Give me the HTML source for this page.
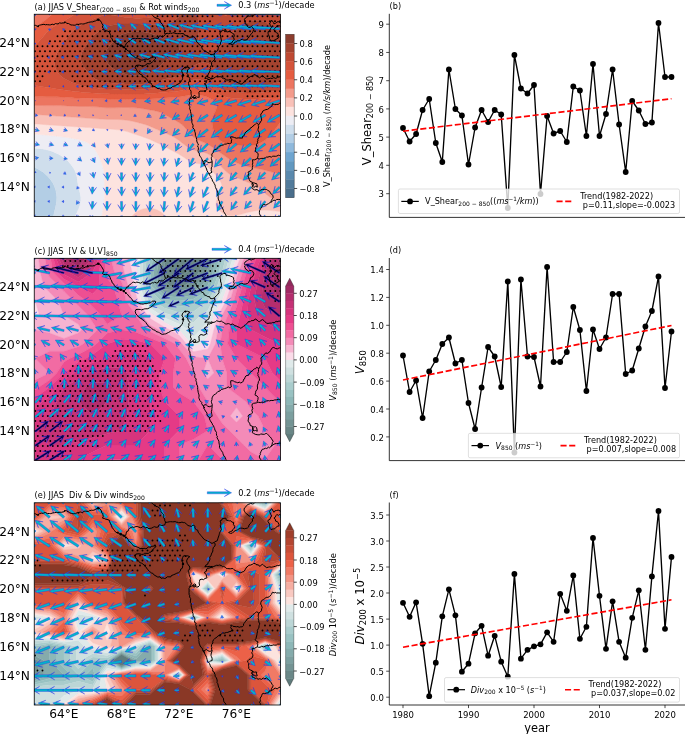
<!DOCTYPE html>
<html><head><meta charset="utf-8"><title>Figure</title>
<style>html,body{margin:0;padding:0;background:#fff}svg{display:block}</style></head>
<body>
<svg width="685" height="734" viewBox="0 0 685 734" font-family="'DejaVu Sans','Liberation Sans',sans-serif" fill="#000">
<rect width="685" height="734" fill="#fff"/>
<defs><clipPath id="clipa"><rect x="34.25" y="14.25" width="246.25" height="202.2"/></clipPath><clipPath id="clipc"><rect x="34.25" y="258.3" width="246.25" height="202.2"/></clipPath><clipPath id="clipe"><rect x="34.25" y="502.8" width="246.25" height="202.2"/></clipPath></defs>
<g clip-path="url(#clipa)">
<path d="M28.1 206.8L29.7 204.5L30.3 200.9L28.1 197.3L28.1 197.3L28.0 197.3L24.8 200.9L25.6 204.5Z" fill="#8fb9dc" stroke="#8fb9dc" stroke-width="0.4" fill-rule="evenodd"/>
<path d="M24.5 229.7L28.1 229.7L31.7 229.7L35.2 229.7L38.8 229.7L42.4 229.7L46.0 229.7L49.6 229.7L53.2 229.7L53.7 229.7L53.2 227.2L53.0 226.1L52.9 222.5L53.1 218.9L53.2 218.3L53.7 215.3L54.4 211.7L55.3 208.1L56.1 204.5L56.6 200.9L56.8 197.3L56.4 193.7L55.7 190.1L54.5 186.5L53.2 183.7L52.8 182.9L50.3 179.3L49.6 178.4L47.1 175.7L46.0 174.7L43.0 172.1L42.4 171.7L38.8 169.4L37.0 168.5L35.2 167.7L31.7 166.7L28.1 166.3L24.5 166.6L20.9 167.7L20.9 168.5L20.9 172.1L20.9 175.7L20.9 179.3L20.9 182.9L20.9 186.5L20.9 190.1L20.9 193.7L20.9 197.3L20.9 200.9L20.9 204.5L20.9 208.1L20.9 211.7L20.9 215.3L20.9 218.9L20.9 222.5L20.9 226.1L20.9 229.7ZM25.6 204.5L24.8 200.9L28.0 197.3L28.1 197.3L28.1 197.3L30.3 200.9L29.7 204.5L28.1 206.8Z" fill="#b3cee5" stroke="#b3cee5" stroke-width="0.4" fill-rule="evenodd"/>
<path d="M53.2 227.2L53.7 229.7L56.8 229.7L60.4 229.7L64.0 229.7L67.6 229.7L71.2 229.7L74.8 229.7L75.7 229.7L74.8 227.8L74.0 226.1L73.7 222.5L74.3 218.9L74.8 217.7L75.7 215.3L77.4 211.7L78.4 209.4L79.0 208.1L80.2 204.5L80.8 200.9L80.8 197.3L80.2 193.7L79.3 190.1L78.4 186.5L78.4 186.5L77.8 182.9L77.3 179.3L76.7 175.7L75.6 172.1L74.8 170.4L73.8 168.5L71.3 164.9L71.2 164.7L68.1 161.3L67.6 160.8L64.0 157.7L64.0 157.7L60.4 155.3L58.3 154.1L56.8 153.4L53.2 151.8L49.6 150.5L49.5 150.5L46.0 149.6L42.4 149.0L38.8 148.5L35.2 148.2L31.7 148.0L28.1 147.9L24.5 148.0L20.9 148.2L20.9 150.5L20.9 154.1L20.9 157.7L20.9 161.3L20.9 164.9L20.9 167.7L24.5 166.6L28.1 166.3L31.7 166.7L35.2 167.7L37.0 168.5L38.8 169.4L42.4 171.7L43.0 172.1L46.0 174.7L47.1 175.7L49.6 178.4L50.3 179.3L52.8 182.9L53.2 183.7L54.5 186.5L55.7 190.1L56.4 193.7L56.8 197.3L56.6 200.9L56.1 204.5L55.3 208.1L54.4 211.7L53.7 215.3L53.2 218.3L53.1 218.9L52.9 222.5L53.0 226.1Z" fill="#cfdeec" stroke="#cfdeec" stroke-width="0.4" fill-rule="evenodd"/>
<path d="M74.8 227.8L75.7 229.7L78.4 229.7L82.0 229.7L85.6 229.7L89.2 229.7L92.8 229.7L96.3 229.7L99.9 229.7L102.1 229.7L101.6 226.1L101.5 222.5L101.6 218.9L102.1 215.3L102.6 211.7L103.2 208.1L103.5 206.1L103.8 204.5L104.3 200.9L104.6 197.3L104.6 193.7L104.6 190.1L104.5 186.5L104.5 182.9L104.4 179.3L104.3 175.7L104.0 172.1L103.5 169.8L103.3 168.5L102.3 164.9L101.0 161.3L99.9 158.8L99.5 157.7L97.7 154.1L96.3 151.8L95.5 150.5L92.8 146.9L92.7 146.9L89.2 143.8L88.4 143.3L85.6 141.8L82.0 140.4L79.8 139.7L78.4 139.3L74.8 138.7L71.2 138.1L67.6 137.6L64.0 137.1L60.4 136.6L56.8 136.2L56.2 136.1L53.2 135.7L49.6 135.4L46.0 135.1L42.4 134.8L38.8 134.5L35.2 134.3L31.7 134.2L28.1 134.2L24.5 134.2L20.9 134.3L20.9 136.1L20.9 139.7L20.9 143.3L20.9 146.9L20.9 148.2L24.5 148.0L28.1 147.9L31.7 148.0L35.2 148.2L38.8 148.5L42.4 149.0L46.0 149.6L49.5 150.5L49.6 150.5L53.2 151.8L56.8 153.4L58.3 154.1L60.4 155.3L64.0 157.7L64.0 157.7L67.6 160.8L68.1 161.3L71.2 164.7L71.3 164.9L73.8 168.5L74.8 170.4L75.6 172.1L76.7 175.7L77.3 179.3L77.8 182.9L78.4 186.5L78.4 186.5L79.3 190.1L80.2 193.7L80.8 197.3L80.8 200.9L80.2 204.5L79.0 208.1L78.4 209.4L77.4 211.7L75.7 215.3L74.8 217.7L74.3 218.9L73.7 222.5L74.0 226.1Z" fill="#ededf4" stroke="#ededf4" stroke-width="0.4" fill-rule="evenodd"/>
<path d="M103.5 229.7L107.1 229.7L110.7 229.7L114.3 229.7L117.9 229.7L121.5 229.7L125.1 229.7L128.7 229.7L132.3 229.7L132.8 229.7L132.3 229.0L130.3 226.1L129.8 222.5L130.7 218.9L132.3 216.1L132.8 215.3L135.9 212.4L137.0 211.7L139.5 210.3L143.1 209.0L146.7 208.3L150.2 208.2L153.8 208.8L157.4 210.1L160.4 211.7L161.0 212.1L164.6 215.3L164.6 215.3L166.8 218.9L167.7 222.5L167.2 226.1L164.6 229.7L168.2 229.7L171.8 229.7L175.4 229.7L179.0 229.7L182.6 229.7L186.2 229.7L189.8 229.7L193.4 229.7L197.0 229.7L200.6 229.7L204.2 229.7L207.8 229.7L211.3 229.7L214.9 229.7L218.5 229.7L222.1 229.7L225.7 229.7L228.4 229.7L229.3 229.5L232.9 229.3L236.5 229.7L236.5 229.7L240.1 229.7L243.7 229.7L247.3 229.7L250.9 229.7L254.5 229.7L258.1 229.7L261.7 229.7L265.2 229.7L268.8 229.7L272.4 229.7L276.0 229.7L279.6 229.7L283.2 229.7L286.8 229.7L290.4 229.7L294.0 229.7L294.0 226.1L294.0 222.5L294.0 218.9L294.0 215.3L294.0 211.7L294.0 211.4L291.2 211.7L290.4 211.8L286.8 211.8L283.2 211.7L283.2 211.7L279.6 211.4L276.0 211.0L272.4 210.6L268.8 210.3L265.2 210.1L261.7 210.2L258.1 210.4L254.5 211.0L250.9 211.7L250.9 211.7L247.3 212.6L243.7 213.6L240.1 214.6L236.5 215.3L236.5 215.3L232.9 215.7L229.3 215.5L228.4 215.3L225.7 214.6L222.1 212.7L220.8 211.7L218.5 209.5L217.3 208.1L215.9 204.5L216.4 200.9L218.2 197.3L218.5 196.8L220.3 193.7L221.7 190.1L222.1 186.5L222.1 186.5L222.1 186.5L221.2 182.9L219.2 179.3L218.5 178.4L216.4 175.7L214.9 174.0L213.1 172.1L211.3 170.1L209.5 168.5L207.8 166.7L204.5 164.9L204.2 164.7L200.6 163.9L197.0 163.5L193.4 162.8L190.3 161.3L189.8 161.1L186.2 158.9L184.6 157.7L182.6 156.5L179.0 154.2L178.9 154.1L175.4 152.3L172.0 150.5L171.8 150.4L168.2 148.6L165.1 146.9L164.6 146.6L161.0 144.8L158.2 143.3L157.4 142.9L153.8 141.3L150.4 139.7L150.2 139.6L146.7 138.3L143.1 136.9L140.7 136.1L139.5 135.7L135.9 134.5L132.3 133.3L130.0 132.5L128.7 132.1L125.1 131.1L121.5 130.3L117.9 129.8L114.3 129.4L110.7 129.1L107.1 128.9L107.1 128.9L103.5 128.7L99.9 128.4L96.3 128.1L92.8 127.9L89.2 127.6L85.6 127.4L82.0 127.1L78.4 126.9L74.8 126.7L71.2 126.4L67.6 126.2L64.0 125.9L60.4 125.7L56.8 125.4L54.3 125.3L53.2 125.2L49.6 124.9L46.0 124.7L42.4 124.4L38.8 124.1L35.2 123.9L31.7 123.7L28.1 123.7L24.5 123.7L20.9 123.9L20.9 125.3L20.9 128.9L20.9 132.5L20.9 134.3L24.5 134.2L28.1 134.2L31.7 134.2L35.2 134.3L38.8 134.5L42.4 134.8L46.0 135.1L49.6 135.4L53.2 135.7L56.2 136.1L56.8 136.2L60.4 136.6L64.0 137.1L67.6 137.6L71.2 138.1L74.8 138.7L78.4 139.3L79.8 139.7L82.0 140.4L85.6 141.8L88.4 143.3L89.2 143.8L92.7 146.9L92.8 146.9L95.5 150.5L96.3 151.8L97.7 154.1L99.5 157.7L99.9 158.8L101.0 161.3L102.3 164.9L103.3 168.5L103.5 169.8L104.0 172.1L104.3 175.7L104.4 179.3L104.5 182.9L104.5 186.5L104.6 190.1L104.6 193.7L104.6 197.3L104.3 200.9L103.8 204.5L103.5 206.1L103.2 208.1L102.6 211.7L102.1 215.3L101.6 218.9L101.5 222.5L101.6 226.1L102.1 229.7Z" fill="#fde3df" stroke="#fde3df" stroke-width="0.4" fill-rule="evenodd"/>
<path d="M132.3 229.0L132.8 229.7L135.9 229.7L139.5 229.7L143.1 229.7L146.7 229.7L150.2 229.7L153.8 229.7L157.4 229.7L161.0 229.7L164.6 229.7L164.6 229.7L167.2 226.1L167.7 222.5L166.8 218.9L164.6 215.3L164.6 215.3L161.0 212.1L160.4 211.7L157.4 210.1L153.8 208.8L150.2 208.2L146.7 208.3L143.1 209.0L139.5 210.3L137.0 211.7L135.9 212.4L132.8 215.3L132.3 216.1L130.7 218.9L129.8 222.5L130.3 226.1ZM229.3 229.7L232.9 229.7L236.5 229.7L236.5 229.7L236.5 229.7L232.9 229.3L229.3 229.5L228.4 229.7ZM229.3 215.5L232.9 215.7L236.5 215.3L236.5 215.3L240.1 214.6L243.7 213.6L247.3 212.6L250.9 211.7L250.9 211.7L254.5 211.0L258.1 210.4L261.7 210.2L265.2 210.1L268.8 210.3L272.4 210.6L276.0 211.0L279.6 211.4L283.2 211.7L283.2 211.7L286.8 211.8L290.4 211.8L291.2 211.7L294.0 211.4L294.0 208.1L294.0 204.5L294.0 200.9L290.4 201.5L286.8 201.6L283.2 201.4L279.6 200.9L279.6 200.9L276.0 199.6L272.4 198.2L270.0 197.3L268.8 196.3L265.5 193.7L265.2 193.3L262.7 190.1L261.7 189.4L258.1 186.7L257.8 186.5L254.5 185.2L250.9 183.5L249.8 182.9L247.3 182.0L243.7 180.6L240.7 179.3L240.1 179.1L236.5 177.7L232.9 176.0L232.4 175.7L229.3 173.9L226.9 172.1L225.7 171.1L223.1 168.5L222.1 167.5L219.9 164.9L218.5 163.3L216.9 161.3L214.9 159.1L213.5 157.7L211.3 155.9L208.4 154.1L207.8 153.7L204.2 152.4L200.6 151.6L197.0 150.9L195.6 150.5L193.4 149.8L189.8 148.2L187.6 146.9L186.2 146.0L182.6 143.3L182.5 143.3L179.0 140.4L177.9 139.7L175.4 137.9L172.1 136.1L171.8 135.9L168.2 134.3L164.6 132.8L163.8 132.5L161.0 131.3L157.4 129.6L155.9 128.9L153.8 127.9L150.2 126.4L147.3 125.3L146.7 125.0L143.1 123.9L139.5 122.9L135.9 122.0L134.5 121.7L132.3 121.2L128.7 120.5L125.1 120.0L121.5 119.7L117.9 119.5L114.3 119.5L110.7 119.4L107.1 119.4L103.5 119.2L99.9 119.0L96.3 118.8L92.8 118.5L89.2 118.3L86.2 118.1L85.6 118.0L82.0 117.8L78.4 117.5L74.8 117.2L71.2 117.0L67.6 116.7L64.0 116.5L60.4 116.2L56.8 116.0L53.2 115.7L49.6 115.4L46.0 115.2L42.4 114.9L38.8 114.7L35.2 114.5L35.2 114.5L31.7 114.3L28.1 114.3L24.5 114.3L20.9 114.5L20.9 114.5L20.9 118.1L20.9 121.7L20.9 123.9L24.5 123.7L28.1 123.7L31.7 123.7L35.2 123.9L38.8 124.1L42.4 124.4L46.0 124.7L49.6 124.9L53.2 125.2L54.3 125.3L56.8 125.4L60.4 125.7L64.0 125.9L67.6 126.2L71.2 126.4L74.8 126.7L78.4 126.9L82.0 127.1L85.6 127.4L89.2 127.6L92.8 127.9L96.3 128.1L99.9 128.4L103.5 128.7L107.1 128.9L107.1 128.9L110.7 129.1L114.3 129.4L117.9 129.8L121.5 130.3L125.1 131.1L128.7 132.1L130.0 132.5L132.3 133.3L135.9 134.5L139.5 135.7L140.7 136.1L143.1 136.9L146.7 138.3L150.2 139.6L150.4 139.7L153.8 141.3L157.4 142.9L158.2 143.3L161.0 144.8L164.6 146.6L165.1 146.9L168.2 148.6L171.8 150.4L172.0 150.5L175.4 152.3L178.9 154.1L179.0 154.2L182.6 156.5L184.6 157.7L186.2 158.9L189.8 161.1L190.3 161.3L193.4 162.8L197.0 163.5L200.6 163.9L204.2 164.7L204.5 164.9L207.8 166.7L209.5 168.5L211.3 170.1L213.1 172.1L214.9 174.0L216.4 175.7L218.5 178.4L219.2 179.3L221.2 182.9L222.1 186.5L222.1 186.5L222.1 186.5L221.7 190.1L220.3 193.7L218.5 196.8L218.2 197.3L216.4 200.9L215.9 204.5L217.3 208.1L218.5 209.5L220.8 211.7L222.1 212.7L225.7 214.6L228.4 215.3Z" fill="#f9c1b8" stroke="#f9c1b8" stroke-width="0.4" fill-rule="evenodd"/>
<path d="M279.6 200.9L283.2 201.4L286.8 201.6L290.4 201.5L294.0 200.9L294.0 200.9L294.0 197.3L294.0 193.7L294.0 190.1L294.0 186.5L294.0 182.9L294.0 179.3L294.0 175.7L294.0 173.8L290.4 174.4L286.8 174.5L283.2 174.3L279.6 173.8L276.0 173.1L272.4 172.2L271.9 172.1L268.8 171.2L265.2 170.2L261.7 169.4L258.1 168.7L257.1 168.5L254.5 168.0L250.9 167.2L247.3 166.5L243.7 165.5L241.6 164.9L240.1 164.3L236.5 162.8L233.4 161.3L232.9 161.0L229.3 158.9L227.4 157.7L225.7 156.6L222.1 154.1L222.1 154.1L218.5 151.4L217.3 150.5L214.9 148.8L212.0 146.9L211.3 146.4L207.8 144.3L205.3 143.3L204.2 142.6L200.6 141.1L197.3 139.7L197.0 139.5L193.4 137.1L192.2 136.1L189.8 133.6L188.8 132.5L186.2 129.1L186.0 128.9L182.8 125.3L182.6 125.1L179.0 122.4L177.6 121.7L175.4 120.4L171.8 118.6L170.6 118.1L168.2 116.5L164.6 114.5L164.6 114.5L161.0 112.6L157.4 111.4L155.2 110.9L153.8 110.6L150.2 110.0L146.7 109.4L143.1 108.8L139.5 108.2L135.9 107.8L132.3 107.6L128.7 107.5L125.1 107.5L121.5 107.5L117.9 107.6L114.3 107.7L110.7 107.8L107.1 107.7L103.5 107.5L101.8 107.3L99.9 107.1L96.3 106.8L92.8 106.6L89.2 106.5L85.6 106.5L82.0 106.5L78.4 106.5L74.8 106.3L71.2 106.1L67.6 105.9L64.0 105.7L60.4 105.6L56.8 105.6L53.2 105.6L49.6 105.6L46.0 105.6L42.4 105.5L38.8 105.5L35.2 105.4L31.7 105.4L28.1 105.4L24.5 105.4L20.9 105.4L20.9 107.3L20.9 110.9L20.9 114.5L24.5 114.3L28.1 114.3L31.7 114.3L35.2 114.5L35.2 114.5L38.8 114.7L42.4 114.9L46.0 115.2L49.6 115.4L53.2 115.7L56.8 116.0L60.4 116.2L64.0 116.5L67.6 116.7L71.2 117.0L74.8 117.2L78.4 117.5L82.0 117.8L85.6 118.0L86.2 118.1L89.2 118.3L92.8 118.5L96.3 118.8L99.9 119.0L103.5 119.2L107.1 119.4L110.7 119.4L114.3 119.5L117.9 119.5L121.5 119.7L125.1 120.0L128.7 120.5L132.3 121.2L134.5 121.7L135.9 122.0L139.5 122.9L143.1 123.9L146.7 125.0L147.3 125.3L150.2 126.4L153.8 127.9L155.9 128.9L157.4 129.6L161.0 131.3L163.8 132.5L164.6 132.8L168.2 134.3L171.8 135.9L172.1 136.1L175.4 137.9L177.9 139.7L179.0 140.4L182.5 143.3L182.6 143.3L186.2 146.0L187.6 146.9L189.8 148.2L193.4 149.8L195.6 150.5L197.0 150.9L200.6 151.6L204.2 152.4L207.8 153.7L208.4 154.1L211.3 155.9L213.5 157.7L214.9 159.1L216.9 161.3L218.5 163.3L219.9 164.9L222.1 167.5L223.1 168.5L225.7 171.1L226.9 172.1L229.3 173.9L232.4 175.7L232.9 176.0L236.5 177.7L240.1 179.1L240.7 179.3L243.7 180.6L247.3 182.0L249.8 182.9L250.9 183.5L254.5 185.2L257.8 186.5L258.1 186.7L261.7 189.4L262.7 190.1L265.2 193.3L265.5 193.7L268.8 196.3L270.0 197.3L272.4 198.2L276.0 199.6L279.6 200.9ZM24.5 18.2L28.1 18.6L31.7 17.9L33.1 17.3L35.2 16.1L38.5 13.7L38.8 13.3L41.3 10.1L42.4 6.7L42.5 6.5L42.4 6.1L41.8 2.9L38.8 -0.4L38.5 -0.7L35.2 -0.7L31.7 -0.7L28.1 -0.7L24.5 -0.7L20.9 -0.7L20.9 2.9L20.9 6.5L20.9 10.1L20.9 13.7L20.9 16.1L22.7 17.3Z" fill="#f39b8b" stroke="#f39b8b" stroke-width="0.4" fill-rule="evenodd"/>
<path d="M272.4 172.2L276.0 173.1L279.6 173.8L283.2 174.3L286.8 174.5L290.4 174.4L294.0 173.8L294.0 172.1L294.0 168.5L294.0 164.9L294.0 161.3L294.0 157.7L294.0 154.1L294.0 150.5L294.0 146.9L294.0 143.3L294.0 139.7L294.0 136.1L294.0 132.5L294.0 128.9L294.0 125.3L294.0 122.9L293.0 121.7L290.4 118.1L290.4 118.1L286.8 117.0L284.5 118.1L283.2 118.7L280.7 121.7L279.6 122.9L278.2 125.3L276.0 128.1L275.5 128.9L272.7 132.5L272.4 132.7L269.5 136.1L268.8 136.7L265.6 139.7L265.2 139.9L261.7 142.3L259.7 143.3L258.1 144.0L254.5 145.2L250.9 145.8L247.3 145.9L243.7 145.7L240.1 145.4L236.5 145.1L232.9 144.8L229.3 144.3L225.7 143.4L225.4 143.3L222.1 141.7L219.4 139.7L218.5 138.8L216.3 136.1L214.9 133.5L214.4 132.5L213.2 128.9L212.5 125.3L212.1 121.7L212.5 118.1L213.6 114.5L214.9 112.0L215.5 110.9L216.9 107.3L216.4 103.7L214.9 102.1L213.1 100.1L211.3 99.1L207.8 97.3L205.8 96.5L204.2 96.0L200.6 95.2L197.0 94.7L193.4 94.7L189.8 95.0L186.2 95.7L182.6 96.3L181.5 96.5L179.0 96.9L175.4 97.4L171.8 97.6L168.2 97.8L164.6 98.0L161.0 98.3L157.4 98.5L153.8 98.7L150.2 98.9L146.7 99.0L143.1 99.0L139.5 99.0L135.9 99.0L132.3 99.0L128.7 99.0L125.1 99.0L121.5 99.0L117.9 99.0L114.3 99.0L110.7 99.0L107.1 99.0L103.5 98.8L99.9 98.6L96.3 98.4L92.8 98.3L89.2 98.2L85.6 98.2L82.0 98.2L78.4 98.1L74.8 97.9L71.2 97.6L67.6 97.3L64.0 97.1L60.4 96.9L56.8 96.8L53.2 96.7L49.6 96.7L46.0 96.7L42.4 96.6L38.8 96.6L35.2 96.5L32.1 96.5L31.7 96.5L28.1 96.5L24.5 96.5L23.5 96.5L20.9 96.5L20.9 100.1L20.9 103.7L20.9 105.4L24.5 105.4L28.1 105.4L31.7 105.4L35.2 105.4L38.8 105.5L42.4 105.5L46.0 105.6L49.6 105.6L53.2 105.6L56.8 105.6L60.4 105.6L64.0 105.7L67.6 105.9L71.2 106.1L74.8 106.3L78.4 106.5L82.0 106.5L85.6 106.5L89.2 106.5L92.8 106.6L96.3 106.8L99.9 107.1L101.8 107.3L103.5 107.5L107.1 107.7L110.7 107.8L114.3 107.7L117.9 107.6L121.5 107.5L125.1 107.5L128.7 107.5L132.3 107.6L135.9 107.8L139.5 108.2L143.1 108.8L146.7 109.4L150.2 110.0L153.8 110.6L155.2 110.9L157.4 111.4L161.0 112.6L164.6 114.5L164.6 114.5L168.2 116.5L170.6 118.1L171.8 118.6L175.4 120.4L177.6 121.7L179.0 122.4L182.6 125.1L182.8 125.3L186.0 128.9L186.2 129.1L188.8 132.5L189.8 133.6L192.2 136.1L193.4 137.1L197.0 139.5L197.3 139.7L200.6 141.1L204.2 142.6L205.3 143.3L207.8 144.3L211.3 146.4L212.0 146.9L214.9 148.8L217.3 150.5L218.5 151.4L222.1 154.1L222.1 154.1L225.7 156.6L227.4 157.7L229.3 158.9L232.9 161.0L233.4 161.3L236.5 162.8L240.1 164.3L241.6 164.9L243.7 165.5L247.3 166.5L250.9 167.2L254.5 168.0L257.1 168.5L258.1 168.7L261.7 169.4L265.2 170.2L268.8 171.2L271.9 172.1ZM24.5 28.7L28.1 29.2L31.7 28.4L32.4 28.1L35.2 27.0L38.8 24.8L39.3 24.5L42.4 22.3L44.3 20.9L46.0 19.5L48.8 17.3L49.6 16.5L53.0 13.7L53.2 13.4L56.5 10.1L56.8 9.4L58.3 6.5L57.2 2.9L56.8 2.6L53.2 -0.5L53.0 -0.7L49.6 -0.7L46.0 -0.7L42.4 -0.7L38.8 -0.7L38.5 -0.7L38.8 -0.4L41.8 2.9L42.4 6.1L42.5 6.5L42.4 6.7L41.3 10.1L38.8 13.3L38.5 13.7L35.2 16.1L33.1 17.3L31.7 17.9L28.1 18.6L24.5 18.2L22.7 17.3L20.9 16.1L20.9 17.3L20.9 20.9L20.9 24.5L20.9 27.0L23.3 28.1Z" fill="#ec7560" stroke="#ec7560" stroke-width="0.4" fill-rule="evenodd"/>
<path d="M225.7 143.4L229.3 144.3L232.9 144.8L236.5 145.1L240.1 145.4L243.7 145.7L247.3 145.9L250.9 145.8L254.5 145.2L258.1 144.0L259.7 143.3L261.7 142.3L265.2 139.9L265.6 139.7L268.8 136.7L269.5 136.1L272.4 132.7L272.7 132.5L275.5 128.9L276.0 128.1L278.2 125.3L279.6 122.9L280.7 121.7L283.2 118.7L284.5 118.1L286.8 117.0L290.4 118.1L290.4 118.1L293.0 121.7L294.0 122.9L294.0 121.7L294.0 118.1L294.0 114.5L294.0 110.9L294.0 107.3L294.0 103.7L294.0 100.1L294.0 97.7L290.4 97.6L286.8 97.6L283.2 97.6L279.6 97.7L276.0 97.9L272.4 98.1L268.8 98.3L265.2 98.6L261.7 98.8L258.1 99.1L254.5 99.3L250.9 99.3L247.3 99.3L243.7 99.1L240.1 98.8L236.5 98.5L232.9 98.2L229.3 97.7L225.7 96.9L224.5 96.5L222.1 95.9L218.5 94.6L214.9 93.2L214.2 92.9L211.3 91.8L207.8 90.4L204.2 89.3L204.1 89.3L200.6 88.3L197.0 87.7L193.4 87.7L189.8 88.3L186.2 89.3L186.1 89.3L182.6 90.2L179.0 90.9L175.4 91.4L171.8 91.8L168.2 92.0L164.6 92.2L161.0 92.6L157.9 92.9L157.4 92.9L153.8 93.3L150.2 93.6L146.7 93.8L143.1 93.9L139.5 94.0L135.9 94.0L132.3 94.0L128.7 94.0L125.1 93.9L121.5 93.9L117.9 93.9L114.3 93.9L110.7 93.9L107.1 93.8L103.5 93.7L99.9 93.4L96.3 93.2L92.8 92.9L91.6 92.9L89.2 92.7L85.6 92.5L82.0 92.2L78.4 91.8L74.8 91.4L71.2 90.9L67.6 90.4L64.0 89.9L60.4 89.4L59.4 89.3L56.8 88.9L53.2 88.3L49.6 87.8L46.0 87.2L42.4 86.7L38.8 86.1L35.2 85.7L35.2 85.7L31.7 85.2L28.1 85.0L24.5 85.2L20.9 85.7L20.9 85.7L20.9 89.3L20.9 92.9L20.9 96.5L20.9 96.5L23.5 96.5L24.5 96.5L28.1 96.5L31.7 96.5L32.1 96.5L35.2 96.5L38.8 96.6L42.4 96.6L46.0 96.7L49.6 96.7L53.2 96.7L56.8 96.8L60.4 96.9L64.0 97.1L67.6 97.3L71.2 97.6L74.8 97.9L78.4 98.1L82.0 98.2L85.6 98.2L89.2 98.2L92.8 98.3L96.3 98.4L99.9 98.6L103.5 98.8L107.1 99.0L110.7 99.0L114.3 99.0L117.9 99.0L121.5 99.0L125.1 99.0L128.7 99.0L132.3 99.0L135.9 99.0L139.5 99.0L143.1 99.0L146.7 99.0L150.2 98.9L153.8 98.7L157.4 98.5L161.0 98.3L164.6 98.0L168.2 97.8L171.8 97.6L175.4 97.4L179.0 96.9L181.5 96.5L182.6 96.3L186.2 95.7L189.8 95.0L193.4 94.7L197.0 94.7L200.6 95.2L204.2 96.0L205.8 96.5L207.8 97.3L211.3 99.1L213.1 100.1L214.9 102.1L216.4 103.7L216.9 107.3L215.5 110.9L214.9 112.0L213.6 114.5L212.5 118.1L212.1 121.7L212.5 125.3L213.2 128.9L214.4 132.5L214.9 133.5L216.3 136.1L218.5 138.8L219.4 139.7L222.1 141.7L225.4 143.3ZM24.5 48.4L28.1 49.1L31.7 48.0L34.2 46.1L35.2 45.3L38.0 42.5L38.8 41.6L41.1 38.9L42.4 37.4L44.2 35.3L46.0 33.3L47.5 31.7L49.6 29.8L51.7 28.1L53.2 27.0L56.8 24.8L57.3 24.5L60.4 22.8L64.0 20.9L64.0 20.9L67.6 18.8L70.2 17.3L71.2 16.6L74.8 14.3L75.9 13.7L78.4 11.6L80.3 10.1L82.0 7.2L82.4 6.5L82.0 5.3L81.1 2.9L78.4 1.0L75.9 -0.7L74.8 -0.7L71.2 -0.7L67.6 -0.7L64.0 -0.7L60.4 -0.7L56.8 -0.7L53.2 -0.7L53.0 -0.7L53.2 -0.5L56.8 2.6L57.2 2.9L58.3 6.5L56.8 9.4L56.5 10.1L53.2 13.4L53.0 13.7L49.6 16.5L48.8 17.3L46.0 19.5L44.3 20.9L42.4 22.3L39.3 24.5L38.8 24.8L35.2 27.0L32.4 28.1L31.7 28.4L28.1 29.2L24.5 28.7L23.3 28.1L20.9 27.0L20.9 28.1L20.9 31.7L20.9 35.3L20.9 38.9L20.9 42.5L20.9 45.3L21.8 46.1ZM132.3 10.6L135.9 11.0L139.5 10.9L143.1 10.5L144.9 10.1L146.7 9.1L149.9 6.5L147.3 2.9L146.7 2.7L143.1 2.0L139.5 1.6L135.9 1.6L132.3 1.9L128.7 2.5L127.1 2.9L125.1 5.2L124.2 6.5L125.1 7.2L128.7 9.6L129.6 10.1Z" fill="#e55c40" stroke="#e55c40" stroke-width="0.4" fill-rule="evenodd"/>
<path d="M225.7 96.9L229.3 97.7L232.9 98.2L236.5 98.5L240.1 98.8L243.7 99.1L247.3 99.3L250.9 99.3L254.5 99.3L258.1 99.1L261.7 98.8L265.2 98.6L268.8 98.3L272.4 98.1L276.0 97.9L279.6 97.7L283.2 97.6L286.8 97.6L290.4 97.6L294.0 97.7L294.0 96.5L294.0 92.9L294.0 90.9L290.4 90.7L286.8 90.6L283.2 90.7L279.6 90.9L276.0 91.1L272.4 91.4L268.8 91.8L265.2 92.1L261.7 92.4L258.1 92.7L254.6 92.9L254.5 92.9L250.9 93.0L247.3 92.9L247.2 92.9L243.7 92.7L240.1 92.4L236.5 92.0L232.9 91.6L229.3 91.1L225.7 90.3L222.1 89.4L221.9 89.3L218.5 88.0L214.9 86.5L213.0 85.7L211.3 84.7L207.8 82.9L205.9 82.1L204.2 81.1L200.6 79.8L197.0 79.4L193.4 79.7L189.8 80.8L186.8 82.1L186.2 82.3L182.6 83.7L179.0 84.9L175.7 85.7L175.4 85.7L171.8 86.2L168.2 86.5L164.6 86.8L161.0 87.3L157.4 87.8L153.8 88.3L150.2 88.8L146.7 89.1L144.9 89.3L143.1 89.4L139.5 89.5L135.9 89.6L132.3 89.6L128.7 89.5L125.1 89.4L121.5 89.3L119.9 89.3L117.9 89.2L114.3 89.2L110.7 89.1L107.1 89.0L103.5 88.8L99.9 88.4L96.3 88.0L92.8 87.5L89.2 87.0L85.6 86.4L82.0 85.7L81.8 85.7L78.4 84.6L74.8 83.5L71.2 82.2L70.8 82.1L67.6 80.3L64.1 78.5L64.0 78.4L60.4 75.4L59.8 74.9L56.9 71.3L56.8 71.0L55.2 67.7L54.5 64.1L54.6 60.5L55.4 56.9L56.8 53.4L56.9 53.3L58.9 49.7L60.4 47.5L61.4 46.1L64.0 42.5L64.0 42.5L66.3 38.9L67.6 37.1L68.8 35.3L71.2 32.4L71.8 31.7L74.8 29.0L75.9 28.1L78.4 26.5L82.0 24.5L82.0 24.5L85.6 22.8L89.2 21.2L89.9 20.9L92.8 19.6L96.3 18.1L98.4 17.3L99.9 16.6L103.5 15.5L107.1 15.0L110.7 15.1L114.3 15.6L117.9 16.3L121.5 16.8L124.5 17.3L125.1 17.4L128.7 17.7L132.3 18.0L135.9 18.2L139.5 18.2L143.1 18.1L146.7 17.9L150.3 17.5L152.3 17.3L153.8 17.0L157.4 16.2L161.0 14.7L162.7 13.7L164.6 11.7L165.8 10.1L166.8 6.5L166.2 2.9L164.6 1.0L162.7 -0.7L161.0 -0.7L157.4 -0.7L153.8 -0.7L150.2 -0.7L146.7 -0.7L143.1 -0.7L139.5 -0.7L135.9 -0.7L132.3 -0.7L128.7 -0.7L125.1 -0.7L121.5 -0.7L117.9 -0.7L114.3 -0.7L110.7 -0.7L107.1 -0.7L103.5 -0.7L99.9 -0.7L96.3 -0.7L92.8 -0.7L89.2 -0.7L85.6 -0.7L82.0 -0.7L78.4 -0.7L75.9 -0.7L78.4 1.0L81.1 2.9L82.0 5.3L82.4 6.5L82.0 7.2L80.3 10.1L78.4 11.6L75.9 13.7L74.8 14.3L71.2 16.6L70.2 17.3L67.6 18.8L64.0 20.9L64.0 20.9L60.4 22.8L57.3 24.5L56.8 24.8L53.2 27.0L51.7 28.1L49.6 29.8L47.5 31.7L46.0 33.3L44.2 35.3L42.4 37.4L41.1 38.9L38.8 41.6L38.0 42.5L35.2 45.3L34.2 46.1L31.7 48.0L28.1 49.1L24.5 48.4L21.8 46.1L20.9 45.3L20.9 46.1L20.9 49.7L20.9 53.3L20.9 56.9L20.9 60.5L20.9 64.1L20.9 67.7L20.9 71.3L20.9 74.9L20.9 78.5L20.9 82.1L20.9 85.7L20.9 85.7L20.9 85.7L24.5 85.2L28.1 85.0L31.7 85.2L35.2 85.7L35.2 85.7L38.8 86.1L42.4 86.7L46.0 87.2L49.6 87.8L53.2 88.3L56.8 88.9L59.4 89.3L60.4 89.4L64.0 89.9L67.6 90.4L71.2 90.9L74.8 91.4L78.4 91.8L82.0 92.2L85.6 92.5L89.2 92.7L91.6 92.9L92.8 92.9L96.3 93.2L99.9 93.4L103.5 93.7L107.1 93.8L110.7 93.9L114.3 93.9L117.9 93.9L121.5 93.9L125.1 93.9L128.7 94.0L132.3 94.0L135.9 94.0L139.5 94.0L143.1 93.9L146.7 93.8L150.2 93.6L153.8 93.3L157.4 92.9L157.9 92.9L161.0 92.6L164.6 92.2L168.2 92.0L171.8 91.8L175.4 91.4L179.0 90.9L182.6 90.2L186.1 89.3L186.2 89.3L189.8 88.3L193.4 87.7L197.0 87.7L200.6 88.3L204.1 89.3L204.2 89.3L207.8 90.4L211.3 91.8L214.2 92.9L214.9 93.2L218.5 94.6L222.1 95.9L224.5 96.5ZM129.6 10.1L128.7 9.6L125.1 7.2L124.2 6.5L125.1 5.2L127.1 2.9L128.7 2.5L132.3 1.9L135.9 1.6L139.5 1.6L143.1 2.0L146.7 2.7L147.3 2.9L149.9 6.5L146.7 9.1L144.9 10.1L143.1 10.5L139.5 10.9L135.9 11.0L132.3 10.6ZM222.1 13.7L225.7 15.7L229.3 14.1L229.8 13.7L232.9 10.6L233.3 10.1L234.6 6.5L233.7 2.9L232.9 2.0L229.8 -0.7L229.3 -0.7L225.7 -0.7L222.1 -0.7L222.1 -0.7L221.7 2.9L221.5 6.5L221.6 10.1L222.1 13.7Z" fill="#d4533a" stroke="#d4533a" stroke-width="0.4" fill-rule="evenodd"/>
<path d="M247.3 92.9L250.9 93.0L254.5 92.9L254.6 92.9L258.1 92.7L261.7 92.4L265.2 92.1L268.8 91.8L272.4 91.4L276.0 91.1L279.6 90.9L283.2 90.7L286.8 90.6L290.4 90.7L294.0 90.9L294.0 89.3L294.0 85.7L294.0 82.2L293.5 82.1L290.4 81.0L286.8 80.7L283.2 81.2L280.2 82.1L279.6 82.2L276.0 83.0L272.4 83.9L268.8 84.8L265.3 85.7L265.2 85.7L261.7 86.2L258.1 86.6L254.5 86.9L250.9 87.0L247.3 86.9L243.7 86.6L240.1 86.2L236.5 85.7L236.5 85.7L232.9 84.7L229.3 83.5L225.9 82.1L225.7 81.9L222.1 79.0L221.5 78.5L219.0 74.9L218.5 73.9L217.0 71.3L214.9 68.3L214.3 67.7L211.3 65.1L209.1 64.1L207.8 63.3L204.2 62.5L200.6 62.9L197.4 64.1L197.0 64.2L193.4 66.0L191.1 67.7L189.8 68.5L186.2 71.1L186.0 71.3L182.6 73.6L180.5 74.9L179.0 75.6L175.4 77.0L171.8 77.9L169.1 78.5L168.2 78.6L164.6 79.3L161.0 80.2L157.4 81.3L154.9 82.1L153.8 82.3L150.2 83.0L146.7 83.6L143.1 84.0L139.5 84.3L135.9 84.4L132.3 84.3L128.7 84.1L125.1 83.9L121.5 83.6L117.9 83.4L114.3 83.2L110.7 82.9L107.1 82.5L104.0 82.1L103.5 82.0L99.9 80.8L96.3 79.4L94.3 78.5L92.8 77.3L89.9 74.9L89.2 74.0L87.0 71.3L85.6 69.4L84.4 67.7L82.2 64.1L82.0 63.4L81.0 60.5L80.7 56.9L81.6 53.3L82.0 52.4L83.2 49.7L85.4 46.1L85.6 45.9L87.9 42.5L89.2 40.8L90.7 38.9L92.8 36.6L94.0 35.3L96.3 33.3L98.3 31.7L99.9 30.6L103.5 28.5L104.2 28.1L107.1 26.8L110.7 25.6L114.3 24.7L116.0 24.5L117.9 24.2L121.5 24.0L125.1 23.9L128.7 23.9L132.3 24.0L135.9 24.1L139.5 24.1L143.1 24.2L146.7 24.2L150.2 24.3L153.0 24.5L153.8 24.5L157.4 24.8L161.0 24.9L164.6 24.6L165.2 24.5L168.2 23.7L171.8 22.1L173.9 20.9L175.4 19.7L178.4 17.3L179.0 16.6L182.6 14.0L183.5 13.7L186.2 12.5L189.8 12.5L193.4 13.7L193.4 13.7L197.0 16.3L197.5 17.3L198.5 20.9L198.9 24.5L199.0 28.1L198.9 31.7L198.7 35.3L198.6 38.9L199.0 42.5L200.3 46.1L200.6 46.6L203.6 49.7L204.2 50.2L207.8 51.4L211.3 51.1L214.9 49.9L215.3 49.7L218.5 48.0L220.8 46.1L222.1 45.0L224.6 42.5L225.7 41.3L227.9 38.9L229.3 37.3L231.2 35.3L232.9 33.5L234.8 31.7L236.5 30.1L239.0 28.1L240.1 27.2L243.7 24.8L244.2 24.5L247.3 22.7L250.9 21.1L252.0 20.9L254.5 20.3L258.1 20.3L261.1 20.9L261.7 21.0L265.2 22.3L268.8 24.2L269.3 24.5L272.4 26.6L274.5 28.1L276.0 29.3L279.3 31.7L279.6 31.9L283.2 34.0L286.8 34.8L290.4 34.3L294.0 31.9L294.0 31.7L294.0 28.1L294.0 24.5L294.0 20.9L294.0 17.3L294.0 13.7L294.0 10.1L294.0 6.5L294.0 2.9L294.0 -0.7L290.4 -0.7L286.8 -0.7L283.2 -0.7L279.6 -0.7L276.0 -0.7L272.4 -0.7L268.8 -0.7L265.2 -0.7L261.7 -0.7L258.1 -0.7L254.5 -0.7L250.9 -0.7L247.3 -0.7L243.7 -0.7L240.1 -0.7L236.5 -0.7L232.9 -0.7L229.8 -0.7L232.9 2.0L233.7 2.9L234.6 6.5L233.3 10.1L232.9 10.6L229.8 13.7L229.3 14.1L225.7 15.7L222.1 13.7L222.1 13.7L221.6 10.1L221.5 6.5L221.7 2.9L222.1 -0.7L218.5 -0.7L214.9 -0.7L211.3 -0.7L207.8 -0.7L204.2 -0.7L200.6 -0.7L197.0 -0.7L193.4 -0.7L193.4 -0.7L189.8 0.2L186.2 0.3L183.5 -0.7L182.6 -0.7L179.0 -0.7L175.4 -0.7L171.8 -0.7L168.2 -0.7L164.6 -0.7L162.7 -0.7L164.6 1.0L166.2 2.9L166.8 6.5L165.8 10.1L164.6 11.7L162.7 13.7L161.0 14.7L157.4 16.2L153.8 17.0L152.3 17.3L150.2 17.5L146.7 17.9L143.1 18.1L139.5 18.2L135.9 18.2L132.3 18.0L128.7 17.7L125.1 17.4L124.5 17.3L121.5 16.8L117.9 16.3L114.3 15.6L110.7 15.1L107.1 15.0L103.5 15.5L99.9 16.6L98.4 17.3L96.3 18.1L92.8 19.6L89.9 20.9L89.2 21.2L85.6 22.8L82.0 24.5L82.0 24.5L78.4 26.5L75.9 28.1L74.8 29.0L71.8 31.7L71.2 32.4L68.8 35.3L67.6 37.1L66.3 38.9L64.0 42.5L64.0 42.5L61.4 46.1L60.4 47.5L58.9 49.7L56.9 53.3L56.8 53.4L55.4 56.9L54.6 60.5L54.5 64.1L55.2 67.7L56.8 71.0L56.9 71.3L59.8 74.9L60.4 75.4L64.0 78.4L64.1 78.5L67.6 80.3L70.8 82.1L71.2 82.2L74.8 83.5L78.4 84.6L81.8 85.7L82.0 85.7L85.6 86.4L89.2 87.0L92.8 87.5L96.3 88.0L99.9 88.4L103.5 88.8L107.1 89.0L110.7 89.1L114.3 89.2L117.9 89.2L119.9 89.3L121.5 89.3L125.1 89.4L128.7 89.5L132.3 89.6L135.9 89.6L139.5 89.5L143.1 89.4L144.9 89.3L146.7 89.1L150.2 88.8L153.8 88.3L157.4 87.8L161.0 87.3L164.6 86.8L168.2 86.5L171.8 86.2L175.4 85.7L175.7 85.7L179.0 84.9L182.6 83.7L186.2 82.3L186.8 82.1L189.8 80.8L193.4 79.7L197.0 79.4L200.6 79.8L204.2 81.1L205.9 82.1L207.8 82.9L211.3 84.7L213.0 85.7L214.9 86.5L218.5 88.0L221.9 89.3L222.1 89.4L225.7 90.3L229.3 91.1L232.9 91.6L236.5 92.0L240.1 92.4L243.7 92.7L247.2 92.9Z" fill="#bf4a33" stroke="#bf4a33" stroke-width="0.4" fill-rule="evenodd"/>
<path d="M236.5 85.7L240.1 86.2L243.7 86.6L247.3 86.9L250.9 87.0L254.5 86.9L258.1 86.6L261.7 86.2L265.2 85.7L265.3 85.7L268.8 84.8L272.4 83.9L276.0 83.0L279.6 82.2L280.2 82.1L283.2 81.2L286.8 80.7L290.4 81.0L293.5 82.1L294.0 82.2L294.0 82.1L294.0 78.5L294.0 74.9L294.0 71.3L294.0 67.7L294.0 64.1L294.0 60.5L294.0 56.9L294.0 53.3L294.0 49.7L294.0 46.1L294.0 42.5L294.0 38.9L294.0 35.3L294.0 31.9L290.4 34.3L286.8 34.8L283.2 34.0L279.6 31.9L279.3 31.7L276.0 29.3L274.5 28.1L272.4 26.6L269.3 24.5L268.8 24.2L265.2 22.3L261.7 21.0L261.1 20.9L258.1 20.3L254.5 20.3L252.0 20.9L250.9 21.1L247.3 22.7L244.2 24.5L243.7 24.8L240.1 27.2L239.0 28.1L236.5 30.1L234.8 31.7L232.9 33.5L231.2 35.3L229.3 37.3L227.9 38.9L225.7 41.3L224.6 42.5L222.1 45.0L220.8 46.1L218.5 48.0L215.3 49.7L214.9 49.9L211.3 51.1L207.8 51.4L204.2 50.2L203.6 49.7L200.6 46.6L200.3 46.1L199.0 42.5L198.6 38.9L198.7 35.3L198.9 31.7L199.0 28.1L198.9 24.5L198.5 20.9L197.5 17.3L197.0 16.3L193.4 13.7L193.4 13.7L189.8 12.5L186.2 12.5L183.5 13.7L182.6 14.0L179.0 16.6L178.4 17.3L175.4 19.7L173.9 20.9L171.8 22.1L168.2 23.7L165.2 24.5L164.6 24.6L161.0 24.9L157.4 24.8L153.8 24.5L153.0 24.5L150.2 24.3L146.7 24.2L143.1 24.2L139.5 24.1L135.9 24.1L132.3 24.0L128.7 23.9L125.1 23.9L121.5 24.0L117.9 24.2L116.0 24.5L114.3 24.7L110.7 25.6L107.1 26.8L104.2 28.1L103.5 28.5L99.9 30.6L98.3 31.7L96.3 33.3L94.0 35.3L92.8 36.6L90.7 38.9L89.2 40.8L87.9 42.5L85.6 45.9L85.4 46.1L83.2 49.7L82.0 52.4L81.6 53.3L80.7 56.9L81.0 60.5L82.0 63.4L82.2 64.1L84.4 67.7L85.6 69.4L87.0 71.3L89.2 74.0L89.9 74.9L92.8 77.3L94.3 78.5L96.3 79.4L99.9 80.8L103.5 82.0L104.0 82.1L107.1 82.5L110.7 82.9L114.3 83.2L117.9 83.4L121.5 83.6L125.1 83.9L128.7 84.1L132.3 84.3L135.9 84.4L139.5 84.3L143.1 84.0L146.7 83.6L150.2 83.0L153.8 82.3L154.9 82.1L157.4 81.3L161.0 80.2L164.6 79.3L168.2 78.6L169.1 78.5L171.8 77.9L175.4 77.0L179.0 75.6L180.5 74.9L182.6 73.6L186.0 71.3L186.2 71.1L189.8 68.5L191.1 67.7L193.4 66.0L197.0 64.2L197.4 64.1L200.6 62.9L204.2 62.5L207.8 63.3L209.1 64.1L211.3 65.1L214.3 67.7L214.9 68.3L217.0 71.3L218.5 73.9L219.0 74.9L221.5 78.5L222.1 79.0L225.7 81.9L225.9 82.1L229.3 83.5L232.9 84.7L236.5 85.7ZM128.0 74.9L125.1 74.1L121.5 73.0L117.9 71.5L117.4 71.3L114.3 69.5L111.8 67.7L110.7 66.7L108.2 64.1L107.1 62.6L105.8 60.5L104.7 56.9L105.0 53.3L106.6 49.7L107.1 48.9L109.2 46.1L110.7 44.3L112.4 42.5L114.3 40.5L116.0 38.9L117.9 37.2L120.5 35.3L121.5 34.8L125.1 33.4L128.7 32.5L132.3 31.9L135.9 31.7L139.5 31.7L143.1 31.9L146.7 32.4L150.2 33.2L153.8 34.4L156.0 35.3L157.4 36.1L161.0 38.0L163.5 38.9L164.6 39.5L168.2 40.3L171.8 40.2L175.4 40.5L179.0 42.5L179.0 42.5L179.9 46.1L179.6 49.7L179.0 51.5L177.9 53.3L175.4 55.6L172.8 56.9L171.8 57.3L168.2 58.7L165.8 60.5L164.6 61.2L161.8 64.1L161.0 64.7L158.0 67.7L157.4 68.1L153.8 70.8L153.2 71.3L150.2 72.8L146.7 74.3L144.6 74.9L143.1 75.2L139.5 75.6L135.9 75.8L132.3 75.5L128.7 75.0ZM186.2 0.3L189.8 0.2L193.4 -0.7L189.8 -0.7L186.2 -0.7L183.5 -0.7Z" fill="#a4432f" stroke="#a4432f" stroke-width="0.4" fill-rule="evenodd"/>
<path d="M128.7 75.0L132.3 75.5L135.9 75.8L139.5 75.6L143.1 75.2L144.6 74.9L146.7 74.3L150.2 72.8L153.2 71.3L153.8 70.8L157.4 68.1L158.0 67.7L161.0 64.7L161.8 64.1L164.6 61.2L165.8 60.5L168.2 58.7L171.8 57.3L172.8 56.9L175.4 55.6L177.9 53.3L179.0 51.5L179.6 49.7L179.9 46.1L179.0 42.5L179.0 42.5L175.4 40.5L171.8 40.2L168.2 40.3L164.6 39.5L163.5 38.9L161.0 38.0L157.4 36.1L156.0 35.3L153.8 34.4L150.2 33.2L146.7 32.4L143.1 31.9L139.5 31.7L135.9 31.7L132.3 31.9L128.7 32.5L125.1 33.4L121.5 34.8L120.5 35.3L117.9 37.2L116.0 38.9L114.3 40.5L112.4 42.5L110.7 44.3L109.2 46.1L107.1 48.9L106.6 49.7L105.0 53.3L104.7 56.9L105.8 60.5L107.1 62.6L108.2 64.1L110.7 66.7L111.8 67.7L114.3 69.5L117.4 71.3L117.9 71.5L121.5 73.0L125.1 74.1L128.0 74.9Z" fill="#8c3d2e" stroke="#8c3d2e" stroke-width="0.4" fill-rule="evenodd"/>
</g>
<g clip-path="url(#clipc)">
<path d="M179.0 276.4L187.6 272.1L179.0 263.5L174.7 272.1Z" fill="#5f7b7b" stroke="#5f7b7b" stroke-width="0.4" fill-rule="evenodd"/>
<path d="M179.0 287.5L183.3 286.5L193.4 279.8L199.1 272.1L204.9 257.7L204.9 243.3L193.4 243.3L179.0 243.3L167.5 243.3L167.5 257.7L164.6 263.5L163.6 272.1L164.6 280.8L170.4 286.5ZM174.7 272.1L179.0 263.5L187.6 272.1L179.0 276.4Z" fill="#6a8787" stroke="#6a8787" stroke-width="0.4" fill-rule="evenodd"/>
<path d="M164.6 289.2L179.0 290.9L193.4 287.7L195.1 286.5L206.3 272.1L207.8 269.2L210.1 257.7L210.1 243.3L207.8 243.3L204.9 243.3L204.9 257.7L199.1 272.1L193.4 279.8L183.3 286.5L179.0 287.5L170.4 286.5L164.6 280.8L163.6 272.1L164.6 263.5L167.5 257.7L167.5 243.3L164.6 243.3L162.2 243.3L162.2 257.7L160.3 272.1L162.0 286.5Z" fill="#739393" stroke="#739393" stroke-width="0.4" fill-rule="evenodd"/>
<path d="M164.6 292.6L179.0 294.2L193.4 291.5L200.9 286.5L207.8 277.9L210.1 272.1L213.1 257.7L213.1 243.3L210.1 243.3L210.1 257.7L207.8 269.2L206.3 272.1L195.1 286.5L193.4 287.7L179.0 290.9L164.6 289.2L162.0 286.5L160.3 272.1L162.2 257.7L162.2 243.3L159.2 243.3L159.2 257.7L156.9 272.1L158.6 286.5Z" fill="#7c9f9f" stroke="#7c9f9f" stroke-width="0.4" fill-rule="evenodd"/>
<path d="M164.6 295.9L179.0 297.6L193.4 295.2L206.6 286.5L207.8 285.1L213.1 272.1L216.1 257.7L216.1 243.3L213.1 243.3L213.1 257.7L210.1 272.1L207.8 277.9L200.9 286.5L193.4 291.5L179.0 294.2L164.6 292.6L158.6 286.5L156.9 272.1L159.2 257.7L159.2 243.3L156.2 243.3L156.2 257.7L153.6 272.1L155.3 286.5Z" fill="#85abab" stroke="#85abab" stroke-width="0.4" fill-rule="evenodd"/>
<path d="M179.0 300.9L179.0 300.9L193.4 299.0L207.8 290.6L210.4 286.5L216.1 272.1L219.1 257.7L219.1 243.3L216.1 243.3L216.1 257.7L213.1 272.1L207.8 285.1L206.6 286.5L193.4 295.2L179.0 297.6L164.6 295.9L155.3 286.5L153.6 272.1L156.2 257.7L156.2 243.3L153.2 243.3L153.2 257.7L150.2 272.1L150.2 272.1L150.2 272.1L151.9 286.5L164.6 299.2L179.0 300.9Z" fill="#8db7b7" stroke="#8db7b7" stroke-width="0.4" fill-rule="evenodd"/>
<path d="M164.6 303.3L179.0 306.7L193.4 304.5L198.2 300.9L207.8 295.8L213.8 286.5L219.1 272.1L222.1 257.7L222.1 257.7L222.1 243.3L222.1 243.3L219.1 243.3L219.1 257.7L216.1 272.1L210.4 286.5L207.8 290.6L193.4 299.0L179.0 300.9L179.0 300.9L179.0 300.9L164.6 299.2L151.9 286.5L150.2 272.1L150.2 272.1L150.2 272.1L153.2 257.7L153.2 243.3L150.2 243.3L150.2 243.3L150.2 257.7L147.6 272.1L148.8 286.5L150.2 290.1L161.0 300.9Z" fill="#99c2c2" stroke="#99c2c2" stroke-width="0.4" fill-rule="evenodd"/>
<path d="M164.6 308.1L179.0 312.4L193.4 311.7L207.8 300.9L207.8 300.9L217.1 286.5L222.1 272.1L222.1 272.1L225.7 257.7L225.7 243.3L222.1 243.3L222.1 257.7L222.1 257.7L219.1 272.1L213.8 286.5L207.8 295.8L198.2 300.9L193.4 304.5L179.0 306.7L164.6 303.3L161.0 300.9L150.2 290.1L148.8 286.5L147.6 272.1L150.2 257.7L150.2 243.3L146.7 243.3L146.7 257.7L145.0 272.1L145.9 286.5L150.2 297.3L153.8 300.9Z" fill="#a9cccc" stroke="#a9cccc" stroke-width="0.4" fill-rule="evenodd"/>
<path d="M179.0 318.2L193.4 322.5L200.6 315.3L207.8 310.5L212.5 300.9L220.5 286.5L222.1 281.7L225.3 272.1L229.3 257.7L229.3 243.3L225.7 243.3L225.7 257.7L222.1 272.1L222.1 272.1L217.1 286.5L207.8 300.9L207.8 300.9L193.4 311.7L179.0 312.4L164.6 308.1L153.8 300.9L150.2 297.3L145.9 286.5L145.0 272.1L146.7 257.7L146.7 243.3L143.1 243.3L143.1 257.7L142.4 272.1L143.1 286.5L148.5 300.9L150.2 303.3L164.6 312.9L171.8 315.3Z" fill="#bcd6d6" stroke="#bcd6d6" stroke-width="0.4" fill-rule="evenodd"/>
<path d="M193.4 336.9L200.6 329.7L207.8 322.5L209.8 315.3L217.3 300.9L222.1 291.3L223.8 286.5L228.5 272.1L232.9 257.7L232.9 243.3L229.3 243.3L229.3 257.7L225.3 272.1L222.1 281.7L220.5 286.5L212.5 300.9L207.8 310.5L200.6 315.3L193.4 322.5L179.0 318.2L171.8 315.3L164.6 312.9L150.2 303.3L148.5 300.9L143.1 286.5L142.4 272.1L143.1 257.7L143.1 243.3L139.5 243.3L139.5 257.7L139.8 272.1L140.2 286.5L144.9 300.9L150.2 308.1L161.0 315.3L164.6 317.7L179.0 324.0L188.6 329.7Z" fill="#cfe0e0" stroke="#cfe0e0" stroke-width="0.4" fill-rule="evenodd"/>
<path d="M193.4 346.7L200.6 344.1L207.8 336.9L209.8 329.7L213.9 315.3L222.1 300.9L222.1 300.9L227.3 286.5L231.7 272.1L236.5 257.7L236.5 257.7L236.5 243.3L236.5 243.3L232.9 243.3L232.9 257.7L228.5 272.1L223.8 286.5L222.1 291.3L217.3 300.9L209.8 315.3L207.8 322.5L200.6 329.7L193.4 336.9L188.6 329.7L179.0 324.0L164.6 317.7L161.0 315.3L150.2 308.1L144.9 300.9L140.2 286.5L139.8 272.1L139.5 257.7L139.5 243.3L135.9 243.3L135.9 243.3L135.9 257.7L135.9 257.7L137.2 272.1L137.3 286.5L141.3 300.9L150.2 312.9L153.8 315.3L164.6 322.5L179.0 329.7L179.0 329.7L191.1 344.1Z" fill="#e0eaea" stroke="#e0eaea" stroke-width="0.4" fill-rule="evenodd"/>
<path d="M193.4 351.7L207.8 348.9L210.3 344.1L213.9 329.7L218.0 315.3L222.1 308.1L226.0 300.9L230.8 286.5L234.9 272.1L236.5 267.3L240.4 257.7L240.4 243.3L236.5 243.3L236.5 257.7L236.5 257.7L231.7 272.1L227.3 286.5L222.1 300.9L222.1 300.9L213.9 315.3L209.8 329.7L207.8 336.9L200.6 344.1L193.4 346.7L191.1 344.1L179.0 329.7L179.0 329.7L164.6 322.5L153.8 315.3L150.2 312.9L141.3 300.9L137.3 286.5L137.2 272.1L135.9 257.7L135.9 257.7L135.9 243.3L128.7 243.3L128.7 257.7L132.0 272.1L133.3 286.5L135.9 293.7L137.7 300.9L147.4 315.3L150.2 318.6L164.6 327.3L169.4 329.7L179.0 335.1L186.6 344.1ZM35.2 317.7L39.4 315.3L35.2 300.9L35.2 300.9L20.9 300.9L20.9 300.9L20.9 315.3L20.9 317.7Z" fill="#fbdce9" stroke="#fbdce9" stroke-width="0.4" fill-rule="evenodd"/>
<path d="M236.5 422.3L242.7 416.1L236.5 407.5L230.3 416.1ZM207.8 379.1L213.9 372.9L207.8 358.5L215.4 344.1L218.0 329.7L222.1 315.3L222.1 315.3L230.0 300.9L234.2 286.5L236.5 278.3L238.6 272.1L244.3 257.7L244.3 243.3L240.4 243.3L240.4 257.7L236.5 267.3L234.9 272.1L230.8 286.5L226.0 300.9L222.1 308.1L218.0 315.3L213.9 329.7L210.3 344.1L207.8 348.9L193.4 351.7L186.6 344.1L179.0 335.1L169.4 329.7L164.6 327.3L150.2 318.6L147.4 315.3L137.7 300.9L135.9 293.7L133.3 286.5L132.0 272.1L128.7 257.7L128.7 243.3L121.5 243.3L121.5 243.3L121.5 257.7L121.5 257.7L124.1 272.1L128.3 286.5L132.6 300.9L135.9 305.7L141.6 315.3L150.2 325.3L158.5 329.7L164.6 332.6L179.0 340.5L182.0 344.1L193.4 356.8L207.8 358.5L203.0 372.9ZM35.2 329.7L49.6 333.0L64.0 338.4L78.4 333.0L81.7 329.7L78.4 324.3L64.0 315.3L64.0 315.3L58.2 300.9L49.6 292.3L43.9 286.5L40.2 272.1L38.6 257.7L38.6 243.3L35.2 243.3L20.9 243.3L20.9 257.7L20.9 272.1L20.9 286.5L20.9 300.9L35.2 300.9L35.2 300.9L39.4 315.3L35.2 317.7L20.9 317.7L20.9 329.7L20.9 329.7Z" fill="#f7b4d1" stroke="#f7b4d1" stroke-width="0.4" fill-rule="evenodd"/>
<path d="M265.2 473.7L265.2 473.7L265.2 459.3L274.8 444.9L265.2 430.5L265.2 430.5L258.1 416.1L250.9 408.9L246.1 401.7L236.5 394.5L226.9 387.3L226.9 372.9L222.1 358.5L222.1 358.5L220.4 344.1L222.1 329.7L222.1 329.7L227.9 315.3L233.9 300.9L236.5 291.3L237.9 286.5L242.7 272.1L248.3 257.7L248.3 243.3L244.3 243.3L244.3 257.7L238.6 272.1L236.5 278.3L234.2 286.5L230.0 300.9L222.1 315.3L222.1 315.3L218.0 329.7L215.4 344.1L207.8 358.5L213.9 372.9L207.8 379.1L203.0 372.9L207.8 358.5L193.4 356.8L182.0 344.1L179.0 340.5L164.6 332.6L158.5 329.7L150.2 325.3L141.6 315.3L135.9 305.7L132.6 300.9L128.3 286.5L124.1 272.1L121.5 257.7L121.5 257.7L121.5 243.3L110.7 243.3L110.7 257.7L114.3 272.1L121.5 281.7L123.2 286.5L125.9 300.9L135.9 315.3L135.9 315.3L145.5 329.7L150.2 331.8L164.6 338.4L175.4 344.1L179.0 348.9L186.2 358.5L193.4 372.9L193.4 372.9L198.8 387.3L207.8 401.7L207.8 401.7L217.3 416.1L222.1 423.3L229.3 430.5L236.5 437.7L243.7 444.9L250.9 452.1L265.2 459.3L265.2 473.7ZM230.3 416.1L236.5 407.5L242.7 416.1L236.5 422.3ZM35.2 380.1L49.6 372.9L49.6 372.9L49.6 372.9L35.2 358.5L49.6 351.3L64.0 351.3L78.4 346.7L83.2 344.1L92.8 334.5L97.5 329.7L92.8 322.5L88.0 315.3L78.4 305.7L73.6 300.9L64.0 291.3L59.2 286.5L49.6 276.9L47.3 272.1L45.2 257.7L45.2 243.3L38.6 243.3L38.6 257.7L40.2 272.1L43.9 286.5L49.6 292.3L58.2 300.9L64.0 315.3L64.0 315.3L78.4 324.3L81.7 329.7L78.4 333.0L64.0 338.4L49.6 333.0L35.2 329.7L20.9 329.7L20.9 344.1L20.9 358.5L20.9 372.9L20.9 380.1Z" fill="#f48bb8" stroke="#f48bb8" stroke-width="0.4" fill-rule="evenodd"/>
<path d="M179.0 473.7L193.4 473.7L199.1 473.7L199.1 459.3L207.8 444.9L222.1 459.3L222.1 473.7L222.1 473.7L236.5 473.7L250.9 473.7L265.2 473.7L265.2 459.3L250.9 452.1L243.7 444.9L236.5 437.7L229.3 430.5L222.1 423.3L217.3 416.1L207.8 401.7L207.8 401.7L198.8 387.3L193.4 372.9L193.4 372.9L186.2 358.5L179.0 348.9L175.4 344.1L164.6 338.4L150.2 331.8L145.5 329.7L135.9 315.3L135.9 315.3L125.9 300.9L123.2 286.5L121.5 281.7L114.3 272.1L110.7 257.7L110.7 243.3L107.1 243.3L105.1 243.3L105.1 257.7L105.1 272.1L107.1 277.9L113.3 286.5L117.9 300.9L121.5 315.3L107.1 324.0L101.0 315.3L92.8 307.1L86.6 300.9L78.4 295.2L69.8 286.5L64.0 283.5L52.7 272.1L50.5 257.7L50.5 243.3L49.6 243.3L45.2 243.3L45.2 257.7L47.3 272.1L49.6 276.9L59.2 286.5L64.0 291.3L73.6 300.9L78.4 305.7L88.0 315.3L92.8 322.5L97.5 329.7L92.8 334.5L83.2 344.1L78.4 346.7L64.0 351.3L49.6 351.3L35.2 358.5L49.6 372.9L49.6 372.9L49.6 372.9L35.2 380.1L20.9 380.1L20.9 387.3L20.9 389.9L35.2 389.9L38.8 387.3L49.6 380.1L56.8 372.9L64.0 362.1L69.8 358.5L78.4 354.6L92.8 346.7L96.3 344.1L107.1 333.3L121.5 329.7L135.9 332.3L150.2 338.0L164.6 344.1L164.6 344.1L175.4 358.5L173.2 372.9L173.2 387.3L179.0 393.1L193.4 401.7L193.4 401.7L204.2 416.1L207.8 430.5L193.4 439.2L179.0 444.9L179.0 444.9L179.0 459.3L179.0 473.7ZM279.6 473.7L294.0 473.7L294.0 459.3L294.0 444.9L294.0 430.5L294.0 416.1L294.0 401.7L294.0 401.7L279.6 401.7L265.2 387.3L265.2 387.3L250.9 372.9L250.9 372.9L236.5 358.5L236.5 358.5L227.9 344.1L229.3 329.7L233.6 315.3L236.5 306.7L238.2 300.9L242.2 286.5L246.8 272.1L250.9 261.3L252.3 257.7L252.3 243.3L250.9 243.3L248.3 243.3L248.3 257.7L242.7 272.1L237.9 286.5L236.5 291.3L233.9 300.9L227.9 315.3L222.1 329.7L222.1 329.7L220.4 344.1L222.1 358.5L222.1 358.5L226.9 372.9L226.9 387.3L236.5 394.5L246.1 401.7L250.9 408.9L258.1 416.1L265.2 430.5L265.2 430.5L274.8 444.9L265.2 459.3L265.2 473.7Z" fill="#f26ba3" stroke="#f26ba3" stroke-width="0.4" fill-rule="evenodd"/>
<path d="M107.1 473.7L121.5 473.7L121.5 473.7L121.5 459.3L121.5 459.3L107.1 459.3L107.1 459.3L107.1 473.7ZM164.6 473.7L179.0 473.7L179.0 459.3L179.0 444.9L179.0 444.9L193.4 439.2L207.8 430.5L204.2 416.1L193.4 401.7L193.4 401.7L179.0 393.1L173.2 387.3L173.2 372.9L175.4 358.5L164.6 344.1L164.6 344.1L150.2 338.0L135.9 332.3L121.5 329.7L107.1 333.3L96.3 344.1L92.8 346.7L78.4 354.6L69.8 358.5L64.0 362.1L56.8 372.9L49.6 380.1L38.8 387.3L35.2 389.9L20.9 389.9L20.9 397.8L35.2 397.8L49.6 387.3L49.6 387.3L64.0 372.9L64.0 372.9L78.4 362.1L85.6 358.5L92.8 354.6L107.1 344.1L107.1 344.1L121.5 339.3L135.9 340.2L150.2 344.1L150.2 344.1L164.6 358.5L159.8 372.9L159.8 387.3L164.6 401.7L164.6 401.7L179.0 416.1L179.0 430.5L164.6 444.9L164.6 444.9L164.6 459.3L164.6 473.7ZM207.8 473.7L222.1 473.7L222.1 459.3L207.8 444.9L199.1 459.3L199.1 473.7ZM279.6 401.7L294.0 401.7L294.0 387.3L294.0 380.1L279.6 380.1L272.4 372.9L265.2 358.5L265.2 358.5L250.9 351.3L236.5 344.1L236.5 329.7L240.1 315.3L243.3 300.9L246.6 286.5L250.9 272.1L250.9 272.1L256.6 257.7L256.6 243.3L252.3 243.3L252.3 257.7L250.9 261.3L246.8 272.1L242.2 286.5L238.2 300.9L236.5 306.7L233.6 315.3L229.3 329.7L227.9 344.1L236.5 358.5L236.5 358.5L250.9 372.9L250.9 372.9L265.2 387.3L265.2 387.3ZM107.1 324.0L121.5 315.3L117.9 300.9L113.3 286.5L107.1 277.9L105.1 272.1L105.1 257.7L105.1 243.3L102.0 243.3L102.0 257.7L98.9 272.1L99.9 286.5L92.8 293.7L78.4 286.5L78.4 286.5L64.0 278.9L57.2 272.1L53.1 257.7L53.1 243.3L50.5 243.3L50.5 257.7L52.7 272.1L64.0 283.5L69.8 286.5L78.4 295.2L86.6 300.9L92.8 307.1L101.0 315.3Z" fill="#ee4f92" stroke="#ee4f92" stroke-width="0.4" fill-rule="evenodd"/>
<path d="M78.4 473.7L92.8 473.7L107.1 473.7L107.1 459.3L107.1 459.3L121.5 459.3L121.5 459.3L121.5 473.7L135.9 473.7L150.2 473.7L164.6 473.7L164.6 459.3L164.6 444.9L164.6 444.9L179.0 430.5L179.0 416.1L164.6 401.7L164.6 401.7L159.8 387.3L159.8 372.9L164.6 358.5L150.2 344.1L150.2 344.1L135.9 340.2L121.5 339.3L107.1 344.1L107.1 344.1L92.8 354.6L85.6 358.5L78.4 362.1L64.0 372.9L64.0 372.9L49.6 387.3L49.6 387.3L35.2 397.8L20.9 397.8L20.9 401.7L20.9 408.9L35.2 408.9L42.4 401.7L49.6 396.9L56.8 387.3L64.0 380.1L73.6 372.9L78.4 369.3L92.8 362.5L107.1 358.5L107.1 358.5L121.5 351.3L135.9 351.3L150.2 358.5L150.2 372.9L150.2 387.3L150.2 401.7L150.2 416.1L150.2 430.5L135.9 444.9L121.5 444.9L107.1 444.9L107.1 444.9L92.8 452.1L78.4 459.3L78.4 459.3L78.4 473.7ZM279.6 380.1L294.0 380.1L294.0 372.9L294.0 358.5L294.0 344.1L294.0 344.1L279.6 344.1L265.2 336.9L250.9 329.7L250.9 329.7L247.3 315.3L248.3 300.9L250.9 286.5L250.9 286.5L255.7 272.1L260.9 257.7L260.9 243.3L256.6 243.3L256.6 257.7L250.9 272.1L250.9 272.1L246.6 286.5L243.3 300.9L240.1 315.3L236.5 329.7L236.5 344.1L250.9 351.3L265.2 358.5L265.2 358.5L272.4 372.9ZM92.8 293.7L99.9 286.5L98.9 272.1L102.0 257.7L102.0 243.3L98.9 243.3L98.9 257.7L92.8 272.1L92.8 272.1L78.4 282.0L64.0 274.4L61.7 272.1L55.7 257.7L55.7 243.3L53.1 243.3L53.1 257.7L57.2 272.1L64.0 278.9L78.4 286.5L78.4 286.5Z" fill="#e53a86" stroke="#e53a86" stroke-width="0.4" fill-rule="evenodd"/>
<path d="M35.2 473.7L49.6 473.7L64.0 473.7L78.4 473.7L78.4 459.3L78.4 459.3L92.8 452.1L107.1 444.9L107.1 444.9L121.5 444.9L135.9 444.9L150.2 430.5L150.2 416.1L150.2 401.7L150.2 387.3L150.2 372.9L150.2 358.5L135.9 351.3L121.5 351.3L107.1 358.5L107.1 358.5L92.8 362.5L78.4 369.3L73.6 372.9L64.0 380.1L56.8 387.3L49.6 396.9L42.4 401.7L35.2 408.9L20.9 408.9L20.9 416.1L20.9 430.5L20.9 444.9L20.9 459.3L20.9 473.7ZM35.2 430.5L49.6 416.1L49.6 416.1L56.8 401.7L64.0 387.3L64.0 387.3L78.4 378.9L87.4 372.9L92.8 370.5L107.1 368.1L121.5 367.5L126.9 372.9L128.7 387.3L128.7 401.7L126.9 416.1L121.5 430.5L121.5 430.5L107.1 433.8L92.8 437.7L78.4 441.7L64.0 444.9L49.6 444.9ZM265.2 336.9L279.6 344.1L294.0 344.1L294.0 329.7L294.0 329.7L279.6 329.7L265.2 322.5L258.1 315.3L254.5 300.9L256.6 286.5L260.5 272.1L265.2 257.7L265.2 257.7L265.2 243.3L265.2 243.3L260.9 243.3L260.9 257.7L255.7 272.1L250.9 286.5L250.9 286.5L248.3 300.9L247.3 315.3L250.9 329.7L250.9 329.7ZM64.0 274.4L78.4 282.0L92.8 272.1L92.8 272.1L98.9 257.7L98.9 243.3L95.8 243.3L95.8 257.7L92.8 264.9L86.2 272.1L78.4 277.5L68.2 272.1L64.0 269.5L58.3 257.7L58.3 243.3L55.7 243.3L55.7 257.7L61.7 272.1Z" fill="#d6347d" stroke="#d6347d" stroke-width="0.4" fill-rule="evenodd"/>
<path d="M49.6 444.9L64.0 444.9L78.4 441.7L92.8 437.7L107.1 433.8L121.5 430.5L121.5 430.5L126.9 416.1L128.7 401.7L128.7 387.3L126.9 372.9L121.5 367.5L107.1 368.1L92.8 370.5L87.4 372.9L78.4 378.9L64.0 387.3L64.0 387.3L56.8 401.7L49.6 416.1L49.6 416.1L35.2 430.5ZM78.4 401.7L85.6 387.3L92.8 383.0L107.1 381.9L112.5 387.3L107.1 401.7L107.1 401.7L92.8 416.1ZM265.2 322.5L279.6 329.7L294.0 329.7L294.0 315.3L294.0 315.3L279.6 315.3L265.2 308.1L261.7 300.9L262.4 286.5L265.2 272.1L265.2 272.1L272.4 257.7L272.4 243.3L265.2 243.3L265.2 257.7L265.2 257.7L260.5 272.1L256.6 286.5L254.5 300.9L258.1 315.3ZM78.4 277.5L86.2 272.1L92.8 264.9L95.8 257.7L95.8 243.3L92.8 243.3L92.8 243.3L92.8 257.7L79.7 272.1L78.4 273.0L76.7 272.1L64.0 264.1L60.9 257.7L60.9 243.3L58.3 243.3L58.3 257.7L64.0 269.5L68.2 272.1Z" fill="#c53175" stroke="#c53175" stroke-width="0.4" fill-rule="evenodd"/>
<path d="M92.8 416.1L107.1 401.7L107.1 401.7L112.5 387.3L107.1 381.9L92.8 383.0L85.6 387.3L78.4 401.7ZM265.2 308.1L279.6 315.3L294.0 315.3L294.0 300.9L294.0 300.9L279.6 300.9L272.4 286.5L274.8 272.1L279.6 257.7L294.0 257.7L294.0 257.7L294.0 243.3L279.6 243.3L272.4 243.3L272.4 257.7L265.2 272.1L265.2 272.1L262.4 286.5L261.7 300.9ZM78.4 273.0L79.7 272.1L92.8 257.7L92.8 243.3L86.2 243.3L86.2 257.7L78.4 266.4L64.0 258.8L63.5 257.7L63.5 243.3L60.9 243.3L60.9 257.7L64.0 264.1L76.7 272.1Z" fill="#b42d6d" stroke="#b42d6d" stroke-width="0.4" fill-rule="evenodd"/>
<path d="M279.6 300.9L294.0 300.9L294.0 286.5L294.0 272.1L294.0 257.7L279.6 257.7L274.8 272.1L272.4 286.5ZM64.0 258.8L78.4 266.4L86.2 257.7L86.2 243.3L79.7 243.3L79.7 257.7L78.4 259.2L75.5 257.7L75.5 243.3L64.0 243.3L63.5 243.3L63.5 257.7Z" fill="#a12a65" stroke="#a12a65" stroke-width="0.4" fill-rule="evenodd"/>
<path d="M78.4 259.2L79.7 257.7L79.7 243.3L78.4 243.3L75.5 243.3L75.5 257.7Z" fill="#8f2a5b" stroke="#8f2a5b" stroke-width="0.4" fill-rule="evenodd"/>
</g>
<g clip-path="url(#clipe)">
<path d="M121.5 665.8L132.1 660.6L121.5 654.6L112.7 660.6Z" fill="#5f7b7b" stroke="#5f7b7b" stroke-width="0.4" fill-rule="evenodd"/>
<path d="M121.5 666.3L133.2 660.6L121.5 654.0L111.8 660.6ZM112.7 660.6L121.5 654.6L132.1 660.6L121.5 665.8Z" fill="#6a8787" stroke="#6a8787" stroke-width="0.4" fill-rule="evenodd"/>
<path d="M35.2 676.1L38.1 675.0L38.1 660.6L35.2 659.0L20.9 659.0L20.9 660.6L20.9 675.0L20.9 676.1ZM121.5 666.9L134.3 660.6L121.5 653.4L110.8 660.6ZM111.8 660.6L121.5 654.0L133.2 660.6L121.5 666.3Z" fill="#739393" stroke="#739393" stroke-width="0.4" fill-rule="evenodd"/>
<path d="M35.2 678.2L43.9 675.0L43.9 660.6L35.2 655.8L20.9 655.8L20.9 659.0L35.2 659.0L38.1 660.6L38.1 675.0L35.2 676.1L20.9 676.1L20.9 678.2ZM121.5 667.4L135.4 660.6L121.5 652.7L109.9 660.6ZM110.8 660.6L121.5 653.4L134.3 660.6L121.5 666.9Z" fill="#7c9f9f" stroke="#7c9f9f" stroke-width="0.4" fill-rule="evenodd"/>
<path d="M35.2 680.3L49.6 675.0L64.0 675.0L64.0 675.0L64.0 675.0L49.6 660.6L49.6 646.2L49.6 646.2L49.6 646.2L35.2 652.6L20.9 652.6L20.9 655.8L35.2 655.8L43.9 660.6L43.9 675.0L35.2 678.2L20.9 678.2L20.9 680.3ZM92.8 675.0L92.8 675.0L92.8 675.0L92.8 675.0ZM179.0 675.3L179.4 675.0L179.0 674.6L178.2 675.0ZM121.5 668.0L135.9 661.3L150.2 661.3L151.1 660.6L151.1 646.2L150.2 645.6L148.6 646.2L135.9 658.9L121.5 652.1L109.0 660.6ZM109.9 660.6L121.5 652.7L135.4 660.6L121.5 667.4ZM222.1 660.9L222.9 660.6L222.1 660.0L220.4 660.6ZM265.2 646.9L266.0 646.2L265.2 645.9L264.5 646.2ZM193.4 617.7L194.2 617.4L193.4 617.1L192.5 617.4ZM207.8 589.2L208.3 588.6L207.8 587.9L207.1 588.6ZM279.6 575.9L294.0 575.9L294.0 574.2L294.0 573.7L279.6 573.7L278.9 574.2ZM250.9 546.3L251.5 545.4L250.9 545.1L250.1 545.4ZM265.2 502.9L265.9 502.2L265.9 487.8L265.2 487.8L263.6 487.8L263.6 502.2Z" fill="#85abab" stroke="#85abab" stroke-width="0.4" fill-rule="evenodd"/>
<path d="M35.2 682.4L49.6 678.4L64.0 678.4L71.2 675.0L64.0 667.8L56.8 660.6L56.8 646.2L49.6 644.8L42.4 646.2L35.2 649.4L20.9 649.4L20.9 652.6L35.2 652.6L49.6 646.2L49.6 646.2L49.6 646.2L49.6 660.6L64.0 675.0L64.0 675.0L64.0 675.0L49.6 675.0L35.2 680.3L20.9 680.3L20.9 682.4ZM92.8 678.4L94.6 675.0L92.8 667.8L85.6 675.0ZM92.8 675.0L92.8 675.0L92.8 675.0L92.8 675.0ZM179.0 675.9L180.0 675.0L179.0 674.0L176.9 675.0ZM178.2 675.0L179.0 674.6L179.4 675.0L179.0 675.3ZM121.5 668.5L135.9 662.3L150.2 662.3L152.6 660.6L152.6 646.2L150.2 644.5L145.7 646.2L135.9 656.1L121.5 651.5L108.1 660.6ZM109.0 660.6L121.5 652.1L135.9 658.9L148.6 646.2L150.2 645.6L151.1 646.2L151.1 660.6L150.2 661.3L135.9 661.3L121.5 668.0ZM222.1 661.5L224.3 660.6L222.1 658.9L217.6 660.6ZM220.4 660.6L222.1 660.0L222.9 660.6L222.1 660.9ZM265.2 647.9L267.4 646.2L265.2 645.4L263.1 646.2ZM264.5 646.2L265.2 645.9L266.0 646.2L265.2 646.9ZM193.4 618.3L195.5 617.4L193.4 616.6L191.1 617.4ZM192.5 617.4L193.4 617.1L194.2 617.4L193.4 617.7ZM207.8 590.1L209.3 588.6L207.8 586.8L205.9 588.6ZM207.1 588.6L207.8 587.9L208.3 588.6L207.8 589.2ZM279.6 578.7L294.0 578.7L294.0 575.9L279.6 575.9L278.9 574.2L279.6 573.7L294.0 573.7L294.0 572.7L279.6 572.7L277.8 574.2ZM250.9 547.8L252.6 545.4L250.9 544.6L248.7 545.4ZM250.1 545.4L250.9 545.1L251.5 545.4L250.9 546.3ZM265.2 503.9L266.9 502.2L266.9 487.8L265.9 487.8L265.9 502.2L265.2 502.9L263.6 502.2L263.6 487.8L260.7 487.8L260.7 502.2Z" fill="#8db7b7" stroke="#8db7b7" stroke-width="0.4" fill-rule="evenodd"/>
<path d="M35.2 684.6L49.6 681.7L64.0 681.7L78.4 675.0L92.8 681.7L96.5 675.0L107.1 660.6L121.5 669.0L135.9 663.4L150.2 663.4L154.0 660.6L154.0 646.2L150.2 643.5L142.9 646.2L135.9 653.3L121.5 650.8L107.1 660.6L92.8 660.6L92.8 660.6L78.4 675.0L64.0 660.6L64.0 646.2L64.0 646.2L49.6 643.4L35.2 646.2L20.9 646.2L20.9 646.2L20.9 649.4L35.2 649.4L42.4 646.2L49.6 644.8L56.8 646.2L56.8 660.6L64.0 667.8L71.2 675.0L64.0 678.4L49.6 678.4L35.2 682.4L20.9 682.4L20.9 684.6ZM85.6 675.0L92.8 667.8L94.6 675.0L92.8 678.4ZM108.1 660.6L121.5 651.5L135.9 656.1L145.7 646.2L150.2 644.5L152.6 646.2L152.6 660.6L150.2 662.3L135.9 662.3L121.5 668.5ZM179.0 676.4L180.7 675.0L179.0 673.4L175.5 675.0ZM176.9 675.0L179.0 674.0L180.0 675.0L179.0 675.9ZM222.1 662.0L225.6 660.6L222.1 657.9L214.8 660.6ZM217.6 660.6L222.1 658.9L224.3 660.6L222.1 661.5ZM265.2 649.0L268.7 646.2L265.2 644.9L261.8 646.2ZM263.1 646.2L265.2 645.4L267.4 646.2L265.2 647.9ZM193.4 618.8L196.8 617.4L193.4 616.1L189.6 617.4ZM191.1 617.4L193.4 616.6L195.5 617.4L193.4 618.3ZM207.8 591.1L210.2 588.6L207.8 585.7L204.8 588.6ZM205.9 588.6L207.8 586.8L209.3 588.6L207.8 590.1ZM279.6 581.6L294.0 581.6L294.0 578.7L279.6 578.7L277.8 574.2L279.6 572.7L294.0 572.7L294.0 571.7L279.6 571.7L276.7 574.2ZM250.9 549.2L253.6 545.4L250.9 544.1L247.4 545.4ZM248.7 545.4L250.9 544.6L252.6 545.4L250.9 547.8ZM265.2 505.0L268.0 502.2L268.0 487.8L266.9 487.8L266.9 502.2L265.2 503.9L260.7 502.2L260.7 487.8L257.9 487.8L257.9 502.2Z" fill="#99c2c2" stroke="#99c2c2" stroke-width="0.4" fill-rule="evenodd"/>
<path d="M35.2 686.7L49.6 685.1L64.0 685.1L78.4 681.3L92.8 685.1L98.4 675.0L107.1 663.2L121.5 669.6L135.9 664.4L150.2 664.4L155.5 660.6L155.5 646.2L150.2 642.4L140.1 646.2L135.9 650.5L121.5 650.2L107.1 658.1L92.8 657.0L86.5 660.6L78.4 668.8L70.2 660.6L70.2 646.2L64.0 644.9L49.6 642.0L35.2 643.7L20.9 643.7L20.9 646.2L35.2 646.2L49.6 643.4L64.0 646.2L64.0 646.2L64.0 660.6L78.4 675.0L92.8 660.6L92.8 660.6L107.1 660.6L121.5 650.8L135.9 653.3L142.9 646.2L150.2 643.5L154.0 646.2L154.0 660.6L150.2 663.4L135.9 663.4L121.5 669.0L107.1 660.6L96.5 675.0L92.8 681.7L78.4 675.0L64.0 681.7L49.6 681.7L35.2 684.6L20.9 684.6L20.9 686.7ZM179.0 676.9L181.3 675.0L179.0 672.7L174.2 675.0ZM175.5 675.0L179.0 673.4L180.7 675.0L179.0 676.4ZM222.1 662.5L226.9 660.6L222.1 656.8L212.0 660.6ZM214.8 660.6L222.1 657.9L225.6 660.6L222.1 662.0ZM265.2 650.0L270.0 646.2L265.2 644.3L260.5 646.2ZM261.8 646.2L265.2 644.9L268.7 646.2L265.2 649.0ZM193.4 619.3L198.2 617.4L193.4 615.5L188.1 617.4ZM189.6 617.4L193.4 616.1L196.8 617.4L193.4 618.8ZM207.8 592.1L211.2 588.6L207.8 584.5L203.6 588.6ZM204.8 588.6L207.8 585.7L210.2 588.6L207.8 591.1ZM279.6 584.4L294.0 584.4L294.0 581.6L279.6 581.6L276.7 574.2L279.6 571.7L294.0 571.7L294.0 570.8L279.6 570.8L275.5 574.2ZM250.9 550.7L254.7 545.4L250.9 543.5L246.1 545.4ZM247.4 545.4L250.9 544.1L253.6 545.4L250.9 549.2ZM121.5 516.6L121.5 516.6L121.5 516.6L121.5 516.6ZM265.2 506.0L269.1 502.2L269.1 487.8L268.0 487.8L268.0 502.2L265.2 505.0L257.9 502.2L257.9 487.8L255.1 487.8L255.1 502.2Z" fill="#a9cccc" stroke="#a9cccc" stroke-width="0.4" fill-rule="evenodd"/>
<path d="M35.2 688.8L49.6 688.4L64.0 688.4L78.4 687.5L92.8 688.4L100.3 675.0L107.1 665.8L121.5 670.1L135.9 665.5L150.2 665.5L156.9 660.6L156.9 646.2L150.2 641.4L137.3 646.2L135.9 647.6L121.5 649.6L107.1 655.5L92.8 653.4L80.2 660.6L78.4 662.5L76.5 660.6L76.5 646.2L64.0 643.6L49.6 640.6L35.2 641.1L20.9 641.1L20.9 643.7L35.2 643.7L49.6 642.0L64.0 644.9L70.2 646.2L70.2 660.6L78.4 668.8L86.5 660.6L92.8 657.0L107.1 658.1L121.5 650.2L135.9 650.5L140.1 646.2L150.2 642.4L155.5 646.2L155.5 660.6L150.2 664.4L135.9 664.4L121.5 669.6L107.1 663.2L98.4 675.0L92.8 685.1L78.4 681.3L64.0 685.1L49.6 685.1L35.2 686.7L20.9 686.7L20.9 688.8ZM179.0 677.4L181.9 675.0L179.0 672.1L172.9 675.0ZM174.2 675.0L179.0 672.7L181.3 675.0L179.0 676.9ZM222.1 663.0L228.2 660.6L222.1 655.8L209.2 660.6ZM212.0 660.6L222.1 656.8L226.9 660.6L222.1 662.5ZM265.2 651.1L271.4 646.2L265.2 643.8L259.1 646.2ZM260.5 646.2L265.2 644.3L270.0 646.2L265.2 650.0ZM193.4 619.8L199.5 617.4L193.4 615.0L186.7 617.4ZM188.1 617.4L193.4 615.5L198.2 617.4L193.4 619.3ZM207.8 593.0L212.1 588.6L207.8 583.4L202.5 588.6ZM203.6 588.6L207.8 584.5L211.2 588.6L207.8 592.1ZM279.6 587.2L294.0 587.2L294.0 584.4L279.6 584.4L275.5 574.2L279.6 570.8L294.0 570.8L294.0 569.8L279.6 569.8L274.4 574.2ZM250.9 552.1L255.7 545.4L250.9 543.0L244.8 545.4ZM246.1 545.4L250.9 543.5L254.7 545.4L250.9 550.7ZM121.5 518.1L122.9 516.6L121.5 515.0L120.0 516.6ZM121.5 516.6L121.5 516.6L121.5 516.6L121.5 516.6ZM265.2 507.1L270.1 502.2L270.1 487.8L269.1 487.8L269.1 502.2L265.2 506.0L255.1 502.2L255.1 487.8L252.3 487.8L252.3 502.2Z" fill="#bcd6d6" stroke="#bcd6d6" stroke-width="0.4" fill-rule="evenodd"/>
<path d="M35.2 718.2L49.6 718.2L55.5 718.2L55.5 703.8L64.0 695.4L78.4 691.1L92.8 690.6L98.7 689.4L102.2 675.0L107.1 668.3L121.5 670.7L135.9 666.6L150.2 666.6L158.4 660.6L158.4 646.2L150.2 640.3L135.9 645.4L134.4 646.2L121.5 648.9L107.1 652.9L92.8 649.8L84.3 646.2L78.4 640.3L64.0 642.3L49.6 639.2L35.2 638.5L20.9 638.5L20.9 641.1L35.2 641.1L49.6 640.6L64.0 643.6L76.5 646.2L76.5 660.6L78.4 662.5L80.2 660.6L92.8 653.4L107.1 655.5L121.5 649.6L135.9 647.6L137.3 646.2L150.2 641.4L156.9 646.2L156.9 660.6L150.2 665.5L135.9 665.5L121.5 670.1L107.1 665.8L100.3 675.0L92.8 688.4L78.4 687.5L64.0 688.4L49.6 688.4L35.3 688.8L20.9 688.8L20.9 689.4L20.9 703.8L20.9 718.2ZM279.6 718.2L294.0 718.2L294.0 703.8L294.0 702.6L279.6 702.6L278.8 703.8L278.8 718.2ZM179.0 677.9L182.6 675.0L179.0 671.5L171.5 675.0ZM172.9 675.0L179.0 672.1L181.9 675.0L179.0 677.4ZM207.8 661.5L222.1 663.5L229.6 660.6L222.1 654.7L207.8 659.8L207.4 660.6ZM209.2 660.6L222.1 655.8L228.2 660.6L222.1 663.0ZM279.6 661.9L294.0 661.9L294.0 660.6L294.0 659.4L279.6 659.4L278.8 660.6ZM265.2 652.2L272.7 646.2L265.2 643.3L257.8 646.2ZM259.1 646.2L265.2 643.8L271.4 646.2L265.2 651.1ZM35.2 620.5L41.2 617.4L35.2 616.3L20.9 616.3L20.9 617.4L20.9 620.5ZM78.4 623.4L92.8 619.1L95.8 617.4L92.8 616.3L78.4 614.4L76.7 617.4ZM193.4 620.3L200.8 617.4L193.4 614.5L185.2 617.4ZM186.7 617.4L193.4 615.0L199.5 617.4L193.4 619.8ZM222.1 617.7L223.4 617.4L222.1 616.5L220.9 617.4ZM279.6 604.3L294.0 604.3L294.0 603.0L294.0 588.6L294.0 587.2L279.6 587.2L274.4 574.2L279.6 569.8L294.0 569.8L294.0 568.9L279.6 568.9L273.2 574.2L278.7 588.6L278.7 603.0ZM207.8 594.0L213.1 588.6L207.8 582.2L201.4 588.6ZM202.5 588.6L207.8 583.4L212.1 588.6L207.8 593.0ZM236.5 589.3L237.2 588.6L236.5 587.7L235.8 588.6ZM193.4 575.2L194.3 574.2L193.4 573.9L193.1 574.2ZM222.1 574.9L223.1 574.2L222.1 573.9L221.2 574.2ZM250.9 553.6L256.8 545.4L250.9 542.5L243.4 545.4ZM244.8 545.4L250.9 543.0L255.7 545.4L250.9 552.1ZM121.5 519.5L124.4 516.6L121.5 513.4L118.5 516.6ZM120.0 516.6L121.5 515.0L122.9 516.6L121.5 518.1ZM250.9 502.6L265.2 508.2L271.2 502.2L271.2 487.8L270.1 487.8L270.1 502.2L265.2 507.1L252.3 502.2L252.3 487.8L250.9 487.8L249.6 487.8L249.6 502.2Z" fill="#cfe0e0" stroke="#cfe0e0" stroke-width="0.4" fill-rule="evenodd"/>
<path d="M64.0 718.2L64.0 718.2L64.0 703.8L78.4 693.6L92.8 692.2L107.1 689.4L107.1 689.4L107.1 689.4L104.1 675.0L107.1 670.9L121.5 671.2L135.9 667.6L150.2 667.6L159.8 660.6L159.8 646.2L150.2 639.2L135.9 643.7L131.4 646.2L121.5 648.3L107.1 650.3L92.8 646.2L92.8 646.2L78.4 631.8L92.8 621.6L100.2 617.4L92.8 614.6L78.4 610.0L74.2 617.4L78.4 631.8L64.0 641.0L49.6 637.8L35.2 635.9L20.9 635.9L20.9 638.5L35.2 638.5L49.6 639.2L64.0 642.3L78.4 640.3L84.3 646.2L92.8 649.8L107.1 652.9L121.5 648.9L134.4 646.2L135.9 645.4L150.2 640.3L158.4 646.2L158.4 660.6L150.2 666.6L135.9 666.6L121.5 670.7L107.1 668.3L102.2 675.0L98.7 689.4L92.8 690.6L78.4 691.1L64.0 695.4L55.5 703.8L55.5 718.2ZM76.7 617.4L78.4 614.4L92.8 616.3L95.8 617.4L92.8 619.1L78.4 623.4ZM278.8 703.8L279.6 702.6L294.0 702.6L294.0 700.0L279.6 700.0L277.1 703.8L277.1 718.2L278.8 718.2ZM179.0 678.5L183.2 675.0L179.0 670.8L170.2 675.0ZM171.5 675.0L179.0 671.5L182.6 675.0L179.0 677.9ZM207.8 663.2L222.1 664.1L230.9 660.6L222.1 653.6L207.8 658.1L206.8 660.6ZM207.4 660.6L207.8 659.8L222.1 654.7L229.6 660.6L222.1 663.5L207.8 661.5ZM279.6 664.4L294.0 664.4L294.0 661.9L279.6 661.9L278.8 660.6L279.6 659.4L294.0 659.4L294.0 656.8L279.6 656.8L277.1 660.6ZM265.2 653.2L274.0 646.2L265.2 642.8L256.5 646.2ZM257.8 646.2L265.2 643.3L272.7 646.2L265.2 652.2ZM107.1 631.8L107.1 631.8L107.1 631.8L107.1 631.8ZM35.2 624.8L49.6 617.4L49.6 617.4L49.6 617.4L35.2 614.6L20.9 614.6L20.9 616.3L35.2 616.3L41.2 617.4L35.2 620.5L20.9 620.5L20.9 624.8ZM193.4 620.9L202.2 617.4L193.4 614.0L183.8 617.4ZM185.2 617.4L193.4 614.5L200.8 617.4L193.4 620.3ZM222.1 618.4L225.9 617.4L222.1 614.5L218.3 617.4ZM220.9 617.4L222.1 616.5L223.4 617.4L222.1 617.7ZM279.6 606.8L294.0 606.8L294.0 604.3L279.6 604.3L278.7 603.0L278.7 588.6L273.2 574.2L279.6 568.9L294.0 568.9L294.0 567.9L279.6 567.9L272.1 574.2L276.8 588.6L276.8 603.0ZM207.8 594.9L214.0 588.6L207.8 581.1L200.2 588.6ZM201.4 588.6L207.8 582.2L213.1 588.6L207.8 594.0ZM236.5 590.8L238.7 588.6L236.5 585.7L234.3 588.6ZM235.8 588.6L236.5 587.7L237.2 588.6L236.5 589.3ZM193.4 577.1L196.3 574.2L193.4 573.3L192.4 574.2ZM193.1 574.2L193.4 573.9L194.3 574.2L193.4 575.2ZM222.1 576.4L225.0 574.2L222.1 573.3L219.3 574.2ZM221.2 574.2L222.1 573.9L223.1 574.2L222.1 574.9ZM92.8 559.8L92.8 559.8L92.8 559.8L92.8 559.8ZM64.0 545.4L64.0 545.4L64.0 545.4L64.0 545.4ZM250.9 555.0L257.9 545.4L250.9 542.0L242.1 545.4ZM243.4 545.4L250.9 542.5L256.8 545.4L250.9 553.6ZM35.2 531.0L35.2 531.0L35.2 531.0L20.9 531.0L20.9 531.0L20.9 531.0ZM121.5 520.9L125.8 516.6L121.5 511.8L117.0 516.6ZM118.5 516.6L121.5 513.4L124.4 516.6L121.5 519.5ZM250.9 503.5L265.2 509.2L272.2 502.2L272.2 487.8L271.2 487.8L271.2 502.2L265.2 508.2L250.9 502.6L249.6 502.2L249.6 487.8L247.1 487.8L247.1 502.2Z" fill="#e0eaea" stroke="#e0eaea" stroke-width="0.4" fill-rule="evenodd"/>
<path d="M67.4 703.8L78.4 696.0L92.8 693.9L107.1 690.3L111.5 689.4L107.1 680.4L106.0 675.0L107.1 673.5L121.5 671.8L135.9 668.7L150.2 668.7L161.3 660.6L161.3 646.2L150.2 638.2L135.9 642.0L128.4 646.2L121.5 647.7L107.1 647.8L101.7 646.2L92.8 642.8L81.8 631.8L92.8 624.0L104.5 617.4L92.8 613.0L78.4 605.6L71.8 617.4L76.3 631.8L64.0 639.7L49.6 636.3L35.2 633.4L20.9 633.4L20.9 635.9L35.2 635.9L49.6 637.8L64.0 641.0L78.4 631.8L74.2 617.4L78.4 610.0L92.8 614.6L100.2 617.4L92.8 621.6L78.4 631.8L92.8 646.2L92.8 646.2L107.1 650.3L121.5 648.3L131.4 646.2L135.9 643.7L150.2 639.2L159.8 646.2L159.8 660.6L150.2 667.6L135.9 667.6L121.5 671.2L107.1 670.9L104.1 675.0L107.1 689.4L107.1 689.4L107.1 689.4L92.8 692.2L78.4 693.6L64.0 703.8L64.0 718.2L67.4 718.2ZM277.1 703.8L279.6 700.0L294.0 700.0L294.0 697.5L279.6 697.5L275.4 703.8L275.4 718.2L277.1 718.2ZM179.0 679.0L183.8 675.0L179.0 670.2L168.9 675.0ZM170.2 675.0L179.0 670.8L183.2 675.0L179.0 678.5ZM207.7 664.9L222.1 664.6L232.2 660.6L222.1 652.6L207.7 656.4L206.2 660.6ZM206.8 660.6L207.8 658.1L222.1 653.6L230.9 660.6L222.1 664.1L207.8 663.2ZM279.6 666.9L294.0 666.9L294.0 664.4L279.6 664.4L277.1 660.6L279.6 656.8L294.0 656.8L294.0 654.3L279.6 654.3L275.4 646.2L265.2 642.3L255.1 646.2L265.2 654.3L275.4 660.6ZM256.5 646.2L265.2 642.8L274.0 646.2L265.2 653.2ZM107.1 640.8L110.5 631.8L107.1 622.8L103.7 631.8ZM107.1 631.8L107.1 631.8L107.1 631.8L107.1 631.8ZM35.2 629.2L49.6 620.9L53.0 617.4L49.6 615.4L35.2 613.0L20.9 613.0L20.9 614.6L35.2 614.6L49.6 617.4L49.6 617.4L49.6 617.4L35.2 624.8L20.9 624.8L20.9 629.2ZM193.4 621.4L203.5 617.4L193.4 613.5L182.3 617.4ZM183.8 617.4L193.4 614.0L202.2 617.4L193.4 620.9ZM222.1 619.0L228.4 617.4L222.1 612.6L215.8 617.4ZM218.3 617.4L222.1 614.5L225.9 617.4L222.1 618.4ZM279.6 609.3L294.0 609.3L294.0 606.8L279.6 606.8L276.8 603.0L276.8 588.6L272.1 574.2L279.6 567.9L294.0 567.9L294.0 567.0L279.6 567.0L271.0 574.2L274.8 588.6L274.8 603.0ZM207.8 595.9L215.0 588.6L207.8 579.9L198.2 574.2L193.4 572.6L191.8 574.2L193.4 579.0L199.1 588.6ZM200.2 588.6L207.8 581.1L214.0 588.6L207.8 594.9ZM192.4 574.2L193.4 573.3L196.2 574.2L193.4 577.1ZM236.5 592.2L240.1 588.6L236.5 583.8L232.9 588.6ZM234.3 588.6L236.5 585.7L238.7 588.6L236.5 590.8ZM222.1 577.8L226.9 574.2L222.1 572.6L217.3 574.2ZM219.2 574.2L222.1 573.3L225.0 574.2L222.1 576.4ZM92.8 561.2L101.7 559.8L92.8 555.7L88.6 559.8ZM92.8 559.8L92.8 559.8L92.8 559.8L92.8 559.8ZM64.0 547.6L73.0 545.4L64.0 543.2L61.8 545.4ZM64.0 545.4L64.0 545.4L64.0 545.4L64.0 545.4ZM250.9 556.5L258.9 545.4L250.9 541.5L240.8 545.4ZM242.1 545.4L250.9 542.0L257.9 545.4L250.9 555.0ZM35.2 533.2L39.4 531.0L35.2 528.8L20.9 528.8L20.9 531.0L35.2 531.0L35.2 531.0L35.2 531.0L20.9 531.0L20.9 533.2ZM121.5 522.4L127.2 516.6L121.5 510.2L115.5 516.6ZM117.0 516.6L121.5 511.8L125.8 516.6L121.5 520.9ZM250.9 504.3L265.2 510.3L273.3 502.2L273.3 487.8L272.2 487.8L272.2 502.2L265.2 509.2L250.9 503.5L247.1 502.2L247.1 487.8L244.6 487.8L244.6 502.2Z" fill="#fce3de" stroke="#fce3de" stroke-width="0.4" fill-rule="evenodd"/>
<path d="M70.8 703.8L78.4 698.5L92.8 695.5L107.1 691.2L115.8 689.4L108.2 675.0L121.5 672.3L135.9 669.7L150.2 669.7L162.7 660.6L162.7 646.2L150.2 637.1L135.9 640.3L125.4 646.2L121.5 647.0L110.5 646.2L114.0 631.8L108.2 617.4L107.1 616.4L92.8 611.3L79.4 603.0L78.4 602.0L77.3 603.0L69.4 617.4L74.3 631.8L64.0 638.4L49.6 634.9L37.5 631.8L49.6 624.3L56.5 617.4L49.6 613.3L35.2 611.3L20.9 611.3L20.9 613.0L35.2 613.0L49.6 615.4L53.0 617.4L49.6 620.9L35.2 629.2L20.9 629.2L20.9 631.8L20.9 633.4L35.2 633.4L49.6 636.3L64.0 639.7L76.3 631.8L71.8 617.4L78.4 605.6L92.8 613.0L104.5 617.4L92.8 624.0L81.8 631.8L92.8 642.8L101.7 646.2L107.1 647.8L121.5 647.7L128.4 646.2L135.9 642.0L150.2 638.2L161.3 646.2L161.3 660.6L150.2 668.7L135.9 668.7L121.5 671.8L107.1 673.5L106.0 675.0L107.1 680.4L111.5 689.4L107.1 690.3L92.8 693.9L78.4 696.0L67.4 703.8L67.4 718.2L70.8 718.2ZM85.2 631.8L92.8 626.5L100.3 631.8L92.8 639.4ZM103.7 631.8L107.1 622.8L110.5 631.8L107.1 640.8ZM275.4 703.8L279.6 697.5L294.0 697.5L294.0 695.0L279.6 695.0L273.7 703.8L273.7 718.2L275.4 718.2ZM179.0 679.5L184.5 675.0L179.0 669.5L167.6 675.0ZM168.9 675.0L179.0 670.2L183.8 675.0L179.0 679.0ZM207.8 666.6L222.1 665.1L233.6 660.6L222.1 651.5L207.8 654.7L205.5 660.6ZM206.2 660.6L207.8 656.4L222.1 652.6L232.2 660.6L222.1 664.6L207.8 664.9ZM279.6 669.5L294.0 669.5L294.0 666.9L279.6 666.9L275.4 660.6L265.2 654.3L255.1 646.2L265.2 642.3L275.4 646.2L279.6 654.3L294.0 654.3L294.0 651.8L279.6 651.8L276.7 646.2L265.2 641.7L253.8 646.2L265.2 655.3L273.7 660.6ZM193.4 621.9L204.8 617.4L193.4 612.9L180.9 617.4ZM182.3 617.4L193.4 613.5L203.5 617.4L193.4 621.4ZM222.1 619.7L231.0 617.4L222.1 610.7L213.3 617.4ZM215.8 617.4L222.1 612.6L228.4 617.4L222.1 619.0ZM279.6 611.9L294.0 611.9L294.0 609.3L279.6 609.3L274.8 603.0L274.8 588.6L271.0 574.2L279.6 567.0L294.0 567.0L294.0 566.0L279.6 566.0L269.8 574.2L272.9 588.6L272.9 603.0ZM207.8 596.8L215.9 588.6L222.1 579.3L228.8 574.2L222.1 572.0L215.4 574.2L207.8 578.8L200.1 574.2L193.4 572.0L191.1 574.2L193.4 580.9L197.9 588.6ZM199.1 588.6L193.4 579.0L191.8 574.2L193.4 572.6L198.2 574.2L207.8 579.9L215.0 588.6L207.8 595.9ZM217.3 574.2L222.1 572.6L226.9 574.2L222.1 577.8ZM236.5 593.7L241.5 588.6L236.5 581.9L231.5 588.6ZM232.9 588.6L236.5 583.8L240.1 588.6L236.5 592.2ZM92.8 562.6L107.1 560.5L107.4 559.8L107.1 559.0L92.8 551.6L84.5 559.8ZM88.6 559.8L92.8 555.7L101.7 559.8L92.8 561.2ZM64.0 549.8L78.4 548.5L81.4 545.4L78.4 544.5L64.0 541.1L59.6 545.4ZM61.8 545.4L64.0 543.2L73.0 545.4L64.0 547.6ZM250.9 557.9L260.0 545.4L250.9 540.9L239.4 545.4ZM240.8 545.4L250.9 541.5L258.9 545.4L250.9 556.5ZM35.2 535.4L43.5 531.0L35.2 526.7L20.9 526.7L20.9 528.8L35.2 528.8L39.4 531.0L35.2 533.2L20.9 533.2L20.9 535.4ZM49.6 519.7L64.0 517.2L64.4 516.6L64.0 516.0L49.6 515.5L48.5 516.6ZM121.5 523.8L128.7 516.6L121.5 508.6L114.0 516.6ZM115.5 516.6L121.5 510.2L127.2 516.6L121.5 522.4ZM92.8 503.4L95.8 502.2L95.8 487.8L92.8 487.8L91.6 487.8L91.6 502.2ZM250.9 505.1L265.2 511.3L274.3 502.2L274.3 487.8L273.3 487.8L273.3 502.2L265.2 510.3L250.9 504.3L244.6 502.2L244.6 487.8L242.0 487.8L242.0 502.2Z" fill="#f9c9c1" stroke="#f9c9c1" stroke-width="0.4" fill-rule="evenodd"/>
<path d="M74.3 703.8L78.4 700.9L92.8 697.2L107.1 692.1L120.2 689.4L110.9 675.0L121.5 672.9L135.9 670.8L150.2 670.8L164.2 660.6L164.2 646.2L150.2 636.1L135.9 638.6L122.4 646.2L121.5 646.4L119.0 646.2L117.4 631.8L110.9 617.4L107.1 613.7L92.8 609.6L82.1 603.0L78.4 599.3L74.6 603.0L66.9 617.4L72.2 631.8L64.0 637.1L49.6 633.5L43.0 631.8L49.6 627.7L59.9 617.4L49.6 611.3L35.2 609.6L20.9 609.6L20.9 611.3L35.2 611.3L49.6 613.3L56.5 617.4L49.6 624.3L37.5 631.8L49.6 634.9L64.0 638.4L74.3 631.8L69.4 617.4L77.3 603.0L78.4 602.0L79.4 603.0L92.8 611.3L107.1 616.4L108.2 617.4L114.0 631.8L110.5 646.2L121.5 647.0L125.4 646.2L135.9 640.3L150.2 637.1L162.7 646.2L162.7 660.6L150.2 669.7L135.9 669.7L121.5 672.3L108.2 675.0L115.8 689.4L107.1 691.2L92.8 695.5L78.4 698.5L70.8 703.8L70.8 718.2L74.3 718.2ZM273.7 703.8L279.6 695.0L294.0 695.0L294.0 692.5L279.6 692.5L272.0 703.8L272.0 718.2L273.7 718.2ZM179.0 680.0L185.1 675.0L179.0 668.9L166.2 675.0ZM167.6 675.0L179.0 669.5L184.5 675.0L179.0 679.5ZM207.8 668.2L222.1 665.6L234.9 660.6L222.1 650.5L207.8 653.0L204.9 660.6ZM205.5 660.6L207.8 654.7L222.1 651.5L233.6 660.6L222.1 665.1L207.8 666.6ZM279.6 672.0L294.0 672.0L294.0 669.5L279.6 669.5L273.7 660.6L265.2 655.3L253.8 646.2L265.2 641.7L276.7 646.2L279.6 651.8L294.0 651.8L294.0 649.3L279.6 649.3L278.0 646.2L265.2 641.2L252.5 646.2L265.2 656.4L272.0 660.6ZM92.8 639.4L100.3 631.8L92.8 626.5L85.2 631.8ZM88.6 631.8L92.8 628.9L96.9 631.8L92.8 635.9ZM193.4 622.4L206.2 617.4L193.4 612.4L179.4 617.4ZM180.9 617.4L193.4 612.9L204.8 617.4L193.4 621.9ZM222.1 620.3L233.5 617.4L222.1 608.8L210.8 617.4ZM213.3 617.4L222.1 610.7L231.0 617.4L222.1 619.7ZM279.6 614.4L294.0 614.4L294.0 611.9L279.6 611.9L272.9 603.0L272.9 588.6L269.8 574.2L279.6 566.0L294.0 566.0L294.0 565.1L279.6 565.1L268.7 574.2L271.0 588.6L271.0 603.0ZM207.8 597.8L216.9 588.6L222.1 580.7L230.0 588.6L236.5 595.1L243.0 588.6L236.5 580.0L230.8 574.2L222.1 571.3L213.5 574.2L207.8 577.7L202.0 574.2L193.4 571.3L190.5 574.2L193.4 582.9L196.8 588.6ZM197.9 588.6L193.4 580.9L191.1 574.2L193.4 572.0L200.1 574.2L207.8 578.8L215.4 574.2L222.1 572.0L228.8 574.2L222.1 579.3L215.9 588.6L207.8 596.8ZM231.5 588.6L236.5 581.9L241.5 588.6L236.5 593.7ZM92.8 564.0L107.1 562.1L108.2 559.8L107.1 557.1L92.8 547.5L89.0 545.4L78.4 542.3L64.0 538.9L57.5 545.4L64.0 552.0L78.4 556.0L80.4 559.8ZM84.5 559.8L92.8 551.6L107.1 559.0L107.4 559.8L107.1 560.5L92.8 562.6ZM59.6 545.4L64.0 541.1L78.4 544.5L81.4 545.4L78.4 548.5L64.0 549.8ZM250.9 559.4L261.0 545.4L250.9 540.4L238.1 545.4ZM239.4 545.4L250.9 540.9L260.0 545.4L250.9 557.9ZM35.2 537.6L47.6 531.0L49.6 527.2L64.0 520.2L66.5 516.6L64.0 513.0L49.6 512.6L45.6 516.6L35.2 524.5L20.9 524.5L20.9 526.7L35.2 526.7L43.5 531.0L35.2 535.4L20.9 535.4L20.9 537.6ZM48.5 516.6L49.6 515.5L64.0 516.0L64.4 516.6L64.0 517.2L49.6 519.7ZM92.8 531.0L92.8 531.0L92.8 531.0L92.8 531.0ZM135.9 531.0L135.9 531.0L135.9 531.0L135.9 531.0ZM121.5 525.3L130.1 516.6L121.5 507.0L112.5 516.6ZM114.0 516.6L121.5 508.6L128.7 516.6L121.5 523.8ZM92.8 506.3L103.3 502.2L103.3 487.8L95.8 487.8L95.8 502.2L92.8 503.4L91.6 502.2L91.6 487.8L88.7 487.8L88.7 502.2ZM250.9 505.9L265.2 512.4L275.4 502.2L275.4 487.8L274.3 487.8L274.3 502.2L265.2 511.3L250.9 505.1L242.0 502.2L242.0 487.8L239.5 487.8L239.5 502.2Z" fill="#f6aea2" stroke="#f6aea2" stroke-width="0.4" fill-rule="evenodd"/>
<path d="M77.7 703.8L78.4 703.3L92.8 698.9L107.1 693.0L121.5 692.1L124.2 689.4L121.5 686.7L113.5 675.0L121.5 673.4L135.9 671.8L150.2 671.8L164.6 671.8L165.4 660.6L175.8 646.2L164.6 645.4L150.2 635.0L135.9 636.9L121.5 635.0L120.8 631.8L113.5 617.4L107.1 611.0L92.8 608.0L84.8 603.0L78.4 596.6L72.0 603.0L64.5 617.4L70.2 631.8L64.0 635.8L49.6 632.1L48.5 631.8L49.6 631.1L63.3 617.4L49.6 609.2L35.2 608.0L20.9 608.0L20.9 609.6L35.2 609.6L49.6 611.3L59.9 617.4L49.6 627.7L43.0 631.8L49.6 633.5L64.0 637.1L72.2 631.8L66.9 617.4L74.6 603.0L78.4 599.3L82.1 603.0L92.8 609.6L107.1 613.7L110.9 617.4L117.4 631.8L119.0 646.2L121.5 646.4L122.4 646.2L135.9 638.6L150.2 636.1L164.2 646.2L164.2 660.6L150.2 670.8L135.9 670.8L121.5 672.9L110.9 675.0L120.2 689.4L107.1 692.1L92.8 697.2L78.4 700.9L74.3 703.8L74.3 718.2L77.7 718.2ZM272.0 703.8L279.6 692.5L294.0 692.5L294.0 689.9L279.6 689.9L270.3 703.8L270.3 718.2L272.0 718.2ZM207.8 692.1L208.5 689.4L207.8 686.7L205.0 689.4ZM179.0 680.6L185.7 675.0L179.0 668.3L164.9 675.0ZM166.2 675.0L179.0 668.9L185.1 675.0L179.0 680.0ZM207.8 669.9L222.1 666.2L236.2 660.6L222.1 649.4L207.8 651.3L204.2 660.6ZM204.9 660.6L207.8 653.0L222.1 650.5L234.9 660.6L222.1 665.6L207.8 668.2ZM279.6 674.5L294.0 674.5L294.0 672.0L279.6 672.0L272.0 660.6L265.2 656.4L252.5 646.2L265.2 641.2L278.0 646.2L279.6 649.3L294.0 649.3L294.0 646.7L279.6 646.7L279.4 646.2L265.2 640.7L251.1 646.2L265.2 657.4L270.3 660.6ZM92.8 635.9L96.9 631.8L92.8 628.9L88.6 631.8ZM92.1 631.8L92.8 631.3L93.4 631.8L92.8 632.5ZM179.0 618.0L193.4 623.0L207.5 617.4L193.4 611.9L179.0 616.9L176.3 617.4ZM179.4 617.4L193.4 612.4L206.2 617.4L193.4 622.4ZM222.1 620.9L236.0 617.4L222.1 606.9L208.3 617.4ZM210.8 617.4L222.1 608.8L233.5 617.4L222.1 620.3ZM279.6 616.9L294.0 616.9L294.0 614.4L279.6 614.4L271.0 603.0L271.0 588.6L268.7 574.2L279.6 565.1L294.0 565.1L294.0 564.1L279.6 564.1L267.5 574.2L269.1 588.6L269.1 603.0ZM207.8 598.7L217.8 588.6L222.1 582.1L228.6 588.6L236.5 596.5L244.4 588.6L236.5 578.1L232.7 574.2L222.1 570.7L211.6 574.2L207.8 576.5L203.9 574.2L193.4 570.7L189.9 574.2L193.4 584.8L195.7 588.6ZM196.8 588.6L193.4 582.9L190.5 574.2L193.4 571.3L202.0 574.2L207.8 577.7L213.5 574.2L222.1 571.3L230.8 574.2L236.5 580.0L243.0 588.6L236.5 595.1L230.0 588.6L222.1 580.7L216.9 588.6L207.7 597.8ZM78.4 560.4L92.8 565.4L107.1 563.8L108.9 559.8L107.1 555.2L94.1 545.4L96.7 531.0L92.8 527.0L89.9 531.0L78.4 540.0L64.0 536.7L55.3 545.4L64.0 554.2L76.1 559.8ZM80.4 559.8L78.4 556.0L64.0 552.0L57.5 545.4L64.0 538.9L78.4 542.3L89.0 545.4L92.8 547.5L107.1 557.1L108.2 559.8L107.1 562.1L92.8 564.0ZM92.8 531.0L92.8 531.0L92.8 531.0L92.8 531.0ZM236.5 563.6L250.9 561.8L252.8 559.8L262.1 545.4L250.9 539.9L236.8 545.4L236.5 548.6L235.9 559.8ZM238.1 545.4L250.9 540.4L261.0 545.4L250.9 559.4ZM35.2 539.8L49.6 533.3L51.9 531.0L64.0 523.2L68.5 516.6L64.0 510.0L49.6 509.7L42.7 516.6L35.2 522.3L20.9 522.3L20.9 524.5L35.2 524.5L45.6 516.6L49.6 512.6L64.0 513.0L66.5 516.6L64.0 520.2L49.6 527.2L47.6 531.0L35.2 537.6L20.9 537.6L20.9 539.8ZM135.9 543.0L137.0 531.0L135.9 527.4L131.6 516.6L121.5 505.4L110.0 502.2L110.0 487.8L107.1 487.8L103.3 487.8L103.3 502.2L92.8 506.3L88.7 502.2L88.7 487.8L85.8 487.8L85.8 502.2L92.8 509.1L107.1 504.5L111.0 516.6L121.5 526.7L132.3 531.0ZM135.9 531.0L135.9 531.0L135.9 531.0L135.9 531.0ZM112.5 516.6L121.5 507.0L130.1 516.6L121.5 525.3ZM236.5 519.3L237.3 516.6L236.5 505.4L235.7 516.6ZM250.9 506.7L265.2 513.4L276.5 502.2L276.5 487.8L275.4 487.8L275.4 502.2L265.2 512.4L250.9 505.9L239.5 502.2L239.5 487.8L237.0 487.8L237.0 502.2Z" fill="#f39484" stroke="#f39484" stroke-width="0.4" fill-rule="evenodd"/>
<path d="M78.4 718.2L82.5 718.2L82.5 703.8L92.8 700.5L107.1 693.9L121.5 696.0L128.1 689.4L121.5 682.8L116.2 675.0L121.5 673.9L135.9 672.9L150.2 672.9L160.5 675.0L164.6 676.0L179.0 681.1L186.4 675.0L179.0 667.6L166.5 660.6L179.0 647.2L179.7 646.2L179.0 645.5L164.6 644.3L150.2 633.9L135.9 635.2L125.6 631.8L121.5 627.7L116.2 617.4L107.1 608.4L92.8 606.3L87.4 603.0L78.4 594.0L69.3 603.0L64.0 613.3L49.6 607.1L35.2 606.3L20.9 606.3L20.9 608.0L35.2 608.0L49.6 609.2L63.3 617.4L49.6 631.1L48.5 631.8L49.6 632.1L64.0 635.8L70.2 631.8L64.5 617.4L72.0 603.0L78.4 596.6L84.8 603.0L92.8 608.0L107.1 611.0L113.5 617.4L120.8 631.8L121.5 635.0L135.9 636.9L150.2 635.0L164.6 645.4L175.8 646.2L165.4 660.6L164.6 671.8L150.2 671.8L135.9 671.8L121.5 673.4L113.5 675.0L121.5 686.7L124.2 689.4L121.5 692.1L107.1 693.0L92.8 698.9L78.4 703.3L77.7 703.8L77.7 718.2ZM164.9 675.0L179.0 668.3L185.7 675.0L179.0 680.6ZM53.7 631.8L64.0 621.5L68.1 631.8L64.0 634.4ZM270.3 703.8L279.6 689.9L294.0 689.9L294.0 689.4L294.0 675.0L294.0 674.5L279.6 674.5L270.3 660.6L265.2 657.4L251.1 646.2L265.2 640.7L279.4 646.2L279.6 646.7L294.0 646.7L294.0 646.2L294.0 645.5L279.6 645.5L265.2 640.2L250.9 645.5L246.8 646.2L250.9 650.3L265.2 658.5L268.6 660.6L265.2 670.9L261.1 675.0L265.2 679.1L275.5 689.4L268.6 703.8L268.6 718.2L270.3 718.2ZM207.8 696.0L209.7 689.4L207.8 682.8L201.1 689.4ZM205.0 689.4L207.8 686.7L208.5 689.4L207.8 692.1ZM207.8 671.6L222.1 666.7L236.5 661.3L240.6 660.6L236.5 656.5L222.1 648.3L207.8 649.6L203.6 660.6ZM204.2 660.6L207.8 651.3L222.1 649.4L236.2 660.6L222.1 666.2L207.8 669.9ZM92.8 632.5L93.4 631.8L92.8 631.3L92.1 631.8ZM179.0 618.8L193.4 623.5L207.7 618.1L222.1 621.6L236.5 618.1L240.6 617.4L236.5 614.7L222.1 604.9L207.8 614.7L193.4 611.4L179.0 616.0L172.4 617.4ZM176.3 617.4L179.0 616.9L193.4 611.9L207.5 617.4L193.4 623.0L179.0 618.0ZM208.3 617.4L222.1 606.9L236.0 617.4L222.1 620.9ZM279.6 618.1L294.0 618.1L294.0 617.4L294.0 616.9L279.6 616.9L269.1 603.0L269.1 588.6L267.5 574.2L279.6 564.1L294.0 564.1L294.0 563.2L279.6 563.2L266.4 574.2L267.2 588.6L267.2 603.0L275.5 617.4ZM207.8 599.7L218.8 588.6L222.1 583.6L227.2 588.6L236.5 598.0L245.8 588.6L236.5 576.1L234.6 574.2L222.1 570.1L209.7 574.2L207.8 575.4L205.8 574.2L193.4 570.1L189.2 574.2L193.4 586.7L194.5 588.6ZM195.7 588.6L193.4 584.8L189.9 574.2L193.4 570.7L203.9 574.2L207.8 576.5L211.6 574.2L222.1 570.7L232.7 574.2L236.5 578.1L244.4 588.6L236.5 596.5L228.6 588.6L222.1 582.1L217.8 588.6L207.8 598.7ZM78.4 561.6L92.8 566.8L107.1 565.5L109.6 559.8L107.1 553.2L96.7 545.4L100.7 531.0L92.8 523.0L87.0 531.0L78.4 537.8L64.0 534.5L56.6 531.0L64.0 526.2L70.6 516.6L64.0 507.0L49.6 506.8L39.9 516.6L35.2 520.1L20.9 520.1L20.9 522.3L35.2 522.3L42.7 516.6L49.6 509.7L64.0 510.0L68.5 516.6L64.0 523.2L51.9 531.0L49.6 533.3L35.2 539.8L20.9 539.8L20.9 541.9L35.2 541.9L49.6 538.0L53.1 545.4L64.0 556.3L71.4 559.8ZM76.1 559.8L64.0 554.2L55.3 545.4L64.0 536.7L78.4 540.0L89.9 531.0L92.8 527.0L96.7 531.0L94.1 545.4L107.1 555.2L108.9 559.8L107.1 563.8L92.8 565.4L78.4 560.4ZM236.5 568.9L250.9 564.5L255.6 559.8L263.1 545.4L250.9 539.4L236.5 541.3L235.8 545.4L235.1 559.8ZM235.9 559.8L236.5 548.6L236.8 545.4L250.9 539.9L262.1 545.4L252.8 559.8L250.9 561.8L236.5 563.6ZM135.9 546.1L136.8 545.4L138.1 531.0L135.9 523.8L133.0 516.6L121.5 503.8L115.8 502.2L115.8 487.8L110.0 487.8L110.0 502.2L121.5 505.4L131.6 516.6L135.9 527.4L137.0 531.0L135.9 543.0L132.3 531.0L121.5 526.7L111.0 516.6L107.1 504.5L92.8 509.1L85.8 502.2L85.8 487.8L83.0 487.8L83.0 502.2L92.8 512.0L107.1 509.2L109.5 516.6L121.5 528.1L128.7 531.0L134.9 545.4ZM236.5 523.2L238.4 516.6L250.9 507.6L265.2 514.5L277.5 502.2L277.5 487.8L276.5 487.8L276.5 502.2L265.2 513.4L250.9 506.7L237.0 502.2L237.0 487.8L236.5 487.8L232.4 487.8L232.4 502.2L234.6 516.6ZM235.7 516.6L236.5 505.4L237.3 516.6L236.5 519.3Z" fill="#f07a65" stroke="#f07a65" stroke-width="0.4" fill-rule="evenodd"/>
<path d="M87.6 703.8L92.8 702.2L107.1 694.8L121.5 699.9L132.0 689.4L121.5 678.9L118.8 675.0L121.5 674.5L135.9 674.0L150.2 674.0L155.4 675.0L164.6 677.2L179.0 681.6L187.0 675.0L179.0 667.0L167.7 660.6L179.0 648.4L180.5 646.2L179.0 644.7L164.6 643.2L150.2 632.9L135.9 633.5L130.7 631.8L121.5 622.6L118.8 617.4L107.1 605.7L92.8 604.7L90.1 603.0L78.4 591.3L66.7 603.0L64.0 608.2L49.6 605.1L35.2 604.7L20.9 604.7L20.9 606.3L35.2 606.3L49.6 607.1L64.0 613.3L69.3 603.0L78.4 594.0L87.4 603.0L92.7 606.3L107.1 608.4L116.2 617.4L121.5 627.7L125.6 631.8L135.9 635.2L150.2 633.9L164.6 644.3L179.0 645.5L179.7 646.2L179.0 647.2L166.5 660.6L179.0 667.6L186.4 675.0L179.0 681.1L164.6 676.0L160.5 675.0L150.2 672.9L135.9 672.9L121.5 673.9L116.2 675.0L121.5 682.8L128.1 689.4L121.5 696.0L107.1 693.9L92.7 700.5L82.5 703.8L82.5 718.2L87.6 718.2ZM268.6 703.8L275.5 689.4L265.2 679.1L261.1 675.0L265.2 670.9L268.6 660.6L265.2 658.5L250.9 650.3L246.8 646.2L250.9 645.5L265.2 640.2L279.6 645.5L294.0 645.5L294.0 644.7L279.6 644.7L265.2 639.7L250.9 644.7L241.6 646.2L236.5 651.4L222.1 647.3L207.8 647.9L203.0 660.6L207.8 673.3L222.1 667.2L236.5 662.2L245.7 660.6L250.9 655.5L265.2 659.6L266.9 660.6L265.2 665.8L256.0 675.0L265.2 684.3L270.4 689.4L266.9 703.8L266.9 718.2L268.6 718.2ZM203.6 660.6L207.7 649.6L222.1 648.3L236.5 656.5L240.6 660.6L236.5 661.3L222.1 666.7L207.7 671.6ZM207.8 699.9L210.8 689.4L207.8 678.9L197.3 689.4ZM201.1 689.4L207.8 682.8L209.7 689.4L207.8 696.0ZM64.0 634.4L68.1 631.8L64.0 621.5L53.7 631.8ZM58.9 631.8L64.0 626.7L66.1 631.8L64.0 633.1ZM179.0 619.6L193.4 624.0L207.8 619.0L222.1 622.2L236.5 619.0L245.7 617.4L236.5 611.4L222.1 603.0L236.5 599.4L247.3 588.6L236.5 574.2L250.9 567.3L258.3 559.8L264.2 545.4L250.9 538.9L236.5 536.2L235.0 545.4L234.3 559.8L222.1 569.4L207.8 574.2L193.4 569.4L188.6 574.2L193.4 588.6L193.4 588.6L207.8 600.6L222.1 603.0L207.8 611.4L193.4 610.9L179.0 615.2L168.5 617.4ZM172.4 617.4L179.0 616.0L193.4 611.4L207.8 614.7L222.1 604.9L236.5 614.7L240.6 617.4L236.5 618.1L222.1 621.6L207.8 618.1L193.4 623.5L179.0 618.8ZM194.5 588.6L193.4 586.7L189.2 574.2L193.4 570.1L205.8 574.2L207.8 575.4L209.7 574.2L222.1 570.1L234.6 574.2L236.5 576.1L245.8 588.6L236.5 598.0L227.2 588.6L222.1 583.6L218.8 588.6L207.8 599.7ZM219.7 588.6L222.1 585.0L225.7 588.6L222.1 603.0ZM235.1 559.8L235.8 545.4L236.5 541.3L250.9 539.4L263.1 545.4L255.6 559.8L250.9 564.5L236.5 568.9ZM279.6 619.0L294.0 619.0L294.0 618.1L279.6 618.1L275.5 617.4L267.2 603.0L267.2 588.6L266.4 574.2L279.6 563.2L294.0 563.2L294.0 562.2L279.6 562.2L265.2 574.2L265.2 574.2L265.2 588.6L265.2 603.0L265.2 603.0L270.4 617.4ZM78.4 562.7L92.8 568.2L107.1 567.1L110.4 559.8L107.1 551.3L99.3 545.4L104.7 531.0L92.8 519.0L84.1 531.0L78.4 535.5L64.0 532.3L61.2 531.0L64.0 529.2L72.6 516.6L64.0 504.0L49.6 504.0L37.0 516.6L35.2 517.9L20.9 517.9L20.9 520.1L35.2 520.1L39.9 516.6L49.6 506.8L64.0 507.0L70.6 516.6L64.0 526.2L56.6 531.0L64.0 534.5L78.4 537.8L87.0 531.0L92.8 523.0L100.7 531.0L96.7 545.4L107.1 553.2L109.6 559.8L107.1 565.5L92.8 566.8L78.4 561.6L71.4 559.8L64.0 556.3L53.1 545.4L49.6 538.0L35.2 541.9L20.9 541.9L20.9 544.1L35.2 544.1L49.6 542.6L50.9 545.4L64.0 558.5L66.8 559.8ZM135.9 547.0L138.1 545.4L139.2 531.0L135.9 520.2L134.4 516.6L121.5 502.2L121.5 487.8L121.5 487.8L115.8 487.8L115.8 502.2L121.5 503.8L133.0 516.6L135.9 523.8L138.1 531.0L136.8 545.4L135.9 546.1L134.9 545.4L128.7 531.0L121.5 528.1L109.5 516.6L107.1 509.2L92.8 512.0L83.0 502.2L83.0 487.8L80.1 487.8L80.1 502.2L92.8 514.9L107.1 513.8L108.0 516.6L121.5 529.6L125.1 531.0L133.7 545.4ZM236.5 527.1L239.6 516.6L250.9 508.4L265.2 515.6L278.6 502.2L278.6 487.8L277.5 487.8L277.5 502.2L265.2 514.5L250.9 507.6L238.4 516.6L236.5 523.2L234.6 516.6L232.4 502.2L232.4 487.8L227.3 487.8L227.3 502.2L233.4 516.6Z" fill="#ec6148" stroke="#ec6148" stroke-width="0.4" fill-rule="evenodd"/>
<path d="M92.8 718.2L92.8 718.2L92.8 703.8L107.1 695.7L121.5 703.8L121.5 718.2L121.5 718.2L121.5 718.2L121.5 703.8L135.9 689.4L150.2 689.4L150.2 689.4L164.6 678.4L179.0 682.1L187.7 675.0L179.0 666.4L168.8 660.6L179.0 649.6L181.4 646.2L179.0 643.8L164.6 642.0L150.2 631.8L150.2 631.8L135.9 617.4L135.9 617.4L121.5 603.0L121.5 588.6L121.5 588.6L107.1 588.6L92.8 588.6L78.4 588.6L64.0 588.6L49.6 588.6L35.2 588.6L20.9 588.6L20.9 588.6L20.9 603.0L20.9 604.7L35.2 604.7L49.6 605.1L64.0 608.2L66.7 603.0L78.4 591.3L90.1 603.0L92.8 604.7L107.1 605.7L118.8 617.4L121.5 622.6L130.7 631.8L135.9 633.5L150.3 632.9L164.6 643.2L179.0 644.7L180.5 646.2L179.0 648.4L167.7 660.6L179.0 667.0L187.0 675.0L179.0 681.6L164.6 677.2L155.4 675.0L150.3 674.0L135.9 674.0L121.5 674.5L118.8 675.0L121.5 678.9L132.0 689.4L121.5 699.9L107.1 694.8L92.8 702.2L87.6 703.8L87.6 718.2ZM207.8 718.2L207.8 718.2L207.8 703.8L211.9 689.4L207.8 675.0L222.1 667.7L236.5 663.0L250.9 675.0L250.9 689.4L250.9 689.4L265.2 703.8L265.2 718.2L265.2 718.2L266.9 718.2L266.9 703.8L270.4 689.4L265.2 684.3L256.0 675.0L265.2 665.8L266.9 660.6L265.2 659.6L250.9 655.5L245.7 660.6L236.5 662.2L222.1 667.2L207.8 673.3L203.0 660.6L207.8 647.9L222.1 647.3L236.5 651.4L241.6 646.2L250.9 644.7L265.2 639.7L279.6 644.7L294.0 644.7L294.0 643.8L279.6 643.8L265.2 639.1L250.9 643.8L236.5 646.2L222.1 646.2L207.8 646.2L207.8 646.2L202.3 660.6L207.8 675.0L193.4 689.4L193.4 689.4L193.4 689.4L207.8 703.8L207.8 718.2ZM197.3 689.4L207.8 678.9L210.8 689.4L207.8 699.9ZM64.0 633.1L66.1 631.8L64.0 626.7L58.9 631.8ZM164.6 617.4L179.0 620.4L193.4 624.5L207.7 619.8L222.1 622.9L236.5 619.8L250.9 617.4L265.2 617.4L279.6 619.8L294.0 619.8L294.0 619.0L279.6 619.0L270.4 617.4L265.2 603.0L265.2 603.0L265.2 588.6L265.2 574.2L265.2 574.2L279.6 562.2L294.0 562.2L294.0 561.3L279.6 561.3L265.2 568.5L261.1 559.8L265.2 545.4L265.2 545.4L265.2 545.4L250.9 538.3L236.5 531.0L240.7 516.6L250.9 509.2L265.2 516.6L265.2 516.6L279.6 531.0L279.6 531.0L294.0 531.0L294.0 531.0L294.0 516.6L294.0 502.2L294.0 487.8L279.6 487.8L278.6 487.8L278.6 502.2L265.2 515.6L250.9 508.4L239.6 516.6L236.5 527.1L233.4 516.6L227.3 502.2L227.3 487.8L222.1 487.8L222.1 487.8L222.1 502.2L222.1 502.2L232.3 516.6L222.1 531.0L222.1 531.0L222.1 531.0L234.1 545.4L233.5 559.8L222.1 568.8L207.8 572.8L193.4 568.8L187.9 574.2L192.4 588.6L193.4 589.6L207.8 601.6L216.4 603.0L207.8 608.0L193.4 610.3L179.0 614.4L164.6 617.4L164.6 617.4ZM168.5 617.4L179.0 615.2L193.4 610.9L207.8 611.4L222.1 603.0L207.8 600.6L193.4 588.6L193.4 588.6L188.6 574.2L193.4 569.4L207.8 574.2L222.1 569.4L234.3 559.8L235.0 545.4L236.5 536.2L250.9 538.9L264.2 545.4L258.3 559.8L250.9 567.3L236.5 574.2L247.3 588.6L236.5 599.4L222.1 603.0L236.5 611.4L245.7 617.4L236.5 619.0L222.1 622.2L207.8 619.0L193.4 624.0L179.0 619.6ZM227.9 603.0L236.5 600.9L248.7 588.6L242.2 574.2L250.9 570.1L259.5 574.2L259.5 588.6L259.5 603.0L250.9 617.4L236.5 608.0ZM150.2 588.6L150.2 588.6L150.2 588.6L150.2 588.6ZM222.1 603.0L225.7 588.6L222.1 585.0L219.7 588.6ZM220.7 588.6L222.1 586.5L224.3 588.6L222.1 597.3ZM35.2 560.4L49.6 560.4L64.0 560.4L78.4 563.9L92.8 569.6L107.1 568.8L111.1 559.8L107.1 549.3L101.9 545.4L107.1 533.4L121.5 531.0L132.5 545.4L135.9 547.8L139.3 545.4L140.3 531.0L135.9 516.6L135.9 502.2L135.9 487.8L135.9 487.8L121.5 487.8L121.5 502.2L134.4 516.6L135.9 520.2L139.2 531.0L138.1 545.4L135.9 547.0L133.7 545.4L125.1 531.0L121.5 529.6L108.0 516.6L107.1 513.8L92.8 514.9L80.1 502.2L80.1 487.8L78.4 487.8L64.0 487.8L49.6 487.8L35.2 487.8L20.9 487.8L20.9 502.2L20.9 516.6L20.9 517.9L35.2 517.9L37.0 516.6L49.6 504.0L64.0 504.0L72.6 516.6L64.0 529.2L61.2 531.0L64.0 532.3L78.4 535.5L84.1 531.0L92.8 519.0L104.7 531.0L99.3 545.4L107.1 551.3L110.4 559.8L107.1 567.1L92.8 568.2L78.4 562.7L66.8 559.8L64.0 558.5L50.9 545.4L49.6 542.6L35.2 544.1L20.9 544.1L20.9 545.4L20.9 559.8L20.9 560.4ZM68.1 531.0L74.7 516.6L78.4 504.8L90.1 516.6L81.2 531.0L78.4 533.3Z" fill="#dc553c" stroke="#dc553c" stroke-width="0.4" fill-rule="evenodd"/>
<path d="M94.3 703.8L107.1 696.6L119.9 703.8L119.9 718.2L121.5 718.2L121.5 703.8L107.1 695.7L92.8 703.8L92.8 718.2L94.3 718.2ZM123.1 703.8L135.9 691.0L150.2 691.0L151.8 689.4L164.6 679.7L179.0 682.6L188.3 675.0L179.0 665.7L169.9 660.6L179.0 650.9L182.3 646.2L179.0 643.0L164.6 640.9L151.8 631.8L150.2 630.2L137.5 617.4L135.9 616.4L122.5 603.0L123.1 588.6L121.5 587.6L107.1 584.3L92.8 584.3L78.4 587.0L64.0 587.0L49.6 587.0L35.2 587.0L20.9 587.0L20.9 588.6L35.2 588.6L49.6 588.6L64.0 588.6L78.4 588.6L92.8 588.6L107.1 588.6L121.5 588.6L121.5 588.6L121.5 603.0L135.9 617.4L135.9 617.4L150.2 631.8L150.2 631.8L164.6 642.0L179.0 643.8L181.4 646.2L179.0 649.6L168.8 660.6L179.0 666.4L187.7 675.0L179.0 682.1L164.6 678.4L150.2 689.4L150.2 689.4L135.9 689.4L121.5 703.8L121.5 718.2L123.1 718.2ZM207.8 703.8L193.4 689.4L193.4 689.4L193.4 689.4L207.8 675.0L202.3 660.6L207.8 646.2L207.8 646.2L222.1 646.2L236.5 646.2L250.9 643.8L265.2 639.1L279.6 643.8L294.0 643.8L294.0 643.0L279.6 643.0L265.2 638.6L250.9 643.0L236.5 645.2L222.1 645.2L207.8 645.2L206.7 646.2L201.7 660.6L206.2 675.0L193.4 687.8L192.3 689.4L193.4 690.5L206.7 703.8L206.7 718.2L207.8 718.2ZM208.8 703.8L213.1 689.4L208.8 675.0L222.1 668.2L236.5 663.9L249.8 675.0L249.8 689.4L250.9 690.5L264.2 703.8L264.2 718.2L265.2 718.2L265.2 703.8L250.9 689.4L250.9 689.4L250.9 675.0L236.5 663.0L222.1 667.7L207.8 675.0L211.9 689.4L207.8 703.8L207.8 718.2L208.8 718.2ZM164.6 619.0L179.0 621.2L193.4 625.0L207.8 620.7L222.1 623.5L236.5 620.7L250.9 618.5L265.2 618.5L279.6 620.7L294.0 620.7L294.0 619.8L279.6 619.8L265.2 617.4L250.9 617.4L236.5 619.8L222.1 622.9L207.8 619.8L193.4 624.5L179.0 620.4L164.6 617.4L164.6 617.4L164.6 617.4L179.0 614.4L193.4 610.3L207.8 608.0L216.4 603.0L207.8 601.6L193.4 589.6L192.4 588.6L187.9 574.2L193.4 568.8L207.8 572.8L222.1 568.8L233.5 559.8L234.1 545.4L222.1 531.0L222.1 531.0L222.1 531.0L232.3 516.6L222.1 502.2L222.1 502.2L222.1 487.8L221.1 487.8L221.1 502.2L222.1 503.8L231.2 516.6L222.1 529.4L221.1 531.0L222.1 532.1L233.2 545.4L232.7 559.8L222.1 568.1L207.8 571.3L193.4 568.1L187.3 574.2L191.5 588.6L193.4 590.5L207.8 602.5L210.6 603.0L207.8 604.7L193.4 609.8L179.0 613.6L164.6 616.4L163.0 617.4ZM236.5 608.0L250.9 617.4L259.5 603.0L259.5 588.6L259.5 574.2L250.9 570.1L242.2 574.2L248.7 588.6L236.5 600.9L227.9 603.0ZM233.6 603.0L236.5 602.3L250.2 588.6L248.0 574.2L250.9 572.8L253.8 574.2L253.8 588.6L253.8 603.0L250.9 607.8L236.5 604.7ZM150.2 589.7L151.3 588.6L150.2 587.6L148.7 588.6ZM150.2 588.6L150.2 588.6L150.2 588.6L150.2 588.6ZM222.1 597.3L224.3 588.6L222.1 586.5L220.7 588.6ZM221.6 588.6L222.1 587.9L222.8 588.6L222.1 591.5ZM35.2 562.0L49.6 562.0L64.0 562.0L78.4 565.0L92.8 571.0L107.1 570.4L111.9 559.8L107.1 547.4L104.5 545.4L107.1 539.4L121.5 532.6L131.2 545.4L135.9 548.7L140.5 545.4L141.4 531.0L137.5 516.6L137.5 502.2L137.5 487.8L135.9 487.8L135.9 502.2L135.9 516.6L140.3 531.0L139.3 545.4L135.9 547.8L132.5 545.4L121.5 531.0L107.1 533.4L101.9 545.4L107.1 549.3L111.1 559.8L107.1 568.8L92.8 569.6L78.4 563.9L64.0 560.4L49.6 560.4L35.2 560.4L20.9 560.4L20.9 562.0ZM265.2 568.5L279.6 561.3L294.0 561.3L294.0 560.3L279.6 560.3L265.2 562.7L263.9 559.8L265.2 555.0L266.3 545.4L265.2 543.8L250.9 537.8L237.5 531.0L241.8 516.6L250.9 510.0L263.7 516.6L265.2 518.2L278.0 531.0L279.6 532.1L294.0 532.1L294.0 531.0L279.6 531.0L279.6 531.0L265.2 516.6L265.2 516.6L250.9 509.2L240.7 516.6L236.5 531.0L250.9 538.3L265.2 545.4L265.2 545.4L265.2 545.4L261.1 559.8ZM78.4 533.3L81.2 531.0L90.1 516.6L78.4 504.8L74.7 516.6L68.1 531.0ZM76.7 516.6L78.4 511.4L83.6 516.6L78.4 531.0Z" fill="#c84e37" stroke="#c84e37" stroke-width="0.4" fill-rule="evenodd"/>
<path d="M95.9 703.8L107.1 697.5L118.3 703.8L118.3 718.2L119.9 718.2L119.9 703.8L107.1 696.6L94.3 703.8L94.3 718.2L95.9 718.2ZM124.7 703.8L135.9 692.6L150.2 692.6L153.4 689.4L164.6 680.9L179.0 683.2L188.9 675.0L179.0 665.1L171.1 660.6L179.0 652.1L183.1 646.2L179.0 642.1L164.6 639.8L153.4 631.8L150.2 628.6L139.1 617.4L135.9 615.4L123.6 603.0L124.7 588.6L121.5 586.6L107.1 579.9L92.8 579.9L78.4 585.4L64.0 585.4L49.6 585.4L35.2 585.4L20.9 585.4L20.9 587.0L35.2 587.0L49.6 587.0L64.0 587.0L78.4 587.0L92.8 584.3L107.1 584.3L121.5 587.6L123.1 588.6L122.5 603.0L135.9 616.4L137.5 617.4L150.2 630.2L151.8 631.8L164.6 640.9L179.0 643.0L182.3 646.2L179.0 650.9L169.9 660.6L179.0 665.7L188.3 675.0L179.0 682.6L164.6 679.7L151.8 689.4L150.2 691.0L135.9 691.0L123.1 703.8L123.1 718.2L124.7 718.2ZM206.7 703.8L193.4 690.5L192.3 689.4L193.4 687.8L206.2 675.0L201.7 660.6L206.7 646.2L207.8 645.2L222.1 645.2L236.5 645.2L250.9 643.0L265.2 638.6L279.6 643.0L294.0 643.0L294.0 642.1L279.6 642.1L265.2 638.1L250.9 642.1L236.5 644.2L222.1 644.2L207.8 644.2L205.7 646.2L201.0 660.6L204.6 675.0L193.4 686.2L191.3 689.4L193.4 691.5L205.7 703.8L205.7 718.2L206.7 718.2ZM209.8 703.8L214.2 689.4L209.8 675.0L222.1 668.8L236.5 664.7L248.8 675.0L248.8 689.4L250.9 691.5L263.2 703.8L263.2 718.2L264.2 718.2L264.2 703.8L250.9 690.5L249.8 689.4L249.8 675.0L236.5 663.9L222.1 668.2L208.8 675.0L213.1 689.4L208.8 703.8L208.8 718.2L209.8 718.2ZM164.6 620.6L179.0 622.1L193.4 625.6L207.7 621.5L222.1 624.1L236.5 621.5L250.9 619.5L265.2 619.5L279.6 621.5L294.0 621.5L294.0 620.7L279.6 620.7L265.2 618.5L250.9 618.5L236.5 620.7L222.1 623.5L207.8 620.7L193.4 625.0L179.0 621.2L164.6 619.0L163.0 617.4L164.6 616.4L179.0 613.6L193.4 609.8L207.8 604.7L210.6 603.0L207.8 602.5L193.4 590.5L191.5 588.6L187.3 574.2L193.4 568.1L207.8 571.3L222.1 568.1L232.7 559.8L233.2 545.4L222.1 532.1L221.1 531.0L222.1 529.4L231.2 516.6L222.1 503.8L221.1 502.2L221.1 487.8L220.1 487.8L220.1 502.2L222.1 505.4L230.0 516.6L222.1 527.8L220.1 531.0L222.1 533.1L232.4 545.4L231.9 559.8L222.1 567.5L207.7 569.9L193.4 567.5L186.7 574.2L190.5 588.6L193.4 591.5L207.2 603.0L193.4 609.3L179.0 612.8L164.6 615.4L161.4 617.4ZM236.5 604.7L250.9 607.8L253.8 603.0L253.8 588.6L253.8 574.2L250.9 572.8L248.0 574.2L250.2 588.6L236.5 602.3L233.6 603.0ZM150.3 590.7L152.3 588.6L150.3 586.6L147.1 588.6ZM148.7 588.6L150.2 587.6L151.3 588.6L150.2 589.7ZM222.1 591.5L222.8 588.6L222.1 587.9L221.6 588.6ZM35.2 563.5L49.6 563.5L64.0 563.5L78.4 566.2L92.8 572.4L107.1 572.1L112.6 559.8L107.1 545.4L121.5 534.2L130.0 545.4L135.9 549.5L141.7 545.4L142.5 531.0L139.1 516.6L139.1 502.2L139.1 487.8L137.5 487.8L137.5 502.2L137.5 516.6L141.4 531.0L140.5 545.4L135.9 548.7L131.2 545.4L121.5 532.6L107.1 539.4L104.5 545.4L107.1 547.4L111.9 559.8L107.1 570.4L92.7 571.0L78.4 565.0L64.0 562.0L49.6 562.0L35.2 562.0L20.9 562.0L20.9 563.5ZM265.2 562.7L279.6 560.3L294.0 560.3L294.0 559.8L294.0 559.2L279.6 559.2L267.3 545.4L265.2 542.2L250.9 537.3L238.6 531.0L243.0 516.6L250.9 510.9L262.1 516.6L265.2 519.8L276.4 531.0L279.6 533.1L294.0 533.1L294.0 532.1L279.6 532.1L278.0 531.0L265.2 518.2L263.7 516.6L250.9 510.0L241.8 516.6L237.5 531.0L250.9 537.8L265.2 543.8L266.3 545.4L265.2 555.0L263.9 559.8ZM78.4 531.0L83.6 516.6L78.4 511.4L76.7 516.6Z" fill="#b44631" stroke="#b44631" stroke-width="0.4" fill-rule="evenodd"/>
<path d="M97.5 703.8L107.1 698.4L116.7 703.8L116.7 718.2L118.3 718.2L118.3 703.8L107.1 697.5L95.9 703.8L95.9 718.2L97.5 718.2ZM126.3 703.8L135.9 694.2L150.2 694.2L155.0 689.4L164.6 682.1L179.0 683.7L190.3 689.4L193.4 692.5L204.7 703.8L204.7 718.2L205.7 718.2L205.7 703.8L193.4 691.5L191.3 689.4L193.4 686.2L204.6 675.0L201.0 660.6L205.7 646.2L207.8 644.2L222.1 644.2L236.5 644.2L250.9 642.1L265.2 638.1L279.6 642.1L294.0 642.1L294.0 641.3L279.6 641.3L265.2 637.6L250.9 641.3L236.5 643.1L222.1 643.1L207.8 643.1L204.7 646.2L200.4 660.6L203.0 675.0L193.4 684.6L189.6 675.0L179.0 664.4L172.2 660.6L179.0 653.3L184.0 646.2L179.0 641.3L164.6 638.6L155.0 631.8L150.2 627.0L140.7 617.4L135.9 614.3L124.6 603.0L126.3 588.6L121.5 585.5L107.1 575.5L92.8 575.5L78.4 583.8L64.0 583.8L49.6 583.8L35.2 583.8L20.9 583.8L20.9 585.4L35.2 585.4L49.6 585.4L64.0 585.4L78.4 585.4L92.8 579.9L107.1 579.9L121.5 586.6L124.7 588.6L123.6 603.0L135.9 615.4L139.1 617.4L150.2 628.6L153.4 631.8L164.6 639.8L179.0 642.1L183.1 646.2L179.0 652.1L171.1 660.6L179.0 665.1L188.9 675.0L179.0 683.2L164.6 680.9L153.4 689.4L150.2 692.6L135.9 692.6L124.7 703.8L124.7 718.2L126.3 718.2ZM210.8 703.8L215.3 689.4L210.8 675.0L222.1 669.3L236.5 665.6L247.8 675.0L247.8 689.4L250.9 692.5L262.2 703.8L262.2 718.2L263.2 718.2L263.2 703.8L250.9 691.5L248.8 689.4L248.8 675.0L236.5 664.7L222.1 668.8L209.8 675.0L214.2 689.4L209.8 703.8L209.8 718.2L210.8 718.2ZM164.6 622.2L179.0 622.9L193.4 626.1L207.8 622.4L222.1 624.8L236.5 622.4L250.9 620.5L265.2 620.5L279.6 622.4L294.0 622.4L294.0 621.5L279.6 621.5L265.2 619.5L250.9 619.5L236.5 621.5L222.1 624.1L207.8 621.5L193.4 625.6L179.0 622.1L164.6 620.6L161.4 617.4L164.6 615.4L179.0 612.8L193.4 609.3L207.2 603.0L193.4 591.5L190.5 588.6L186.7 574.2L193.4 567.5L207.8 569.9L222.1 567.5L231.9 559.8L232.4 545.4L222.1 533.1L220.1 531.0L222.1 527.8L230.0 516.6L222.1 505.4L220.1 502.2L220.1 487.8L219.0 487.8L219.0 502.2L222.1 507.0L228.9 516.6L222.1 526.2L219.0 531.0L222.1 534.1L231.5 545.4L231.1 559.8L222.1 566.9L207.8 568.5L193.4 566.9L186.0 574.2L189.5 588.6L193.4 592.5L206.0 603.0L193.4 608.8L179.0 612.0L164.6 614.3L159.8 617.4ZM150.2 591.7L153.3 588.6L150.2 585.5L145.5 588.6ZM147.1 588.6L150.2 586.6L152.3 588.6L150.2 590.7ZM35.2 565.0L49.6 565.0L64.0 565.0L78.4 567.3L92.8 573.8L107.1 573.7L113.3 559.8L109.2 545.4L121.5 535.8L128.8 545.4L135.9 550.4L142.9 545.4L143.6 531.0L140.7 516.6L140.7 502.2L140.7 487.8L139.1 487.8L139.1 502.2L139.1 516.6L142.5 531.0L141.7 545.4L135.9 549.5L130.0 545.4L121.5 534.2L107.1 545.4L112.6 559.8L107.1 572.1L92.8 572.4L78.4 566.2L64.0 563.5L49.6 563.5L35.2 563.5L20.9 563.5L20.9 565.0ZM279.6 559.2L294.0 559.2L294.0 558.1L279.6 558.1L268.3 545.4L265.2 540.6L250.9 536.8L239.6 531.0L244.1 516.6L250.9 511.7L260.5 516.6L265.2 521.4L274.8 531.0L279.6 534.1L294.0 534.1L294.0 533.1L279.6 533.1L276.4 531.0L265.2 519.8L262.1 516.6L250.9 510.9L243.0 516.6L238.6 531.0L250.9 537.3L265.2 542.2L267.3 545.4Z" fill="#a03f2c" stroke="#a03f2c" stroke-width="0.4" fill-rule="evenodd"/>
<path d="M107.1 718.2L116.7 718.2L116.7 703.8L107.1 698.4L97.5 703.8L97.5 718.2ZM135.9 718.2L150.2 718.2L164.6 718.2L179.0 718.2L193.4 718.2L204.7 718.2L204.7 703.8L193.4 692.5L190.3 689.4L179.0 683.7L164.6 682.1L155.0 689.4L150.2 694.2L135.9 694.2L126.3 703.8L126.3 718.2ZM222.1 718.2L236.5 718.2L250.9 718.2L262.2 718.2L262.2 703.8L250.9 692.5L247.8 689.4L247.8 675.0L236.5 665.6L222.1 669.3L210.8 675.0L215.3 689.4L210.8 703.8L210.8 718.2ZM193.4 684.6L203.0 675.0L200.4 660.6L204.7 646.2L207.8 643.1L222.1 643.1L236.5 643.1L250.9 641.3L265.2 637.6L279.6 641.3L294.0 641.3L294.0 631.8L294.0 622.4L279.6 622.4L265.2 620.5L250.9 620.5L236.5 622.4L222.1 624.8L207.8 622.4L193.4 626.1L179.0 622.9L164.6 622.2L159.8 617.4L164.6 614.3L179.0 612.0L193.4 608.8L206.0 603.0L193.4 592.5L189.5 588.6L186.0 574.2L193.4 566.9L207.8 568.5L222.1 566.9L231.1 559.8L231.5 545.4L222.1 534.1L219.0 531.0L222.1 526.2L228.9 516.6L222.1 507.0L219.0 502.2L219.0 487.8L207.8 487.8L193.4 487.8L179.0 487.8L164.6 487.8L150.2 487.8L140.7 487.8L140.7 502.2L140.7 516.6L143.6 531.0L142.9 545.4L135.9 550.4L128.8 545.4L121.5 535.8L109.2 545.4L113.3 559.8L107.1 573.7L92.8 573.8L78.4 567.3L64.0 565.0L49.6 565.0L35.2 565.0L20.9 565.0L20.9 574.2L20.9 583.8L35.2 583.8L49.6 583.8L64.0 583.8L78.4 583.8L92.8 575.5L107.1 575.5L121.5 585.5L126.3 588.6L124.6 603.0L135.9 614.3L140.7 617.4L150.2 627.0L155.0 631.8L164.6 638.6L179.0 641.3L184.0 646.2L179.0 653.3L172.2 660.6L179.0 664.4L189.6 675.0ZM145.5 588.6L150.2 585.5L153.3 588.6L150.2 591.7ZM279.6 558.1L294.0 558.1L294.0 545.4L294.0 534.1L279.6 534.1L274.8 531.0L265.2 521.4L260.5 516.6L250.9 511.7L244.1 516.6L239.6 531.0L250.9 536.8L265.2 540.6L268.3 545.4Z" fill="#8a3826" stroke="#8a3826" stroke-width="0.4" fill-rule="evenodd"/>
</g>
<g clip-path="url(#clipa)">
<path d="M157.5 16.2h0M162.5 16.2h0M167.5 16.2h0M172.5 16.2h0M177.5 16.2h0M182.5 16.2h0M187.5 16.2h0M192.5 16.2h0M197.5 16.2h0M202.5 16.2h0M207.5 16.2h0M212.5 16.2h0M232.5 16.2h0M237.5 16.2h0M242.5 16.2h0M247.5 16.2h0M252.5 16.2h0M257.5 16.2h0M262.5 16.2h0M267.5 16.2h0M272.5 16.2h0M277.5 16.2h0M282.5 16.2h0M150.0 21.2h0M155.0 21.2h0M160.0 21.2h0M165.0 21.2h0M170.0 21.2h0M175.0 21.2h0M180.0 21.2h0M185.0 21.2h0M190.0 21.2h0M195.0 21.2h0M200.0 21.2h0M205.0 21.2h0M210.0 21.2h0M230.0 21.2h0M235.0 21.2h0M240.0 21.2h0M245.0 21.2h0M250.0 21.2h0M255.0 21.2h0M260.0 21.2h0M265.0 21.2h0M270.0 21.2h0M275.0 21.2h0M280.0 21.2h0M152.5 26.2h0M157.5 26.2h0M162.5 26.2h0M167.5 26.2h0M172.5 26.2h0M177.5 26.2h0M182.5 26.2h0M187.5 26.2h0M192.5 26.2h0M197.5 26.2h0M202.5 26.2h0M207.5 26.2h0M212.5 26.2h0M217.5 26.2h0M222.5 26.2h0M227.5 26.2h0M232.5 26.2h0M237.5 26.2h0M242.5 26.2h0M247.5 26.2h0M252.5 26.2h0M257.5 26.2h0M262.5 26.2h0M267.5 26.2h0M272.5 26.2h0M277.5 26.2h0M282.5 26.2h0M65.0 31.2h0M70.0 31.2h0M75.0 31.2h0M80.0 31.2h0M85.0 31.2h0M90.0 31.2h0M95.0 31.2h0M100.0 31.2h0M105.0 31.2h0M110.0 31.2h0M115.0 31.2h0M120.0 31.2h0M125.0 31.2h0M130.0 31.2h0M135.0 31.2h0M140.0 31.2h0M145.0 31.2h0M150.0 31.2h0M155.0 31.2h0M160.0 31.2h0M165.0 31.2h0M170.0 31.2h0M175.0 31.2h0M180.0 31.2h0M185.0 31.2h0M190.0 31.2h0M195.0 31.2h0M200.0 31.2h0M205.0 31.2h0M210.0 31.2h0M215.0 31.2h0M220.0 31.2h0M225.0 31.2h0M230.0 31.2h0M235.0 31.2h0M240.0 31.2h0M245.0 31.2h0M250.0 31.2h0M255.0 31.2h0M260.0 31.2h0M265.0 31.2h0M270.0 31.2h0M275.0 31.2h0M280.0 31.2h0M57.5 36.2h0M62.5 36.2h0M67.5 36.2h0M72.5 36.2h0M77.5 36.2h0M82.5 36.2h0M87.5 36.2h0M92.5 36.2h0M97.5 36.2h0M102.5 36.2h0M107.5 36.2h0M112.5 36.2h0M117.5 36.2h0M122.5 36.2h0M127.5 36.2h0M132.5 36.2h0M137.5 36.2h0M142.5 36.2h0M147.5 36.2h0M152.5 36.2h0M157.5 36.2h0M162.5 36.2h0M167.5 36.2h0M172.5 36.2h0M177.5 36.2h0M182.5 36.2h0M187.5 36.2h0M192.5 36.2h0M197.5 36.2h0M202.5 36.2h0M207.5 36.2h0M212.5 36.2h0M217.5 36.2h0M222.5 36.2h0M227.5 36.2h0M232.5 36.2h0M237.5 36.2h0M242.5 36.2h0M247.5 36.2h0M252.5 36.2h0M257.5 36.2h0M262.5 36.2h0M267.5 36.2h0M272.5 36.2h0M277.5 36.2h0M282.5 36.2h0M50.0 41.2h0M55.0 41.2h0M60.0 41.2h0M65.0 41.2h0M70.0 41.2h0M75.0 41.2h0M80.0 41.2h0M85.0 41.2h0M90.0 41.2h0M95.0 41.2h0M100.0 41.2h0M105.0 41.2h0M110.0 41.2h0M115.0 41.2h0M120.0 41.2h0M125.0 41.2h0M130.0 41.2h0M135.0 41.2h0M140.0 41.2h0M145.0 41.2h0M150.0 41.2h0M155.0 41.2h0M160.0 41.2h0M165.0 41.2h0M170.0 41.2h0M175.0 41.2h0M180.0 41.2h0M185.0 41.2h0M190.0 41.2h0M195.0 41.2h0M200.0 41.2h0M205.0 41.2h0M210.0 41.2h0M215.0 41.2h0M220.0 41.2h0M225.0 41.2h0M230.0 41.2h0M235.0 41.2h0M240.0 41.2h0M245.0 41.2h0M250.0 41.2h0M255.0 41.2h0M260.0 41.2h0M265.0 41.2h0M270.0 41.2h0M275.0 41.2h0M280.0 41.2h0M32.5 46.2h0M37.5 46.2h0M42.5 46.2h0M47.5 46.2h0M52.5 46.2h0M57.5 46.2h0M62.5 46.2h0M67.5 46.2h0M72.5 46.2h0M77.5 46.2h0M82.5 46.2h0M87.5 46.2h0M92.5 46.2h0M97.5 46.2h0M102.5 46.2h0M107.5 46.2h0M112.5 46.2h0M117.5 46.2h0M122.5 46.2h0M127.5 46.2h0M132.5 46.2h0M137.5 46.2h0M142.5 46.2h0M147.5 46.2h0M152.5 46.2h0M157.5 46.2h0M162.5 46.2h0M167.5 46.2h0M172.5 46.2h0M177.5 46.2h0M182.5 46.2h0M187.5 46.2h0M192.5 46.2h0M197.5 46.2h0M202.5 46.2h0M207.5 46.2h0M212.5 46.2h0M217.5 46.2h0M222.5 46.2h0M227.5 46.2h0M232.5 46.2h0M237.5 46.2h0M242.5 46.2h0M247.5 46.2h0M252.5 46.2h0M257.5 46.2h0M262.5 46.2h0M267.5 46.2h0M272.5 46.2h0M277.5 46.2h0M282.5 46.2h0M35.0 51.2h0M40.0 51.2h0M45.0 51.2h0M50.0 51.2h0M55.0 51.2h0M60.0 51.2h0M65.0 51.2h0M70.0 51.2h0M75.0 51.2h0M80.0 51.2h0M85.0 51.2h0M90.0 51.2h0M95.0 51.2h0M100.0 51.2h0M105.0 51.2h0M110.0 51.2h0M115.0 51.2h0M120.0 51.2h0M125.0 51.2h0M130.0 51.2h0M135.0 51.2h0M140.0 51.2h0M145.0 51.2h0M150.0 51.2h0M155.0 51.2h0M160.0 51.2h0M165.0 51.2h0M170.0 51.2h0M175.0 51.2h0M180.0 51.2h0M185.0 51.2h0M190.0 51.2h0M195.0 51.2h0M200.0 51.2h0M205.0 51.2h0M210.0 51.2h0M215.0 51.2h0M220.0 51.2h0M225.0 51.2h0M230.0 51.2h0M235.0 51.2h0M240.0 51.2h0M245.0 51.2h0M250.0 51.2h0M255.0 51.2h0M260.0 51.2h0M265.0 51.2h0M270.0 51.2h0M275.0 51.2h0M280.0 51.2h0M32.5 56.2h0M37.5 56.2h0M42.5 56.2h0M47.5 56.2h0M52.5 56.2h0M57.5 56.2h0M62.5 56.2h0M67.5 56.2h0M72.5 56.2h0M77.5 56.2h0M82.5 56.2h0M87.5 56.2h0M92.5 56.2h0M97.5 56.2h0M102.5 56.2h0M107.5 56.2h0M112.5 56.2h0M117.5 56.2h0M122.5 56.2h0M127.5 56.2h0M132.5 56.2h0M137.5 56.2h0M142.5 56.2h0M147.5 56.2h0M152.5 56.2h0M157.5 56.2h0M162.5 56.2h0M167.5 56.2h0M172.5 56.2h0M177.5 56.2h0M182.5 56.2h0M187.5 56.2h0M192.5 56.2h0M197.5 56.2h0M202.5 56.2h0M207.5 56.2h0M212.5 56.2h0M217.5 56.2h0M222.5 56.2h0M227.5 56.2h0M232.5 56.2h0M237.5 56.2h0M242.5 56.2h0M247.5 56.2h0M252.5 56.2h0M257.5 56.2h0M262.5 56.2h0M267.5 56.2h0M272.5 56.2h0M277.5 56.2h0M282.5 56.2h0M35.0 61.2h0M40.0 61.2h0M45.0 61.2h0M50.0 61.2h0M55.0 61.2h0M60.0 61.2h0M65.0 61.2h0M70.0 61.2h0M75.0 61.2h0M80.0 61.2h0M85.0 61.2h0M90.0 61.2h0M95.0 61.2h0M100.0 61.2h0M105.0 61.2h0M110.0 61.2h0M115.0 61.2h0M120.0 61.2h0M125.0 61.2h0M130.0 61.2h0M135.0 61.2h0M140.0 61.2h0M145.0 61.2h0M150.0 61.2h0M155.0 61.2h0M160.0 61.2h0M165.0 61.2h0M170.0 61.2h0M175.0 61.2h0M180.0 61.2h0M185.0 61.2h0M190.0 61.2h0M195.0 61.2h0M200.0 61.2h0M205.0 61.2h0M210.0 61.2h0M215.0 61.2h0M220.0 61.2h0M225.0 61.2h0M230.0 61.2h0M235.0 61.2h0M240.0 61.2h0M245.0 61.2h0M250.0 61.2h0M255.0 61.2h0M260.0 61.2h0M265.0 61.2h0M270.0 61.2h0M275.0 61.2h0M280.0 61.2h0M32.5 66.2h0M37.5 66.2h0M42.5 66.2h0M47.5 66.2h0M52.5 66.2h0M57.5 66.2h0M62.5 66.2h0M67.5 66.2h0M72.5 66.2h0M77.5 66.2h0M82.5 66.2h0M87.5 66.2h0M92.5 66.2h0M97.5 66.2h0M102.5 66.2h0M107.5 66.2h0M112.5 66.2h0M117.5 66.2h0M122.5 66.2h0M127.5 66.2h0M132.5 66.2h0M137.5 66.2h0M142.5 66.2h0M147.5 66.2h0M152.5 66.2h0M157.5 66.2h0M162.5 66.2h0M167.5 66.2h0M172.5 66.2h0M177.5 66.2h0M182.5 66.2h0M187.5 66.2h0M192.5 66.2h0M197.5 66.2h0M202.5 66.2h0M207.5 66.2h0M212.5 66.2h0M217.5 66.2h0M222.5 66.2h0M227.5 66.2h0M232.5 66.2h0M237.5 66.2h0M242.5 66.2h0M247.5 66.2h0M252.5 66.2h0M257.5 66.2h0M262.5 66.2h0M267.5 66.2h0M272.5 66.2h0M277.5 66.2h0M282.5 66.2h0M35.0 71.2h0M40.0 71.2h0M45.0 71.2h0M50.0 71.2h0M55.0 71.2h0M60.0 71.2h0M65.0 71.2h0M70.0 71.2h0M75.0 71.2h0M80.0 71.2h0M85.0 71.2h0M90.0 71.2h0M95.0 71.2h0M100.0 71.2h0M105.0 71.2h0M110.0 71.2h0M115.0 71.2h0M120.0 71.2h0M125.0 71.2h0M130.0 71.2h0M135.0 71.2h0M140.0 71.2h0M145.0 71.2h0M150.0 71.2h0M155.0 71.2h0M160.0 71.2h0M165.0 71.2h0M170.0 71.2h0M175.0 71.2h0M180.0 71.2h0M185.0 71.2h0M190.0 71.2h0M195.0 71.2h0M200.0 71.2h0M205.0 71.2h0M210.0 71.2h0M215.0 71.2h0M220.0 71.2h0M225.0 71.2h0M230.0 71.2h0M235.0 71.2h0M240.0 71.2h0M245.0 71.2h0M250.0 71.2h0M255.0 71.2h0M260.0 71.2h0M265.0 71.2h0M270.0 71.2h0M275.0 71.2h0M280.0 71.2h0M32.5 76.2h0M37.5 76.2h0M42.5 76.2h0M72.5 76.2h0M77.5 76.2h0M82.5 76.2h0M87.5 76.2h0M92.5 76.2h0M97.5 76.2h0M102.5 76.2h0M107.5 76.2h0M112.5 76.2h0M117.5 76.2h0M122.5 76.2h0M127.5 76.2h0M132.5 76.2h0M137.5 76.2h0M142.5 76.2h0M147.5 76.2h0M152.5 76.2h0M157.5 76.2h0M162.5 76.2h0M167.5 76.2h0M172.5 76.2h0M177.5 76.2h0M182.5 76.2h0M187.5 76.2h0M192.5 76.2h0M197.5 76.2h0M202.5 76.2h0M207.5 76.2h0M212.5 76.2h0M217.5 76.2h0M222.5 76.2h0M227.5 76.2h0M232.5 76.2h0M237.5 76.2h0M242.5 76.2h0M247.5 76.2h0M252.5 76.2h0M257.5 76.2h0M262.5 76.2h0M267.5 76.2h0M272.5 76.2h0M277.5 76.2h0M282.5 76.2h0M35.0 81.2h0M40.0 81.2h0M75.0 81.2h0M80.0 81.2h0M85.0 81.2h0M90.0 81.2h0M95.0 81.2h0M100.0 81.2h0M105.0 81.2h0M110.0 81.2h0M115.0 81.2h0M120.0 81.2h0M125.0 81.2h0M130.0 81.2h0M135.0 81.2h0M140.0 81.2h0M145.0 81.2h0M150.0 81.2h0M155.0 81.2h0M160.0 81.2h0M165.0 81.2h0M170.0 81.2h0M175.0 81.2h0M180.0 81.2h0M185.0 81.2h0M190.0 81.2h0M195.0 81.2h0M200.0 81.2h0M205.0 81.2h0M210.0 81.2h0M215.0 81.2h0M220.0 81.2h0M225.0 81.2h0M230.0 81.2h0M235.0 81.2h0M240.0 81.2h0M245.0 81.2h0M250.0 81.2h0M255.0 81.2h0M260.0 81.2h0M265.0 81.2h0M270.0 81.2h0M275.0 81.2h0M280.0 81.2h0M82.5 86.2h0M87.5 86.2h0M92.5 86.2h0M97.5 86.2h0M102.5 86.2h0M107.5 86.2h0M112.5 86.2h0M117.5 86.2h0M122.5 86.2h0M127.5 86.2h0M132.5 86.2h0M137.5 86.2h0M142.5 86.2h0M147.5 86.2h0M152.5 86.2h0M157.5 86.2h0M162.5 86.2h0M167.5 86.2h0M197.5 86.2h0M202.5 86.2h0M207.5 86.2h0M212.5 86.2h0M217.5 86.2h0M222.5 86.2h0M227.5 86.2h0M232.5 86.2h0M237.5 86.2h0M242.5 86.2h0M247.5 86.2h0M252.5 86.2h0M257.5 86.2h0M262.5 86.2h0M267.5 86.2h0M272.5 86.2h0M277.5 86.2h0M282.5 86.2h0M205.0 91.2h0M210.0 91.2h0M215.0 91.2h0M220.0 91.2h0M225.0 91.2h0M230.0 91.2h0M235.0 91.2h0M240.0 91.2h0M245.0 91.2h0M250.0 91.2h0M255.0 91.2h0M260.0 91.2h0M265.0 91.2h0M270.0 91.2h0M275.0 91.2h0M280.0 91.2h0M217.5 96.2h0M222.5 96.2h0M247.5 96.2h0M252.5 96.2h0M257.5 96.2h0M262.5 96.2h0M267.5 96.2h0M272.5 96.2h0M277.5 96.2h0M282.5 96.2h0" stroke="#000" stroke-width="1.9" stroke-linecap="round" fill="none"/>
<g fill="#00b8c8" stroke="#2a2af0" stroke-width="0.38" stroke-linejoin="round"><path d="M35.5 14.3L35.5 15.1L36.1 14.3L35.2 15.9L34.4 14.3L35.0 15.1L35.0 14.3Z"/>
<path d="M49.6 14.4L49.1 14.5L49.7 14.8L48.7 14.4L49.6 13.8L49.1 14.2L49.6 14.1Z"/>
<path d="M63.8 14.5L62.8 13.8L63.3 15.3L62.1 12.9L64.7 13.3L63.2 13.3L64.2 14.0Z"/>
<path d="M78.0 14.7L76.5 13.2L76.9 15.7L75.5 11.4L79.8 12.8L77.3 12.4L78.8 13.9Z"/>
<path d="M92.2 14.7L90.5 12.7L90.7 16.0L89.5 10.4L94.8 12.6L91.5 11.8L93.3 13.8Z"/>
<path d="M106.5 14.8L104.5 12.2L104.6 16.2L103.4 9.4L109.7 12.4L105.8 11.2L107.8 13.8Z"/>
<path d="M120.7 14.8L118.5 11.7L118.4 16.4L117.4 8.4L124.6 12.1L120.1 10.6L122.3 13.7Z"/>
<path d="M135.2 15.0L131.8 11.7L132.7 16.4L130.1 8.6L138.0 11.0L133.2 10.3L136.6 13.6Z"/>
<path d="M149.7 15.1L145.0 11.7L146.5 16.2L142.9 8.8L151.0 10.1L146.2 10.1L150.8 13.5Z"/>
<path d="M164.1 15.1L158.1 11.6L160.0 16.0L155.6 9.1L163.8 9.4L159.1 9.9L165.1 13.4Z"/>
<path d="M178.6 15.2L170.0 11.9L172.7 15.9L167.2 9.7L175.4 8.8L170.8 10.0L179.4 13.3Z"/>
<path d="M193.1 15.2L181.9 12.2L184.9 15.9L178.9 10.3L186.9 8.6L182.4 10.2L193.6 13.3Z"/>
<path d="M207.6 15.3L193.6 12.5L196.9 16.0L190.5 10.9L198.4 8.6L194.0 10.6L207.9 13.3Z"/>
<path d="M222.0 15.3L205.3 12.7L208.7 16.0L202.1 11.1L209.9 8.5L205.6 10.7L222.3 13.3Z"/>
<path d="M236.4 15.3L217.0 12.8L220.5 16.1L213.8 11.4L221.5 8.5L217.3 10.8L236.6 13.3Z"/>
<path d="M250.8 15.3L228.7 12.9L232.3 16.1L225.4 11.6L233.1 8.6L228.9 11.0L251.0 13.3Z"/>
<path d="M265.2 15.3L241.5 13.2L245.1 16.3L238.2 11.9L245.8 8.8L241.6 11.2L265.3 13.3Z"/>
<path d="M279.6 15.3L254.2 13.5L257.9 16.6L250.9 12.3L258.4 9.0L254.4 11.5L279.7 13.3Z"/>
<path d="M35.5 28.7L35.5 29.5L36.1 28.7L35.2 30.3L34.4 28.7L35.0 29.5L35.0 28.7Z"/>
<path d="M50.0 28.7L50.0 30.0L50.9 28.7L49.6 31.1L48.4 28.7L49.3 30.0L49.3 28.7Z"/>
<path d="M64.3 28.8L63.9 30.0L65.2 29.1L63.2 30.9L62.8 28.2L63.3 29.8L63.7 28.6Z"/>
<path d="M78.0 29.1L76.5 27.6L76.9 30.1L75.5 25.8L79.8 27.2L77.3 26.8L78.8 28.3Z"/>
<path d="M92.2 29.1L90.5 27.1L90.7 30.4L89.5 24.8L94.8 27.0L91.5 26.2L93.3 28.2Z"/>
<path d="M106.5 29.2L104.5 26.6L104.6 30.6L103.4 23.8L109.7 26.8L105.8 25.6L107.8 28.2Z"/>
<path d="M120.7 29.2L118.5 26.1L118.4 30.8L117.4 22.8L124.6 26.5L120.1 25.0L122.3 28.1Z"/>
<path d="M135.2 29.4L131.8 26.1L132.7 30.8L130.1 23.0L138.0 25.4L133.2 24.7L136.6 28.0Z"/>
<path d="M149.7 29.5L145.0 26.1L146.5 30.6L142.9 23.2L151.0 24.5L146.2 24.5L150.8 27.9Z"/>
<path d="M164.1 29.5L158.1 26.0L160.0 30.4L155.6 23.5L163.8 23.8L159.1 24.3L165.1 27.8Z"/>
<path d="M178.6 29.6L170.0 26.3L172.7 30.3L167.2 24.1L175.4 23.2L170.8 24.4L179.4 27.7Z"/>
<path d="M193.1 29.6L181.9 26.6L184.9 30.3L178.9 24.7L186.9 23.0L182.4 24.6L193.6 27.7Z"/>
<path d="M207.6 29.7L193.6 26.9L196.9 30.4L190.5 25.3L198.4 23.0L194.0 25.0L207.9 27.7Z"/>
<path d="M222.0 29.7L205.3 27.1L208.7 30.4L202.1 25.5L209.9 22.9L205.6 25.1L222.3 27.7Z"/>
<path d="M236.4 29.7L217.0 27.2L220.5 30.5L213.8 25.8L221.5 22.9L217.3 25.2L236.6 27.7Z"/>
<path d="M250.8 29.7L228.7 27.3L232.3 30.5L225.4 26.0L233.1 23.0L228.9 25.4L251.0 27.7Z"/>
<path d="M265.2 29.7L241.5 27.6L245.1 30.7L238.2 26.3L245.8 23.2L241.6 25.6L265.3 27.7Z"/>
<path d="M279.6 29.7L254.2 27.9L257.9 31.0L250.9 26.7L258.4 23.4L254.4 25.9L279.7 27.7Z"/>
<path d="M35.5 43.1L35.2 44.0L36.0 43.4L34.7 44.6L34.5 42.8L34.8 43.8L35.0 43.0Z"/>
<path d="M49.8 43.3L49.0 43.9L50.2 43.8L48.2 44.2L49.0 42.3L48.7 43.5L49.5 42.9Z"/>
<path d="M64.1 43.4L62.9 43.8L64.4 44.2L61.7 43.9L63.6 41.9L62.7 43.2L63.9 42.8Z"/>
<path d="M78.1 43.5L76.3 42.5L77.3 44.9L74.9 41.1L79.4 41.3L76.8 41.5L78.6 42.6Z"/>
<path d="M92.3 43.7L90.0 42.0L91.2 45.3L88.4 40.0L94.3 40.8L90.8 40.8L93.2 42.5Z"/>
<path d="M106.6 43.8L103.8 41.6L105.0 45.8L101.9 39.0L109.3 40.3L104.9 40.2L107.7 42.4Z"/>
<path d="M120.9 43.8L117.3 40.9L118.5 45.5L115.4 37.9L123.4 39.7L118.6 39.4L122.1 42.3Z"/>
<path d="M135.3 43.9L130.4 40.8L132.2 45.3L128.1 38.1L136.3 38.8L131.5 39.1L136.4 42.2Z"/>
<path d="M149.8 44.0L143.4 40.8L145.6 45.0L140.8 38.4L149.0 38.2L144.3 39.0L150.7 42.2Z"/>
<path d="M164.3 44.0L156.3 40.8L158.8 44.8L153.5 38.6L161.7 37.8L157.0 38.9L165.0 42.1Z"/>
<path d="M178.7 44.0L168.0 40.8L170.9 44.6L165.0 38.9L173.1 37.4L168.6 38.9L179.3 42.1Z"/>
<path d="M193.2 44.0L179.6 41.0L182.8 44.6L176.5 39.3L184.5 37.2L180.1 39.0L193.6 42.1Z"/>
<path d="M207.6 44.1L191.2 41.2L194.6 44.6L188.1 39.6L195.9 37.1L191.6 39.2L207.9 42.1Z"/>
<path d="M222.0 44.1L203.2 41.3L206.6 44.6L200.0 39.8L207.8 37.1L203.5 39.3L222.3 42.1Z"/>
<path d="M236.4 44.1L215.2 41.4L218.7 44.7L211.9 40.0L219.6 37.1L215.4 39.4L236.6 42.1Z"/>
<path d="M250.8 44.1L227.1 41.6L230.7 44.8L223.8 40.2L231.5 37.2L227.3 39.6L251.0 42.1Z"/>
<path d="M265.2 44.1L239.9 41.9L243.5 45.0L236.6 40.6L244.2 37.4L240.0 39.9L265.3 42.1Z"/>
<path d="M279.6 44.1L252.6 42.2L256.3 45.3L249.3 41.0L256.8 37.7L252.8 40.2L279.7 42.1Z"/>
<path d="M35.3 57.7L34.5 58.0L35.5 58.3L33.7 58.0L35.0 56.7L34.4 57.6L35.2 57.3Z"/>
<path d="M49.6 57.8L48.4 57.8L49.6 58.7L47.3 57.5L49.6 56.3L48.4 57.2L49.6 57.2Z"/>
<path d="M63.9 57.9L62.3 57.6L63.7 59.1L60.9 57.0L64.3 55.9L62.4 56.8L64.1 57.1Z"/>
<path d="M78.2 58.0L76.2 57.5L77.8 59.5L74.5 56.4L78.9 55.5L76.5 56.4L78.5 56.9Z"/>
<path d="M92.5 58.2L89.8 57.3L91.9 60.1L87.7 55.9L93.6 54.8L90.3 55.9L93.0 56.8Z"/>
<path d="M106.8 58.3L103.5 57.2L106.0 60.8L100.8 55.3L108.3 54.2L104.1 55.5L107.4 56.6Z"/>
<path d="M121.2 58.4L116.8 56.8L119.5 60.8L114.0 54.7L122.1 53.7L117.5 55.0L121.8 56.5Z"/>
<path d="M135.6 58.4L129.4 56.5L132.3 60.3L126.5 54.6L134.6 53.1L130.0 54.6L136.2 56.5Z"/>
<path d="M150.0 58.4L142.0 56.2L145.0 60.0L138.9 54.4L147.0 52.6L142.5 54.3L150.5 56.5Z"/>
<path d="M164.4 58.4L154.5 56.0L157.6 59.6L151.4 54.2L159.4 52.3L155.0 54.0L164.9 56.5Z"/>
<path d="M178.8 58.5L166.2 55.9L169.5 59.4L163.1 54.3L171.0 52.0L166.6 54.0L179.2 56.5Z"/>
<path d="M193.2 58.5L177.9 55.9L181.3 59.3L174.7 54.4L182.5 51.8L178.2 53.9L193.5 56.5Z"/>
<path d="M207.6 58.5L189.6 55.9L193.1 59.2L186.4 54.5L194.1 51.7L189.9 54.0L207.9 56.5Z"/>
<path d="M222.0 58.5L201.8 56.1L205.4 59.3L198.6 54.7L206.3 51.8L202.1 54.1L222.2 56.5Z"/>
<path d="M236.4 58.5L214.1 56.2L217.7 59.4L210.8 54.8L218.4 51.8L214.3 54.2L236.6 56.5Z"/>
<path d="M250.8 58.5L226.3 56.3L229.9 59.5L223.0 55.0L230.6 51.9L226.5 54.3L251.0 56.5Z"/>
<path d="M265.2 58.5L239.4 56.7L243.1 59.8L236.1 55.5L243.7 52.2L239.6 54.7L265.3 56.5Z"/>
<path d="M279.6 58.5L252.6 57.1L256.4 60.1L249.3 55.9L256.8 52.5L252.7 55.1L279.7 56.5Z"/>
<path d="M35.3 72.1L34.5 72.4L35.5 72.7L33.7 72.4L35.0 71.1L34.4 72.0L35.2 71.7Z"/>
<path d="M49.7 72.2L48.6 72.4L49.8 73.0L47.6 72.2L49.4 70.8L48.5 71.8L49.6 71.6Z"/>
<path d="M64.0 72.2L62.6 72.3L64.1 73.2L61.4 72.1L63.9 70.5L62.6 71.6L64.0 71.5Z"/>
<path d="M78.4 72.3L76.7 72.3L78.4 73.5L75.2 71.9L78.4 70.2L76.7 71.4L78.4 71.4Z"/>
<path d="M92.7 72.5L90.3 72.4L92.6 74.2L88.2 71.7L92.9 69.5L90.4 71.1L92.8 71.3Z"/>
<path d="M107.1 72.7L103.9 72.5L106.9 74.9L101.3 71.5L107.3 68.8L104.1 70.8L107.2 71.1Z"/>
<path d="M121.4 72.9L117.6 72.5L121.2 75.6L114.3 71.2L121.8 68.1L117.8 70.6L121.6 70.9Z"/>
<path d="M135.8 72.9L130.1 72.3L133.8 75.5L126.8 71.0L134.5 67.9L130.3 70.3L136.0 70.9Z"/>
<path d="M150.1 72.9L142.7 72.1L146.3 75.3L139.4 70.8L147.0 67.7L142.9 70.1L150.4 70.9Z"/>
<path d="M164.5 72.9L155.2 71.9L158.8 75.1L151.9 70.5L159.6 67.5L155.4 69.9L164.7 70.9Z"/>
<path d="M178.9 72.9L166.9 71.8L170.5 74.9L163.6 70.5L171.2 67.4L167.1 69.8L179.1 70.9Z"/>
<path d="M193.3 72.9L178.6 71.7L182.3 74.8L175.3 70.5L182.9 67.2L178.8 69.7L193.5 70.9Z"/>
<path d="M207.7 72.9L190.3 71.7L194.0 74.7L187.0 70.4L194.5 67.1L190.5 69.7L207.8 70.9Z"/>
<path d="M222.1 72.9L202.8 71.7L206.6 74.7L199.5 70.4L207.0 67.1L203.0 69.7L222.2 70.9Z"/>
<path d="M236.4 72.9L215.3 71.7L219.1 74.7L212.0 70.5L219.5 67.1L215.5 69.7L236.6 70.9Z"/>
<path d="M250.8 72.9L227.9 71.7L231.6 74.7L224.5 70.5L232.0 67.1L228.0 69.7L250.9 70.9Z"/>
<path d="M265.2 72.9L241.0 71.8L244.8 74.8L237.7 70.7L245.1 67.2L241.1 69.8L265.3 70.9Z"/>
<path d="M279.6 72.9L254.2 72.0L258.0 74.9L250.8 70.9L258.3 67.3L254.3 70.0L279.7 70.9Z"/>
<path d="M35.2 86.3L35.0 86.3L35.2 86.5L34.9 86.3L35.2 86.1L35.0 86.2L35.2 86.2Z"/>
<path d="M49.6 86.4L49.1 86.5L49.7 86.8L48.6 86.3L49.6 85.7L49.0 86.2L49.6 86.1Z"/>
<path d="M64.0 86.5L63.1 86.6L64.1 87.2L62.3 86.4L63.9 85.4L63.1 86.1L64.0 86.0Z"/>
<path d="M78.4 86.6L77.1 86.7L78.5 87.5L76.0 86.5L78.3 85.0L77.1 86.1L78.3 85.9Z"/>
<path d="M92.8 86.8L90.8 86.9L92.9 88.2L89.0 86.5L92.6 84.3L90.7 85.9L92.7 85.8Z"/>
<path d="M107.2 87.0L104.5 87.1L107.2 88.9L102.1 86.5L107.0 83.6L104.4 85.7L107.1 85.6Z"/>
<path d="M121.5 87.2L118.1 87.3L121.6 89.6L115.1 86.5L121.4 82.9L118.1 85.5L121.5 85.4Z"/>
<path d="M135.9 87.3L131.6 87.4L135.5 90.1L128.1 86.4L135.4 82.5L131.5 85.4L135.9 85.3Z"/>
<path d="M150.3 87.3L144.6 87.3L148.5 90.1L141.2 86.3L148.5 82.5L144.6 85.3L150.2 85.3Z"/>
<path d="M164.6 87.3L157.6 87.3L161.5 90.1L154.2 86.3L161.5 82.5L157.6 85.3L164.6 85.3Z"/>
<path d="M179.0 87.3L170.1 87.1L174.0 90.0L166.7 86.1L174.1 82.4L170.2 85.1L179.0 85.3Z"/>
<path d="M193.3 87.3L182.6 87.0L186.4 89.9L179.2 85.9L186.6 82.3L182.7 85.0L193.4 85.3Z"/>
<path d="M207.7 87.3L195.1 86.8L198.9 89.8L191.8 85.7L199.2 82.2L195.2 84.8L207.8 85.3Z"/>
<path d="M222.1 87.3L207.9 86.7L211.7 89.6L204.5 85.5L212.0 82.0L208.0 84.7L222.2 85.3Z"/>
<path d="M236.5 87.3L220.7 86.5L224.4 89.5L217.3 85.4L224.8 81.9L220.8 84.5L236.5 85.3Z"/>
<path d="M250.8 87.3L233.4 86.4L237.2 89.4L230.1 85.2L237.6 81.8L233.6 84.4L250.9 85.3Z"/>
<path d="M265.2 87.3L247.0 86.5L250.8 89.5L243.7 85.3L251.1 81.9L247.1 84.5L265.3 85.3Z"/>
<path d="M279.6 87.3L260.6 86.6L264.4 89.5L257.2 85.5L264.7 81.9L260.7 84.6L279.7 85.3Z"/>
<path d="M35.2 100.6L35.4 100.6L35.2 100.5L35.6 100.7L35.2 100.8L35.4 100.7L35.2 100.7Z"/>

<path d="M64.0 100.7L63.8 100.7L64.0 100.8L63.7 100.7L64.0 100.5L63.8 100.6L64.0 100.6Z"/>
<path d="M78.4 100.8L78.0 100.8L78.4 101.0L77.7 100.7L78.4 100.3L78.0 100.6L78.4 100.6Z"/>
<path d="M92.8 100.9L92.0 100.9L92.8 101.4L91.3 100.8L92.7 99.9L91.9 100.5L92.7 100.5Z"/>
<path d="M107.2 101.0L105.9 101.1L107.2 101.9L104.8 100.9L107.0 99.5L105.9 100.5L107.1 100.4Z"/>
<path d="M121.5 101.1L119.8 101.3L121.6 102.3L118.3 101.0L121.4 99.0L119.8 100.4L121.5 100.2Z"/>
<path d="M135.9 101.3L133.5 101.6L136.1 103.0L131.4 101.2L135.6 98.3L133.4 100.3L135.8 100.1Z"/>
<path d="M150.4 101.5L147.2 101.9L150.6 103.7L144.4 101.4L149.9 97.6L147.0 100.3L150.1 99.9Z"/>
<path d="M164.8 101.7L161.0 102.2L165.1 104.4L157.5 101.7L164.1 97.0L160.7 100.2L164.5 99.7Z"/>
<path d="M179.2 101.7L174.2 102.6L178.5 104.6L170.6 102.3L177.1 97.2L173.8 100.7L178.8 99.7Z"/>
<path d="M193.6 101.6L187.3 103.1L191.8 105.0L183.8 102.9L190.0 97.6L186.9 101.2L193.1 99.7Z"/>
<path d="M208.0 101.6L200.5 103.7L205.0 105.4L196.9 103.6L203.0 98.0L200.0 101.7L207.5 99.7Z"/>
<path d="M222.4 101.6L213.9 104.1L218.4 105.7L210.3 104.1L216.3 98.4L213.3 102.2L221.8 99.7Z"/>
<path d="M236.8 101.6L227.3 104.6L231.9 106.1L223.8 104.6L229.6 98.8L226.7 102.6L236.2 99.7Z"/>
<path d="M251.2 101.6L240.7 105.0L245.3 106.5L237.2 105.1L242.9 99.3L240.1 103.1L250.6 99.7Z"/>
<path d="M265.6 101.6L254.7 105.1L259.3 106.6L251.2 105.2L256.9 99.4L254.1 103.2L264.9 99.7Z"/>
<path d="M279.9 101.6L268.7 105.3L273.3 106.7L265.2 105.4L270.9 99.5L268.1 103.4L279.3 99.7Z"/>
<path d="M35.3 114.7L36.7 115.0L35.5 113.7L37.9 115.5L35.0 116.5L36.6 115.7L35.2 115.4Z"/>
<path d="M49.7 114.8L50.9 115.0L49.9 113.9L52.0 115.6L49.4 116.3L50.8 115.7L49.6 115.4Z"/>
<path d="M64.1 114.8L65.2 115.1L64.3 114.0L66.0 115.6L63.7 116.1L65.0 115.7L63.9 115.3Z"/>
<path d="M78.5 114.8L79.4 115.2L78.7 114.2L80.1 115.7L78.1 116.0L79.2 115.6L78.3 115.3Z"/>
<path d="M92.8 114.9L93.3 115.2L93.0 114.6L93.7 115.6L92.5 115.6L93.2 115.5L92.7 115.2Z"/>
<path d="M107.2 115.0L107.3 115.3L107.3 115.0L107.3 115.5L106.9 115.2L107.2 115.3L107.1 115.1Z"/>
<path d="M121.5 115.2L121.1 115.4L121.7 115.5L120.7 115.4L121.3 114.6L121.0 115.1L121.5 115.0Z"/>
<path d="M136.1 115.4L134.8 116.1L136.6 116.3L133.6 116.5L135.1 113.9L134.5 115.5L135.7 114.8Z"/>
<path d="M150.6 115.6L148.6 116.9L151.6 117.0L146.5 117.6L148.9 113.1L147.9 115.9L149.9 114.6Z"/>
<path d="M165.1 115.8L162.4 117.7L166.5 117.8L159.5 118.7L162.7 112.4L161.4 116.3L164.1 114.4Z"/>
<path d="M179.6 115.9L175.4 118.7L180.2 118.8L172.0 119.7L176.0 112.5L174.3 117.0L178.4 114.2Z"/>
<path d="M193.9 115.9L187.9 119.7L192.7 120.0L184.5 120.7L188.6 113.6L186.9 118.1L192.8 114.2Z"/>
<path d="M208.3 115.9L200.5 120.8L205.3 121.1L197.1 121.8L201.2 114.7L199.4 119.1L207.2 114.2Z"/>
<path d="M222.6 115.9L214.3 121.0L219.1 121.4L210.8 121.9L215.1 114.9L213.2 119.3L221.6 114.2Z"/>
<path d="M237.0 115.9L228.1 121.2L232.8 121.7L224.6 122.1L229.0 115.1L227.0 119.5L236.0 114.2Z"/>
<path d="M251.4 115.9L241.8 121.4L246.6 121.9L238.4 122.3L242.8 115.3L240.8 119.7L250.4 114.2Z"/>
<path d="M265.8 115.9L256.2 121.4L261.0 121.9L252.8 122.3L257.2 115.3L255.2 119.7L264.8 114.2Z"/>
<path d="M280.1 115.9L270.6 121.4L275.4 121.9L267.2 122.3L271.6 115.3L269.6 119.7L279.1 114.2Z"/>
<path d="M35.5 128.9L37.7 129.7L36.1 127.3L39.5 131.0L34.4 131.7L37.3 130.9L35.0 130.1Z"/>
<path d="M49.8 128.9L51.9 129.8L50.4 127.4L53.5 131.0L48.8 131.5L51.5 130.8L49.4 130.0Z"/>
<path d="M64.2 129.0L66.1 129.8L64.8 127.6L67.6 131.0L63.2 131.3L65.7 130.8L63.8 130.0Z"/>
<path d="M78.6 129.0L80.3 129.8L79.2 127.8L81.6 131.0L77.6 131.2L79.9 130.7L78.2 129.9Z"/>
<path d="M92.9 129.2L93.9 130.0L93.5 128.5L94.6 130.9L92.0 130.4L93.6 130.5L92.6 129.7Z"/>
<path d="M107.3 129.4L107.5 130.1L107.8 129.2L107.6 130.7L106.5 129.7L107.2 130.2L107.0 129.5Z"/>
<path d="M121.7 129.5L121.7 130.4L122.4 129.5L121.5 131.3L120.6 129.5L121.3 130.4L121.3 129.5Z"/>
<path d="M136.3 129.7L135.5 131.3L137.5 130.3L134.3 132.5L134.3 128.7L134.6 130.9L135.5 129.3Z"/>
<path d="M150.8 129.9L149.2 132.2L152.5 131.1L147.2 133.8L148.0 127.9L148.0 131.3L149.7 129.1Z"/>
<path d="M165.4 130.1L162.9 133.1L167.5 131.9L160.0 135.0L161.8 127.1L161.4 131.8L163.9 128.8Z"/>
<path d="M179.7 130.2L175.5 134.3L180.3 133.6L172.4 135.9L175.0 128.1L174.1 132.8L178.3 128.8Z"/>
<path d="M194.0 130.2L188.0 135.4L192.8 135.0L184.7 136.9L187.8 129.2L186.7 133.9L192.7 128.7Z"/>
<path d="M208.4 130.3L200.4 136.5L205.2 136.3L197.1 137.8L200.5 130.3L199.2 134.9L207.1 128.7Z"/>
<path d="M222.7 130.3L214.4 136.5L219.2 136.4L211.1 137.7L214.6 130.3L213.2 134.9L221.5 128.7Z"/>
<path d="M237.1 130.3L228.3 136.5L233.1 136.5L225.0 137.6L228.8 130.3L227.2 134.8L235.9 128.7Z"/>
<path d="M251.4 130.3L242.3 136.5L247.1 136.6L238.9 137.5L242.9 130.3L241.2 134.8L250.3 128.6Z"/>
<path d="M265.8 130.3L256.7 136.5L261.5 136.6L253.3 137.5L257.2 130.3L255.6 134.8L264.7 128.6Z"/>
<path d="M280.2 130.3L271.1 136.5L275.9 136.6L267.7 137.5L271.6 130.3L269.9 134.8L279.1 128.6Z"/>
<path d="M35.4 143.3L37.7 143.9L35.9 141.6L39.6 145.0L34.6 146.1L37.4 145.1L35.1 144.5Z"/>
<path d="M49.8 143.3L52.1 144.1L50.4 141.7L53.8 145.4L48.8 146.1L51.7 145.3L49.4 144.4Z"/>
<path d="M64.3 143.3L66.4 144.3L65.0 141.8L68.0 145.8L63.0 146.0L65.9 145.4L63.7 144.4Z"/>
<path d="M78.7 143.3L80.8 144.5L79.5 141.8L82.3 146.1L77.2 145.9L80.1 145.6L78.1 144.4Z"/>
<path d="M93.2 143.5L94.6 145.3L94.5 142.6L95.3 147.2L91.0 145.2L93.7 146.0L92.3 144.2Z"/>
<path d="M107.7 143.7L108.3 146.0L109.4 143.3L108.3 148.2L104.9 144.5L107.2 146.4L106.5 144.0Z"/>
<path d="M122.2 143.8L122.3 146.7L124.3 143.8L121.7 149.3L118.7 144.0L120.9 146.8L120.8 143.9Z"/>
<path d="M136.7 143.9L136.4 147.1L139.0 144.1L135.4 149.8L132.8 143.6L134.8 147.0L135.1 143.8Z"/>
<path d="M151.1 144.0L150.5 147.5L153.6 144.5L149.1 150.3L146.9 143.3L148.7 147.2L149.4 143.7Z"/>
<path d="M165.6 144.1L164.6 147.8L168.2 144.8L162.8 150.8L161.0 142.9L162.7 147.3L163.7 143.6Z"/>
<path d="M179.9 144.3L177.9 148.6L182.1 146.2L175.6 151.2L175.2 143.0L176.1 147.7L178.1 143.5Z"/>
<path d="M194.2 144.5L190.1 149.9L194.6 148.5L187.2 152.0L188.6 143.9L188.5 148.7L192.6 143.3Z"/>
<path d="M208.5 144.6L202.0 151.1L206.7 150.3L198.8 152.8L201.3 144.9L200.5 149.7L207.0 143.2Z"/>
<path d="M222.8 144.6L215.8 151.0L220.6 150.4L212.6 152.6L215.4 144.8L214.5 149.5L221.4 143.1Z"/>
<path d="M237.1 144.6L229.7 151.0L234.5 150.6L226.4 152.4L229.6 144.8L228.4 149.4L235.9 143.1Z"/>
<path d="M251.5 144.7L243.5 150.9L248.3 150.7L240.2 152.2L243.6 144.7L242.3 149.3L250.3 143.1Z"/>
<path d="M265.9 144.7L257.8 150.7L262.6 150.6L254.5 152.0L258.0 144.6L256.6 149.2L264.6 143.1Z"/>
<path d="M280.2 144.7L272.0 150.6L276.8 150.6L268.7 151.8L272.4 144.4L270.9 149.0L279.0 143.1Z"/>
<path d="M35.2 157.8L37.1 157.5L34.9 156.4L38.8 157.6L35.6 160.1L37.2 158.4L35.3 158.8Z"/>
<path d="M49.6 157.8L51.5 157.8L49.6 156.4L53.2 158.3L49.6 160.1L51.5 158.8L49.6 158.8Z"/>
<path d="M64.1 157.8L66.0 158.1L64.3 156.4L67.5 158.9L63.7 160.1L65.8 159.1L63.9 158.8Z"/>
<path d="M78.8 157.8L80.6 159.3L79.9 156.5L81.8 161.2L76.9 160.1L79.8 160.3L78.0 158.7Z"/>
<path d="M93.4 158.0L94.6 160.4L95.1 157.1L95.0 162.8L90.4 159.5L93.3 161.0L92.1 158.6Z"/>
<path d="M108.0 158.1L108.6 161.4L110.4 157.7L108.2 164.5L103.9 158.8L106.9 161.7L106.3 158.4Z"/>
<path d="M122.5 158.3L122.5 162.1L125.2 158.3L121.5 165.5L117.8 158.3L120.5 162.1L120.5 158.3Z"/>
<path d="M136.9 158.3L136.7 162.4L139.7 158.6L135.5 165.7L132.1 158.3L134.7 162.3L134.9 158.2Z"/>
<path d="M151.2 158.4L150.8 162.7L154.0 159.1L149.5 166.0L146.4 158.4L148.8 162.5L149.3 158.2Z"/>
<path d="M165.6 158.4L165.0 163.1L168.3 159.6L163.5 166.3L160.8 158.5L163.0 162.8L163.6 158.1Z"/>
<path d="M180.0 158.6L178.3 163.8L182.1 160.9L176.3 166.8L174.9 158.7L176.4 163.2L178.0 158.0Z"/>
<path d="M194.3 158.7L191.5 164.6L195.7 162.2L189.2 167.2L188.8 159.0L189.7 163.7L192.5 157.9Z"/>
<path d="M208.5 158.9L203.4 165.4L208.0 164.1L200.5 167.5L202.0 159.4L201.9 164.2L207.0 157.7Z"/>
<path d="M222.9 158.9L217.2 165.3L221.9 164.3L214.2 167.2L216.2 159.2L215.7 164.0L221.4 157.6Z"/>
<path d="M237.2 159.0L231.0 165.3L235.7 164.5L227.9 167.0L230.3 159.1L229.5 163.9L235.8 157.6Z"/>
<path d="M251.5 159.0L244.7 165.2L249.5 164.6L241.5 166.7L244.4 159.0L243.4 163.7L250.2 157.5Z"/>
<path d="M265.9 159.0L259.0 165.1L263.7 164.6L255.7 166.5L258.8 158.9L257.7 163.6L264.6 157.5Z"/>
<path d="M280.3 159.0L273.2 165.0L278.0 164.6L270.0 166.4L273.1 158.8L271.9 163.4L279.0 157.5Z"/>
<path d="M35.1 172.7L35.1 172.0L34.5 172.7L35.2 171.3L36.0 172.7L35.4 172.0L35.4 172.7Z"/>
<path d="M49.7 172.5L50.2 172.6L49.7 172.1L50.7 172.9L49.5 173.2L50.2 172.9L49.6 172.8Z"/>
<path d="M64.2 172.4L65.3 173.3L64.9 171.6L66.1 174.4L63.1 173.8L64.9 173.9L63.8 173.0Z"/>
<path d="M78.8 172.4L79.8 174.1L80.0 171.7L80.2 175.8L76.8 173.6L78.9 174.6L77.9 172.9Z"/>
<path d="M93.5 172.5L94.2 175.5L95.7 172.0L94.0 178.3L89.8 173.3L92.7 175.8L92.0 172.8Z"/>
<path d="M108.1 172.6L108.5 177.3L111.0 173.1L107.8 180.7L103.4 173.8L106.5 177.4L106.1 172.8Z"/>
<path d="M122.5 172.7L122.6 178.3L125.3 174.3L121.7 181.7L117.7 174.4L120.6 178.3L120.5 172.7Z"/>
<path d="M136.9 172.7L136.8 178.3L139.6 174.4L135.7 181.7L132.0 174.3L134.8 178.2L134.9 172.7Z"/>
<path d="M151.2 172.7L151.0 178.3L154.0 174.6L149.8 181.7L146.4 174.2L149.0 178.2L149.3 172.6Z"/>
<path d="M165.6 172.8L165.1 178.3L168.3 174.7L163.8 181.6L160.7 174.0L163.1 178.2L163.6 172.6Z"/>
<path d="M180.0 172.9L178.5 178.7L182.2 175.6L176.7 181.8L174.8 173.8L176.5 178.2L178.0 172.4Z"/>
<path d="M194.3 173.1L191.7 179.1L195.8 176.6L189.5 181.9L188.8 173.7L189.9 178.4L192.5 172.3Z"/>
<path d="M208.6 173.2L204.9 179.6L209.3 177.6L202.3 182.0L202.7 173.8L203.2 178.6L206.9 172.2Z"/>
<path d="M222.9 173.2L218.7 179.2L223.3 177.7L216.0 181.5L217.1 173.3L217.1 178.1L221.3 172.1Z"/>
<path d="M237.3 173.3L232.6 178.9L237.2 177.7L229.6 180.9L231.4 172.8L231.0 177.6L235.7 172.0Z"/>
<path d="M251.6 173.4L246.3 178.6L251.1 177.8L243.2 180.3L245.7 172.5L244.9 177.2L250.2 172.0Z"/>
<path d="M265.9 173.4L260.6 178.5L265.3 177.8L257.4 180.1L260.1 172.3L259.2 177.0L264.6 171.9Z"/>
<path d="M280.3 173.4L274.8 178.4L279.6 177.8L271.6 179.9L274.5 172.2L273.5 176.9L279.0 171.9Z"/>
<path d="M35.2 187.3L34.3 187.1L35.1 188.0L33.5 186.8L35.4 186.2L34.3 186.7L35.3 186.8Z"/>
<path d="M49.6 187.3L48.5 187.3L49.5 188.1L47.6 186.9L49.7 186.0L48.6 186.7L49.6 186.8Z"/>
<path d="M64.0 187.4L62.8 187.4L64.0 188.2L61.8 187.1L64.0 185.9L62.8 186.8L64.0 186.8Z"/>
<path d="M78.7 187.3L77.7 188.4L79.5 188.0L76.6 189.1L77.3 186.2L77.2 187.9L78.1 186.8Z"/>
<path d="M93.7 187.2L93.4 191.0L96.5 187.4L92.1 194.2L89.0 186.7L91.4 190.8L91.8 187.0Z"/>
<path d="M108.1 187.1L108.0 191.8L110.9 187.9L107.0 195.2L103.3 187.8L106.0 191.7L106.1 187.1Z"/>
<path d="M122.5 187.0L122.7 192.6L125.4 188.6L121.8 196.1L117.8 188.9L120.7 192.7L120.5 187.1Z"/>
<path d="M136.9 187.1L136.8 193.0L139.7 189.1L135.8 196.4L132.1 189.0L134.8 192.9L134.9 187.1Z"/>
<path d="M151.2 187.1L150.9 193.3L153.9 189.5L149.8 196.6L146.3 189.2L148.9 193.2L149.3 187.0Z"/>
<path d="M165.6 187.2L165.1 193.6L168.2 190.0L163.8 196.9L160.6 189.3L163.1 193.5L163.6 187.0Z"/>
<path d="M180.0 187.3L178.5 194.1L182.1 190.9L176.8 197.2L174.6 189.2L176.5 193.6L178.0 186.9Z"/>
<path d="M194.3 187.4L191.8 194.5L195.8 191.8L189.8 197.4L188.6 189.3L190.0 193.9L192.4 186.7Z"/>
<path d="M208.7 187.5L205.1 195.0L209.3 192.7L202.8 197.7L202.4 189.5L203.3 194.2L206.8 186.7Z"/>
<path d="M223.0 187.6L219.0 194.4L223.4 192.4L216.4 196.8L216.8 188.6L217.3 193.4L221.3 186.6Z"/>
<path d="M237.3 187.7L232.8 193.8L237.4 192.3L230.0 196.0L231.3 187.8L231.2 192.6L235.7 186.5Z"/>
<path d="M251.6 187.7L246.7 193.2L251.4 192.2L243.6 195.1L245.7 187.1L245.2 191.9L250.1 186.4Z"/>
<path d="M266.0 187.8L261.2 192.8L265.9 191.9L258.1 194.6L260.4 186.7L259.7 191.4L264.5 186.4Z"/>
<path d="M280.3 187.8L275.7 192.4L280.5 191.6L272.6 194.1L275.1 186.2L274.3 191.0L278.9 186.4Z"/>
<path d="M35.2 201.7L34.3 201.5L35.1 202.4L33.5 201.2L35.4 200.6L34.3 201.1L35.3 201.2Z"/>
<path d="M49.6 201.7L48.5 201.7L49.5 202.5L47.6 201.3L49.7 200.4L48.6 201.1L49.6 201.2Z"/>
<path d="M64.0 201.8L62.8 201.8L64.0 202.6L61.8 201.5L64.0 200.3L62.8 201.2L64.0 201.2Z"/>
<path d="M78.8 201.8L77.7 203.3L79.9 202.5L76.3 204.4L76.8 200.4L76.9 202.8L78.0 201.2Z"/>
<path d="M93.7 201.6L93.3 206.2L96.5 202.6L92.0 209.5L88.9 201.9L91.3 206.1L91.8 201.4Z"/>
<path d="M108.1 201.5L108.0 207.3L110.9 203.5L107.0 210.7L103.3 203.3L106.0 207.3L106.1 201.5Z"/>
<path d="M122.5 201.4L122.7 208.4L125.4 204.4L121.9 211.8L117.8 204.7L120.7 208.5L120.5 201.5Z"/>
<path d="M136.9 201.5L136.8 208.6L139.7 204.7L135.8 212.0L132.1 204.6L134.8 208.5L134.9 201.5Z"/>
<path d="M151.2 201.5L150.9 208.7L153.9 205.0L149.7 212.1L146.3 204.6L148.9 208.7L149.3 201.4Z"/>
<path d="M165.6 201.6L165.0 208.9L168.1 205.3L163.7 212.2L160.5 204.6L163.0 208.8L163.6 201.4Z"/>
<path d="M180.0 201.7L178.5 209.3L182.0 206.0L176.9 212.4L174.5 204.5L176.5 208.9L178.0 201.3Z"/>
<path d="M194.3 201.8L192.0 209.6L195.8 206.7L190.0 212.6L188.5 204.5L190.1 209.0L192.4 201.2Z"/>
<path d="M208.7 201.8L205.4 210.0L209.5 207.4L203.2 212.7L202.4 204.5L203.5 209.2L206.8 201.1Z"/>
<path d="M223.0 201.9L219.4 208.9L223.7 206.8L217.0 211.5L216.9 203.3L217.6 208.0L221.2 201.0Z"/>
<path d="M237.3 202.0L233.4 208.0L237.9 206.3L230.7 210.3L231.6 202.1L231.8 206.9L235.7 200.9Z"/>
<path d="M251.6 202.1L247.5 207.1L252.1 205.9L244.5 209.1L246.3 201.0L245.9 205.8L250.1 200.8Z"/>
<path d="M266.0 202.1L262.0 206.7L266.7 205.6L259.1 208.6L261.0 200.6L260.5 205.4L264.5 200.8Z"/>
<path d="M280.4 202.1L276.6 206.3L281.3 205.3L273.6 208.2L275.7 200.2L275.1 205.0L278.9 200.8Z"/>
<path d="M35.2 216.1L34.3 215.9L35.1 216.8L33.5 215.6L35.4 215.0L34.3 215.5L35.3 215.6Z"/>
<path d="M49.7 216.1L48.7 216.5L50.0 216.9L47.7 216.6L49.3 214.9L48.5 216.0L49.5 215.6Z"/>
<path d="M64.2 216.2L63.1 217.1L64.9 217.0L61.9 217.6L63.1 214.8L62.6 216.5L63.8 215.6Z"/>
<path d="M78.8 216.2L77.5 217.7L79.8 217.1L76.1 218.6L76.9 214.7L76.8 217.0L78.0 215.6Z"/>
<path d="M93.5 216.1L92.7 219.0L95.6 216.6L91.3 221.3L89.9 215.1L91.2 218.6L92.0 215.7Z"/>
<path d="M108.1 215.9L107.8 220.7L110.9 216.9L106.6 224.0L103.3 216.5L105.8 220.5L106.1 215.8Z"/>
<path d="M122.5 215.8L122.8 223.2L125.4 219.2L121.9 226.7L117.8 219.5L120.8 223.3L120.5 215.9Z"/>
<path d="M136.9 215.9L136.8 223.6L139.6 219.7L135.8 227.0L132.0 219.6L134.8 223.5L134.9 215.9Z"/>
<path d="M151.2 215.9L150.9 223.9L153.8 220.1L149.7 227.2L146.3 219.8L148.9 223.8L149.3 215.8Z"/>
<path d="M165.6 216.0L164.9 224.2L168.0 220.6L163.6 227.5L160.5 219.9L162.9 224.1L163.6 215.8Z"/>
<path d="M180.0 216.1L178.5 224.4L181.9 221.1L176.9 227.6L174.4 219.7L176.5 224.1L178.0 215.7Z"/>
<path d="M194.3 216.1L192.0 224.6L195.7 221.6L190.2 227.7L188.4 219.6L190.1 224.1L192.4 215.6Z"/>
<path d="M208.7 216.2L205.5 224.9L209.5 222.2L203.4 227.7L202.4 219.6L203.7 224.2L206.8 215.5Z"/>
<path d="M223.0 216.3L219.5 223.7L223.7 221.4L217.1 226.3L216.9 218.1L217.7 222.8L221.2 215.4Z"/>
<path d="M237.3 216.4L233.5 222.5L237.9 220.7L230.8 224.9L231.5 216.7L231.8 221.5L235.7 215.3Z"/>
<path d="M251.6 216.5L247.5 221.5L252.1 220.3L244.5 223.5L246.3 215.4L245.9 220.2L250.1 215.2Z"/>
<path d="M266.0 216.5L262.0 221.1L266.7 220.0L259.1 223.0L261.0 215.0L260.5 219.8L264.5 215.2Z"/>
<path d="M280.4 216.5L276.6 220.7L281.3 219.7L273.6 222.6L275.7 214.6L275.1 219.4L278.9 215.2Z"/></g>
<path d="M28.1 25.5L29.6 25.1L30.6 25.4L32.9 24.7L33.3 25.7L35.2 25.2L37.4 26.3L39.6 25.2L40.4 25.0L41.8 24.7L43.9 24.3L45.5 24.8L47.0 24.5L47.5 24.7L49.6 24.9L50.7 24.8L52.2 24.2L53.9 24.7L55.4 23.6L56.8 23.8L58.0 24.0L59.5 22.9L61.8 23.2L63.1 22.8L64.0 23.2L65.4 22.0L66.7 23.4L68.5 23.5L69.8 24.3L71.0 25.0L72.5 25.0L74.1 25.2L75.2 25.2L76.9 24.1L78.5 24.6L79.5 24.1L81.3 23.8L82.3 24.0L84.1 23.9L85.5 23.3L87.0 22.9L88.7 22.3L90.1 22.1L91.1 21.9L92.8 21.9L94.0 21.3L95.6 20.9L97.8 19.4L99.9 20.2L101.4 22.3L102.0 23.8L103.1 25.2L102.3 27.0L103.4 28.5L102.5 29.5L104.4 29.9L105.7 30.7L107.8 31.2L109.3 31.7L110.1 34.1L110.7 35.3L110.8 37.5L112.2 38.9L112.7 40.9L114.3 41.8L115.2 42.9L117.2 44.2L118.2 44.1L120.1 45.4L121.8 45.9L122.9 46.5L125.1 48.2L126.8 49.9L128.0 50.8L129.7 51.6L130.1 53.3L131.5 54.5L132.3 55.7L134.2 56.4L135.2 57.9L137.2 57.9L138.8 59.0L140.4 59.6L141.7 60.1L143.1 60.0L144.1 59.5L146.3 59.0L147.4 59.5L149.3 58.8L149.7 58.2L151.7 57.6L153.7 57.0L154.6 57.2L156.0 57.9L154.6 59.5L153.5 60.8L152.4 61.9L150.6 63.3L149.5 63.8L147.1 63.7L145.9 64.8L144.7 65.6L142.9 66.1L141.6 65.8L139.4 65.2L138.0 65.2L135.9 65.5L135.2 67.7L136.5 69.5L137.3 71.3L138.4 72.5L140.2 74.2L142.3 75.2L142.4 76.7L144.5 77.0L145.1 77.8L147.0 79.4L148.1 81.4L148.8 82.8L150.8 82.9L151.7 84.5L152.9 86.1L155.1 86.7L156.0 87.4L158.0 88.7L159.6 88.4L161.0 89.7L163.2 90.1L164.6 90.0L166.4 89.9L167.2 89.0L168.9 88.3L170.9 88.1L172.4 86.6L173.2 86.4L175.7 85.7L176.8 84.7L178.2 84.0L180.4 82.5L181.6 80.5L182.2 79.8L182.6 78.5L182.6 76.2L183.3 74.9L183.1 74.0L181.9 72.0L181.8 70.1L182.6 69.1L184.2 68.3L184.8 67.0L185.9 67.2L187.6 67.2L189.8 68.1L187.6 69.8L187.3 72.2L186.9 73.4L188.1 74.8L188.3 76.3L189.8 78.5L189.7 80.3L189.5 81.0L188.3 82.8L188.5 83.6L189.1 85.7L189.8 86.6L189.4 89.2L190.5 90.0L191.1 91.7L191.0 93.4L191.2 94.3L191.4 95.8L190.7 97.8L189.8 98.6L189.4 100.7L189.1 101.5L189.8 103.0L188.8 105.0L189.7 106.4L189.8 107.3L189.6 108.8L190.3 110.0L190.5 111.6L191.0 113.6L191.2 115.2L191.6 117.4L191.4 118.1L191.9 120.2L191.8 122.3L192.3 123.6L193.1 125.3L192.8 127.6L193.9 129.0L194.6 129.7L194.8 131.8L195.3 132.9L195.4 135.3L195.8 136.3L196.3 137.5L196.7 139.5L196.6 139.9L197.0 142.0L197.7 143.3L198.5 145.0L197.5 145.9L198.3 147.4L198.4 149.0L198.0 150.6L198.3 152.3L199.6 154.0L199.3 154.1L199.8 156.2L201.2 157.5L201.6 158.6L202.0 159.5L202.7 161.3L203.0 162.2L203.5 163.6L204.9 165.6L205.8 167.4L206.6 169.0L207.0 170.6L208.2 172.6L208.7 173.0L209.5 175.0L211.0 176.8L210.8 177.3L212.1 179.3L212.6 181.4L213.8 182.3L214.2 183.6L215.1 185.1L215.3 186.6L215.5 187.3L216.4 189.4L217.0 190.4L217.7 192.6L218.1 193.2L217.8 195.1L218.3 196.6L218.1 198.0L218.6 199.9L219.5 201.6L219.6 203.9L220.9 205.0L221.4 206.6L222.4 207.9L223.5 210.6L223.6 211.7L224.5 212.8L225.2 214.1L225.8 214.9L226.4 216.7L227.1 218.1L228.1 220.2L228.6 221.0M124.4 47.9L125.0 46.9L125.3 45.5L126.5 43.2L127.3 42.7L128.9 41.2L130.4 40.4L131.7 39.5L132.3 38.4L134.3 38.4L135.7 38.8L137.8 38.2L138.8 38.6L140.2 38.5L143.3 39.2L144.5 38.6L145.7 38.6L146.7 38.9L148.9 39.2L150.2 39.9L151.8 38.7L152.9 38.6L154.6 38.2L155.7 38.2L158.2 38.4L158.9 36.4L160.2 35.8L162.4 37.1L163.2 36.7L163.6 36.2L165.3 34.6L164.5 32.8L164.6 31.7L164.4 30.2L164.1 29.5L163.9 27.4L162.8 25.2L162.5 24.4L161.0 23.0L159.9 20.6L159.6 19.4L157.7 18.5L156.0 18.0L154.1 17.0L152.9 15.7L151.7 14.4L151.2 12.5L151.7 10.9L152.4 9.4M165.3 33.8L167.2 33.3L168.4 33.7L170.4 33.1L172.2 33.4L172.8 32.7L174.0 32.9L176.1 33.5L177.3 33.7L179.7 33.6L180.7 33.7L181.9 33.5L183.9 33.8L184.7 35.3L186.2 35.3L187.8 36.4L189.8 37.4L190.9 37.1L192.2 37.0L194.1 36.7L194.9 37.9L195.9 39.3L196.3 41.0L197.1 42.3L198.7 43.6L199.1 44.6L200.4 45.1L201.7 47.0L202.0 48.2L202.8 49.4L204.2 50.8L206.2 51.7L207.8 52.6L209.0 53.3L210.0 54.3L212.1 54.7L214.2 54.0M214.2 54.0L214.1 55.6L214.9 57.6L214.5 59.9L212.8 61.2L211.6 62.3L211.6 64.1L211.3 65.5L210.2 67.4L210.7 68.2L209.9 69.8L210.1 70.6L209.2 72.7L208.3 74.0L207.8 75.6L205.6 76.7L204.9 78.5L206.2 78.3L207.8 78.2L209.0 77.4L210.8 78.4L212.1 77.8L212.1 79.2L210.9 78.7L209.8 79.4L207.8 79.6L206.3 80.8L206.3 82.8L204.2 83.9L205.9 84.8L206.3 86.4L206.6 88.0L207.0 89.3L205.6 90.8L203.4 91.1L202.0 91.1L199.8 91.1L198.9 92.3L199.1 94.3L199.1 96.3L199.4 97.2L197.4 97.3L196.3 98.3L194.0 97.4L192.7 97.2L191.7 98.3L189.8 98.2M214.2 54.0L215.3 52.4L216.6 51.1L217.8 50.4L218.1 48.8L218.4 47.0L219.2 46.1L220.5 44.3L220.4 42.9L221.4 41.0L221.3 39.9L220.9 38.0L220.7 36.0L220.1 34.5L220.0 32.4L221.5 31.8L222.1 30.2L223.5 30.4L225.7 29.5L226.4 31.7L227.2 31.9L229.8 31.4L230.7 32.1L232.2 33.1L233.6 33.8L234.3 35.2L234.1 36.5L233.6 37.7L234.3 39.6L232.7 41.0L232.2 42.5L231.0 43.1L228.6 43.9L230.2 43.9L232.2 44.6L234.2 43.5L234.4 42.2L236.5 41.8L237.2 40.8L240.0 40.8L240.8 39.6L242.5 39.3L243.6 40.0L245.0 40.1L247.3 39.6L247.7 38.5L249.6 36.4L250.2 35.3L251.4 33.6L252.4 32.9L252.9 31.6L253.8 29.5L252.7 27.6L251.6 26.6L250.1 27.3L248.7 27.4L247.2 26.3L246.9 24.3L245.1 23.8L245.2 21.6L245.0 21.2L244.4 19.4L245.5 17.9L247.1 16.8L248.0 15.8L249.4 16.2L251.5 15.9L253.0 15.8L253.8 15.1L255.9 13.9L256.6 12.2L258.0 11.5L258.5 9.7L259.5 7.9M283.9 23.8L282.8 23.0L281.0 22.4L280.3 22.7L278.2 21.6L276.8 22.1L275.5 23.4L273.9 23.8L273.3 22.3L271.7 20.2L271.1 21.6L269.6 23.0L269.8 24.0L270.4 25.5L271.7 27.4L270.7 28.3L269.8 30.4L268.1 31.7L268.1 33.7L268.4 34.8L269.6 36.7L269.4 38.6L270.2 39.7L271.0 41.0L272.7 40.6L273.9 40.7L275.3 39.6L276.9 38.9L278.9 37.4L278.8 36.7L278.1 34.3L277.5 33.1L276.3 32.6L274.7 31.1L273.9 29.5L274.5 28.7L276.5 26.7L276.8 25.9L278.7 25.8L279.4 25.8L281.1 26.6L282.5 26.7L283.9 25.9M212.1 78.5L213.8 78.2L215.4 77.0L216.4 76.7L217.8 76.9L220.0 76.7L221.4 77.0L222.7 78.2L223.7 78.2L225.1 78.9L226.4 79.9L228.3 80.1L229.1 79.7L231.1 79.8L232.9 79.9L233.6 81.1L235.3 81.1L236.1 81.7L237.9 82.8L239.9 83.3L240.8 84.2L242.6 83.7L243.1 82.6L245.1 81.4L245.5 80.3L247.4 79.3L248.0 77.8L249.9 77.2L250.4 76.4L252.2 76.3L253.8 74.7L255.2 74.9L257.0 76.1L258.7 77.2L259.5 77.8L260.8 76.9L262.4 75.6L264.5 77.5L265.5 78.0L266.7 79.2L267.6 78.8L270.0 78.4L270.4 78.2L272.4 78.5L273.8 77.6L275.8 78.4L277.6 77.3L278.9 77.0L280.5 76.7L282.1 77.3L284.4 76.8L285.4 76.3M258.8 124.6L259.4 123.8L261.0 121.1L261.7 120.2L261.4 118.2L261.1 117.2L260.8 115.7L260.9 113.8L262.2 112.8L262.7 111.1L264.5 110.2L265.9 109.6L267.4 109.4L269.6 108.0L270.7 106.7L272.1 105.8L272.4 103.7L274.3 104.5L274.8 104.7L276.8 104.4L278.2 104.4L279.4 103.4L281.2 103.1L283.1 103.5L283.9 103.0M212.1 162.0L212.0 161.0L211.4 158.8L211.3 157.7L212.0 156.7L211.8 154.0L213.2 152.6L213.5 151.2L214.5 149.6L216.5 149.3L217.8 147.6L219.1 146.3L221.4 145.4L223.8 144.8L224.5 144.2L226.4 144.0L227.7 143.3L229.7 143.7L231.5 142.6L231.3 141.1L231.7 139.4L230.6 138.0L230.7 136.8L231.8 136.9L233.8 137.3L234.6 137.6L236.5 138.2L238.0 137.9L238.7 137.9L241.5 138.1L242.3 138.2L242.5 136.4L243.8 136.0L244.6 133.9L245.1 133.2L246.0 131.9L248.2 130.2L249.4 129.6L250.0 128.4L252.2 127.0L253.0 126.0L254.7 124.8L255.6 123.9L256.6 123.1L258.8 124.6M203.2 161.7L204.2 160.8L206.3 160.8L207.8 162.5L209.2 162.7L211.1 162.1L212.1 162.0L212.1 164.1L212.0 165.1L212.0 166.8L211.3 167.8L211.3 169.8L211.1 170.9L212.1 172.1L210.9 172.9L209.2 173.5M258.8 124.6L258.3 125.4L258.7 126.8L258.0 129.3L258.1 130.3L259.1 132.4L259.2 132.5L259.5 134.5L259.5 136.1L258.8 137.8L257.8 139.1L257.9 140.8L257.3 141.8L257.7 142.7L256.3 144.8L256.8 146.4L255.7 147.6L255.6 149.5L255.2 151.2L257.0 152.6L258.1 153.4L258.1 155.4L257.8 157.1L257.3 158.4L256.1 159.1L254.7 159.8L252.3 159.8L252.6 160.9L252.8 162.9L252.4 164.8L252.8 165.7L252.3 167.6L252.3 169.2L251.5 170.1L248.9 171.7L248.0 172.1L248.6 173.5L248.4 175.1L247.9 176.0L248.7 177.8L249.3 179.7L250.2 181.4L252.3 182.2L252.5 184.1L253.5 184.4L253.0 186.5L253.8 187.4L255.7 186.3L257.3 187.2L257.0 184.8L256.6 183.6L255.0 183.4L254.2 182.9L252.3 182.9L252.0 184.4L252.5 185.9L251.9 187.6L252.3 188.6L254.1 189.6L254.7 190.0L257.3 189.5L258.1 190.8L259.5 191.0L260.9 189.8L262.5 189.5L264.4 189.4L265.8 189.6L266.7 189.4L267.4 190.2L269.8 191.5L270.3 193.0L270.9 193.8L272.8 195.2L273.2 197.3L272.7 198.3L271.3 200.5L271.0 202.3L270.3 202.3L268.6 203.6L266.7 204.5L265.4 204.9L263.4 204.4L262.4 205.2L261.8 206.8L260.7 208.5L260.2 209.5L259.5 210.7L259.4 212.7L259.5 213.8L260.5 215.9L261.2 216.8L261.6 217.7L261.7 219.6M257.3 158.4L259.2 159.0L260.8 158.5L261.9 158.4L263.8 158.4L265.5 157.8L266.7 157.0L268.0 157.2L269.1 156.5L271.7 157.1L272.7 156.2L273.9 156.2L275.7 156.3L276.4 156.2L278.7 155.2L279.6 155.5L281.5 155.5L282.3 155.1L284.2 154.8L285.4 154.1M271.0 202.3L272.8 200.8L273.9 200.2L275.4 200.4L276.4 199.6L278.2 199.4L280.0 199.5L281.3 198.1L282.8 197.8L283.9 198.0M193.4 96.0L194.8 95.3L196.0 96.5L195.1 98.3L193.4 98.3L192.7 97.2L193.4 96.0" fill="none" stroke="#000" stroke-width="1.0" stroke-linejoin="round"/><circle cx="120.8" cy="45.6" r="1.3" fill="#000"/><circle cx="123.7" cy="47.1" r="1.2" fill="#000"/><circle cx="117.9" cy="43.9" r="0.9" fill="#000"/><circle cx="125.8" cy="49.0" r="0.9" fill="#000"/><circle cx="98.2" cy="19.7" r="1.3" fill="#000"/><circle cx="183.0" cy="75.3" r="1.2" fill="#000"/><circle cx="185.5" cy="67.7" r="0.9" fill="#000"/><circle cx="38.1" cy="26.3" r="0.9" fill="#000"/><circle cx="204.2" cy="163.4" r="0.8" fill="#000"/><circle cx="64.7" cy="22.3" r="0.8" fill="#000"/><circle cx="78.4" cy="24.5" r="0.7" fill="#000"/>
</g>
<g clip-path="url(#clipc)">
<path d="M65.3 261.0h0M70.3 261.0h0M75.3 261.0h0M80.3 261.0h0M85.3 261.0h0M90.3 261.0h0M165.3 261.0h0M170.3 261.0h0M175.3 261.0h0M180.3 261.0h0M185.3 261.0h0M190.3 261.0h0M195.3 261.0h0M200.3 261.0h0M205.3 261.0h0M210.3 261.0h0M215.3 261.0h0M220.3 261.0h0M265.3 261.0h0M270.3 261.0h0M275.3 261.0h0M280.3 261.0h0M62.8 266.0h0M67.8 266.0h0M72.8 266.0h0M77.8 266.0h0M82.8 266.0h0M87.8 266.0h0M167.8 266.0h0M172.8 266.0h0M177.8 266.0h0M182.8 266.0h0M187.8 266.0h0M192.8 266.0h0M197.8 266.0h0M202.8 266.0h0M207.8 266.0h0M212.8 266.0h0M217.8 266.0h0M262.8 266.0h0M267.8 266.0h0M272.8 266.0h0M277.8 266.0h0M282.8 266.0h0M165.3 271.0h0M170.3 271.0h0M175.3 271.0h0M180.3 271.0h0M185.3 271.0h0M190.3 271.0h0M195.3 271.0h0M200.3 271.0h0M205.3 271.0h0M210.3 271.0h0M215.3 271.0h0M265.3 271.0h0M270.3 271.0h0M275.3 271.0h0M280.3 271.0h0M167.8 276.0h0M172.8 276.0h0M177.8 276.0h0M182.8 276.0h0M187.8 276.0h0M192.8 276.0h0M197.8 276.0h0M202.8 276.0h0M207.8 276.0h0M212.8 276.0h0M217.8 276.0h0M267.8 276.0h0M272.8 276.0h0M277.8 276.0h0M282.8 276.0h0M170.3 281.0h0M175.3 281.0h0M180.3 281.0h0M185.3 281.0h0M190.3 281.0h0M195.3 281.0h0M200.3 281.0h0M205.3 281.0h0M210.3 281.0h0M265.3 281.0h0M270.3 281.0h0M275.3 281.0h0M280.3 281.0h0M167.8 286.0h0M172.8 286.0h0M177.8 286.0h0M182.8 286.0h0M187.8 286.0h0M192.8 286.0h0M197.8 286.0h0M202.8 286.0h0M267.8 286.0h0M272.8 286.0h0M277.8 286.0h0M282.8 286.0h0M180.3 291.0h0M185.3 291.0h0M190.3 291.0h0M195.3 291.0h0M265.3 291.0h0M270.3 291.0h0M275.3 291.0h0M280.3 291.0h0M272.8 296.0h0M277.8 296.0h0M282.8 296.0h0M275.3 301.0h0M280.3 301.0h0M122.8 346.0h0M127.8 346.0h0M132.8 346.0h0M137.8 346.0h0M142.8 346.0h0M147.8 346.0h0M115.3 351.0h0M120.3 351.0h0M125.3 351.0h0M130.3 351.0h0M135.3 351.0h0M140.3 351.0h0M145.3 351.0h0M112.8 356.0h0M117.8 356.0h0M122.8 356.0h0M127.8 356.0h0M132.8 356.0h0M137.8 356.0h0M142.8 356.0h0M147.8 356.0h0M80.3 361.0h0M85.3 361.0h0M90.3 361.0h0M95.3 361.0h0M100.3 361.0h0M105.3 361.0h0M110.3 361.0h0M115.3 361.0h0M120.3 361.0h0M125.3 361.0h0M130.3 361.0h0M135.3 361.0h0M140.3 361.0h0M145.3 361.0h0M150.3 361.0h0M72.8 366.0h0M77.8 366.0h0M82.8 366.0h0M87.8 366.0h0M92.8 366.0h0M97.8 366.0h0M102.8 366.0h0M107.8 366.0h0M112.8 366.0h0M117.8 366.0h0M122.8 366.0h0M127.8 366.0h0M132.8 366.0h0M137.8 366.0h0M142.8 366.0h0M147.8 366.0h0M152.8 366.0h0M70.3 371.0h0M75.3 371.0h0M80.3 371.0h0M85.3 371.0h0M90.3 371.0h0M95.3 371.0h0M100.3 371.0h0M105.3 371.0h0M110.3 371.0h0M115.3 371.0h0M120.3 371.0h0M125.3 371.0h0M130.3 371.0h0M135.3 371.0h0M140.3 371.0h0M145.3 371.0h0M150.3 371.0h0M155.3 371.0h0M160.3 371.0h0M62.8 376.0h0M67.8 376.0h0M72.8 376.0h0M77.8 376.0h0M82.8 376.0h0M87.8 376.0h0M92.8 376.0h0M97.8 376.0h0M102.8 376.0h0M107.8 376.0h0M112.8 376.0h0M117.8 376.0h0M122.8 376.0h0M127.8 376.0h0M132.8 376.0h0M137.8 376.0h0M142.8 376.0h0M147.8 376.0h0M152.8 376.0h0M157.8 376.0h0M60.3 381.0h0M65.3 381.0h0M70.3 381.0h0M75.3 381.0h0M80.3 381.0h0M85.3 381.0h0M90.3 381.0h0M95.3 381.0h0M100.3 381.0h0M105.3 381.0h0M110.3 381.0h0M115.3 381.0h0M120.3 381.0h0M125.3 381.0h0M130.3 381.0h0M135.3 381.0h0M140.3 381.0h0M145.3 381.0h0M150.3 381.0h0M155.3 381.0h0M160.3 381.0h0M57.8 386.0h0M62.8 386.0h0M67.8 386.0h0M72.8 386.0h0M77.8 386.0h0M82.8 386.0h0M87.8 386.0h0M92.8 386.0h0M97.8 386.0h0M102.8 386.0h0M107.8 386.0h0M112.8 386.0h0M117.8 386.0h0M122.8 386.0h0M127.8 386.0h0M132.8 386.0h0M137.8 386.0h0M142.8 386.0h0M147.8 386.0h0M152.8 386.0h0M157.8 386.0h0M50.3 391.0h0M55.3 391.0h0M60.3 391.0h0M65.3 391.0h0M70.3 391.0h0M75.3 391.0h0M80.3 391.0h0M85.3 391.0h0M90.3 391.0h0M95.3 391.0h0M100.3 391.0h0M105.3 391.0h0M110.3 391.0h0M115.3 391.0h0M120.3 391.0h0M125.3 391.0h0M130.3 391.0h0M135.3 391.0h0M140.3 391.0h0M145.3 391.0h0M150.3 391.0h0M155.3 391.0h0M160.3 391.0h0M42.8 396.0h0M47.8 396.0h0M52.8 396.0h0M57.8 396.0h0M62.8 396.0h0M67.8 396.0h0M72.8 396.0h0M77.8 396.0h0M82.8 396.0h0M87.8 396.0h0M92.8 396.0h0M97.8 396.0h0M102.8 396.0h0M107.8 396.0h0M112.8 396.0h0M117.8 396.0h0M122.8 396.0h0M127.8 396.0h0M132.8 396.0h0M137.8 396.0h0M142.8 396.0h0M147.8 396.0h0M152.8 396.0h0M157.8 396.0h0M40.3 401.0h0M45.3 401.0h0M50.3 401.0h0M55.3 401.0h0M60.3 401.0h0M65.3 401.0h0M70.3 401.0h0M75.3 401.0h0M80.3 401.0h0M85.3 401.0h0M90.3 401.0h0M95.3 401.0h0M100.3 401.0h0M105.3 401.0h0M110.3 401.0h0M115.3 401.0h0M120.3 401.0h0M125.3 401.0h0M130.3 401.0h0M135.3 401.0h0M140.3 401.0h0M145.3 401.0h0M150.3 401.0h0M155.3 401.0h0M160.3 401.0h0M32.8 406.0h0M37.8 406.0h0M42.8 406.0h0M47.8 406.0h0M52.8 406.0h0M57.8 406.0h0M62.8 406.0h0M67.8 406.0h0M72.8 406.0h0M77.8 406.0h0M82.8 406.0h0M87.8 406.0h0M92.8 406.0h0M97.8 406.0h0M102.8 406.0h0M107.8 406.0h0M112.8 406.0h0M117.8 406.0h0M122.8 406.0h0M127.8 406.0h0M132.8 406.0h0M137.8 406.0h0M142.8 406.0h0M147.8 406.0h0M152.8 406.0h0M157.8 406.0h0M35.3 411.0h0M40.3 411.0h0M45.3 411.0h0M50.3 411.0h0M55.3 411.0h0M60.3 411.0h0M65.3 411.0h0M70.3 411.0h0M75.3 411.0h0M80.3 411.0h0M85.3 411.0h0M90.3 411.0h0M95.3 411.0h0M100.3 411.0h0M105.3 411.0h0M110.3 411.0h0M115.3 411.0h0M120.3 411.0h0M125.3 411.0h0M130.3 411.0h0M135.3 411.0h0M140.3 411.0h0M145.3 411.0h0M150.3 411.0h0M155.3 411.0h0M160.3 411.0h0M32.8 416.0h0M37.8 416.0h0M42.8 416.0h0M47.8 416.0h0M52.8 416.0h0M57.8 416.0h0M62.8 416.0h0M67.8 416.0h0M72.8 416.0h0M77.8 416.0h0M82.8 416.0h0M87.8 416.0h0M92.8 416.0h0M97.8 416.0h0M102.8 416.0h0M107.8 416.0h0M112.8 416.0h0M117.8 416.0h0M122.8 416.0h0M127.8 416.0h0M132.8 416.0h0M137.8 416.0h0M142.8 416.0h0M147.8 416.0h0M152.8 416.0h0M157.8 416.0h0M35.3 421.0h0M40.3 421.0h0M45.3 421.0h0M50.3 421.0h0M55.3 421.0h0M60.3 421.0h0M65.3 421.0h0M70.3 421.0h0M75.3 421.0h0M80.3 421.0h0M85.3 421.0h0M90.3 421.0h0M95.3 421.0h0M100.3 421.0h0M105.3 421.0h0M110.3 421.0h0M115.3 421.0h0M120.3 421.0h0M125.3 421.0h0M130.3 421.0h0M135.3 421.0h0M140.3 421.0h0M145.3 421.0h0M150.3 421.0h0M155.3 421.0h0M160.3 421.0h0M32.8 426.0h0M37.8 426.0h0M42.8 426.0h0M47.8 426.0h0M52.8 426.0h0M57.8 426.0h0M62.8 426.0h0M67.8 426.0h0M72.8 426.0h0M77.8 426.0h0M82.8 426.0h0M87.8 426.0h0M92.8 426.0h0M97.8 426.0h0M102.8 426.0h0M107.8 426.0h0M112.8 426.0h0M117.8 426.0h0M122.8 426.0h0M127.8 426.0h0M132.8 426.0h0M137.8 426.0h0M142.8 426.0h0M147.8 426.0h0M152.8 426.0h0M35.3 431.0h0M40.3 431.0h0M45.3 431.0h0M50.3 431.0h0M55.3 431.0h0M60.3 431.0h0M65.3 431.0h0M70.3 431.0h0M75.3 431.0h0M80.3 431.0h0M85.3 431.0h0M90.3 431.0h0M95.3 431.0h0M100.3 431.0h0M105.3 431.0h0M110.3 431.0h0M115.3 431.0h0M120.3 431.0h0M125.3 431.0h0M130.3 431.0h0M135.3 431.0h0M140.3 431.0h0M145.3 431.0h0M150.3 431.0h0M32.8 436.0h0M37.8 436.0h0M42.8 436.0h0M47.8 436.0h0M52.8 436.0h0M57.8 436.0h0M62.8 436.0h0M67.8 436.0h0M72.8 436.0h0M77.8 436.0h0M82.8 436.0h0M87.8 436.0h0M92.8 436.0h0M97.8 436.0h0M102.8 436.0h0M35.3 441.0h0M40.3 441.0h0M45.3 441.0h0M50.3 441.0h0M55.3 441.0h0M60.3 441.0h0M65.3 441.0h0M70.3 441.0h0M75.3 441.0h0M80.3 441.0h0M85.3 441.0h0M90.3 441.0h0M95.3 441.0h0M32.8 446.0h0M37.8 446.0h0M42.8 446.0h0M47.8 446.0h0M52.8 446.0h0M57.8 446.0h0M62.8 446.0h0M67.8 446.0h0M72.8 446.0h0M77.8 446.0h0M82.8 446.0h0M87.8 446.0h0M92.8 446.0h0M97.8 446.0h0M35.3 451.0h0M40.3 451.0h0M45.3 451.0h0M50.3 451.0h0M55.3 451.0h0M60.3 451.0h0M65.3 451.0h0M70.3 451.0h0M32.8 456.0h0M37.8 456.0h0M42.8 456.0h0M47.8 456.0h0M52.8 456.0h0M57.8 456.0h0M62.8 456.0h0M67.8 456.0h0" stroke="#000" stroke-width="1.9" stroke-linecap="round" fill="none"/>
<g fill="#00b8c8" stroke="#2a2af0" stroke-width="0.38" stroke-linejoin="round"><path d="M35.1 259.6L18.7 256.7L22.1 260.2L15.6 255.2L23.4 252.7L19.1 254.8L35.4 257.6Z"/>
<path d="M49.4 259.6L30.8 255.4L34.0 259.0L27.7 253.7L35.7 251.6L31.2 253.4L49.8 257.6Z"/>
<path d="M107.1 259.6L88.3 259.3L92.2 262.1L85.0 258.2L92.3 254.5L88.4 257.3L107.1 257.6Z"/>
<path d="M121.7 259.6L105.3 262.5L109.7 264.6L101.8 262.1L108.3 257.1L105.0 260.5L121.3 257.6Z"/>
<path d="M136.1 259.6L120.1 263.9L124.6 265.6L116.6 263.8L122.6 258.2L119.6 262.0L135.6 257.7Z"/>
<path d="M150.6 259.6L135.0 265.2L139.6 266.5L131.5 265.5L137.0 259.4L134.3 263.4L149.9 257.7Z"/>
<path d="M236.4 259.6L224.9 258.6L228.5 261.7L221.6 257.3L229.2 254.2L225.0 256.6L236.6 257.6Z"/>
<path d="M250.7 259.6L233.5 255.9L236.7 259.5L230.3 254.3L238.3 252.1L233.9 254.0L251.1 257.6Z"/>
<path d="M35.1 274.0L16.7 271.4L20.2 274.7L13.5 270.0L21.2 267.2L17.0 269.4L35.4 272.0Z"/>
<path d="M49.4 274.0L30.3 270.1L33.5 273.6L27.1 268.4L35.1 266.1L30.7 268.1L49.8 272.0Z"/>
<path d="M107.1 274.0L86.5 273.3L90.3 276.2L83.1 272.2L90.6 268.6L86.6 271.3L107.2 272.0Z"/>
<path d="M121.7 274.0L105.3 276.9L109.7 279.0L101.8 276.5L108.3 271.5L105.0 274.9L121.3 272.0Z"/>
<path d="M136.1 274.0L120.1 278.3L124.6 280.0L116.6 278.2L122.6 272.6L119.6 276.4L135.6 272.1Z"/>
<path d="M150.5 274.0L134.5 278.3L139.0 280.0L130.9 278.2L137.0 272.6L134.0 276.4L150.0 272.1Z"/>
<path d="M236.4 274.0L224.9 272.4L228.3 275.7L221.6 270.9L229.4 268.2L225.2 270.4L236.6 272.0Z"/>
<path d="M250.7 274.0L233.5 270.3L236.7 273.9L230.3 268.7L238.3 266.5L233.9 268.4L251.1 272.0Z"/>
<path d="M35.2 288.4L12.6 286.8L16.3 289.9L9.3 285.6L16.9 282.3L12.8 284.8L35.3 286.4Z"/>
<path d="M49.6 288.4L26.5 286.8L30.2 289.9L23.2 285.6L30.7 282.3L26.7 284.8L49.7 286.4Z"/>
<path d="M63.9 288.4L40.4 286.8L44.1 289.8L37.1 285.5L44.6 282.3L40.5 284.8L64.1 286.4Z"/>
<path d="M78.3 288.4L54.3 286.7L58.0 289.8L50.9 285.5L58.5 282.2L54.4 284.7L78.4 286.4Z"/>
<path d="M92.7 288.4L68.1 286.7L71.8 289.8L64.8 285.5L72.4 282.2L68.3 284.7L92.8 286.4Z"/>
<path d="M107.1 288.4L83.5 287.7L87.4 290.6L80.2 286.6L87.6 283.0L83.6 285.7L107.2 286.4Z"/>
<path d="M121.5 288.4L99.0 288.6L102.9 291.4L95.5 287.6L102.8 283.8L98.9 286.6L121.5 286.4Z"/>
<path d="M135.9 288.4L114.4 289.6L118.4 292.1L110.9 288.7L118.0 284.6L114.3 287.6L135.8 286.4Z"/>
<path d="M150.4 288.4L134.1 291.3L138.4 293.4L130.6 290.9L137.1 285.9L133.7 289.3L150.1 286.4Z"/>
<path d="M222.3 288.4L210.9 290.4L215.2 292.5L207.4 290.0L213.9 285.0L210.5 288.5L222.0 286.4Z"/>
<path d="M236.3 288.4L226.9 286.7L230.2 290.2L223.7 285.2L231.5 282.7L227.2 284.8L236.7 286.4Z"/>
<path d="M250.6 288.4L238.1 284.6L241.0 288.4L235.1 282.6L243.2 281.1L238.6 282.6L251.2 286.5Z"/>
<path d="M35.2 302.8L11.6 301.6L15.4 304.6L8.3 300.4L15.8 297.0L11.7 299.6L35.3 300.8Z"/>
<path d="M49.6 302.8L26.0 301.6L29.8 304.6L22.7 300.4L30.2 297.0L26.1 299.6L49.7 300.8Z"/>
<path d="M63.9 302.8L40.4 301.6L44.1 304.6L37.0 300.4L44.5 297.0L40.5 299.6L64.1 300.8Z"/>
<path d="M78.3 302.8L54.8 301.6L58.5 304.6L51.4 300.4L58.9 297.0L54.9 299.6L78.4 300.8Z"/>
<path d="M92.7 302.8L69.1 301.6L72.9 304.6L65.8 300.4L73.3 297.0L69.2 299.6L92.8 300.8Z"/>
<path d="M107.1 302.8L84.5 302.1L88.3 305.0L81.2 301.0L88.6 297.4L84.6 300.1L107.2 300.8Z"/>
<path d="M121.5 302.8L99.9 302.7L103.8 305.5L96.5 301.6L103.8 297.9L99.9 300.7L121.5 300.8Z"/>
<path d="M135.9 302.8L115.3 303.2L119.2 305.9L111.9 302.2L119.1 298.3L115.3 301.2L135.9 300.8Z"/>
<path d="M150.3 302.8L133.8 304.3L137.9 306.7L130.3 303.6L137.3 299.1L133.6 302.3L150.2 300.8Z"/>
<path d="M164.9 302.8L152.7 306.1L157.2 307.7L149.2 306.0L155.2 300.4L152.2 304.1L164.4 300.9Z"/>
<path d="M193.5 302.8L185.1 304.3L189.4 306.4L181.6 303.9L188.1 298.9L184.7 302.3L193.2 300.8Z"/>
<path d="M207.8 302.8L198.3 303.7L202.4 306.1L194.8 303.0L201.7 298.5L198.1 301.7L207.7 300.8Z"/>
<path d="M222.2 302.8L212.6 303.5L216.7 306.0L209.2 302.7L216.2 298.4L212.5 301.5L222.1 300.8Z"/>
<path d="M236.6 302.8L227.0 303.3L231.0 305.9L223.5 302.5L230.6 298.3L226.9 301.3L236.4 300.8Z"/>
<path d="M250.5 302.7L241.6 299.0L244.1 303.1L238.9 296.7L247.1 296.1L242.4 297.2L251.3 300.9Z"/>
<path d="M264.8 302.7L255.6 297.4L257.5 301.8L253.1 294.8L261.3 295.2L256.6 295.7L265.8 301.0Z"/>
<path d="M35.2 317.2L18.6 316.6L22.4 319.6L15.3 315.5L22.7 312.0L18.7 314.6L35.3 315.2Z"/>
<path d="M49.6 317.2L33.0 316.7L36.8 319.6L29.6 315.6L37.0 312.0L33.1 314.7L49.7 315.2Z"/>
<path d="M64.0 317.2L47.4 316.8L51.2 319.7L44.0 315.7L51.4 312.1L47.4 314.8L64.0 315.2Z"/>
<path d="M78.4 317.2L61.8 316.9L65.6 319.7L58.4 315.8L65.8 312.1L61.8 314.9L78.4 315.2Z"/>
<path d="M92.7 317.2L76.1 316.9L80.0 319.8L72.8 315.9L80.1 312.2L76.2 314.9L92.8 315.2Z"/>
<path d="M107.1 317.2L93.0 317.1L96.9 319.9L89.6 316.0L97.0 312.3L93.0 315.1L107.1 315.2Z"/>
<path d="M121.5 317.2L109.9 317.2L113.8 320.0L106.5 316.2L113.8 312.4L109.9 315.2L121.5 315.2Z"/>
<path d="M135.9 317.2L125.3 317.2L129.2 320.0L121.9 316.2L129.2 312.4L125.3 315.2L135.9 315.2Z"/>
<path d="M150.2 317.2L140.7 317.2L144.6 320.0L137.2 316.2L144.6 312.4L140.7 315.2L150.2 315.2Z"/>
<path d="M164.6 317.2L160.0 317.2L163.9 320.0L156.6 316.2L163.9 312.4L160.0 315.2L164.6 315.2Z"/>
<path d="M179.0 317.2L174.4 317.2L178.3 320.0L171.0 316.2L178.3 312.4L174.4 315.2L179.0 315.2Z"/>
<path d="M193.4 317.2L187.8 317.2L191.7 320.0L184.4 316.2L191.7 312.4L187.8 315.2L193.4 315.2Z"/>
<path d="M207.7 317.2L202.1 317.0L205.9 320.0L198.8 315.9L206.2 312.4L202.2 315.0L207.8 315.2Z"/>
<path d="M221.7 317.1L215.7 314.3L218.1 318.5L213.1 312.0L221.3 311.6L216.6 312.5L222.5 315.3Z"/>
<path d="M236.0 317.1L230.2 314.0L232.3 318.3L227.7 311.5L236.0 311.6L231.2 312.2L237.0 315.3Z"/>
<path d="M250.3 317.1L244.7 313.6L246.6 318.0L242.4 310.9L250.6 311.6L245.8 311.9L251.4 315.4Z"/>
<path d="M264.6 317.0L257.3 310.8L258.4 315.5L255.3 307.9L263.3 309.6L258.5 309.3L265.9 315.5Z"/>
<path d="M35.0 331.6L25.7 329.4L28.8 333.0L22.6 327.7L30.6 325.6L26.1 327.5L35.5 329.6Z"/>
<path d="M49.4 331.6L40.1 329.4L43.2 333.0L37.0 327.6L45.0 325.6L40.5 327.4L49.9 329.7Z"/>
<path d="M63.8 331.6L54.4 329.3L57.6 332.9L51.4 327.5L59.4 325.6L54.9 327.3L64.2 329.7Z"/>
<path d="M78.1 331.6L68.8 329.2L71.9 332.9L65.8 327.4L73.8 325.5L69.3 327.3L78.6 329.7Z"/>
<path d="M92.5 331.6L83.2 329.1L86.3 332.8L80.2 327.3L88.2 325.5L83.7 327.2L93.0 329.7Z"/>
<path d="M106.8 331.6L98.3 329.1L101.3 332.9L95.4 327.2L103.4 325.6L98.9 327.2L107.4 329.7Z"/>
<path d="M121.2 331.6L113.5 329.2L116.4 333.0L110.5 327.2L118.6 325.8L114.1 327.3L121.8 329.7Z"/>
<path d="M135.6 331.6L128.6 329.2L131.4 333.1L125.7 327.2L133.8 325.9L129.2 327.3L136.2 329.7Z"/>
<path d="M149.9 331.6L143.7 329.3L146.4 333.3L140.9 327.2L149.0 326.1L144.4 327.4L150.6 329.7Z"/>
<path d="M164.2 331.3L161.4 329.7L163.1 333.3L159.4 327.6L166.2 327.9L162.3 328.3L165.0 329.9Z"/>
<path d="M178.7 331.4L175.7 330.0L177.7 333.5L173.6 328.1L180.3 327.8L176.4 328.5L179.3 329.9Z"/>
<path d="M193.3 331.6L189.6 331.5L193.2 334.3L186.4 330.4L193.5 327.0L189.7 329.5L193.4 329.7Z"/>
<path d="M207.7 331.6L203.9 331.3L207.4 334.3L200.8 330.0L208.1 327.0L204.1 329.3L207.8 329.7Z"/>
<path d="M221.5 331.4L218.0 328.4L219.1 333.1L216.0 325.5L224.0 327.3L219.2 326.9L222.8 329.9Z"/>
<path d="M235.8 331.4L232.1 327.9L233.0 332.6L230.3 324.9L238.2 327.0L233.4 326.4L237.2 329.9Z"/>
<path d="M250.2 331.3L246.2 327.4L247.0 332.1L244.5 324.3L252.4 326.7L247.6 326.0L251.6 329.9Z"/>
<path d="M264.5 331.3L260.3 326.9L261.0 331.6L258.7 323.7L266.5 326.4L261.8 325.5L266.0 329.9Z"/>
<path d="M278.9 331.3L274.5 326.4L275.0 331.2L272.9 323.2L280.6 326.1L276.0 325.1L280.4 330.0Z"/>
<path d="M34.8 345.9L29.0 342.8L31.1 347.1L26.4 340.3L34.7 340.4L29.9 341.0L35.7 344.1Z"/>
<path d="M49.1 345.9L43.4 342.7L45.4 347.0L40.9 340.2L49.1 340.4L44.3 341.0L50.1 344.1Z"/>
<path d="M63.5 345.9L57.8 342.6L59.8 347.0L55.3 340.0L63.6 340.4L58.8 340.9L64.5 344.2Z"/>
<path d="M77.9 345.9L72.2 342.5L74.1 346.9L69.8 339.9L78.0 340.4L73.2 340.8L78.9 344.2Z"/>
<path d="M92.2 345.9L86.6 342.4L88.4 346.8L84.3 339.7L92.5 340.4L87.7 340.7L93.3 344.2Z"/>
<path d="M106.6 345.8L101.6 342.4L103.2 346.9L99.4 339.6L107.5 340.7L102.7 340.8L107.7 344.2Z"/>
<path d="M120.9 345.8L116.5 342.4L117.9 347.0L114.4 339.5L122.5 341.0L117.7 340.8L122.1 344.2Z"/>
<path d="M135.2 345.8L131.4 342.4L132.5 347.1L129.5 339.5L137.5 341.4L132.7 340.9L136.5 344.3Z"/>
<path d="M149.5 345.7L146.3 342.5L147.1 347.2L144.6 339.4L152.4 341.8L147.7 341.1L151.0 344.3Z"/>
<path d="M164.1 345.5L162.3 343.6L162.8 346.9L161.1 341.5L166.5 343.2L163.2 342.7L165.1 344.5Z"/>
<path d="M178.6 345.5L176.5 343.8L177.3 347.0L175.2 341.8L180.7 343.0L177.4 342.8L179.4 344.5Z"/>
<path d="M193.3 346.0L188.7 345.9L192.5 348.8L185.4 344.7L192.8 341.2L188.8 343.9L193.4 344.0Z"/>
<path d="M207.2 345.9L203.3 343.6L205.2 348.0L200.8 341.0L209.0 341.4L204.3 341.9L208.2 344.2Z"/>
<path d="M221.5 345.8L218.0 342.7L219.1 347.4L216.2 339.7L224.1 341.7L219.4 341.2L222.8 344.3Z"/>
<path d="M235.8 345.7L232.3 342.4L233.2 347.1L230.5 339.3L238.4 341.6L233.7 341.0L237.2 344.3Z"/>
<path d="M250.2 345.7L246.6 342.1L247.3 346.9L244.9 339.0L252.7 341.5L248.0 340.7L251.6 344.3Z"/>
<path d="M264.5 345.7L260.9 341.8L261.5 346.6L259.2 338.7L267.0 341.4L262.3 340.5L266.0 344.3Z"/>
<path d="M278.9 345.7L275.1 341.5L275.7 346.3L273.6 338.3L281.3 341.2L276.6 340.2L280.4 344.4Z"/>
<path d="M34.6 360.1L31.9 357.5L32.7 362.0L30.3 354.5L37.8 356.8L33.3 356.1L35.9 358.7Z"/>
<path d="M48.9 360.0L46.5 357.2L46.8 361.8L45.1 354.1L52.4 357.1L48.0 356.0L50.4 358.8Z"/>
<path d="M63.2 360.0L61.1 356.9L61.0 361.5L60.0 353.7L67.0 357.3L62.6 355.8L64.8 358.9Z"/>
<path d="M77.5 359.9L75.7 356.3L74.9 361.0L75.0 352.8L81.7 357.6L77.4 355.4L79.3 359.0Z"/>
<path d="M91.8 359.8L90.2 355.4L88.9 360.1L90.0 351.9L96.1 357.5L92.1 354.8L93.7 359.1Z"/>
<path d="M106.2 359.7L105.0 355.3L103.3 359.8L105.1 351.7L110.6 357.8L106.9 354.8L108.1 359.2Z"/>
<path d="M120.5 359.6L119.7 355.1L117.6 359.4L120.1 351.5L125.1 358.1L121.7 354.7L122.5 359.3Z"/>
<path d="M134.9 359.6L134.2 355.6L132.1 359.9L134.6 352.0L139.6 358.6L136.1 355.2L136.9 359.3Z"/>
<path d="M149.3 359.6L148.7 355.9L146.7 360.1L149.0 352.5L153.8 358.8L150.5 355.6L151.2 359.3Z"/>
<path d="M164.0 359.7L163.1 357.1L162.2 360.3L162.9 354.7L167.1 358.5L164.4 356.7L165.3 359.2Z"/>
<path d="M178.5 359.9L176.8 357.8L177.0 361.1L175.8 355.6L181.0 357.8L177.8 356.9L179.5 359.0Z"/>
<path d="M192.8 360.1L190.4 358.0L191.4 361.8L188.8 355.6L195.4 357.0L191.4 356.7L193.9 358.8Z"/>
<path d="M207.2 360.1L204.8 358.0L205.7 361.8L203.2 355.6L209.8 357.0L205.8 356.7L208.3 358.8Z"/>
<path d="M221.6 360.1L219.1 358.0L220.1 361.8L217.5 355.6L224.1 357.0L220.2 356.7L222.7 358.8Z"/>
<path d="M236.0 360.1L233.5 358.0L234.5 361.8L231.9 355.6L238.5 357.0L234.6 356.7L237.0 358.8Z"/>
<path d="M250.3 360.0L248.0 357.7L248.7 361.6L246.6 355.2L253.1 357.2L249.2 356.6L251.5 358.8Z"/>
<path d="M264.5 360.0L262.3 356.9L262.3 361.5L261.2 353.7L268.2 357.3L263.9 355.8L266.0 358.9Z"/>
<path d="M278.8 359.9L276.9 356.7L276.5 361.2L276.1 353.4L282.8 357.6L278.6 355.7L280.5 358.9Z"/>
<path d="M34.5 374.0L33.6 370.9L32.2 374.6L33.7 368.0L38.3 373.0L35.2 370.5L36.0 373.6Z"/>
<path d="M48.8 374.0L48.1 370.9L46.6 374.5L48.3 368.0L52.7 373.1L49.7 370.5L50.4 373.6Z"/>
<path d="M63.2 374.0L62.6 370.8L60.9 374.4L63.0 367.9L67.1 373.3L64.3 370.5L64.8 373.7Z"/>
<path d="M77.4 373.8L77.4 368.2L74.6 372.1L78.4 364.8L82.2 372.1L79.4 368.2L79.4 373.8Z"/>
<path d="M91.8 373.8L91.8 368.2L89.0 372.1L92.8 364.8L96.5 372.1L93.8 368.2L93.8 373.8Z"/>
<path d="M106.1 373.8L106.1 368.2L103.3 372.1L107.1 364.8L110.9 372.1L108.1 368.2L108.1 373.8Z"/>
<path d="M120.5 373.8L120.5 368.2L117.7 372.1L121.5 364.8L125.3 372.1L122.5 368.2L122.5 373.8Z"/>
<path d="M134.9 373.8L134.8 368.7L132.1 372.7L135.7 365.3L139.7 372.6L136.8 368.7L136.9 373.8Z"/>
<path d="M149.3 373.9L149.1 369.3L146.4 373.3L150.0 365.8L154.0 373.0L151.1 369.2L151.2 373.8Z"/>
<path d="M164.0 374.0L163.3 371.4L162.1 374.5L163.3 369.0L167.1 373.2L164.6 371.1L165.3 373.6Z"/>
<path d="M178.6 374.2L177.1 372.7L177.5 375.3L176.2 371.0L180.5 372.4L177.9 371.9L179.4 373.4Z"/>
<path d="M193.0 374.4L190.7 373.1L192.1 376.1L189.0 371.3L194.7 371.6L191.4 371.9L193.7 373.2Z"/>
<path d="M207.3 374.7L204.0 372.8L205.9 377.0L201.7 370.3L209.6 370.7L205.0 371.1L208.2 373.0Z"/>
<path d="M221.6 374.7L218.4 372.8L220.3 377.0L216.1 370.3L223.9 370.7L219.4 371.1L222.6 373.0Z"/>
<path d="M236.0 374.7L232.8 372.8L234.7 377.0L230.4 370.3L238.3 370.7L233.7 371.1L237.0 373.0Z"/>
<path d="M250.3 374.4L248.0 372.1L248.7 376.0L246.6 369.6L253.1 371.6L249.2 371.0L251.5 373.2Z"/>
<path d="M264.4 374.2L262.8 370.8L261.9 375.4L262.3 367.5L268.6 372.3L264.5 370.0L266.1 373.4Z"/>
<path d="M278.7 374.2L277.3 370.7L276.2 375.2L277.0 367.3L283.0 372.5L279.1 370.0L280.5 373.5Z"/>
<path d="M34.3 387.9L35.5 384.4L31.8 387.1L37.4 381.6L38.7 389.4L37.3 385.0L36.2 388.5Z"/>
<path d="M48.7 388.0L49.7 384.4L46.1 387.3L51.4 381.5L53.1 389.2L51.5 384.9L50.6 388.5Z"/>
<path d="M63.0 388.2L63.5 381.6L60.4 385.3L64.7 378.2L68.0 385.8L65.5 381.7L65.0 388.3Z"/>
<path d="M77.4 388.2L77.8 381.6L74.7 385.3L79.0 378.2L82.3 385.8L79.8 381.7L79.4 388.3Z"/>
<path d="M91.8 388.2L92.1 381.6L89.1 385.3L93.3 378.2L96.7 385.7L94.1 381.7L93.7 388.3Z"/>
<path d="M106.1 388.2L106.4 381.6L103.4 385.4L107.6 378.2L111.0 385.7L108.4 381.7L108.1 388.3Z"/>
<path d="M120.5 388.2L120.7 381.6L117.8 385.4L121.8 378.2L125.4 385.7L122.7 381.7L122.5 388.3Z"/>
<path d="M134.9 388.2L135.2 382.1L132.2 385.8L136.4 378.7L139.8 386.3L137.2 382.2L136.9 388.3Z"/>
<path d="M149.3 388.1L149.7 382.6L146.6 386.2L151.0 379.3L154.2 386.9L151.7 382.7L151.2 388.3Z"/>
<path d="M163.8 388.1L164.4 384.9L161.5 387.7L165.7 382.3L167.7 388.8L166.0 385.2L165.4 388.4Z"/>
<path d="M178.3 388.3L177.9 385.7L176.4 388.7L178.1 383.3L181.6 387.8L179.2 385.5L179.7 388.1Z"/>
<path d="M192.9 388.7L190.9 387.0L191.7 390.2L189.5 385.0L195.0 386.2L191.8 386.0L193.8 387.7Z"/>
<path d="M207.3 388.8L205.0 387.0L206.0 390.5L203.4 384.9L209.5 385.9L205.9 385.8L208.2 387.6Z"/>
<path d="M221.7 388.9L219.0 387.1L220.3 390.8L217.2 384.8L223.9 385.7L220.0 385.7L222.6 387.6Z"/>
<path d="M236.0 388.7L234.1 386.8L234.7 390.1L233.0 384.7L238.3 386.4L235.1 385.9L237.0 387.7Z"/>
<path d="M250.4 388.7L248.5 386.8L249.0 390.1L247.3 384.7L252.7 386.4L249.5 385.9L251.4 387.7Z"/>
<path d="M264.3 388.6L263.1 385.0L261.8 389.5L262.9 381.6L268.7 387.0L264.9 384.4L266.2 387.9Z"/>
<path d="M278.7 388.5L277.6 385.0L276.2 389.4L277.5 381.6L283.1 387.1L279.4 384.4L280.5 387.9Z"/>
<path d="M34.5 402.0L39.6 396.3L34.9 397.3L42.6 394.4L40.5 402.4L41.1 397.6L36.0 403.3Z"/>
<path d="M48.9 402.0L53.7 396.2L49.1 397.4L56.7 394.2L54.9 402.2L55.3 397.4L50.4 403.3Z"/>
<path d="M63.2 402.0L67.9 396.0L63.3 397.4L70.8 394.0L69.3 402.0L69.5 397.3L64.8 403.2Z"/>
<path d="M77.4 402.3L79.5 396.0L75.6 398.9L81.5 393.1L82.8 401.2L81.4 396.7L79.3 402.9Z"/>
<path d="M91.8 402.3L93.7 396.0L89.9 399.0L95.6 393.0L97.2 401.1L95.6 396.6L93.7 402.9Z"/>
<path d="M106.2 402.4L107.9 396.0L104.2 399.0L109.8 393.0L111.5 401.0L109.8 396.5L108.1 402.9Z"/>
<path d="M120.5 402.4L122.1 396.0L118.5 399.1L123.9 392.9L125.8 400.9L124.1 396.5L122.5 402.9Z"/>
<path d="M134.9 402.4L136.3 396.5L132.7 399.6L138.0 393.4L140.1 401.3L138.2 396.9L136.8 402.8Z"/>
<path d="M149.3 402.4L150.4 396.9L146.9 400.2L152.1 393.8L154.3 401.8L152.4 397.4L151.2 402.8Z"/>
<path d="M163.7 402.3L165.0 398.8L161.2 401.4L167.0 396.0L168.0 403.9L166.8 399.4L165.5 403.0Z"/>
<path d="M178.3 402.4L179.0 399.9L176.5 402.0L180.3 397.8L181.5 403.3L180.4 400.2L179.7 402.8Z"/>
<path d="M192.8 402.6L192.8 400.5L191.3 402.6L193.4 398.6L195.5 402.6L193.9 400.5L193.9 402.6Z"/>
<path d="M207.4 403.0L205.8 401.7L206.4 404.2L204.7 400.1L209.1 401.0L206.5 400.8L208.1 402.2Z"/>
<path d="M221.9 403.1L219.9 402.4L221.4 404.6L218.4 401.3L222.8 400.7L220.3 401.4L222.3 402.1Z"/>
<path d="M236.3 403.1L234.3 402.4L235.8 404.6L232.7 401.3L237.2 400.7L234.7 401.4L236.7 402.1Z"/>
<path d="M250.4 403.1L248.5 401.2L249.0 404.5L247.3 399.1L252.7 400.8L249.5 400.3L251.4 402.1Z"/>
<path d="M264.5 403.0L263.2 400.1L262.4 403.9L262.7 397.2L268.1 401.3L264.6 399.4L266.0 402.3Z"/>
<path d="M278.9 402.9L277.7 400.0L276.7 403.8L277.4 397.1L282.5 401.5L279.2 399.3L280.4 402.3Z"/>
<path d="M34.6 416.3L42.0 410.1L37.2 410.4L45.2 408.7L42.1 416.3L43.2 411.6L35.9 417.8Z"/>
<path d="M49.0 416.3L56.1 409.9L51.3 410.4L59.3 408.3L56.4 416.0L57.4 411.3L50.3 417.8Z"/>
<path d="M63.3 416.3L70.2 409.6L65.5 410.3L73.4 408.0L70.7 415.8L71.6 411.1L64.7 417.7Z"/>
<path d="M77.5 416.6L80.6 410.7L76.3 412.9L83.1 408.2L83.0 416.4L82.4 411.7L79.3 417.5Z"/>
<path d="M91.9 416.6L94.9 410.7L90.6 412.9L97.3 408.1L97.4 416.3L96.6 411.6L93.6 417.5Z"/>
<path d="M106.2 416.6L109.1 410.7L104.9 412.9L111.5 408.0L111.7 416.3L110.9 411.5L108.0 417.5Z"/>
<path d="M120.6 416.6L123.4 410.6L119.2 413.0L125.7 408.0L126.1 416.2L125.2 411.5L122.4 417.4Z"/>
<path d="M135.0 416.6L137.5 411.2L133.3 413.6L139.8 408.6L140.2 416.8L139.3 412.1L136.8 417.4Z"/>
<path d="M149.3 416.6L151.6 411.8L147.4 414.2L153.9 409.2L154.3 417.4L153.4 412.7L151.2 417.4Z"/>
<path d="M163.7 416.6L165.7 412.4L161.5 414.8L168.0 409.8L168.4 418.0L167.5 413.3L165.5 417.4Z"/>
<path d="M178.2 416.5L180.4 413.4L176.0 414.9L183.0 411.3L182.0 419.1L181.9 414.5L179.8 417.6Z"/>
<path d="M192.6 416.4L195.0 413.5L190.6 414.7L197.9 411.7L196.2 419.4L196.5 414.8L194.1 417.6Z"/>
<path d="M207.2 416.6L209.0 414.6L205.8 415.3L211.1 413.3L209.7 418.8L210.0 415.5L208.3 417.5Z"/>
<path d="M222.0 416.6L223.5 416.1L221.6 415.6L224.9 416.0L222.7 418.5L223.8 416.9L222.3 417.4Z"/>
<path d="M236.5 416.8L237.3 416.7L236.4 416.3L238.0 416.8L236.6 417.8L237.3 417.1L236.5 417.2Z"/>
<path d="M250.6 417.3L249.5 416.2L249.8 418.1L248.8 414.9L252.0 415.9L250.0 415.6L251.2 416.7Z"/>
<path d="M264.6 417.3L263.7 414.7L262.8 417.9L263.5 412.3L267.7 416.1L265.0 414.3L265.9 416.8Z"/>
<path d="M278.8 417.2L278.3 414.0L276.5 417.6L278.6 411.1L282.7 416.5L279.9 413.7L280.4 416.9Z"/>
<path d="M63.3 430.7L69.5 424.7L64.7 425.4L72.6 423.1L70.0 430.9L70.9 426.2L64.7 432.1Z"/>
<path d="M77.7 430.7L83.6 424.5L78.9 425.4L86.7 422.8L84.4 430.7L85.1 425.9L79.1 432.1Z"/>
<path d="M91.9 430.9L94.9 426.1L90.4 428.0L97.5 423.8L96.9 432.0L96.6 427.2L93.6 432.0Z"/>
<path d="M106.3 430.9L109.2 426.1L104.8 428.0L111.9 423.8L111.2 432.0L110.9 427.2L108.0 432.0Z"/>
<path d="M120.7 430.9L123.6 426.1L119.2 428.0L126.3 423.8L125.6 432.0L125.3 427.2L122.3 432.0Z"/>
<path d="M135.0 430.9L137.9 426.5L133.4 428.2L140.6 424.2L139.8 432.3L139.6 427.5L136.7 432.0Z"/>
<path d="M149.4 430.9L152.2 426.8L147.7 428.4L154.9 424.5L154.0 432.7L153.8 427.9L151.1 432.0Z"/>
<path d="M163.8 430.9L166.4 427.1L161.9 428.7L169.2 424.9L168.1 433.0L168.1 428.2L165.4 432.0Z"/>
<path d="M178.2 430.8L181.1 427.3L176.5 428.5L184.1 425.3L182.4 433.3L182.7 428.5L179.8 432.1Z"/>
<path d="M192.7 430.7L195.9 427.4L191.1 428.3L198.9 425.7L196.6 433.6L197.3 428.8L194.1 432.1Z"/>
<path d="M207.1 430.7L209.7 428.1L205.2 428.8L212.7 426.5L210.3 434.0L211.1 429.5L208.4 432.1Z"/>
<path d="M221.7 431.1L223.1 429.4L220.5 430.1L224.7 428.4L223.7 432.8L223.9 430.1L222.5 431.8Z"/>
<path d="M236.3 431.4L236.6 430.6L235.8 431.2L237.0 430.0L237.2 431.7L237.0 430.7L236.7 431.5Z"/>
<path d="M250.6 431.7L249.5 430.6L249.8 432.5L248.8 429.3L252.0 430.3L250.0 430.0L251.2 431.1Z"/>
<path d="M264.6 431.7L263.5 429.3L262.9 432.5L263.1 426.9L267.6 430.3L264.7 428.7L265.9 431.1Z"/>
<path d="M278.8 431.6L278.0 428.5L276.6 432.2L278.1 425.6L282.6 430.6L279.6 428.1L280.4 431.2Z"/>
<path d="M63.4 445.1L69.9 439.5L65.2 439.9L73.2 438.1L70.0 445.7L71.2 441.1L64.6 446.6Z"/>
<path d="M77.7 445.1L84.3 439.5L79.5 439.9L87.6 438.1L84.4 445.7L85.6 441.1L79.0 446.6Z"/>
<path d="M91.9 445.2L94.6 441.5L90.1 443.0L97.5 439.4L96.2 447.5L96.3 442.7L93.6 446.4Z"/>
<path d="M106.3 445.2L109.1 441.5L104.5 443.0L111.9 439.4L110.6 447.6L110.7 442.8L107.9 446.4Z"/>
<path d="M120.7 445.2L123.5 441.6L118.9 442.9L126.4 439.5L124.9 447.6L125.1 442.8L122.3 446.4Z"/>
<path d="M135.1 445.2L138.0 441.6L133.3 442.9L140.9 439.6L139.3 447.7L139.5 442.9L136.7 446.4Z"/>
<path d="M149.5 445.2L152.4 441.6L147.8 442.9L155.3 439.6L153.6 447.7L153.9 442.9L151.0 446.5Z"/>
<path d="M163.9 445.2L166.8 441.7L162.2 442.8L169.8 439.7L168.0 447.7L168.3 442.9L165.4 446.5Z"/>
<path d="M178.3 445.1L181.5 441.8L176.7 442.7L184.5 440.1L182.2 448.0L182.9 443.2L179.7 446.5Z"/>
<path d="M192.7 445.1L196.1 442.0L191.4 442.5L199.3 440.5L196.4 448.2L197.5 443.5L194.0 446.6Z"/>
<path d="M207.1 445.1L210.5 442.0L205.7 442.5L213.7 440.5L210.8 448.2L211.8 443.5L208.4 446.6Z"/>
<path d="M221.5 445.6L222.4 443.1L219.7 444.9L223.8 441.1L224.6 446.7L223.7 443.5L222.8 446.1Z"/>
<path d="M236.0 445.9L235.8 443.7L234.4 446.0L236.2 441.8L238.6 445.6L236.9 443.6L237.0 445.8Z"/>
<path d="M250.4 446.0L249.6 444.0L248.9 446.5L249.5 442.1L252.8 445.1L250.7 443.6L251.4 445.6Z"/>
<path d="M264.6 446.1L263.7 443.5L262.8 446.7L263.5 441.1L267.7 444.9L265.0 443.1L265.9 445.6Z"/>
<path d="M278.9 445.8L278.8 443.2L277.0 445.9L279.5 440.8L282.2 445.7L280.2 443.1L280.3 445.8Z"/>
<path d="M63.4 459.4L68.8 455.6L64.0 455.6L72.2 454.5L68.4 461.8L70.0 457.3L64.6 461.0Z"/>
<path d="M77.8 459.4L83.1 455.6L78.3 455.6L86.5 454.4L82.8 461.7L84.3 457.2L79.0 461.0Z"/>
<path d="M92.2 459.4L97.5 455.5L92.7 455.6L100.8 454.3L97.2 461.7L98.6 457.1L93.3 461.0Z"/>
<path d="M106.5 459.4L111.8 455.4L107.0 455.6L115.1 454.2L111.6 461.6L113.0 457.0L107.7 461.0Z"/>
<path d="M120.9 459.4L126.1 455.4L121.3 455.6L129.4 454.1L126.0 461.6L127.3 456.9L122.1 461.0Z"/>
<path d="M135.2 459.5L139.5 455.9L134.7 456.2L142.8 454.5L139.6 462.1L140.8 457.4L136.5 461.0Z"/>
<path d="M149.6 459.5L153.0 456.4L148.2 456.9L156.2 454.9L153.3 462.6L154.3 457.9L150.9 461.0Z"/>
<path d="M163.9 459.5L166.6 456.9L162.0 457.6L169.6 455.3L167.2 462.8L167.9 458.3L165.3 460.9Z"/>
<path d="M178.3 459.5L181.1 456.8L176.4 457.5L184.3 455.1L181.7 462.9L182.5 458.2L179.7 460.9Z"/>
<path d="M192.7 459.5L195.8 456.6L191.1 457.2L199.0 455.0L196.2 462.8L197.2 458.1L194.1 461.0Z"/>
<path d="M207.1 459.5L210.5 456.4L205.7 456.9L213.7 454.9L210.8 462.6L211.8 457.9L208.4 461.0Z"/>
<path d="M221.5 459.9L222.6 457.5L219.8 459.1L224.2 455.7L224.5 461.3L223.9 458.1L222.7 460.5Z"/>
<path d="M235.8 460.1L236.3 457.5L233.9 459.8L237.4 455.3L239.1 460.7L237.6 457.7L237.2 460.3Z"/>
<path d="M250.2 460.3L250.0 457.6L248.3 460.5L250.4 455.2L253.5 460.0L251.3 457.5L251.6 460.2Z"/>
<path d="M264.6 460.3L264.2 457.7L262.7 460.6L264.6 455.3L267.8 459.9L265.6 457.5L265.9 460.1Z"/>
<path d="M279.0 460.3L278.5 457.7L277.1 460.7L278.8 455.3L282.2 459.8L279.8 457.5L280.3 460.1Z"/></g>
<g fill="#00003c" stroke="#2a2af0" stroke-width="0.38" stroke-linejoin="round"><path d="M63.8 259.4L42.9 253.9L45.9 257.7L39.9 252.2L47.9 250.4L43.4 252.2L64.2 257.8Z"/>
<path d="M78.2 259.5L57.1 254.8L60.3 258.5L54.0 253.2L61.9 251.1L57.5 253.1L78.6 257.8Z"/>
<path d="M92.6 259.5L71.3 255.7L74.7 259.3L68.1 254.3L76.0 251.8L71.6 254.0L92.9 257.8Z"/>
<path d="M165.1 259.3L148.9 270.3L153.7 270.6L145.6 271.5L149.5 264.3L147.9 268.9L164.1 257.9Z"/>
<path d="M179.5 259.3L162.0 272.0L166.9 272.1L158.8 273.3L162.4 266.0L161.0 270.6L178.5 257.9Z"/>
<path d="M193.9 259.3L176.6 273.8L181.5 273.6L173.5 275.3L176.6 267.7L175.5 272.5L192.8 258.0Z"/>
<path d="M208.1 259.4L188.7 268.9L193.5 269.8L185.3 269.6L190.2 263.0L188.0 267.3L207.4 257.9Z"/>
<path d="M222.4 259.4L203.7 265.5L208.4 267.1L200.3 265.7L206.0 259.9L203.2 263.9L221.9 257.8Z"/>
<path d="M264.9 259.4L247.9 251.8L250.3 256.1L245.2 249.7L253.4 249.2L248.6 250.3L265.6 257.8Z"/>
<path d="M279.1 259.3L264.6 249.5L266.1 254.1L262.2 246.9L270.4 247.8L265.5 248.1L280.1 257.9Z"/>
<path d="M63.8 273.8L43.9 268.5L46.9 272.4L40.8 266.8L48.9 265.0L44.3 266.9L64.2 272.2Z"/>
<path d="M78.2 273.9L57.7 268.9L60.8 272.7L54.6 267.3L62.5 265.3L58.1 267.3L78.6 272.2Z"/>
<path d="M92.6 273.9L71.4 269.4L74.6 273.1L68.3 267.8L76.2 265.6L71.8 267.7L92.9 272.2Z"/>
<path d="M165.0 273.8L146.1 283.4L150.9 284.3L142.7 284.2L147.5 277.5L145.3 281.9L164.2 272.3Z"/>
<path d="M179.5 273.7L161.1 285.2L166.0 285.6L157.8 286.3L162.0 279.2L160.2 283.7L178.5 272.3Z"/>
<path d="M193.9 273.7L176.4 286.4L181.3 286.5L173.1 287.7L176.8 280.4L175.4 285.0L192.9 272.3Z"/>
<path d="M208.1 273.8L188.8 281.2L193.5 282.6L185.3 281.6L190.8 275.5L188.2 279.6L207.4 272.2Z"/>
<path d="M222.4 273.8L204.6 279.3L209.2 281.0L201.1 279.5L207.0 273.7L204.1 277.6L221.9 272.2Z"/>
<path d="M264.9 273.8L247.9 266.2L250.3 270.5L245.2 264.1L253.4 263.6L248.6 264.7L265.6 272.2Z"/>
<path d="M279.1 273.7L264.6 263.9L266.1 268.5L262.2 261.3L270.4 262.2L265.5 262.5L280.1 272.3Z"/>
<path d="M165.0 288.2L146.9 295.9L151.7 297.1L143.5 296.4L148.7 290.1L146.3 294.3L164.3 286.6Z"/>
<path d="M179.5 288.1L165.0 297.5L169.9 297.9L161.7 298.6L165.8 291.5L164.1 296.1L178.5 286.7Z"/>
<path d="M193.7 288.2L179.5 295.1L184.3 296.1L176.1 295.8L181.0 289.2L178.8 293.6L193.0 286.7Z"/>
<path d="M208.1 288.2L192.7 294.1L197.3 295.5L189.2 294.6L194.6 288.4L192.0 292.5L207.4 286.6Z"/>
<path d="M264.9 288.2L252.5 282.7L254.8 287.0L249.7 280.5L257.9 280.0L253.2 281.1L265.6 286.6Z"/>
<path d="M279.1 288.1L265.8 278.8L267.3 283.4L263.5 276.1L271.6 277.2L266.8 277.4L280.1 286.7Z"/>
<path d="M179.3 302.6L171.7 306.0L176.4 307.1L168.2 306.6L173.3 300.2L171.0 304.5L178.7 301.0Z"/>
<path d="M279.1 302.5L267.9 294.9L269.5 299.6L265.5 292.3L273.7 293.2L268.8 293.5L280.1 301.1Z"/>
<path d="M279.1 316.9L270.2 309.4L271.3 314.2L268.1 306.6L276.2 308.4L271.3 308.1L280.2 315.6Z"/>
<path d="M34.7 430.8L45.4 422.4L40.6 422.5L48.6 421.0L45.2 428.4L46.5 423.7L35.8 432.1Z"/>
<path d="M49.1 430.8L59.8 422.4L54.9 422.5L63.0 421.0L59.6 428.4L60.9 423.7L50.1 432.1Z"/>
<path d="M34.8 445.1L46.7 436.8L41.8 436.6L50.0 435.5L46.2 442.8L47.7 438.1L35.7 446.5Z"/>
<path d="M49.1 445.1L61.1 436.8L56.2 436.6L64.4 435.5L60.6 442.8L62.1 438.1L50.1 446.5Z"/>
<path d="M34.8 459.5L47.2 451.8L42.3 451.3L50.5 450.7L46.3 457.8L48.1 453.2L35.7 460.9Z"/>
<path d="M49.2 459.5L61.6 451.8L56.7 451.3L64.9 450.7L60.7 457.8L62.5 453.2L50.1 460.9Z"/></g>
<path d="M28.1 269.5L30.2 269.8L30.5 268.8L32.2 269.9L34.0 269.3L35.2 269.2L37.4 270.4L39.6 269.2L40.6 268.4L42.4 268.0L43.9 268.4L45.0 269.2L47.3 269.0L48.8 268.8L49.6 269.0L51.3 269.3L52.2 268.2L54.6 267.8L56.0 267.6L56.8 267.8L58.9 268.1L59.1 267.9L61.2 267.6L61.9 267.9L64.0 267.2L65.4 266.1L66.6 267.1L68.1 267.5L69.8 268.4L71.4 268.2L72.5 268.3L74.1 269.2L75.3 269.1L76.8 268.3L78.7 268.5L79.6 268.7L81.3 267.8L82.3 268.2L83.9 267.8L85.8 266.8L87.0 266.9L88.4 266.7L89.7 265.8L92.0 266.0L92.8 265.9L94.7 265.6L95.6 264.9L97.8 263.5L99.9 264.2L101.4 266.4L102.4 268.0L103.1 269.2L103.6 270.5L103.3 272.0L102.5 273.6L103.5 274.4L105.7 274.7L107.6 274.6L109.3 275.7L110.2 277.7L110.7 279.3L111.7 280.9L112.2 282.9L113.9 284.2L114.3 285.8L115.0 286.3L117.2 288.3L118.1 289.0L120.1 289.4L122.2 289.7L122.9 290.6L125.1 292.3L126.8 293.7L128.0 294.9L128.9 296.4L130.1 297.3L131.6 298.7L132.3 299.8L133.2 301.3L135.2 301.9L136.4 301.9L138.8 303.1L139.9 303.8L141.8 304.0L143.1 304.1L144.9 303.6L146.1 303.7L147.4 303.5L148.6 303.0L150.5 302.9L151.7 301.6L152.7 301.1L154.6 301.2L156.0 301.9L154.6 303.5L153.8 304.6L152.4 306.0L150.6 307.3L149.5 307.8L147.8 308.7L145.9 308.8L144.8 308.8L143.4 309.3L141.6 309.9L140.4 309.5L138.0 309.3L135.9 309.6L135.2 311.7L135.9 313.9L137.3 315.3L138.2 316.6L140.2 318.2L142.0 319.0L142.5 319.8L144.5 321.1L146.0 322.7L147.0 324.6L148.1 325.4L149.4 327.2L150.3 327.1L151.7 328.6L153.3 329.7L155.2 330.3L156.0 331.5L158.3 332.2L159.6 332.8L161.0 333.8L162.2 334.4L164.6 334.0L165.5 333.9L168.2 332.6L168.9 332.3L170.7 331.1L171.4 330.7L173.2 330.4L175.1 329.8L176.8 328.7L179.0 327.2L180.4 326.6L181.3 324.9L182.4 324.1L182.6 322.5L183.4 320.8L183.3 318.9L183.2 317.2L181.9 316.0L182.4 313.9L182.6 313.2L183.7 312.5L184.8 311.0L186.2 311.3L187.6 311.3L189.8 312.2L187.6 313.9L187.9 316.1L186.9 317.5L187.8 318.8L188.3 320.4L189.8 322.5L188.8 323.7L188.9 325.5L188.3 326.8L189.4 328.8L189.1 329.7L189.7 331.5L190.0 332.8L190.5 334.0L191.0 334.9L190.4 337.0L191.2 338.4L191.1 340.1L190.0 340.6L189.8 342.7L188.9 344.0L189.1 345.6L189.5 346.8L188.8 347.8L188.9 350.6L189.8 351.3L190.1 353.4L190.0 353.8L190.5 355.6L190.9 357.3L191.2 359.2L192.1 361.5L192.4 362.4L191.9 364.3L192.6 366.7L193.2 367.8L193.1 369.3L193.4 370.7L193.8 371.9L195.0 374.4L194.8 375.8L194.8 377.4L196.2 379.0L195.9 380.6L196.3 381.6L196.6 382.4L196.8 385.1L197.5 385.5L197.7 387.3L197.6 389.3L197.8 389.8L198.2 392.3L198.4 393.1L199.0 394.9L199.1 396.1L198.8 397.6L199.2 398.8L199.8 400.3L200.1 400.8L201.8 402.5L201.6 403.4L202.7 405.3L204.1 407.3L203.8 408.7L204.9 409.6L205.3 410.9L207.0 413.0L207.0 414.7L207.7 415.8L209.2 417.5L209.5 419.0L210.3 420.6L211.1 422.0L212.1 423.3L212.2 424.1L213.5 425.9L214.2 427.6L214.7 428.7L214.9 430.0L216.5 432.5L216.4 433.4L216.6 435.5L217.5 436.3L216.8 437.1L217.8 439.2L218.9 441.1L219.0 443.0L219.3 444.3L219.5 445.6L219.5 447.6L220.8 449.7L221.4 450.7L222.7 452.5L222.9 453.4L223.6 455.7L224.9 456.7L225.3 457.8L225.9 459.4L226.4 460.8L227.7 462.7L228.6 464.0L228.6 465.1M124.4 292.0L124.7 290.2L125.9 288.8L126.5 287.2L128.2 287.0L128.3 285.8L130.1 284.6L131.3 283.6L132.3 282.5L133.2 282.1L135.5 282.7L136.8 282.1L138.8 282.6L140.8 283.2L142.4 281.9L144.5 282.6L145.6 283.5L146.8 283.9L148.1 283.7L150.2 283.9L152.3 282.7L153.7 282.9L154.6 282.2L156.6 283.0L158.2 282.5L158.9 280.5L160.7 280.9L162.0 281.0L163.2 280.8L164.2 279.7L165.3 278.6L165.1 277.4L164.6 275.7L163.9 274.2L164.5 273.0L163.9 271.4L163.6 270.0L161.8 268.7L161.0 267.1L161.0 265.6L159.6 263.5L158.0 262.7L156.0 262.0L155.3 261.5L153.8 259.9L151.7 258.4L152.4 257.2L152.5 255.3L152.4 253.4M165.3 277.9L166.6 278.1L168.2 276.8L170.4 277.2L171.8 277.5L173.7 277.3L174.9 277.8L176.1 277.6L177.1 278.1L178.8 277.7L180.6 277.8L181.9 277.6L183.1 278.6L184.6 278.7L186.2 279.3L187.5 280.0L189.8 281.5L191.8 281.1L192.4 280.3L194.1 280.8L194.3 282.6L195.9 283.2L196.3 285.1L197.0 286.9L198.4 287.7L199.1 288.7L200.6 290.5L201.1 291.6L202.0 292.3L203.7 292.9L204.2 294.9L206.1 295.5L207.8 296.6L209.7 296.7L210.1 298.3L212.1 298.8L214.2 298.0M214.2 298.0L215.0 300.2L214.9 301.6L213.8 302.7L212.8 305.2L212.3 306.6L211.4 308.6L211.3 309.6L211.4 310.6L209.9 311.8L209.9 313.9L210.1 315.6L209.2 316.8L209.0 318.7L207.8 319.6L205.6 320.8L204.9 322.5L206.0 321.8L207.8 322.2L209.2 322.2L210.3 322.4L212.1 321.8L212.1 323.2L210.2 323.5L209.2 324.1L207.8 323.7L207.4 325.8L206.3 326.8L204.2 328.0L204.7 328.7L206.3 330.4L206.5 332.4L207.0 333.3L205.1 334.7L203.4 335.2L201.1 334.5L199.8 335.2L198.9 336.4L199.1 338.4L199.2 340.2L199.4 341.2L198.4 341.8L196.3 342.4L193.8 342.0L192.7 341.2L191.4 341.9L189.8 342.3M214.2 298.0L215.1 297.1L216.3 295.7L217.8 294.4L219.0 292.4L218.8 291.0L219.2 290.1L219.5 288.3L221.1 287.1L221.4 285.1L221.3 283.4L220.4 281.0L220.7 280.0L220.1 278.1L220.0 276.4L220.4 275.3L222.1 274.3L223.8 273.4L225.7 273.6L226.4 275.7L227.3 275.3L228.9 275.5L230.7 276.2L232.6 276.9L233.6 277.9L233.6 279.4L234.2 280.9L233.5 281.9L234.3 283.6L233.6 285.4L232.2 286.5L230.0 286.7L228.6 288.0L230.2 288.9L232.2 288.7L234.2 288.1L234.9 286.7L236.5 285.8L237.9 285.5L239.0 284.4L240.8 283.6L241.9 283.1L243.7 284.1L245.2 284.1L247.3 283.6L248.8 282.3L249.6 280.3L250.2 279.3L250.5 277.7L252.4 276.8L253.5 275.0L253.8 273.6L252.7 271.4L251.6 270.7L249.7 270.4L248.7 271.4L247.2 270.1L245.7 269.2L245.1 267.8L244.5 266.0L245.3 265.4L244.4 263.5L245.0 262.1L247.5 260.4L248.0 259.9L250.0 259.4L251.0 260.2L252.9 259.2L253.8 259.2L255.1 258.4L256.6 256.3L257.1 255.1L259.2 253.2L259.5 252.0M283.9 267.8L282.8 267.4L281.4 267.1L279.3 266.1L278.2 265.6L276.3 265.8L275.0 267.1L273.9 267.8L273.4 266.2L271.7 264.2L270.7 265.4L269.6 267.1L270.2 268.9L271.0 269.5L271.7 271.4L270.4 272.6L269.0 274.4L268.1 275.7L269.2 278.0L269.7 279.7L269.6 280.8L270.5 282.4L270.8 284.0L271.0 285.1L272.0 285.2L273.2 284.3L275.3 283.6L276.5 282.9L278.9 281.5L279.0 279.8L277.8 279.3L277.5 277.2L275.6 275.3L275.0 274.6L273.9 273.6L275.2 272.2L276.2 271.1L276.8 270.0L278.2 270.3L280.2 269.7L281.1 270.7L282.3 270.7L283.9 270.0M212.1 322.5L214.1 322.3L215.3 321.8L216.4 320.8L218.2 321.2L219.1 321.7L221.4 321.1L222.4 321.9L223.8 322.6L225.2 323.8L226.4 324.0L228.3 323.6L229.6 324.0L230.7 324.6L232.9 324.0L233.8 324.8L234.9 325.6L236.6 326.1L237.9 326.8L239.7 327.5L240.8 328.3L241.8 327.6L243.6 326.3L245.1 325.4L246.0 324.4L247.6 322.8L248.0 321.8L250.1 321.7L251.1 320.7L252.1 320.7L254.3 320.2L255.2 318.9L257.1 320.1L258.6 321.5L259.5 321.8L260.3 320.9L262.4 319.6L264.0 320.6L264.9 321.8L266.7 323.2L268.0 323.5L269.0 323.2L271.6 323.0L272.4 322.5L274.1 322.7L276.4 321.2L276.8 321.9L278.9 321.1L281.1 321.2L281.6 320.6L283.3 321.2L285.4 320.4M258.8 368.6L259.9 366.5L260.3 365.2L261.7 364.3L261.7 362.1L261.1 361.3L261.2 359.8L260.9 357.8L261.9 357.1L263.8 355.4L264.5 354.2L265.7 352.9L267.5 353.4L269.6 352.0L270.5 350.4L271.5 348.9L272.4 347.7L273.8 347.4L275.5 348.5L277.3 348.9L278.2 348.4L279.4 347.9L281.7 347.9L282.1 347.1L283.9 347.0M212.1 406.0L212.3 404.9L211.6 402.8L211.3 401.7L212.0 399.5L212.0 398.0L212.4 397.1L213.5 395.2L215.5 394.0L217.0 392.7L217.8 391.6L220.0 390.9L221.4 389.5L223.1 389.0L224.5 388.6L226.4 388.0L228.3 386.9L229.8 387.7L231.5 386.6L231.1 385.4L230.8 383.8L230.7 381.9L230.7 380.8L232.1 380.7L233.3 380.9L234.5 381.7L236.5 382.3L237.4 382.7L239.8 382.2L240.6 382.9L242.3 382.3L243.5 380.8L243.0 380.0L244.4 379.2L245.1 377.2L246.0 375.8L248.6 375.1L249.4 373.6L250.0 372.5L252.2 370.8L253.0 370.0L254.7 368.7L255.7 368.7L256.6 367.2L258.8 368.6M203.2 405.8L205.0 404.7L206.3 404.9L207.7 406.2L209.2 406.8L211.2 406.0L212.1 406.0L212.0 408.2L211.6 409.1L211.9 409.7L211.3 411.8L211.6 413.3L211.9 414.6L212.1 416.1L210.9 417.3L209.2 417.6M258.8 368.6L258.5 369.6L258.5 371.6L257.7 373.4L258.1 374.4L257.8 375.2L258.9 376.9L259.4 378.5L259.5 380.1L258.4 381.6L258.1 383.7L257.9 383.8L257.3 385.9L257.6 388.0L257.0 389.7L255.8 391.1L255.6 392.8L255.1 394.3L255.2 395.2L256.9 395.8L258.1 397.4L257.9 399.7L257.2 401.3L257.3 402.4L256.4 402.9L253.5 403.3L252.3 403.9L252.0 405.3L252.3 406.8L252.8 408.6L251.8 410.2L252.4 412.1L252.3 413.2L251.4 413.9L248.9 414.8L248.0 416.1L248.5 417.4L248.4 419.0L248.0 421.1L248.7 421.9L249.9 423.8L250.2 425.5L252.3 426.2L252.7 427.4L253.3 428.8L253.0 430.5L254.4 430.7L255.5 430.5L257.3 431.2L257.1 430.1L256.6 427.6L255.5 426.7L254.4 426.9L252.3 426.9L252.5 427.7L252.7 430.0L252.8 430.6L252.3 432.7L253.7 433.4L255.2 434.3L257.1 434.7L258.1 434.8L259.8 434.8L260.6 433.9L263.1 434.3L264.4 434.3L265.1 433.8L266.7 433.4L268.1 434.8L268.7 435.6L270.3 437.0L271.2 438.2L272.3 440.0L273.2 441.3L272.4 442.5L272.0 444.9L271.0 446.4L269.5 447.8L268.7 447.1L266.7 448.5L265.6 448.2L263.3 449.2L262.4 449.2L261.1 451.3L260.8 452.1L260.2 453.6L260.4 454.5L259.4 455.9L259.5 457.9L260.6 459.2L261.0 460.1L261.1 462.8L261.7 463.6M257.3 402.4L258.5 402.3L260.8 402.6L261.9 402.1L263.8 402.4L265.5 401.2L266.7 401.0L268.3 400.6L269.5 400.9L271.2 400.4L272.0 400.6L273.9 400.3L274.7 399.9L276.2 399.9L278.9 399.2L279.6 399.6L281.4 398.7L282.8 398.2L283.5 398.3L285.4 398.1M271.0 446.4L272.3 445.5L273.9 444.2L276.0 443.5L276.5 443.6L278.2 443.5L279.9 443.0L280.9 443.4L282.8 442.1L283.9 442.0M193.4 340.1L194.8 339.4L196.0 340.5L195.1 342.4L193.4 342.4L192.7 341.2L193.4 340.1" fill="none" stroke="#000" stroke-width="1.0" stroke-linejoin="round"/><circle cx="120.8" cy="289.7" r="1.3" fill="#000"/><circle cx="123.7" cy="291.1" r="1.2" fill="#000"/><circle cx="117.9" cy="288.0" r="0.9" fill="#000"/><circle cx="125.8" cy="293.0" r="0.9" fill="#000"/><circle cx="98.2" cy="263.8" r="1.3" fill="#000"/><circle cx="183.0" cy="319.4" r="1.2" fill="#000"/><circle cx="185.5" cy="311.7" r="0.9" fill="#000"/><circle cx="38.1" cy="270.4" r="0.9" fill="#000"/><circle cx="204.2" cy="407.5" r="0.8" fill="#000"/><circle cx="64.7" cy="266.4" r="0.8" fill="#000"/><circle cx="78.4" cy="268.5" r="0.7" fill="#000"/>
</g>
<g clip-path="url(#clipe)">
<path d="M155.0 505.5h0M160.0 505.5h0M165.0 505.5h0M170.0 505.5h0M185.0 505.5h0M190.0 505.5h0M152.5 510.5h0M157.5 510.5h0M155.0 515.5h0M160.0 515.5h0M180.0 535.5h0M185.0 535.5h0M147.5 540.5h0M152.5 540.5h0M157.5 540.5h0M162.5 540.5h0M167.5 540.5h0M172.5 540.5h0M177.5 540.5h0M182.5 540.5h0M187.5 540.5h0M150.0 545.5h0M155.0 545.5h0M160.0 545.5h0M165.0 545.5h0M170.0 545.5h0M175.0 545.5h0M180.0 545.5h0M102.5 550.5h0M107.5 550.5h0M112.5 550.5h0M117.5 550.5h0M122.5 550.5h0M127.5 550.5h0M132.5 550.5h0M137.5 550.5h0M142.5 550.5h0M147.5 550.5h0M152.5 550.5h0M157.5 550.5h0M162.5 550.5h0M167.5 550.5h0M172.5 550.5h0M177.5 550.5h0M182.5 550.5h0M100.0 555.5h0M105.0 555.5h0M110.0 555.5h0M115.0 555.5h0M120.0 555.5h0M125.0 555.5h0M130.0 555.5h0M135.0 555.5h0M140.0 555.5h0M145.0 555.5h0M150.0 555.5h0M155.0 555.5h0M160.0 555.5h0M165.0 555.5h0M170.0 555.5h0M175.0 555.5h0M180.0 555.5h0M32.5 560.5h0M37.5 560.5h0M102.5 560.5h0M107.5 560.5h0M112.5 560.5h0M117.5 560.5h0M122.5 560.5h0M127.5 560.5h0M132.5 560.5h0M137.5 560.5h0M142.5 560.5h0M147.5 560.5h0M152.5 560.5h0M157.5 560.5h0M162.5 560.5h0M167.5 560.5h0M172.5 560.5h0M177.5 560.5h0M182.5 560.5h0M35.0 565.5h0M40.0 565.5h0M100.0 565.5h0M105.0 565.5h0M110.0 565.5h0M115.0 565.5h0M120.0 565.5h0M125.0 565.5h0M130.0 565.5h0M135.0 565.5h0M140.0 565.5h0M145.0 565.5h0M150.0 565.5h0M102.5 570.5h0M107.5 570.5h0M112.5 570.5h0M117.5 570.5h0M122.5 570.5h0M127.5 570.5h0M132.5 570.5h0M137.5 570.5h0M52.5 580.5h0M57.5 580.5h0M62.5 580.5h0M67.5 580.5h0M72.5 580.5h0M77.5 580.5h0M82.5 580.5h0M87.5 580.5h0M92.5 580.5h0M97.5 580.5h0M102.5 580.5h0M145.0 595.5h0M267.5 620.5h0M272.5 620.5h0M277.5 620.5h0M282.5 620.5h0M200.0 625.5h0M205.0 625.5h0M250.0 625.5h0M265.0 625.5h0M270.0 625.5h0M275.0 625.5h0M280.0 625.5h0M202.5 630.5h0M207.5 630.5h0M212.5 630.5h0M232.5 630.5h0M237.5 630.5h0M242.5 630.5h0M262.5 630.5h0M267.5 630.5h0M272.5 630.5h0M277.5 630.5h0M282.5 630.5h0M185.0 635.5h0M190.0 635.5h0M200.0 635.5h0M205.0 635.5h0M210.0 635.5h0M220.0 635.5h0M225.0 635.5h0M230.0 635.5h0M235.0 635.5h0M240.0 635.5h0M182.5 640.5h0M187.5 640.5h0M222.5 640.5h0M227.5 640.5h0M232.5 640.5h0M237.5 640.5h0M242.5 640.5h0M35.0 655.5h0M32.5 670.5h0M37.5 670.5h0M42.5 670.5h0" stroke="#000" stroke-width="1.9" stroke-linecap="round" fill="none"/>
<g fill="#00b8c8" stroke="#2a2af0" stroke-width="0.38" stroke-linejoin="round"><path d="M34.5 503.9L23.3 494.5L24.6 499.1L21.5 491.5L29.5 493.2L24.8 492.8L36.0 502.1Z"/>
<path d="M48.9 503.9L37.9 494.5L39.2 499.1L36.1 491.4L44.1 493.3L39.4 492.8L50.4 502.2Z"/>
<path d="M63.2 503.9L52.5 494.5L53.7 499.0L50.7 491.4L58.7 493.3L54.0 492.8L64.8 502.2Z"/>
<path d="M77.6 503.9L67.1 494.5L68.3 499.0L65.4 491.3L73.3 493.4L68.7 492.8L79.1 502.2Z"/>
<path d="M92.0 503.9L81.7 494.4L82.8 499.0L80.0 491.3L87.9 493.4L83.3 492.8L93.5 502.2Z"/>
<path d="M106.3 503.9L96.3 494.4L97.3 499.0L94.6 491.3L102.6 493.5L97.9 492.7L107.9 502.2Z"/>
<path d="M120.7 503.9L110.9 494.4L111.9 499.0L109.3 491.2L117.2 493.6L112.5 492.7L122.3 502.2Z"/>
<path d="M135.0 503.8L127.4 495.1L128.0 499.8L126.0 491.8L133.7 494.8L129.1 493.6L136.7 502.3Z"/>
<path d="M149.3 503.7L143.8 495.8L143.9 500.5L142.8 492.4L150.1 496.2L145.7 494.5L151.2 502.4Z"/>
<path d="M163.6 503.5L160.4 496.6L159.6 501.3L160.0 493.1L166.5 498.1L162.5 495.7L165.7 502.5Z"/>
<path d="M177.9 503.3L176.2 496.9L174.6 501.4L176.4 493.4L182.0 499.4L178.4 496.4L180.1 502.7Z"/>
<path d="M192.2 503.1L191.9 496.5L189.4 500.5L192.9 493.0L197.0 500.1L194.2 496.4L194.5 503.0Z"/>
<path d="M206.6 503.0L206.6 496.4L203.9 500.3L207.8 493.0L211.6 500.3L208.9 496.4L208.9 503.0Z"/>
<path d="M221.0 502.8L222.1 496.3L218.9 499.7L223.9 493.2L226.3 501.0L224.4 496.7L223.3 503.2Z"/>
<path d="M235.5 502.5L238.2 496.6L234.2 499.0L240.7 494.0L241.1 502.2L240.3 497.5L237.5 503.5Z"/>
<path d="M249.9 502.4L253.4 496.8L249.1 498.7L256.2 494.5L255.5 502.7L255.3 498.0L251.9 503.6Z"/>
<path d="M264.3 502.3L269.0 496.3L264.5 497.8L272.0 494.4L270.5 502.4L270.8 497.7L266.2 503.7Z"/>
<path d="M278.7 502.3L283.6 496.5L279.1 497.7L286.7 494.6L284.9 502.6L285.4 497.9L280.5 503.8Z"/>
<path d="M34.5 518.3L23.3 508.9L24.6 513.5L21.5 505.9L29.5 507.6L24.8 507.2L36.0 516.5Z"/>
<path d="M48.9 518.3L37.9 508.9L39.2 513.5L36.1 505.8L44.1 507.7L39.4 507.2L50.4 516.6Z"/>
<path d="M63.2 518.3L52.5 508.9L53.7 513.4L50.7 505.8L58.7 507.7L54.0 507.2L64.8 516.6Z"/>
<path d="M77.6 518.3L67.1 508.9L68.3 513.4L65.4 505.7L73.3 507.8L68.7 507.2L79.1 516.6Z"/>
<path d="M92.0 518.3L81.7 508.8L82.8 513.4L80.0 505.7L87.9 507.8L83.3 507.2L93.5 516.6Z"/>
<path d="M106.3 518.3L96.3 508.8L97.3 513.4L94.6 505.7L102.6 507.9L97.9 507.1L107.9 516.6Z"/>
<path d="M120.7 518.3L110.9 508.8L111.9 513.4L109.3 505.6L117.2 508.0L112.5 507.1L122.3 516.6Z"/>
<path d="M135.0 518.2L126.3 509.2L127.1 513.8L124.8 505.9L132.6 508.5L127.9 507.6L136.7 516.6Z"/>
<path d="M149.3 518.1L143.8 510.2L143.9 514.9L142.8 506.8L150.1 510.6L145.7 508.9L151.2 516.8Z"/>
<path d="M163.6 517.9L160.4 511.0L159.6 515.7L160.0 507.5L166.5 512.5L162.5 510.1L165.7 516.9Z"/>
<path d="M177.9 517.7L176.2 511.3L174.6 515.8L176.4 507.8L182.0 513.8L178.4 510.8L180.1 517.1Z"/>
<path d="M192.2 517.5L191.9 510.9L189.4 514.9L192.9 507.4L197.0 514.5L194.2 510.8L194.5 517.4Z"/>
<path d="M206.6 517.4L206.6 510.8L203.9 514.7L207.8 507.4L211.6 514.7L208.9 510.8L208.9 517.4Z"/>
<path d="M221.0 517.2L222.1 510.7L218.9 514.1L223.9 507.6L226.3 515.4L224.4 511.1L223.3 517.6Z"/>
<path d="M235.5 516.9L238.2 511.0L234.2 513.4L240.7 508.4L241.1 516.6L240.3 511.9L237.5 517.9Z"/>
<path d="M249.9 516.8L253.4 511.2L249.1 513.1L256.2 508.9L255.5 517.1L255.3 512.4L251.9 518.0Z"/>
<path d="M264.3 516.7L269.0 510.7L264.5 512.2L272.0 508.8L270.5 516.8L270.8 512.1L266.2 518.1Z"/>
<path d="M278.7 516.7L283.6 510.9L279.1 512.1L286.7 509.0L284.9 517.0L285.4 512.3L280.5 518.2Z"/>
<path d="M34.5 532.7L22.2 523.1L23.7 527.6L20.3 520.1L28.4 521.6L23.7 521.3L36.0 530.9Z"/>
<path d="M48.9 532.7L37.0 523.2L38.4 527.7L35.0 520.2L43.1 521.8L38.4 521.4L50.3 530.9Z"/>
<path d="M63.3 532.7L51.7 523.3L53.1 527.8L49.8 520.2L57.9 521.9L53.2 521.5L64.7 530.9Z"/>
<path d="M77.6 532.7L66.4 523.4L67.7 527.9L64.6 520.3L72.6 522.1L67.9 521.6L79.1 530.9Z"/>
<path d="M92.0 532.7L81.2 523.4L82.4 528.0L79.3 520.3L87.4 522.2L82.7 521.7L93.5 531.0Z"/>
<path d="M106.4 532.7L95.9 523.5L97.1 528.1L94.1 520.4L102.1 522.4L97.4 521.8L107.9 531.0Z"/>
<path d="M120.7 532.7L110.6 523.6L111.7 528.2L108.9 520.4L116.8 522.5L112.2 521.9L122.3 531.0Z"/>
<path d="M135.0 532.6L128.6 525.5L129.2 530.1L127.2 522.2L134.9 525.0L130.3 523.9L136.7 531.1Z"/>
<path d="M149.3 532.5L143.4 525.0L143.7 529.7L142.2 521.6L149.7 525.0L145.2 523.6L151.2 531.1Z"/>
<path d="M163.6 532.4L160.3 526.7L160.0 531.4L159.6 523.2L166.6 527.6L162.3 525.5L165.6 531.2Z"/>
<path d="M177.9 532.2L176.0 527.0L174.8 531.5L175.9 523.4L182.0 528.9L178.2 526.2L180.1 531.4Z"/>
<path d="M192.2 531.9L191.6 526.4L189.4 530.5L192.4 522.9L197.0 529.7L193.9 526.1L194.5 531.7Z"/>
<path d="M206.6 531.9L206.4 526.3L203.9 530.3L207.4 522.8L211.5 530.0L208.7 526.2L208.9 531.8Z"/>
<path d="M221.0 531.6L222.0 526.1L218.7 529.5L223.7 523.0L226.2 530.8L224.2 526.5L223.3 532.0Z"/>
<path d="M235.5 531.3L237.8 526.3L233.8 528.7L240.3 523.7L240.7 531.9L239.9 527.2L237.5 532.3Z"/>
<path d="M249.9 531.2L253.7 525.8L249.3 527.4L256.6 523.6L255.5 531.8L255.6 527.1L251.8 532.5Z"/>
<path d="M264.4 531.1L269.3 525.3L264.7 526.5L272.3 523.4L270.5 531.4L271.0 526.7L266.1 532.6Z"/>
<path d="M278.8 531.1L283.9 525.4L279.3 526.5L287.0 523.6L284.9 531.6L285.6 526.9L280.5 532.6Z"/>
<path d="M34.6 547.2L22.3 539.5L24.2 543.8L20.0 536.7L28.2 537.3L23.5 537.5L35.9 545.2Z"/>
<path d="M49.0 547.2L37.0 539.6L38.9 543.9L34.8 536.8L43.0 537.5L38.2 537.7L50.2 545.3Z"/>
<path d="M63.4 547.2L51.8 539.7L53.6 544.1L49.5 536.9L57.7 537.7L53.0 537.8L64.6 545.3Z"/>
<path d="M77.7 547.2L66.5 539.9L68.3 544.2L64.3 537.0L72.5 537.8L67.8 537.9L79.0 545.3Z"/>
<path d="M92.1 547.2L81.3 540.0L83.1 544.4L79.1 537.2L87.3 538.0L82.6 538.1L93.4 545.3Z"/>
<path d="M106.5 547.2L96.0 540.1L97.8 544.5L93.9 537.3L102.0 538.2L97.3 538.2L107.8 545.3Z"/>
<path d="M120.8 547.2L111.7 540.8L113.4 545.2L109.6 537.9L117.8 539.0L113.1 538.9L122.2 545.3Z"/>
<path d="M135.2 547.2L127.4 541.5L129.0 545.9L125.4 538.6L133.5 539.8L128.8 539.7L136.6 545.3Z"/>
<path d="M149.4 547.0L144.3 541.3L145.0 546.0L142.9 538.0L150.6 540.9L146.0 539.8L151.1 545.5Z"/>
<path d="M163.7 546.9L159.0 540.9L159.4 545.6L157.9 537.6L165.3 541.0L160.9 539.5L165.5 545.5Z"/>
<path d="M178.0 546.7L175.6 541.6L174.8 546.3L175.2 538.1L181.7 543.1L177.7 540.7L180.0 545.7Z"/>
<path d="M192.3 546.3L191.9 542.6L189.8 546.6L192.6 539.3L197.0 545.8L194.1 542.4L194.5 546.1Z"/>
<path d="M206.6 546.2L206.8 542.4L204.1 546.1L208.0 539.2L211.4 546.4L209.0 542.5L208.9 546.3Z"/>
<path d="M221.1 545.8L222.4 542.3L218.7 545.0L224.5 539.6L225.5 547.5L224.4 543.1L223.2 546.6Z"/>
<path d="M235.6 545.6L238.2 541.8L233.8 543.5L241.1 539.7L240.0 547.8L240.1 543.1L237.4 546.9Z"/>
<path d="M250.0 545.5L253.8 541.3L249.2 542.4L256.9 539.5L254.8 547.5L255.5 542.8L251.7 547.0Z"/>
<path d="M264.4 545.4L269.1 540.7L264.5 541.6L272.3 539.2L269.8 547.0L270.7 542.4L266.1 547.0Z"/>
<path d="M278.8 545.4L283.6 540.8L278.9 541.6L286.8 539.3L284.2 547.1L285.2 542.5L280.4 547.1Z"/>
<path d="M34.8 561.7L22.2 556.6L24.8 560.5L19.5 554.3L27.7 553.5L23.1 554.5L35.7 559.6Z"/>
<path d="M49.2 561.7L37.1 556.9L39.8 560.8L34.4 554.6L42.6 553.7L38.0 554.8L50.0 559.6Z"/>
<path d="M63.6 561.7L52.0 557.2L54.7 561.1L49.3 554.9L57.5 554.0L52.9 555.1L64.4 559.6Z"/>
<path d="M78.0 561.7L66.9 557.5L69.6 561.4L64.2 555.2L72.4 554.3L67.8 555.3L78.8 559.5Z"/>
<path d="M92.3 561.7L81.9 557.8L84.6 561.6L79.1 555.5L87.2 554.5L82.7 555.6L93.2 559.5Z"/>
<path d="M106.7 561.7L96.8 558.1L99.5 561.9L94.0 555.8L102.1 554.8L97.6 555.9L107.5 559.5Z"/>
<path d="M121.1 561.7L112.2 558.0L114.8 562.0L109.5 555.7L117.7 554.9L113.1 555.9L121.9 559.6Z"/>
<path d="M135.4 561.7L127.6 558.0L130.0 562.1L125.0 555.6L133.2 555.2L128.6 555.9L136.4 559.6Z"/>
<path d="M149.7 561.6L144.8 558.8L146.9 563.1L142.5 556.1L150.7 556.5L146.0 556.8L150.8 559.6Z"/>
<path d="M164.0 561.3L161.6 559.3L162.6 563.0L160.0 556.8L166.6 558.2L162.8 557.8L165.2 559.9Z"/>
<path d="M178.5 560.9L177.4 559.1L177.2 561.7L177.0 557.2L180.8 559.6L178.5 558.5L179.5 560.3Z"/>
<path d="M192.9 560.6L192.8 559.0L191.8 560.7L193.3 557.6L194.9 560.6L193.8 559.0L193.8 560.6Z"/>
<path d="M207.1 560.5L207.5 558.4L205.7 560.3L208.4 556.7L209.8 561.0L208.7 558.6L208.4 560.7Z"/>
<path d="M221.4 560.2L222.8 557.9L219.9 559.3L224.6 556.3L224.4 561.9L224.1 558.7L222.8 561.0Z"/>
<path d="M235.7 559.9L238.1 557.1L233.7 558.3L241.0 555.3L239.3 563.0L239.7 558.5L237.3 561.3Z"/>
<path d="M250.1 559.8L253.3 556.6L248.7 557.4L256.5 555.0L254.1 562.8L254.9 558.2L251.7 561.4Z"/>
<path d="M264.5 559.8L268.6 556.0L264.0 556.7L271.9 554.6L269.1 562.3L270.2 557.7L266.0 561.5Z"/>
<path d="M278.9 559.7L283.2 556.1L278.5 556.6L286.5 554.8L283.4 562.4L284.7 557.9L280.4 561.5Z"/>
<path d="M35.2 576.2L21.6 575.7L25.4 578.5L18.3 574.4L25.7 570.9L21.7 573.4L35.3 573.9Z"/>
<path d="M49.6 576.2L36.5 575.8L40.3 578.5L33.1 574.5L40.5 571.0L36.6 573.5L49.7 573.9Z"/>
<path d="M64.0 576.2L51.4 575.9L55.2 578.6L48.0 574.6L55.4 571.0L51.4 573.6L64.0 573.9Z"/>
<path d="M78.4 576.2L66.3 575.9L70.1 578.7L62.9 574.7L70.3 571.1L66.3 573.6L78.4 573.9Z"/>
<path d="M92.7 576.2L81.1 576.0L85.0 578.7L77.8 574.8L85.1 571.1L81.2 573.7L92.8 573.9Z"/>
<path d="M107.1 576.2L96.0 576.1L99.9 578.8L92.6 574.9L100.0 571.2L96.0 573.8L107.1 573.9Z"/>
<path d="M121.5 576.2L110.9 576.2L114.8 578.8L107.5 575.0L114.8 571.2L110.9 573.9L121.5 573.9Z"/>
<path d="M135.9 576.2L129.3 576.2L133.2 578.8L125.9 575.0L133.2 571.2L129.3 573.9L135.9 573.9Z"/>
<path d="M150.2 576.2L145.7 576.2L149.6 578.8L142.2 575.0L149.6 571.2L145.7 573.9L150.2 573.9Z"/>
<path d="M164.6 575.8L162.0 575.8L164.6 577.6L159.6 575.0L164.6 572.4L162.0 574.2L164.6 574.2Z"/>
<path d="M179.0 575.3L178.2 575.1L178.9 575.8L177.5 574.8L179.1 574.3L178.3 574.7L179.0 574.8Z"/>
<path d="M192.9 575.0L192.9 573.4L191.8 575.0L193.4 572.0L194.9 575.0L193.8 573.4L193.8 575.0Z"/>
<path d="M207.4 574.7L208.4 573.5L206.6 574.0L209.7 572.7L208.9 576.0L209.1 574.1L208.1 575.3Z"/>
<path d="M221.5 574.5L223.2 572.5L220.1 573.4L225.3 571.2L224.1 576.7L224.4 573.5L222.7 575.5Z"/>
<path d="M235.8 574.4L238.1 572.1L234.3 572.8L240.7 570.8L238.7 577.2L239.4 573.4L237.2 575.7Z"/>
<path d="M250.1 574.2L252.9 571.7L248.4 572.3L256.1 570.3L253.3 577.7L254.4 573.3L251.6 575.8Z"/>
<path d="M264.5 574.1L269.0 570.7L264.3 571.0L272.3 569.5L268.9 577.0L270.4 572.5L266.0 575.9Z"/>
<path d="M278.9 574.1L283.5 570.8L278.8 571.0L286.9 569.7L283.2 577.1L284.8 572.7L280.3 576.0Z"/>
<path d="M35.4 590.6L24.0 592.6L28.3 594.5L20.5 592.0L27.0 587.0L23.6 590.3L35.1 588.3Z"/>
<path d="M49.8 590.6L38.5 592.4L42.8 594.4L35.0 591.8L41.6 586.9L38.2 590.2L49.4 588.3Z"/>
<path d="M64.2 590.6L53.0 592.3L57.3 594.3L49.5 591.6L56.1 586.8L52.7 590.0L63.8 588.3Z"/>
<path d="M78.5 590.6L67.6 592.1L71.8 594.2L64.0 591.5L70.7 586.7L67.2 589.8L78.2 588.3Z"/>
<path d="M92.9 590.6L82.1 592.0L86.3 594.1L78.5 591.3L85.3 586.6L81.8 589.7L92.6 588.3Z"/>
<path d="M107.3 590.6L96.6 591.8L100.8 594.0L93.1 591.1L99.9 586.5L96.3 589.5L107.0 588.3Z"/>
<path d="M121.6 590.6L111.1 591.7L115.2 593.9L107.6 590.9L114.4 586.3L110.8 589.4L121.4 588.3Z"/>
<path d="M136.0 590.6L128.4 591.4L132.6 593.6L124.9 590.6L131.8 586.0L128.2 589.1L135.8 588.3Z"/>
<path d="M150.4 590.6L144.8 591.2L149.0 593.4L141.3 590.4L148.2 585.8L144.6 588.9L150.1 588.3Z"/>
<path d="M164.8 590.4L161.6 590.8L165.1 592.5L158.7 590.3L164.2 586.3L161.3 588.9L164.5 588.5Z"/>
<path d="M179.2 589.9L177.7 590.4L179.5 590.9L176.2 590.5L178.5 588.0L177.3 589.5L178.8 589.0Z"/>
<path d="M193.4 589.6L192.9 589.8L193.6 589.9L192.4 589.8L193.2 588.9L192.8 589.5L193.3 589.3Z"/>
<path d="M207.7 589.1L208.7 588.9L207.6 588.4L209.7 589.1L207.9 590.4L208.9 589.5L207.8 589.7Z"/>
<path d="M221.7 588.9L223.4 587.6L220.8 587.8L225.2 586.9L223.5 591.0L224.2 588.5L222.5 589.9Z"/>
<path d="M235.9 588.7L238.3 586.6L234.5 587.0L241.1 585.6L238.5 591.8L239.6 588.1L237.1 590.1Z"/>
<path d="M250.2 588.6L253.1 586.3L248.6 586.6L256.4 585.1L253.1 592.3L254.5 588.0L251.6 590.3Z"/>
<path d="M264.6 588.5L269.2 585.3L264.5 585.3L272.6 584.3L268.8 591.6L270.5 587.2L265.9 590.4Z"/>
<path d="M279.0 588.5L283.6 585.3L278.9 585.3L287.1 584.4L283.2 591.6L284.9 587.2L280.3 590.4Z"/>
<path d="M35.6 604.9L24.7 608.9L29.3 610.0L21.2 609.0L26.7 602.9L24.0 606.7L34.9 602.7Z"/>
<path d="M50.0 604.9L39.3 608.8L43.8 610.0L35.7 608.9L41.2 602.8L38.5 606.7L49.2 602.7Z"/>
<path d="M64.4 604.9L53.8 608.8L58.4 609.9L50.2 608.8L55.8 602.8L53.0 606.6L63.6 602.7Z"/>
<path d="M78.8 604.9L68.3 608.7L72.9 609.9L64.7 608.8L70.3 602.7L67.6 606.5L78.0 602.7Z"/>
<path d="M93.1 604.9L82.9 608.6L87.4 609.8L79.3 608.7L84.8 602.7L82.1 606.5L92.4 602.7Z"/>
<path d="M107.5 604.9L97.4 608.6L102.0 609.7L93.8 608.7L99.4 602.6L96.6 606.4L106.7 602.7Z"/>
<path d="M121.9 604.9L111.9 608.5L116.5 609.7L108.3 608.6L113.9 602.5L111.1 606.4L121.1 602.7Z"/>
<path d="M136.3 604.9L128.2 607.8L132.8 609.0L124.6 607.9L130.2 601.9L127.4 605.7L135.5 602.7Z"/>
<path d="M150.6 604.9L144.4 607.2L149.0 608.3L140.9 607.2L146.4 601.2L143.7 605.0L149.9 602.7Z"/>
<path d="M165.0 604.9L160.6 606.3L165.1 607.7L157.0 606.3L162.8 600.4L159.9 604.2L164.3 602.7Z"/>
<path d="M179.1 604.6L176.5 605.1L179.5 606.4L174.1 604.7L178.5 601.3L176.2 603.5L178.9 603.0Z"/>
<path d="M193.4 604.1L192.6 604.1L193.4 604.6L191.9 603.8L193.4 603.0L192.6 603.6L193.4 603.6Z"/>
<path d="M207.3 603.9L207.1 602.3L206.2 604.0L207.5 600.8L209.3 603.7L208.1 602.2L208.2 603.8Z"/>
<path d="M221.7 603.8L221.7 602.2L220.6 603.8L222.1 600.8L223.7 603.8L222.6 602.2L222.6 603.8Z"/>
<path d="M235.9 603.6L236.6 601.6L234.5 603.1L237.9 600.1L238.5 604.5L237.8 602.0L237.1 604.0Z"/>
<path d="M250.3 603.3L252.0 601.3L248.9 602.2L254.1 600.0L252.9 605.5L253.2 602.3L251.5 604.3Z"/>
<path d="M264.5 603.0L267.4 600.6L262.9 601.0L270.6 599.3L267.6 606.6L268.8 602.3L266.0 604.7Z"/>
<path d="M278.9 603.0L281.9 600.7L277.4 601.0L285.1 599.5L281.9 606.7L283.3 602.4L280.3 604.7Z"/>
<path d="M35.7 619.3L24.3 624.6L29.0 625.3L20.7 625.0L25.8 618.5L23.3 622.5L34.8 617.2Z"/>
<path d="M50.1 619.3L38.9 624.4L43.6 625.2L35.4 624.7L40.4 618.2L38.0 622.3L49.1 617.2Z"/>
<path d="M64.5 619.3L53.6 624.1L58.2 625.0L50.0 624.5L55.1 618.0L52.6 622.0L63.5 617.2Z"/>
<path d="M78.8 619.3L68.2 623.9L72.8 624.8L64.6 624.2L69.8 617.8L67.3 621.8L77.9 617.2Z"/>
<path d="M93.2 619.3L82.8 623.7L87.5 624.6L79.3 624.0L84.5 617.6L81.9 621.6L92.3 617.2Z"/>
<path d="M107.6 619.3L97.5 623.5L102.1 624.4L93.9 623.7L99.2 617.4L96.6 621.4L106.7 617.2Z"/>
<path d="M121.9 619.3L112.1 623.3L116.7 624.3L108.5 623.5L113.9 617.2L111.2 621.1L121.1 617.2Z"/>
<path d="M136.3 619.3L128.3 622.5L132.9 623.5L124.7 622.7L130.1 616.5L127.5 620.4L135.4 617.2Z"/>
<path d="M150.7 619.3L144.7 622.0L149.3 622.8L141.1 622.3L146.2 615.9L143.8 619.9L149.8 617.2Z"/>
<path d="M165.0 619.3L160.7 620.9L165.3 622.0L157.1 621.0L162.7 614.9L159.9 618.7L164.2 617.1Z"/>
<path d="M179.2 619.2L176.0 619.7L179.5 621.3L173.1 619.3L178.5 615.1L175.7 617.8L178.8 617.3Z"/>
<path d="M193.4 618.7L191.8 618.7L193.4 619.8L190.4 618.2L193.4 616.7L191.8 617.8L193.4 617.8Z"/>
<path d="M207.6 618.4L207.0 617.9L207.2 618.8L206.6 617.3L208.3 617.6L207.3 617.5L207.9 618.0Z"/>
<path d="M221.7 618.3L221.5 616.7L220.6 618.4L221.9 615.2L223.7 618.1L222.5 616.6L222.6 618.2Z"/>
<path d="M236.1 617.9L237.2 616.7L235.3 617.2L238.4 615.9L237.7 619.2L237.9 617.3L236.9 618.5Z"/>
<path d="M250.3 617.7L252.2 615.8L249.0 616.4L254.4 614.7L252.7 620.1L253.3 616.9L251.4 618.8Z"/>
<path d="M264.6 617.3L267.7 615.2L263.2 615.2L271.0 614.2L267.3 621.2L268.9 617.0L265.9 619.1Z"/>
<path d="M279.0 617.3L282.2 615.3L277.6 615.2L285.5 614.4L281.6 621.3L283.4 617.1L280.2 619.1Z"/>
<path d="M35.7 633.7L24.3 639.0L29.0 639.7L20.7 639.4L25.8 632.9L23.3 636.9L34.8 631.6Z"/>
<path d="M50.1 633.7L39.0 638.9L43.6 639.6L35.4 639.2L40.4 632.7L38.0 636.8L49.1 631.6Z"/>
<path d="M64.5 633.7L53.7 638.7L58.3 639.5L50.1 639.1L55.1 632.6L52.7 636.6L63.5 631.6Z"/>
<path d="M78.9 633.7L68.3 638.6L73.0 639.3L64.8 639.0L69.8 632.4L67.4 636.5L77.9 631.6Z"/>
<path d="M93.2 633.7L83.0 638.4L87.7 639.2L79.5 638.8L84.5 632.3L82.1 636.3L92.3 631.6Z"/>
<path d="M107.6 633.7L97.7 638.3L102.4 639.0L94.1 638.7L99.1 632.2L96.7 636.2L106.6 631.6Z"/>
<path d="M122.0 633.7L112.4 638.1L117.0 638.9L108.8 638.5L113.8 632.0L111.4 636.1L121.0 631.6Z"/>
<path d="M136.4 633.7L128.6 637.3L133.2 638.1L125.0 637.7L130.0 631.2L127.6 635.2L135.4 631.6Z"/>
<path d="M150.7 633.7L144.8 636.5L149.4 637.2L141.2 636.9L146.2 630.3L143.8 634.4L149.8 631.6Z"/>
<path d="M165.0 633.7L160.7 635.3L165.3 636.4L157.1 635.4L162.7 629.3L159.9 633.1L164.2 631.5Z"/>
<path d="M179.1 633.6L175.9 633.9L179.3 635.7L173.0 633.3L178.7 629.5L175.7 632.0L178.9 631.7Z"/>
<path d="M193.4 633.3L191.2 633.3L193.4 634.7L189.4 632.6L193.4 630.5L191.2 632.0L193.4 632.0Z"/>
<path d="M207.8 632.8L207.2 632.8L207.8 633.1L206.8 632.6L207.8 632.1L207.2 632.5L207.8 632.5Z"/>
<path d="M222.1 632.5L222.7 632.5L222.1 632.1L223.1 632.6L222.1 633.1L222.7 632.8L222.1 632.8Z"/>
<path d="M236.5 632.4L237.3 632.4L236.5 631.8L238.0 632.6L236.5 633.4L237.3 632.9L236.5 632.9Z"/>
<path d="M251.1 632.0L253.1 632.8L251.6 630.7L254.6 634.0L250.2 634.6L252.7 633.9L250.7 633.2Z"/>
<path d="M265.6 631.7L268.6 632.8L266.3 629.7L270.9 634.7L264.2 635.6L267.9 634.6L264.9 633.5Z"/>
<path d="M279.9 631.7L283.0 632.8L280.7 629.7L285.3 634.7L278.6 635.6L282.3 634.6L279.3 633.5Z"/>
<path d="M35.7 648.1L24.0 652.8L28.6 653.8L20.4 653.0L25.8 646.8L23.1 650.7L34.8 646.0Z"/>
<path d="M50.1 648.1L38.7 652.7L43.3 653.7L35.1 653.0L40.4 646.7L37.8 650.6L49.2 646.0Z"/>
<path d="M64.4 648.1L53.4 652.7L58.0 653.6L49.8 652.9L55.1 646.6L52.5 650.5L63.6 646.0Z"/>
<path d="M78.8 648.1L68.1 652.6L72.8 653.5L64.6 652.9L69.8 646.5L67.2 650.5L77.9 646.0Z"/>
<path d="M93.2 648.1L82.9 652.5L87.5 653.4L79.3 652.8L84.5 646.4L81.9 650.4L92.3 646.0Z"/>
<path d="M107.6 648.1L97.6 652.5L102.2 653.3L94.0 652.8L99.2 646.4L96.6 650.4L106.7 646.0Z"/>
<path d="M122.0 648.1L112.3 652.4L116.9 653.2L108.7 652.7L113.8 646.3L111.3 650.3L121.0 646.0Z"/>
<path d="M136.3 648.1L128.5 651.6L133.1 652.4L124.9 651.9L130.0 645.5L127.6 649.5L135.4 646.0Z"/>
<path d="M150.7 648.1L143.8 651.2L148.4 652.0L140.2 651.5L145.3 645.1L142.8 649.1L149.8 646.0Z"/>
<path d="M165.1 648.1L159.9 650.3L164.5 651.2L156.3 650.5L161.6 644.2L159.0 648.2L164.2 646.0Z"/>
<path d="M179.4 648.1L175.9 649.3L180.2 650.4L172.4 649.4L177.8 643.6L175.1 647.3L178.6 646.0Z"/>
<path d="M193.5 647.5L192.0 648.0L193.9 648.5L190.6 648.1L192.8 645.6L191.7 647.1L193.2 646.6Z"/>
<path d="M208.0 647.0L208.0 647.8L208.5 647.0L207.8 648.5L207.0 647.0L207.5 647.8L207.5 647.0Z"/>
<path d="M222.5 646.7L223.6 647.8L223.2 645.9L224.2 649.1L221.0 648.1L222.9 648.5L221.8 647.4Z"/>
<path d="M237.0 646.6L238.4 648.3L238.1 645.7L239.1 650.1L234.9 648.4L237.4 649.1L236.0 647.4Z"/>
<path d="M251.4 646.4L253.4 648.1L252.5 645.0L254.7 650.2L249.2 649.0L252.4 649.3L250.4 647.6Z"/>
<path d="M265.8 646.1L269.0 647.9L267.1 643.9L271.3 650.5L263.4 650.2L267.9 649.8L264.7 648.0Z"/>
<path d="M280.1 646.1L283.4 647.8L281.3 643.8L285.8 650.3L277.9 650.2L282.4 649.8L279.1 648.0Z"/>
<path d="M35.5 662.5L23.4 665.8L27.8 667.3L19.8 665.6L25.9 660.0L22.8 663.6L35.0 660.3Z"/>
<path d="M49.9 662.5L38.0 665.6L42.5 667.2L34.4 665.3L40.6 659.8L37.5 663.3L49.3 660.3Z"/>
<path d="M64.3 662.5L52.7 665.3L57.1 667.0L49.1 665.0L55.3 659.6L52.1 663.1L63.7 660.3Z"/>
<path d="M78.6 662.5L67.3 665.1L71.7 666.8L63.8 664.7L70.0 659.4L66.8 662.8L78.1 660.3Z"/>
<path d="M93.0 662.5L82.0 664.9L86.3 666.6L78.4 664.4L84.8 659.2L81.5 662.6L92.5 660.3Z"/>
<path d="M107.3 662.6L96.6 664.6L100.9 666.5L93.1 664.1L99.5 659.0L96.2 662.4L106.9 660.3Z"/>
<path d="M121.7 662.6L111.3 664.4L115.6 666.3L107.7 663.9L114.2 658.8L110.9 662.1L121.3 660.3Z"/>
<path d="M136.1 662.6L126.6 664.2L130.9 666.2L123.1 663.7L129.6 658.7L126.2 662.0L135.7 660.3Z"/>
<path d="M150.5 662.5L143.1 664.1L147.4 665.9L139.5 663.7L145.8 658.5L142.6 661.9L150.0 660.3Z"/>
<path d="M164.9 662.5L159.4 663.8L163.8 665.5L155.9 663.4L162.1 658.1L158.9 661.6L164.4 660.3Z"/>
<path d="M179.2 662.3L176.1 663.2L179.8 664.4L173.2 663.0L178.2 658.4L175.7 661.3L178.8 660.5Z"/>
<path d="M193.6 661.8L192.3 662.7L194.3 662.7L190.9 663.1L192.5 660.1L191.8 662.0L193.1 661.0Z"/>
<path d="M208.0 661.5L207.7 662.3L208.5 661.7L207.2 662.8L207.0 661.2L207.3 662.1L207.5 661.3Z"/>
<path d="M222.3 661.3L222.7 662.0L222.8 661.0L222.9 662.7L221.4 661.8L222.3 662.2L221.9 661.5Z"/>
<path d="M237.0 661.1L238.1 663.0L238.3 660.4L238.5 664.9L234.7 662.5L237.0 663.6L236.0 661.7Z"/>
<path d="M251.5 660.8L253.8 663.0L253.1 659.2L255.1 665.7L248.7 663.6L252.5 664.4L250.2 662.1Z"/>
<path d="M265.9 660.5L269.7 663.1L268.0 658.7L271.8 666.0L263.6 664.9L268.4 665.0L264.6 662.4Z"/>
<path d="M280.3 660.5L284.1 663.0L282.3 658.6L286.3 665.8L278.1 665.0L282.9 664.9L279.0 662.4Z"/>
<path d="M35.3 677.0L20.7 677.2L24.6 679.8L17.3 676.1L24.5 672.2L20.6 674.9L35.2 674.7Z"/>
<path d="M49.6 677.0L35.7 677.2L39.7 679.8L32.3 676.1L39.5 672.2L35.7 674.9L49.6 674.7Z"/>
<path d="M64.0 677.0L50.8 677.2L54.7 679.8L47.3 676.1L54.6 672.2L50.7 674.9L64.0 674.7Z"/>
<path d="M78.4 677.0L65.8 677.2L69.7 679.8L62.4 676.1L69.6 672.2L65.8 674.9L78.4 674.7Z"/>
<path d="M92.8 677.0L80.8 677.2L84.8 679.8L77.4 676.1L84.7 672.2L80.8 674.9L92.7 674.7Z"/>
<path d="M107.1 677.0L95.9 677.2L99.8 679.8L92.5 676.1L99.7 672.2L95.8 674.9L107.1 674.7Z"/>
<path d="M121.5 677.0L110.9 677.2L114.9 679.7L107.5 676.1L114.7 672.1L110.9 674.9L121.5 674.7Z"/>
<path d="M135.9 677.0L127.3 677.1L131.2 679.7L123.9 676.0L131.1 672.1L127.3 674.8L135.9 674.7Z"/>
<path d="M150.3 677.0L143.7 677.2L147.7 679.7L140.3 676.2L147.4 672.1L143.6 674.9L150.2 674.7Z"/>
<path d="M164.7 677.0L160.1 677.2L164.1 679.7L156.6 676.2L163.7 672.1L160.0 674.9L164.6 674.7Z"/>
<path d="M179.1 676.8L175.9 677.0L179.3 678.9L173.0 676.3L178.7 672.7L175.7 675.2L178.9 674.9Z"/>
<path d="M193.8 676.3L192.3 677.8L194.8 677.3L190.5 678.7L191.9 674.4L191.4 676.9L192.9 675.4Z"/>
<path d="M208.0 675.9L207.7 676.7L208.5 676.1L207.2 677.2L207.0 675.6L207.3 676.5L207.5 675.7Z"/>
<path d="M222.3 675.7L222.6 676.5L222.9 675.6L222.6 677.2L221.4 676.1L222.2 676.7L221.9 675.9Z"/>
<path d="M237.0 675.5L238.1 677.4L238.3 674.8L238.5 679.3L234.7 676.9L237.0 678.0L236.0 676.1Z"/>
<path d="M251.5 675.2L253.8 677.4L253.1 673.6L255.1 680.1L248.7 678.0L252.5 678.8L250.2 676.5Z"/>
<path d="M266.0 674.9L269.5 677.9L268.2 673.4L271.4 681.0L263.3 679.2L268.0 679.7L264.5 676.7Z"/>
<path d="M280.3 674.9L284.0 677.7L282.5 673.3L285.9 680.7L277.8 679.2L282.5 679.6L278.9 676.7Z"/>
<path d="M35.2 691.4L20.6 691.4L24.6 694.0L17.2 690.2L24.6 686.4L20.6 689.1L35.2 689.1Z"/>
<path d="M49.6 691.4L35.7 691.4L39.6 694.0L32.3 690.2L39.6 686.4L35.7 689.1L49.6 689.1Z"/>
<path d="M64.0 691.4L50.7 691.4L54.6 694.0L47.3 690.2L54.6 686.4L50.7 689.1L64.0 689.1Z"/>
<path d="M78.4 691.4L65.8 691.4L69.7 694.0L62.4 690.2L69.7 686.4L65.8 689.1L78.4 689.1Z"/>
<path d="M92.8 691.4L80.8 691.4L84.7 694.0L77.4 690.2L84.7 686.4L80.8 689.1L92.8 689.1Z"/>
<path d="M107.1 691.4L95.9 691.4L99.8 694.0L92.5 690.2L99.8 686.4L95.9 689.1L107.1 689.1Z"/>
<path d="M121.5 691.4L110.9 691.4L114.8 694.0L107.5 690.2L114.8 686.4L110.9 689.1L121.5 689.1Z"/>
<path d="M135.9 691.4L127.3 691.4L131.2 694.0L123.9 690.2L131.2 686.4L127.3 689.1L135.9 689.1Z"/>
<path d="M150.2 691.4L143.7 691.4L147.6 694.0L140.2 690.2L147.6 686.4L143.7 689.1L150.2 689.1Z"/>
<path d="M164.6 691.4L160.0 691.4L163.9 694.0L156.6 690.2L163.9 686.4L160.0 689.1L164.6 689.1Z"/>
<path d="M179.0 691.0L176.3 691.0L179.0 692.8L174.0 690.2L179.0 687.6L176.3 689.4L179.0 689.4Z"/>
<path d="M193.5 690.7L191.9 691.0L193.6 691.8L190.4 690.7L193.1 688.7L191.7 690.0L193.3 689.8Z"/>
<path d="M207.8 690.0L208.6 690.0L207.8 689.4L209.2 690.2L207.8 691.0L208.6 690.5L207.8 690.5Z"/>
<path d="M222.5 689.9L223.6 691.0L223.2 689.1L224.2 692.3L221.0 691.3L222.9 691.7L221.8 690.6Z"/>
<path d="M237.1 689.7L238.8 691.8L238.5 688.6L239.7 694.1L234.5 691.9L237.6 692.8L235.9 690.7Z"/>
<path d="M251.6 689.4L254.4 691.8L253.2 687.4L256.2 694.7L248.5 693.0L253.0 693.5L250.2 691.1Z"/>
<path d="M265.9 689.3L269.7 691.9L268.0 687.5L271.8 694.8L263.6 693.7L268.4 693.8L264.6 691.2Z"/>
<path d="M280.3 689.3L284.1 691.8L282.3 687.4L286.3 694.6L278.1 693.8L282.9 693.7L279.0 691.2Z"/>
<path d="M35.1 705.8L26.6 704.6L30.1 707.7L23.4 703.0L31.1 700.2L26.9 702.3L35.4 703.5Z"/>
<path d="M49.5 705.8L41.3 704.6L44.8 707.8L38.1 703.0L45.8 700.3L41.6 702.3L49.8 703.5Z"/>
<path d="M63.8 705.8L56.0 704.7L59.5 707.8L52.8 703.0L60.5 700.3L56.3 702.4L64.2 703.5Z"/>
<path d="M78.2 705.8L70.7 704.7L74.2 707.9L67.5 703.1L75.2 700.3L71.0 702.4L78.5 703.5Z"/>
<path d="M92.6 705.8L85.4 704.8L88.9 707.9L82.2 703.1L89.9 700.4L85.7 702.5L92.9 703.5Z"/>
<path d="M107.0 705.8L100.1 704.8L103.6 708.0L96.9 703.2L104.7 700.4L100.4 702.5L107.3 703.5Z"/>
<path d="M121.3 705.8L114.8 704.8L118.3 708.0L111.6 703.2L119.4 700.5L115.1 702.6L121.7 703.5Z"/>
<path d="M135.7 705.8L130.2 705.1L133.7 708.2L126.9 703.6L134.6 700.7L130.4 702.8L136.0 703.5Z"/>
<path d="M150.1 705.8L145.6 705.4L149.2 708.3L142.3 703.9L149.9 700.8L145.8 703.1L150.4 703.5Z"/>
<path d="M164.6 705.6L161.4 705.4L164.4 707.7L158.6 704.3L164.8 701.5L161.5 703.5L164.7 703.7Z"/>
<path d="M179.0 705.3L176.9 705.3L179.0 706.7L175.0 704.6L179.0 702.5L176.9 704.0L179.0 704.0Z"/>
<path d="M193.4 704.9L192.4 705.1L193.6 705.6L191.4 705.0L193.2 703.6L192.3 704.5L193.3 704.3Z"/>
<path d="M207.8 704.4L208.6 704.4L207.8 703.8L209.2 704.6L207.8 705.4L208.6 704.9L207.8 704.9Z"/>
<path d="M222.5 704.3L223.6 705.4L223.2 703.5L224.2 706.7L221.0 705.7L222.9 706.1L221.8 705.0Z"/>
<path d="M237.1 704.1L238.8 706.2L238.5 703.0L239.7 708.5L234.5 706.3L237.6 707.2L235.9 705.1Z"/>
<path d="M251.6 703.8L254.4 706.2L253.2 701.8L256.2 709.1L248.5 707.4L253.0 707.9L250.2 705.5Z"/>
<path d="M265.9 703.7L269.2 706.1L267.6 701.7L271.3 709.1L263.2 707.8L267.9 708.0L264.6 705.6Z"/>
<path d="M280.3 703.7L284.1 706.2L282.3 701.8L286.3 709.0L278.1 708.2L282.9 708.1L279.0 705.6Z"/></g>
<path d="M28.1 514.0L29.3 514.6L30.3 513.6L32.7 513.3L33.6 513.7L35.2 513.7L37.4 514.9L39.6 513.7L41.2 513.1L43.1 513.4L43.9 512.9L45.5 512.5L47.3 513.6L47.8 513.5L49.6 513.5L50.7 513.6L53.1 512.8L54.3 512.7L54.7 512.6L56.8 512.3L57.8 512.5L60.1 512.2L61.3 512.3L61.9 512.2L64.0 511.7L65.4 510.6L66.3 510.7L68.9 512.1L69.8 512.9L71.7 513.5L73.1 513.8L74.1 513.7L75.6 513.7L76.6 513.0L78.0 512.6L80.5 512.0L81.3 512.3L82.2 512.8L84.1 511.3L85.9 511.1L87.0 511.4L88.7 511.3L89.6 510.6L91.7 510.2L92.8 510.4L93.8 510.2L95.6 509.4L97.8 508.0L99.9 508.7L101.4 510.9L101.6 512.7L103.1 513.7L102.8 514.8L103.3 516.2L102.5 518.1L104.3 518.5L105.7 519.2L107.0 519.4L109.3 520.2L109.7 521.8L110.7 523.8L111.5 525.6L112.2 527.4L113.5 529.4L114.3 530.3L115.7 532.1L117.2 532.8L118.5 533.3L120.1 533.9L122.0 534.8L122.9 535.1L125.1 536.8L126.8 537.6L128.0 539.4L128.6 541.2L130.1 541.8L131.5 543.5L132.3 544.3L133.2 545.7L135.2 546.4L137.1 547.0L138.8 547.6L139.9 548.6L142.0 548.5L143.1 548.6L144.1 548.3L145.9 548.8L147.4 548.0L148.4 546.8L150.7 547.3L151.7 546.1L152.8 546.3L154.6 545.7L156.0 546.4L154.6 548.0L153.5 548.7L152.4 550.5L151.0 552.0L149.5 552.3L148.4 553.4L145.9 553.3L144.4 553.4L143.3 554.3L141.6 554.4L139.9 553.9L138.0 553.8L135.9 554.1L135.2 556.2L135.6 557.5L137.3 559.8L138.6 561.4L140.2 562.7L141.6 563.2L142.9 564.0L144.5 565.6L145.7 566.7L147.3 569.1L148.1 569.9L149.4 571.5L150.2 572.0L151.7 573.1L152.8 573.3L154.3 575.2L156.0 576.0L157.8 577.1L160.0 576.8L161.0 578.3L163.0 577.9L164.6 578.5L165.9 578.1L167.3 576.8L168.9 576.8L170.8 576.9L171.3 575.6L173.2 574.9L175.1 574.1L176.8 573.2L178.4 572.8L180.4 571.1L180.7 569.1L182.1 568.5L182.6 567.0L182.7 565.8L183.3 563.4L182.1 561.5L181.9 560.5L182.1 559.0L182.6 557.7L183.2 556.2L184.8 555.5L185.7 556.0L187.6 555.8L189.8 556.7L187.6 558.4L186.6 560.9L186.9 562.0L187.2 563.3L188.3 564.9L189.8 567.0L189.7 568.9L188.4 570.4L188.3 571.3L188.8 572.1L189.1 574.2L189.6 576.4L190.3 577.5L190.5 578.5L190.1 579.6L190.4 581.9L191.2 582.9L191.4 583.8L190.0 585.9L189.8 587.2L189.0 588.5L189.1 590.1L189.1 592.0L189.0 592.5L189.2 594.8L189.8 595.8L189.5 596.9L190.7 598.6L190.5 600.1L190.3 602.3L191.2 603.7L191.2 605.8L191.5 607.4L191.9 608.8L192.6 611.1L192.2 611.7L193.1 613.8L193.1 615.4L194.0 617.0L195.0 619.0L194.8 620.3L194.5 622.3L196.2 623.2L195.6 624.8L196.3 626.1L196.2 627.3L196.4 628.8L197.7 630.7L197.7 631.8L198.6 633.5L198.7 634.9L198.2 635.8L198.4 637.6L199.0 639.6L198.7 640.6L199.1 641.9L199.0 643.0L199.8 644.8L200.2 646.0L201.6 647.8L202.2 648.2L202.7 649.8L203.0 651.1L204.2 652.0L204.9 654.1L206.0 656.0L206.6 657.6L207.0 659.2L207.4 661.0L208.2 662.1L209.5 663.5L210.3 665.6L210.5 666.6L212.1 667.8L212.7 669.5L212.8 671.4L214.2 672.1L214.6 674.0L215.1 674.6L215.1 676.2L216.4 677.9L217.1 680.0L217.2 681.3L217.0 682.6L217.8 683.7L218.3 686.0L218.6 687.2L219.4 688.3L219.5 690.1L220.6 691.2L220.8 694.2L221.4 695.2L222.7 697.5L223.4 698.1L223.6 700.2L223.8 701.7L225.1 702.9L226.1 704.7L226.4 705.3L227.2 707.2L227.8 707.8L228.6 709.6M124.4 536.5L125.6 535.4L126.1 533.9L126.5 531.7L128.2 531.0L128.4 529.7L129.3 528.4L131.7 527.3L132.3 527.0L133.7 527.4L136.1 526.5L137.7 526.5L138.8 527.1L140.9 527.9L142.9 526.5L144.5 527.1L145.5 527.8L147.0 527.4L149.0 528.8L150.2 528.4L151.7 528.1L153.5 527.1L154.6 526.7L156.1 527.3L158.2 527.0L158.9 525.0L159.7 524.8L161.9 525.5L163.2 525.3L164.8 524.8L165.3 523.1L165.5 522.1L164.6 520.2L164.7 519.1L163.6 517.6L163.9 515.9L163.3 514.2L162.3 513.3L161.0 511.6L160.8 510.4L159.6 508.0L157.3 506.6L156.0 506.5L154.6 505.0L153.3 504.5L151.7 502.9L151.6 501.0L152.1 499.2L152.4 497.9M165.3 522.4L167.5 522.2L169.2 521.8L170.4 521.7L172.5 521.8L174.0 521.8L175.1 521.5L176.1 522.1L178.1 522.3L178.5 522.8L181.0 522.5L181.9 522.1L183.8 522.7L184.7 522.6L186.2 523.8L188.0 525.5L189.8 526.0L191.7 526.4L192.7 525.1L194.1 525.3L194.8 526.1L195.0 528.4L196.3 529.6L197.8 530.3L198.2 532.3L199.1 533.2L199.6 533.9L200.7 535.3L202.0 536.8L202.9 537.9L204.2 539.4L205.5 540.1L207.8 541.1L209.7 541.9L210.7 543.0L212.1 543.3L214.2 542.5M214.2 542.5L215.2 544.0L214.9 546.1L213.4 547.3L212.8 549.7L212.9 551.0L212.4 552.1L211.3 554.1L211.3 555.0L209.7 557.4L209.9 558.4L209.9 559.4L209.2 561.3L208.0 562.8L207.8 564.1L205.6 565.3L204.9 567.0L206.1 566.3L207.8 566.7L209.1 566.3L210.9 566.7L212.1 566.3L212.1 567.7L211.3 567.4L208.9 568.2L207.8 568.2L206.6 569.1L206.3 571.3L204.2 572.5L204.8 573.0L206.3 574.9L206.4 576.2L207.0 577.8L205.0 578.5L203.4 579.7L202.0 579.1L199.8 579.7L199.5 581.6L199.1 582.9L199.5 585.0L199.4 585.7L198.0 587.0L196.3 586.9L195.0 585.8L192.7 585.7L191.6 586.1L189.8 586.8M214.2 542.5L214.7 541.8L217.2 540.8L217.8 538.9L218.0 538.1L218.8 535.9L219.2 534.6L219.4 533.6L220.4 531.1L221.4 529.6L221.0 528.3L220.3 525.8L220.7 524.5L220.9 523.0L220.0 520.9L221.7 520.3L222.1 518.8L223.9 518.4L225.7 518.1L226.4 520.2L228.6 520.7L229.8 520.9L230.7 520.7L231.8 522.1L233.6 522.4L233.4 524.5L234.5 526.0L234.7 526.6L234.3 528.1L232.7 529.8L232.2 531.0L230.4 531.5L228.6 532.5L230.3 533.3L232.2 533.2L233.2 532.2L235.2 530.6L236.5 530.3L237.4 529.9L239.3 528.5L240.8 528.1L242.2 528.2L244.7 528.8L245.1 528.6L247.3 528.1L248.5 527.1L249.0 525.0L250.2 523.8L251.1 522.6L252.6 521.0L252.2 519.1L253.8 518.1L253.3 517.1L251.6 515.2L250.2 516.2L248.7 515.9L247.2 514.0L246.2 513.7L245.1 512.3L244.5 511.3L244.0 510.1L244.4 508.0L246.0 506.6L246.1 506.2L248.0 504.4L250.1 503.8L250.4 503.3L252.5 504.0L253.8 503.7L254.6 502.9L256.6 500.8L257.3 499.8L258.4 497.9L259.5 496.5M283.9 512.3L282.3 512.1L281.6 511.2L280.3 511.0L278.2 510.1L276.5 510.5L274.8 510.9L273.9 512.3L272.5 510.0L271.7 508.7L270.6 509.7L269.6 511.6L270.0 512.7L270.7 514.3L271.7 515.9L270.3 518.0L270.0 519.4L268.1 520.2L267.9 521.3L269.6 524.2L269.6 525.3L269.7 526.7L269.9 528.3L271.0 529.6L273.1 528.8L274.0 529.2L275.3 528.1L277.2 526.4L278.9 526.0L279.0 524.3L278.2 522.8L277.5 521.7L275.6 521.1L275.3 519.2L273.9 518.1L275.3 517.2L275.9 515.7L276.8 514.5L278.5 515.3L279.6 514.5L281.1 515.2L281.8 515.1L283.9 514.5M212.1 567.0L213.3 566.6L215.2 565.9L216.4 565.3L218.4 565.4L219.4 565.0L221.4 565.6L222.6 566.7L223.7 566.4L225.8 567.6L226.4 568.5L227.7 568.6L230.2 568.8L230.9 568.7L232.9 568.5L234.0 569.7L235.0 570.5L236.7 571.1L237.9 571.3L239.0 572.3L240.8 572.8L242.1 572.0L243.8 571.5L245.1 569.9L245.4 569.0L247.0 566.8L248.0 566.3L248.8 565.2L250.4 565.1L252.7 564.2L253.3 563.6L255.2 563.4L256.0 564.6L258.7 565.0L259.5 566.3L260.8 565.6L262.4 564.1L263.7 565.5L265.9 567.0L266.7 567.7L268.6 567.1L269.2 566.9L271.7 567.2L272.4 567.0L273.8 566.7L275.7 566.2L277.3 565.4L278.9 565.6L280.3 564.7L282.2 565.8L283.3 565.0L285.4 564.9M258.8 613.1L260.2 612.1L261.4 610.8L261.7 608.8L262.2 607.6L261.4 605.2L260.7 604.1L260.9 602.3L261.6 600.6L263.3 599.6L264.5 598.7L266.2 597.4L268.0 597.3L269.6 596.5L270.9 594.9L271.5 594.3L272.4 592.2L274.6 593.0L275.2 592.2L276.4 593.0L278.2 592.9L279.1 593.1L281.3 592.6L281.9 591.2L283.9 591.5M212.1 650.5L211.5 649.1L211.8 647.5L211.3 646.2L211.7 644.5L212.9 642.9L212.7 641.7L213.5 639.7L214.7 638.6L216.9 637.2L217.8 636.1L219.9 634.9L221.4 634.0L222.8 632.8L224.2 633.2L226.4 632.5L227.8 632.4L229.1 631.7L231.5 631.1L232.0 629.3L230.6 627.7L231.3 626.2L230.7 625.3L231.8 625.2L232.9 626.3L235.0 626.6L236.5 626.8L238.0 626.5L239.1 627.4L240.1 626.9L242.3 626.8L243.6 625.4L243.5 623.8L245.1 622.3L245.1 621.7L246.0 621.0L247.5 618.7L249.4 618.1L251.2 616.9L252.0 615.8L253.0 614.5L254.7 613.4L255.2 613.1L256.6 611.7L258.8 613.1M203.2 650.3L204.8 650.5L206.3 649.4L207.8 650.6L209.2 651.3L210.7 651.2L212.1 650.5L211.9 651.4L211.1 654.0L211.0 655.4L211.3 656.3L212.1 658.2L212.1 658.8L212.1 660.6L210.7 660.9L209.2 662.1M258.8 613.1L258.2 615.0L258.3 616.5L258.5 617.5L258.1 618.9L258.7 620.2L258.8 622.0L259.8 623.9L259.5 624.6L259.1 625.6L258.8 628.1L258.4 628.5L257.3 630.4L257.5 631.8L257.1 633.1L256.9 634.9L256.3 637.0L256.1 638.3L255.2 639.7L256.7 641.5L258.1 641.9L257.2 643.6L257.8 644.8L257.3 646.9L256.1 647.4L254.3 648.5L252.3 648.4L252.4 649.9L252.6 651.5L251.7 652.8L252.7 654.5L252.9 655.9L252.3 657.7L250.7 658.8L249.0 659.5L248.0 660.6L247.5 662.1L248.9 663.4L248.5 665.3L248.7 666.4L248.8 668.6L250.2 670.0L252.3 670.7L253.0 672.2L252.2 673.5L253.0 675.0L254.8 675.4L255.9 676.1L257.3 675.7L256.5 673.8L256.6 672.1L255.0 672.0L254.4 672.2L252.3 671.4L251.6 673.2L252.6 674.7L252.0 675.7L252.3 677.2L253.6 677.5L255.4 678.4L256.5 678.1L258.1 679.3L259.5 678.7L261.7 679.4L261.8 679.1L263.3 678.0L264.9 678.8L266.7 677.9L267.6 678.7L268.9 680.3L270.3 681.5L270.9 682.2L272.3 684.7L273.2 685.8L272.0 688.0L271.4 688.6L271.0 690.9L269.0 691.0L268.8 692.7L266.7 693.0L264.6 693.6L263.1 693.3L262.4 693.7L261.7 695.4L261.6 696.0L260.2 698.1L260.2 699.3L260.4 700.8L259.5 702.4L260.4 703.7L260.4 704.8L261.4 707.4L261.7 708.1M257.3 646.9L258.4 647.3L260.1 647.3L261.6 646.3L263.8 646.9L265.1 646.2L266.7 645.5L268.5 646.0L269.0 644.9L270.9 645.5L272.8 645.2L273.9 644.8L274.8 645.2L276.7 644.9L277.6 644.1L279.6 644.1L281.2 644.2L282.0 643.6L283.3 643.5L285.4 642.6M271.0 690.9L272.6 690.1L273.9 688.7L275.2 688.1L277.2 688.9L278.2 688.0L280.0 687.0L280.5 687.8L283.0 686.7L283.9 686.5M193.4 584.6L194.8 583.9L196.0 585.0L195.1 586.9L193.4 586.9L192.7 585.7L193.4 584.6" fill="none" stroke="#000" stroke-width="1.0" stroke-linejoin="round"/><circle cx="120.8" cy="534.2" r="1.3" fill="#000"/><circle cx="123.7" cy="535.6" r="1.2" fill="#000"/><circle cx="117.9" cy="532.5" r="0.9" fill="#000"/><circle cx="125.8" cy="537.5" r="0.9" fill="#000"/><circle cx="98.2" cy="508.3" r="1.3" fill="#000"/><circle cx="183.0" cy="563.9" r="1.2" fill="#000"/><circle cx="185.5" cy="556.2" r="0.9" fill="#000"/><circle cx="38.1" cy="514.9" r="0.9" fill="#000"/><circle cx="204.2" cy="652.0" r="0.8" fill="#000"/><circle cx="64.7" cy="510.9" r="0.8" fill="#000"/><circle cx="78.4" cy="513.0" r="0.7" fill="#000"/>
</g>
<rect x="34.25" y="14.25" width="246.25" height="202.2" fill="none" stroke="#000" stroke-width="0.8"/>
<text x="29.9" y="47.0" font-size="12.2" text-anchor="end">24°N</text>
<text x="29.9" y="75.8" font-size="12.2" text-anchor="end">22°N</text>
<text x="29.9" y="104.6" font-size="12.2" text-anchor="end">20°N</text>
<text x="29.9" y="133.4" font-size="12.2" text-anchor="end">18°N</text>
<text x="29.9" y="162.2" font-size="12.2" text-anchor="end">16°N</text>
<text x="29.9" y="191.0" font-size="12.2" text-anchor="end">14°N</text>
<rect x="34.25" y="258.3" width="246.25" height="202.2" fill="none" stroke="#000" stroke-width="0.8"/>
<text x="29.9" y="291.0" font-size="12.2" text-anchor="end">24°N</text>
<text x="29.9" y="319.8" font-size="12.2" text-anchor="end">22°N</text>
<text x="29.9" y="348.6" font-size="12.2" text-anchor="end">20°N</text>
<text x="29.9" y="377.4" font-size="12.2" text-anchor="end">18°N</text>
<text x="29.9" y="406.2" font-size="12.2" text-anchor="end">16°N</text>
<text x="29.9" y="435.0" font-size="12.2" text-anchor="end">14°N</text>
<rect x="34.25" y="502.8" width="246.25" height="202.2" fill="none" stroke="#000" stroke-width="0.8"/>
<text x="29.9" y="535.5" font-size="12.2" text-anchor="end">24°N</text>
<text x="29.9" y="564.3" font-size="12.2" text-anchor="end">22°N</text>
<text x="29.9" y="593.1" font-size="12.2" text-anchor="end">20°N</text>
<text x="29.9" y="621.9" font-size="12.2" text-anchor="end">18°N</text>
<text x="29.9" y="650.7" font-size="12.2" text-anchor="end">16°N</text>
<text x="29.9" y="679.5" font-size="12.2" text-anchor="end">14°N</text>
<text x="63.8" y="718.1" font-size="12.2" text-anchor="middle">64°E</text>
<text x="121.3" y="718.1" font-size="12.2" text-anchor="middle">68°E</text>
<text x="178.8" y="718.1" font-size="12.2" text-anchor="middle">72°E</text>
<text x="236.3" y="718.1" font-size="12.2" text-anchor="middle">76°E</text>
<text x="34.6" y="10.2" font-size="8.15">(a) JJAS V_Shear<tspan font-size="6.1" dy="1.6">(200 − 850)</tspan><tspan dy="-1.6"> &amp; Rot winds</tspan><tspan font-size="6.1" dy="1.6">200</tspan></text>
<text x="34.6" y="254.3" font-size="8.15" xml:space="preserve">(c) JJAS  [V &amp; U,V]<tspan font-size="6.1" dy="1.6">850</tspan></text>
<text x="34.6" y="498.0" font-size="8.15" xml:space="preserve">(e) JJAS  Div &amp; Div winds<tspan font-size="6.1" dy="1.6">200</tspan></text>
<path d="M217.0 4.3L228.2 4.3L224.3 1.5L231.6 5.3L224.3 9.1L228.2 6.3L217.0 6.3Z" fill="#00b8c8" stroke="#2a2af0" stroke-width="0.38"/>
<text x="238.2" y="8.3" font-size="8.25">0.3 (<tspan font-style="italic">ms</tspan><tspan font-size="6.1" dy="-3.1">−1</tspan><tspan dy="3.1">)/decade</tspan></text>
<path d="M212.0 248.3L228.2 248.3L224.3 245.5L231.6 249.3L224.3 253.1L228.2 250.3L212.0 250.3Z" fill="#00b8c8" stroke="#2a2af0" stroke-width="0.38"/>
<text x="238.2" y="252.3" font-size="8.25">0.4 (<tspan font-style="italic">ms</tspan><tspan font-size="6.1" dy="-3.1">−1</tspan><tspan dy="3.1">)/decade</tspan></text>
<path d="M207.3 491.8L228.2 491.8L224.3 489.0L231.6 492.8L224.3 496.6L228.2 493.8L207.3 493.8Z" fill="#00b8c8" stroke="#2a2af0" stroke-width="0.38"/>
<text x="238.2" y="495.8" font-size="8.25">0.2 (<tspan font-style="italic">ms</tspan><tspan font-size="6.1" dy="-3.1">−1</tspan><tspan dy="3.1">)/decade</tspan></text>
<rect x="285.6" y="34.30" width="8.599999999999966" height="9.36" fill="#8c3d2e"/>
<rect x="285.6" y="43.36" width="8.599999999999966" height="9.36" fill="#a4432f"/>
<rect x="285.6" y="52.42" width="8.599999999999966" height="9.36" fill="#bf4a33"/>
<rect x="285.6" y="61.48" width="8.599999999999966" height="9.36" fill="#d4533a"/>
<rect x="285.6" y="70.54" width="8.599999999999966" height="9.36" fill="#e55c40"/>
<rect x="285.6" y="79.61" width="8.599999999999966" height="9.36" fill="#ec7560"/>
<rect x="285.6" y="88.67" width="8.599999999999966" height="9.36" fill="#f39b8b"/>
<rect x="285.6" y="97.73" width="8.599999999999966" height="9.36" fill="#f9c1b8"/>
<rect x="285.6" y="106.79" width="8.599999999999966" height="9.36" fill="#fde3df"/>
<rect x="285.6" y="115.85" width="8.599999999999966" height="9.36" fill="#ededf4"/>
<rect x="285.6" y="124.91" width="8.599999999999966" height="9.36" fill="#cfdeec"/>
<rect x="285.6" y="133.97" width="8.599999999999966" height="9.36" fill="#b3cee5"/>
<rect x="285.6" y="143.03" width="8.599999999999966" height="9.36" fill="#8fb9dc"/>
<rect x="285.6" y="152.09" width="8.599999999999966" height="9.36" fill="#6ea5d0"/>
<rect x="285.6" y="161.16" width="8.599999999999966" height="9.36" fill="#6198c0"/>
<rect x="285.6" y="170.22" width="8.599999999999966" height="9.36" fill="#5a89ad"/>
<rect x="285.6" y="179.28" width="8.599999999999966" height="9.36" fill="#527b9b"/>
<rect x="285.6" y="188.34" width="8.599999999999966" height="9.36" fill="#4a6e8b"/>
<rect x="285.6" y="34.3" width="8.599999999999966" height="163.10000000000002" fill="none" stroke="#000" stroke-opacity="0.55" stroke-width="0.6"/>
<path d="M294.2 43.519999999999996h3" stroke="#000" stroke-width="0.7"/>
<text x="299.59999999999997" y="47.019999999999996" font-size="8.3">0.8</text>
<path d="M294.2 61.64000000000001h3" stroke="#000" stroke-width="0.7"/>
<text x="299.59999999999997" y="65.14000000000001" font-size="8.3">0.6</text>
<path d="M294.2 79.75999999999999h3" stroke="#000" stroke-width="0.7"/>
<text x="299.59999999999997" y="83.25999999999999" font-size="8.3">0.4</text>
<path d="M294.2 97.88h3" stroke="#000" stroke-width="0.7"/>
<text x="299.59999999999997" y="101.38" font-size="8.3">0.2</text>
<path d="M294.2 116.0h3" stroke="#000" stroke-width="0.7"/>
<text x="299.59999999999997" y="119.5" font-size="8.3">0.0</text>
<path d="M294.2 134.12h3" stroke="#000" stroke-width="0.7"/>
<text x="299.59999999999997" y="137.62" font-size="8.3">−0.2</text>
<path d="M294.2 152.24h3" stroke="#000" stroke-width="0.7"/>
<text x="299.59999999999997" y="155.74" font-size="8.3">−0.4</text>
<path d="M294.2 170.35999999999999h3" stroke="#000" stroke-width="0.7"/>
<text x="299.59999999999997" y="173.85999999999999" font-size="8.3">−0.6</text>
<path d="M294.2 188.48000000000002h3" stroke="#000" stroke-width="0.7"/>
<text x="299.59999999999997" y="191.98000000000002" font-size="8.3">−0.8</text>
<text transform="translate(329.5 116) rotate(-90)" font-size="8.15" text-anchor="middle">V_Shear<tspan font-size="6.1" dy="1.6">(200 − 850)</tspan><tspan dy="-1.6"> (</tspan><tspan font-style="italic">m/s/km</tspan>)/decade</text>
<path d="M285.6 286.2L289.70000000000005 278.3L293.8 286.2Z" fill="#8f2a5b"/>
<path d="M285.6 433.7L289.70000000000005 441.7L293.8 433.7Z" fill="#5f7b7b"/>
<rect x="285.6" y="286.00" width="8.199999999999989" height="7.69" fill="#a12a65"/>
<rect x="285.6" y="293.39" width="8.199999999999989" height="7.69" fill="#b42d6d"/>
<rect x="285.6" y="300.79" width="8.199999999999989" height="7.69" fill="#c53175"/>
<rect x="285.6" y="308.19" width="8.199999999999989" height="7.69" fill="#d6347d"/>
<rect x="285.6" y="315.58" width="8.199999999999989" height="7.69" fill="#e53a86"/>
<rect x="285.6" y="322.98" width="8.199999999999989" height="7.69" fill="#ee4f92"/>
<rect x="285.6" y="330.37" width="8.199999999999989" height="7.69" fill="#f26ba3"/>
<rect x="285.6" y="337.76" width="8.199999999999989" height="7.69" fill="#f48bb8"/>
<rect x="285.6" y="345.16" width="8.199999999999989" height="7.69" fill="#f7b4d1"/>
<rect x="285.6" y="352.56" width="8.199999999999989" height="7.69" fill="#fbdce9"/>
<rect x="285.6" y="359.95" width="8.199999999999989" height="7.69" fill="#e0eaea"/>
<rect x="285.6" y="367.34" width="8.199999999999989" height="7.69" fill="#cfe0e0"/>
<rect x="285.6" y="374.74" width="8.199999999999989" height="7.69" fill="#bcd6d6"/>
<rect x="285.6" y="382.13" width="8.199999999999989" height="7.69" fill="#a9cccc"/>
<rect x="285.6" y="389.53" width="8.199999999999989" height="7.69" fill="#99c2c2"/>
<rect x="285.6" y="396.92" width="8.199999999999989" height="7.69" fill="#8db7b7"/>
<rect x="285.6" y="404.32" width="8.199999999999989" height="7.69" fill="#85abab"/>
<rect x="285.6" y="411.71" width="8.199999999999989" height="7.69" fill="#7c9f9f"/>
<rect x="285.6" y="419.11" width="8.199999999999989" height="7.69" fill="#739393"/>
<rect x="285.6" y="426.50" width="8.199999999999989" height="7.69" fill="#6a8787"/>
<path d="M285.6 286.0L289.70000000000005 278.3L293.8 286.0V433.9L289.70000000000005 441.7L285.6 433.9Z" fill="none" stroke="#000" stroke-opacity="0.55" stroke-width="0.6"/>
<path d="M293.8 293.29999999999995h3" stroke="#000" stroke-width="0.7"/>
<text x="299.2" y="296.79999999999995" font-size="8.3">0.27</text>
<path d="M293.8 315.5h3" stroke="#000" stroke-width="0.7"/>
<text x="299.2" y="319.0" font-size="8.3">0.18</text>
<path d="M293.8 337.7h3" stroke="#000" stroke-width="0.7"/>
<text x="299.2" y="341.2" font-size="8.3">0.09</text>
<path d="M293.8 359.9h3" stroke="#000" stroke-width="0.7"/>
<text x="299.2" y="363.4" font-size="8.3">0.00</text>
<path d="M293.8 382.09999999999997h3" stroke="#000" stroke-width="0.7"/>
<text x="299.2" y="385.59999999999997" font-size="8.3">−0.09</text>
<path d="M293.8 404.29999999999995h3" stroke="#000" stroke-width="0.7"/>
<text x="299.2" y="407.79999999999995" font-size="8.3">−0.18</text>
<path d="M293.8 426.5h3" stroke="#000" stroke-width="0.7"/>
<text x="299.2" y="430.0" font-size="8.3">−0.27</text>
<text transform="translate(335.8 360.2) rotate(-90)" font-size="8.3" text-anchor="middle"><tspan font-style="italic">V</tspan><tspan font-size="6.1" dy="1.6">850</tspan><tspan dy="-1.6"> (</tspan><tspan font-style="italic">ms</tspan><tspan font-size="6.1" dy="-3.1">−1</tspan><tspan dy="3.1">)/decade</tspan></text>
<path d="M285.6 530.7L289.70000000000005 522.8L293.8 530.7Z" fill="#8a3826"/>
<path d="M285.6 678.1999999999999L289.70000000000005 686.2L293.8 678.1999999999999Z" fill="#5f7b7b"/>
<rect x="285.6" y="530.50" width="8.199999999999989" height="7.69" fill="#a03f2c"/>
<rect x="285.6" y="537.89" width="8.199999999999989" height="7.69" fill="#b44631"/>
<rect x="285.6" y="545.29" width="8.199999999999989" height="7.69" fill="#c84e37"/>
<rect x="285.6" y="552.68" width="8.199999999999989" height="7.69" fill="#dc553c"/>
<rect x="285.6" y="560.08" width="8.199999999999989" height="7.69" fill="#ec6148"/>
<rect x="285.6" y="567.48" width="8.199999999999989" height="7.69" fill="#f07a65"/>
<rect x="285.6" y="574.87" width="8.199999999999989" height="7.69" fill="#f39484"/>
<rect x="285.6" y="582.26" width="8.199999999999989" height="7.69" fill="#f6aea2"/>
<rect x="285.6" y="589.66" width="8.199999999999989" height="7.69" fill="#f9c9c1"/>
<rect x="285.6" y="597.05" width="8.199999999999989" height="7.69" fill="#fce3de"/>
<rect x="285.6" y="604.45" width="8.199999999999989" height="7.69" fill="#e0eaea"/>
<rect x="285.6" y="611.85" width="8.199999999999989" height="7.69" fill="#cfe0e0"/>
<rect x="285.6" y="619.24" width="8.199999999999989" height="7.69" fill="#bcd6d6"/>
<rect x="285.6" y="626.63" width="8.199999999999989" height="7.69" fill="#a9cccc"/>
<rect x="285.6" y="634.03" width="8.199999999999989" height="7.69" fill="#99c2c2"/>
<rect x="285.6" y="641.42" width="8.199999999999989" height="7.69" fill="#8db7b7"/>
<rect x="285.6" y="648.82" width="8.199999999999989" height="7.69" fill="#85abab"/>
<rect x="285.6" y="656.21" width="8.199999999999989" height="7.69" fill="#7c9f9f"/>
<rect x="285.6" y="663.61" width="8.199999999999989" height="7.69" fill="#739393"/>
<rect x="285.6" y="671.00" width="8.199999999999989" height="7.69" fill="#6a8787"/>
<path d="M285.6 530.5L289.70000000000005 522.8L293.8 530.5V678.4L289.70000000000005 686.2L285.6 678.4Z" fill="none" stroke="#000" stroke-opacity="0.55" stroke-width="0.6"/>
<path d="M293.8 537.8h3" stroke="#000" stroke-width="0.7"/>
<text x="299.2" y="541.3" font-size="8.3">0.27</text>
<path d="M293.8 560.0h3" stroke="#000" stroke-width="0.7"/>
<text x="299.2" y="563.5" font-size="8.3">0.18</text>
<path d="M293.8 582.1999999999999h3" stroke="#000" stroke-width="0.7"/>
<text x="299.2" y="585.6999999999999" font-size="8.3">0.09</text>
<path d="M293.8 604.4h3" stroke="#000" stroke-width="0.7"/>
<text x="299.2" y="607.9" font-size="8.3">0.00</text>
<path d="M293.8 626.6h3" stroke="#000" stroke-width="0.7"/>
<text x="299.2" y="630.1" font-size="8.3">−0.09</text>
<path d="M293.8 648.8h3" stroke="#000" stroke-width="0.7"/>
<text x="299.2" y="652.3" font-size="8.3">−0.18</text>
<path d="M293.8 671.0h3" stroke="#000" stroke-width="0.7"/>
<text x="299.2" y="674.5" font-size="8.3">−0.27</text>
<text transform="translate(335.8 604.7) rotate(-90)" font-size="8.3" text-anchor="middle"><tspan font-style="italic">Div</tspan><tspan font-size="6.1" dy="1.6">200</tspan><tspan dy="-1.6"> 10</tspan><tspan font-size="6.1" dy="-3.1">−5</tspan><tspan dy="3.1"> (</tspan><tspan font-style="italic">s</tspan><tspan font-size="6.1" dy="-3.1">−1</tspan><tspan dy="3.1">)/decade</tspan></text>
<path d="M389.3 13.8V217.4H686" fill="none" stroke="#000" stroke-width="0.8"/>
<path d="M386.2 24.2H389.3" stroke="#000" stroke-width="0.7"/>
<text x="383.90000000000003" y="27.8" font-size="8.5" text-anchor="end">9</text>
<path d="M386.2 52.45H389.3" stroke="#000" stroke-width="0.7"/>
<text x="383.90000000000003" y="56.050000000000004" font-size="8.5" text-anchor="end">8</text>
<path d="M386.2 80.7H389.3" stroke="#000" stroke-width="0.7"/>
<text x="383.90000000000003" y="84.3" font-size="8.5" text-anchor="end">7</text>
<path d="M386.2 108.9H389.3" stroke="#000" stroke-width="0.7"/>
<text x="383.90000000000003" y="112.5" font-size="8.5" text-anchor="end">6</text>
<path d="M386.2 137.1H389.3" stroke="#000" stroke-width="0.7"/>
<text x="383.90000000000003" y="140.7" font-size="8.5" text-anchor="end">5</text>
<path d="M386.2 165.3H389.3" stroke="#000" stroke-width="0.7"/>
<text x="383.90000000000003" y="168.9" font-size="8.5" text-anchor="end">4</text>
<path d="M386.2 193.7H389.3" stroke="#000" stroke-width="0.7"/>
<text x="383.90000000000003" y="197.29999999999998" font-size="8.5" text-anchor="end">3</text>
<text x="389.6" y="8.8" font-size="8.15">(b)</text>
<path d="M403.0 128.0 L409.6 141.5 L416.1 134.0 L422.6 110.0 L429.2 99.0 L435.8 143.0 L442.3 162.0 L448.9 69.5 L455.4 109.0 L461.9 115.5 L468.5 164.5 L475.1 127.5 L481.6 110.0 L488.1 122.0 L494.7 110.0 L501.2 114.5 L507.8 208.0 L514.4 55.0 L520.9 88.5 L527.5 93.5 L534.0 85.0 L540.5 194.0 L547.1 116.0 L553.6 133.5 L560.2 131.0 L566.8 142.0 L573.3 86.5 L579.9 90.5 L586.4 136.0 L593.0 64.0 L599.5 136.0 L606.0 114.0 L612.6 69.5 L619.1 124.5 L625.7 172.0 L632.2 101.0 L638.8 110.5 L645.4 124.0 L651.9 122.5 L658.5 23.0 L665.0 77.0 L671.5 77.0" fill="none" stroke="#000" stroke-width="1.35" stroke-linejoin="round"/>
<circle cx="403.0" cy="128.0" r="2.9" fill="#000"/>
<circle cx="409.6" cy="141.5" r="2.9" fill="#000"/>
<circle cx="416.1" cy="134.0" r="2.9" fill="#000"/>
<circle cx="422.6" cy="110.0" r="2.9" fill="#000"/>
<circle cx="429.2" cy="99.0" r="2.9" fill="#000"/>
<circle cx="435.8" cy="143.0" r="2.9" fill="#000"/>
<circle cx="442.3" cy="162.0" r="2.9" fill="#000"/>
<circle cx="448.9" cy="69.5" r="2.9" fill="#000"/>
<circle cx="455.4" cy="109.0" r="2.9" fill="#000"/>
<circle cx="461.9" cy="115.5" r="2.9" fill="#000"/>
<circle cx="468.5" cy="164.5" r="2.9" fill="#000"/>
<circle cx="475.1" cy="127.5" r="2.9" fill="#000"/>
<circle cx="481.6" cy="110.0" r="2.9" fill="#000"/>
<circle cx="488.1" cy="122.0" r="2.9" fill="#000"/>
<circle cx="494.7" cy="110.0" r="2.9" fill="#000"/>
<circle cx="501.2" cy="114.5" r="2.9" fill="#000"/>
<circle cx="507.8" cy="208.0" r="2.9" fill="#000"/>
<circle cx="514.4" cy="55.0" r="2.9" fill="#000"/>
<circle cx="520.9" cy="88.5" r="2.9" fill="#000"/>
<circle cx="527.5" cy="93.5" r="2.9" fill="#000"/>
<circle cx="534.0" cy="85.0" r="2.9" fill="#000"/>
<circle cx="540.5" cy="194.0" r="2.9" fill="#000"/>
<circle cx="547.1" cy="116.0" r="2.9" fill="#000"/>
<circle cx="553.6" cy="133.5" r="2.9" fill="#000"/>
<circle cx="560.2" cy="131.0" r="2.9" fill="#000"/>
<circle cx="566.8" cy="142.0" r="2.9" fill="#000"/>
<circle cx="573.3" cy="86.5" r="2.9" fill="#000"/>
<circle cx="579.9" cy="90.5" r="2.9" fill="#000"/>
<circle cx="586.4" cy="136.0" r="2.9" fill="#000"/>
<circle cx="593.0" cy="64.0" r="2.9" fill="#000"/>
<circle cx="599.5" cy="136.0" r="2.9" fill="#000"/>
<circle cx="606.0" cy="114.0" r="2.9" fill="#000"/>
<circle cx="612.6" cy="69.5" r="2.9" fill="#000"/>
<circle cx="619.1" cy="124.5" r="2.9" fill="#000"/>
<circle cx="625.7" cy="172.0" r="2.9" fill="#000"/>
<circle cx="632.2" cy="101.0" r="2.9" fill="#000"/>
<circle cx="638.8" cy="110.5" r="2.9" fill="#000"/>
<circle cx="645.4" cy="124.0" r="2.9" fill="#000"/>
<circle cx="651.9" cy="122.5" r="2.9" fill="#000"/>
<circle cx="658.5" cy="23.0" r="2.9" fill="#000"/>
<circle cx="665.0" cy="77.0" r="2.9" fill="#000"/>
<circle cx="671.5" cy="77.0" r="2.9" fill="#000"/>
<path d="M403.0 131.2 L671.5 98.7" stroke="#f00" stroke-width="1.65" stroke-dasharray="6.1 2.6" fill="none"/>
<path d="M389.3 258.0V460.6H686" fill="none" stroke="#000" stroke-width="0.8"/>
<path d="M386.2 269.5H389.3" stroke="#000" stroke-width="0.7"/>
<text x="383.90000000000003" y="273.1" font-size="8.5" text-anchor="end">1.4</text>
<path d="M386.2 297.4H389.3" stroke="#000" stroke-width="0.7"/>
<text x="383.90000000000003" y="301.0" font-size="8.5" text-anchor="end">1.2</text>
<path d="M386.2 325.3H389.3" stroke="#000" stroke-width="0.7"/>
<text x="383.90000000000003" y="328.90000000000003" font-size="8.5" text-anchor="end">1.0</text>
<path d="M386.2 353.2H389.3" stroke="#000" stroke-width="0.7"/>
<text x="383.90000000000003" y="356.8" font-size="8.5" text-anchor="end">0.8</text>
<path d="M386.2 381.1H389.3" stroke="#000" stroke-width="0.7"/>
<text x="383.90000000000003" y="384.70000000000005" font-size="8.5" text-anchor="end">0.6</text>
<path d="M386.2 409.0H389.3" stroke="#000" stroke-width="0.7"/>
<text x="383.90000000000003" y="412.6" font-size="8.5" text-anchor="end">0.4</text>
<path d="M386.2 436.9H389.3" stroke="#000" stroke-width="0.7"/>
<text x="383.90000000000003" y="440.5" font-size="8.5" text-anchor="end">0.2</text>
<text x="389.6" y="253.0" font-size="8.15">(d)</text>
<path d="M403.0 355.5 L409.6 392.0 L416.1 380.5 L422.6 418.0 L429.2 371.5 L435.8 360.0 L442.3 344.0 L448.9 337.5 L455.4 363.5 L461.9 360.0 L468.5 403.0 L475.1 429.0 L481.6 387.5 L488.1 347.0 L494.7 356.5 L501.2 387.0 L507.8 281.5 L514.4 452.5 L520.9 279.5 L527.5 356.5 L534.0 357.0 L540.5 386.5 L547.1 267.0 L553.6 362.0 L560.2 362.0 L566.8 352.0 L573.3 307.0 L579.9 330.0 L586.4 391.0 L593.0 329.5 L599.5 349.0 L606.0 337.5 L612.6 294.0 L619.1 294.0 L625.7 374.0 L632.2 370.5 L638.8 348.5 L645.4 326.5 L651.9 311.0 L658.5 276.5 L665.0 388.0 L671.5 331.5" fill="none" stroke="#000" stroke-width="1.35" stroke-linejoin="round"/>
<circle cx="403.0" cy="355.5" r="2.9" fill="#000"/>
<circle cx="409.6" cy="392.0" r="2.9" fill="#000"/>
<circle cx="416.1" cy="380.5" r="2.9" fill="#000"/>
<circle cx="422.6" cy="418.0" r="2.9" fill="#000"/>
<circle cx="429.2" cy="371.5" r="2.9" fill="#000"/>
<circle cx="435.8" cy="360.0" r="2.9" fill="#000"/>
<circle cx="442.3" cy="344.0" r="2.9" fill="#000"/>
<circle cx="448.9" cy="337.5" r="2.9" fill="#000"/>
<circle cx="455.4" cy="363.5" r="2.9" fill="#000"/>
<circle cx="461.9" cy="360.0" r="2.9" fill="#000"/>
<circle cx="468.5" cy="403.0" r="2.9" fill="#000"/>
<circle cx="475.1" cy="429.0" r="2.9" fill="#000"/>
<circle cx="481.6" cy="387.5" r="2.9" fill="#000"/>
<circle cx="488.1" cy="347.0" r="2.9" fill="#000"/>
<circle cx="494.7" cy="356.5" r="2.9" fill="#000"/>
<circle cx="501.2" cy="387.0" r="2.9" fill="#000"/>
<circle cx="507.8" cy="281.5" r="2.9" fill="#000"/>
<circle cx="514.4" cy="452.5" r="2.9" fill="#000"/>
<circle cx="520.9" cy="279.5" r="2.9" fill="#000"/>
<circle cx="527.5" cy="356.5" r="2.9" fill="#000"/>
<circle cx="534.0" cy="357.0" r="2.9" fill="#000"/>
<circle cx="540.5" cy="386.5" r="2.9" fill="#000"/>
<circle cx="547.1" cy="267.0" r="2.9" fill="#000"/>
<circle cx="553.6" cy="362.0" r="2.9" fill="#000"/>
<circle cx="560.2" cy="362.0" r="2.9" fill="#000"/>
<circle cx="566.8" cy="352.0" r="2.9" fill="#000"/>
<circle cx="573.3" cy="307.0" r="2.9" fill="#000"/>
<circle cx="579.9" cy="330.0" r="2.9" fill="#000"/>
<circle cx="586.4" cy="391.0" r="2.9" fill="#000"/>
<circle cx="593.0" cy="329.5" r="2.9" fill="#000"/>
<circle cx="599.5" cy="349.0" r="2.9" fill="#000"/>
<circle cx="606.0" cy="337.5" r="2.9" fill="#000"/>
<circle cx="612.6" cy="294.0" r="2.9" fill="#000"/>
<circle cx="619.1" cy="294.0" r="2.9" fill="#000"/>
<circle cx="625.7" cy="374.0" r="2.9" fill="#000"/>
<circle cx="632.2" cy="370.5" r="2.9" fill="#000"/>
<circle cx="638.8" cy="348.5" r="2.9" fill="#000"/>
<circle cx="645.4" cy="326.5" r="2.9" fill="#000"/>
<circle cx="651.9" cy="311.0" r="2.9" fill="#000"/>
<circle cx="658.5" cy="276.5" r="2.9" fill="#000"/>
<circle cx="665.0" cy="388.0" r="2.9" fill="#000"/>
<circle cx="671.5" cy="331.5" r="2.9" fill="#000"/>
<path d="M403.0 380.0 L671.5 325.5" stroke="#f00" stroke-width="1.65" stroke-dasharray="6.1 2.6" fill="none"/>
<path d="M389.3 502.5V705.0H686" fill="none" stroke="#000" stroke-width="0.8"/>
<path d="M386.2 515.0H389.3" stroke="#000" stroke-width="0.7"/>
<text x="383.90000000000003" y="518.6" font-size="8.5" text-anchor="end">3.5</text>
<path d="M386.2 541.0H389.3" stroke="#000" stroke-width="0.7"/>
<text x="383.90000000000003" y="544.6" font-size="8.5" text-anchor="end">3.0</text>
<path d="M386.2 567.0H389.3" stroke="#000" stroke-width="0.7"/>
<text x="383.90000000000003" y="570.6" font-size="8.5" text-anchor="end">2.5</text>
<path d="M386.2 593.0H389.3" stroke="#000" stroke-width="0.7"/>
<text x="383.90000000000003" y="596.6" font-size="8.5" text-anchor="end">2.0</text>
<path d="M386.2 619.1H389.3" stroke="#000" stroke-width="0.7"/>
<text x="383.90000000000003" y="622.7" font-size="8.5" text-anchor="end">1.5</text>
<path d="M386.2 645.1H389.3" stroke="#000" stroke-width="0.7"/>
<text x="383.90000000000003" y="648.7" font-size="8.5" text-anchor="end">1.0</text>
<path d="M386.2 671.2H389.3" stroke="#000" stroke-width="0.7"/>
<text x="383.90000000000003" y="674.8000000000001" font-size="8.5" text-anchor="end">0.5</text>
<path d="M386.2 697.2H389.3" stroke="#000" stroke-width="0.7"/>
<text x="383.90000000000003" y="700.8000000000001" font-size="8.5" text-anchor="end">0.0</text>
<text x="389.6" y="497.5" font-size="8.15">(f)</text>
<path d="M403.0 602.8 L409.6 616.8 L416.1 602.3 L422.6 643.8 L429.2 696.2 L435.8 662.7 L442.3 616.3 L448.9 589.3 L455.4 615.3 L461.9 671.7 L468.5 663.7 L475.1 633.3 L481.6 625.8 L488.1 655.7 L494.7 635.8 L501.2 661.7 L507.8 676.7 L514.4 573.9 L520.9 658.7 L527.5 649.8 L534.0 646.3 L540.5 644.3 L547.1 632.3 L553.6 641.8 L560.2 593.8 L566.8 610.8 L573.3 575.4 L579.9 638.8 L586.4 626.8 L593.0 537.9 L599.5 595.8 L606.0 648.8 L612.6 601.3 L619.1 641.8 L625.7 657.7 L632.2 617.8 L638.8 590.3 L645.4 649.8 L651.9 576.4 L658.5 511.0 L665.0 628.8 L671.5 556.9" fill="none" stroke="#000" stroke-width="1.35" stroke-linejoin="round"/>
<circle cx="403.0" cy="602.8" r="2.9" fill="#000"/>
<circle cx="409.6" cy="616.8" r="2.9" fill="#000"/>
<circle cx="416.1" cy="602.3" r="2.9" fill="#000"/>
<circle cx="422.6" cy="643.8" r="2.9" fill="#000"/>
<circle cx="429.2" cy="696.2" r="2.9" fill="#000"/>
<circle cx="435.8" cy="662.7" r="2.9" fill="#000"/>
<circle cx="442.3" cy="616.3" r="2.9" fill="#000"/>
<circle cx="448.9" cy="589.3" r="2.9" fill="#000"/>
<circle cx="455.4" cy="615.3" r="2.9" fill="#000"/>
<circle cx="461.9" cy="671.7" r="2.9" fill="#000"/>
<circle cx="468.5" cy="663.7" r="2.9" fill="#000"/>
<circle cx="475.1" cy="633.3" r="2.9" fill="#000"/>
<circle cx="481.6" cy="625.8" r="2.9" fill="#000"/>
<circle cx="488.1" cy="655.7" r="2.9" fill="#000"/>
<circle cx="494.7" cy="635.8" r="2.9" fill="#000"/>
<circle cx="501.2" cy="661.7" r="2.9" fill="#000"/>
<circle cx="507.8" cy="676.7" r="2.9" fill="#000"/>
<circle cx="514.4" cy="573.9" r="2.9" fill="#000"/>
<circle cx="520.9" cy="658.7" r="2.9" fill="#000"/>
<circle cx="527.5" cy="649.8" r="2.9" fill="#000"/>
<circle cx="534.0" cy="646.3" r="2.9" fill="#000"/>
<circle cx="540.5" cy="644.3" r="2.9" fill="#000"/>
<circle cx="547.1" cy="632.3" r="2.9" fill="#000"/>
<circle cx="553.6" cy="641.8" r="2.9" fill="#000"/>
<circle cx="560.2" cy="593.8" r="2.9" fill="#000"/>
<circle cx="566.8" cy="610.8" r="2.9" fill="#000"/>
<circle cx="573.3" cy="575.4" r="2.9" fill="#000"/>
<circle cx="579.9" cy="638.8" r="2.9" fill="#000"/>
<circle cx="586.4" cy="626.8" r="2.9" fill="#000"/>
<circle cx="593.0" cy="537.9" r="2.9" fill="#000"/>
<circle cx="599.5" cy="595.8" r="2.9" fill="#000"/>
<circle cx="606.0" cy="648.8" r="2.9" fill="#000"/>
<circle cx="612.6" cy="601.3" r="2.9" fill="#000"/>
<circle cx="619.1" cy="641.8" r="2.9" fill="#000"/>
<circle cx="625.7" cy="657.7" r="2.9" fill="#000"/>
<circle cx="632.2" cy="617.8" r="2.9" fill="#000"/>
<circle cx="638.8" cy="590.3" r="2.9" fill="#000"/>
<circle cx="645.4" cy="649.8" r="2.9" fill="#000"/>
<circle cx="651.9" cy="576.4" r="2.9" fill="#000"/>
<circle cx="658.5" cy="511.0" r="2.9" fill="#000"/>
<circle cx="665.0" cy="628.8" r="2.9" fill="#000"/>
<circle cx="671.5" cy="556.9" r="2.9" fill="#000"/>
<path d="M403.0 647.2 L671.5 599.8" stroke="#f00" stroke-width="1.65" stroke-dasharray="6.1 2.6" fill="none"/>
<text transform="translate(371.0 120.5) rotate(-90)" font-size="11.5" text-anchor="middle">V_Shear<tspan font-size="8" dy="1.8">200 − 850</tspan></text>
<text transform="translate(363.9 362.3) rotate(-90)" font-size="11.8" text-anchor="middle"><tspan font-style="italic">V</tspan><tspan font-size="8.4" dy="1.8">850</tspan></text>
<text transform="translate(364.0 606) rotate(-90)" font-size="11.7" text-anchor="middle"><tspan font-style="italic">Div</tspan><tspan font-size="8.4" dy="1.8">200</tspan><tspan dy="-1.8"> x 10</tspan><tspan font-size="8.4" dy="-4.2">−5</tspan></text>
<path d="M403.0 705v3.1" stroke="#000" stroke-width="0.7"/>
<text x="403.0" y="717.5" font-size="8.5" text-anchor="middle">1980</text>
<path d="M468.5 705v3.1" stroke="#000" stroke-width="0.7"/>
<text x="468.5" y="717.5" font-size="8.5" text-anchor="middle">1990</text>
<path d="M534.0 705v3.1" stroke="#000" stroke-width="0.7"/>
<text x="534.0" y="717.5" font-size="8.5" text-anchor="middle">2000</text>
<path d="M599.5 705v3.1" stroke="#000" stroke-width="0.7"/>
<text x="599.5" y="717.5" font-size="8.5" text-anchor="middle">2010</text>
<path d="M665.0 705v3.1" stroke="#000" stroke-width="0.7"/>
<text x="665.0" y="717.5" font-size="8.5" text-anchor="middle">2020</text>
<text x="537" y="731.5" font-size="11.4" text-anchor="middle">year</text>
<rect x="398.4" y="189" width="281.1" height="24.5" rx="1.6" fill="#fff" fill-opacity="0.8" stroke="#ccc" stroke-opacity="0.8" stroke-width="0.8"/>
<path d="M401.3 201.4h17.5" stroke="#000" stroke-width="1.2"/>
<circle cx="410.05" cy="201.4" r="2.9" fill="#000"/>
<text x="425.1" y="204.4" font-size="8.15">V_Shear<tspan font-size="6.0" dy="1.3">200 − 850</tspan><tspan dy="-1.3">((</tspan><tspan font-style="italic">ms</tspan><tspan font-size="5.7" dy="-3.1">−1</tspan><tspan dy="3.1" font-style="italic">/km</tspan>))</text>
<path d="M556.5 201.4h17" stroke="#f00" stroke-width="1.65" stroke-dasharray="6.1 2.6"/>
<text x="580.2" y="198.6" font-size="8.15">Trend(1982-2022)</text>
<text x="580.2" y="208.0" font-size="8.15" xml:space="preserve"> p=0.11,slope=-0.0023</text>
<rect x="468.4" y="433.3" width="211.10000000000002" height="24.5" rx="1.6" fill="#fff" fill-opacity="0.8" stroke="#ccc" stroke-opacity="0.8" stroke-width="0.8"/>
<path d="M471.5 445.6h17.5" stroke="#000" stroke-width="1.2"/>
<circle cx="480.25" cy="445.6" r="2.9" fill="#000"/>
<text x="495.5" y="448.6" font-size="8.15"><tspan font-style="italic">V</tspan><tspan font-size="6.0" dy="1.3">850</tspan><tspan dy="-1.3"> (</tspan><tspan font-style="italic">ms</tspan><tspan font-size="5.7" dy="-3.1">−1</tspan><tspan dy="3.1">)</tspan></text>
<path d="M560.5 445.6h17" stroke="#f00" stroke-width="1.65" stroke-dasharray="6.1 2.6"/>
<text x="584.0" y="443.0" font-size="8.15">Trend(1982-2022)</text>
<text x="584.0" y="452.3" font-size="8.15" xml:space="preserve"> p=0.007,slope=0.008</text>
<rect x="444.5" y="677.6" width="235.0" height="24.5" rx="1.6" fill="#fff" fill-opacity="0.8" stroke="#ccc" stroke-opacity="0.8" stroke-width="0.8"/>
<path d="M447.5 689.7h17.5" stroke="#000" stroke-width="1.2"/>
<circle cx="456.25" cy="689.7" r="2.9" fill="#000"/>
<text x="470.8" y="692.6" font-size="8.15"><tspan font-style="italic">Div</tspan><tspan font-size="6.0" dy="1.3">200</tspan><tspan dy="-1.3"> x 10</tspan><tspan font-size="5.7" dy="-3.1">−5</tspan><tspan dy="3.1"> (</tspan><tspan font-style="italic">s</tspan><tspan font-size="5.7" dy="-3.1">−1</tspan><tspan dy="3.1">)</tspan></text>
<path d="M565.0 689.7h17" stroke="#f00" stroke-width="1.65" stroke-dasharray="6.1 2.6"/>
<text x="588.5" y="687.0" font-size="8.15">Trend(1982-2022)</text>
<text x="588.5" y="696.4" font-size="8.15" xml:space="preserve"> p=0.037,slope=0.02</text>
</svg>
</body></html>
